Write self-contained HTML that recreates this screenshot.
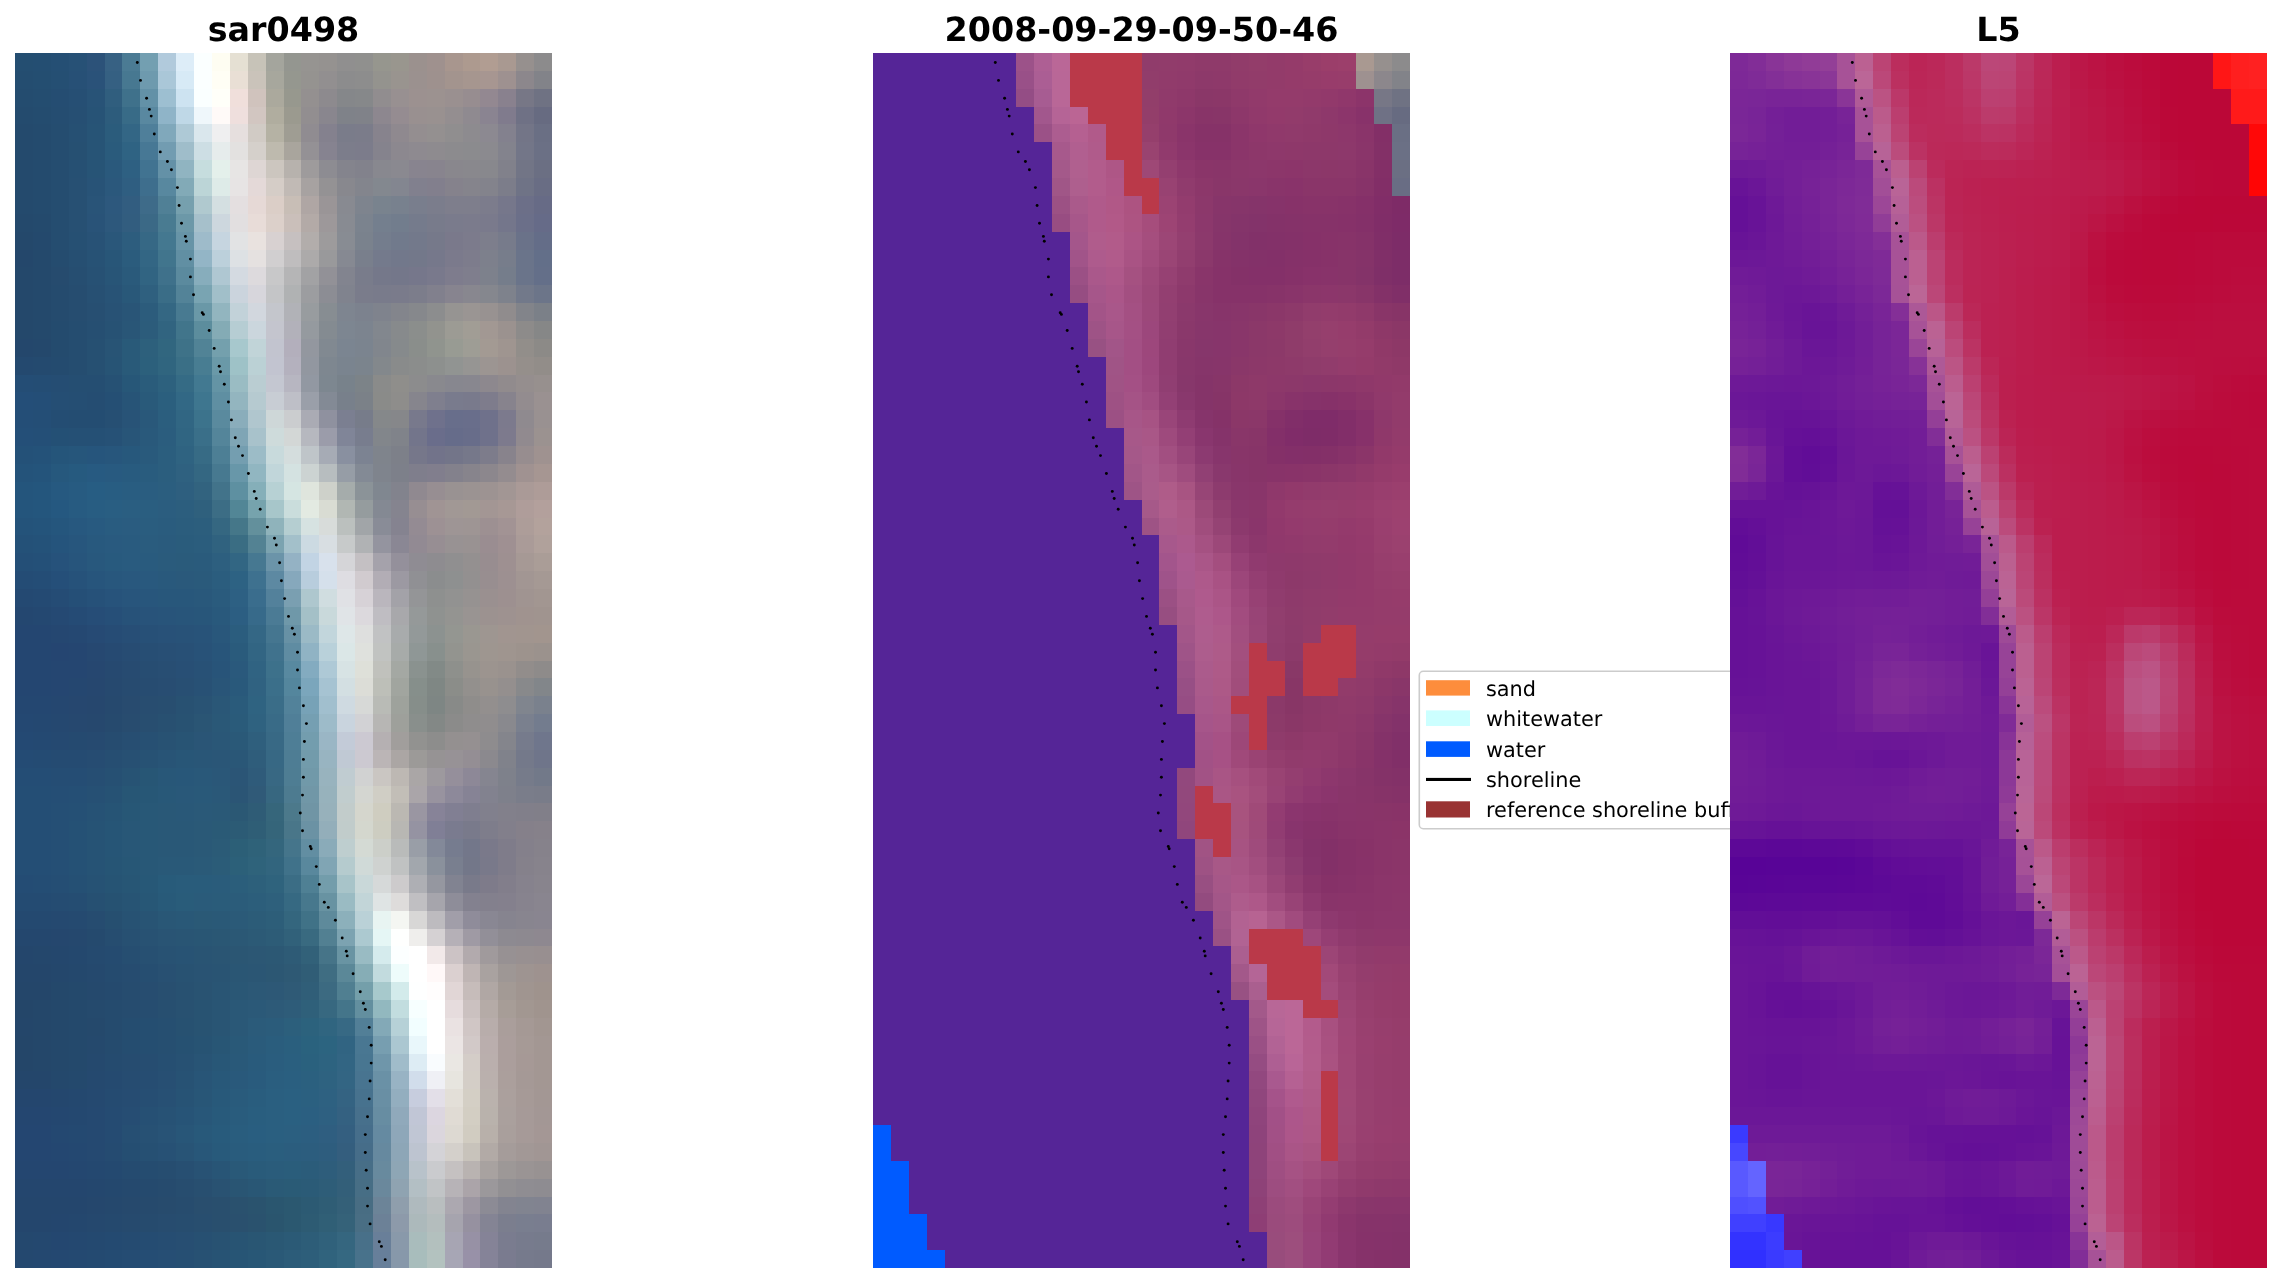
<!DOCTYPE html>
<html><head><meta charset="utf-8"><title>shoreline detection</title>
<style>html,body{margin:0;padding:0;background:#fff}body{width:2281px;height:1283px;overflow:hidden}svg{display:block;will-change:transform;text-rendering:geometricPrecision;-webkit-font-smoothing:antialiased}</style>
</head><body>
<svg width="2281" height="1283" viewBox="0 0 2281 1283">
<rect width="2281" height="1283" fill="#fff"/>
<g font-family="'DejaVu Sans','Liberation Sans',sans-serif" font-weight="bold" font-size="33.33" text-anchor="middle" fill="#000">
<text x="283.5" y="40.7">sar0498</text>
<text x="1141.5" y="40.7">2008-09-29-09-50-46</text>
<text x="1998.5" y="40.7">L5</text>
</g>
<g shape-rendering="crispEdges">
<rect x="15.00" y="53.00" width="18.20" height="18.17" fill="#244e71"/>
<rect x="32.90" y="53.00" width="18.20" height="18.17" fill="#244e72"/>
<rect x="50.80" y="53.00" width="18.20" height="18.17" fill="#254f74"/>
<rect x="68.70" y="53.00" width="18.20" height="18.17" fill="#275176"/>
<rect x="86.60" y="53.00" width="18.20" height="18.17" fill="#2c5279"/>
<rect x="104.50" y="53.00" width="18.20" height="18.17" fill="#376183"/>
<rect x="122.40" y="53.00" width="18.20" height="18.17" fill="#4b7b94"/>
<rect x="140.30" y="53.00" width="18.20" height="18.17" fill="#739fb1"/>
<rect x="158.20" y="53.00" width="18.20" height="18.17" fill="#b1cadc"/>
<rect x="176.10" y="53.00" width="18.20" height="18.17" fill="#ddedf8"/>
<rect x="194.00" y="53.00" width="18.20" height="18.17" fill="#fbffff"/>
<rect x="211.90" y="53.00" width="18.20" height="18.17" fill="#fefdf2"/>
<rect x="229.80" y="53.00" width="18.20" height="18.17" fill="#e5e0d3"/>
<rect x="247.70" y="53.00" width="18.20" height="18.17" fill="#c7c3b8"/>
<rect x="265.60" y="53.00" width="18.20" height="18.17" fill="#a4a59d"/>
<rect x="283.50" y="53.00" width="18.20" height="18.17" fill="#949690"/>
<rect x="301.40" y="53.00" width="18.20" height="18.17" fill="#969491"/>
<rect x="319.30" y="53.00" width="18.20" height="18.17" fill="#959290"/>
<rect x="337.20" y="53.00" width="18.20" height="18.17" fill="#908f8f"/>
<rect x="355.10" y="53.00" width="18.20" height="18.17" fill="#90908e"/>
<rect x="373.00" y="53.00" width="18.20" height="18.17" fill="#96968e"/>
<rect x="390.90" y="53.00" width="18.20" height="18.17" fill="#99968e"/>
<rect x="408.80" y="53.00" width="18.20" height="18.17" fill="#9b918e"/>
<rect x="426.70" y="53.00" width="18.20" height="18.17" fill="#9f918e"/>
<rect x="444.60" y="53.00" width="18.20" height="18.17" fill="#a8968e"/>
<rect x="462.50" y="53.00" width="18.20" height="18.17" fill="#ad9a8f"/>
<rect x="480.40" y="53.00" width="18.20" height="18.17" fill="#b19d92"/>
<rect x="498.30" y="53.00" width="18.20" height="18.17" fill="#a99991"/>
<rect x="516.20" y="53.00" width="18.20" height="18.17" fill="#96908e"/>
<rect x="534.10" y="53.00" width="17.90" height="18.17" fill="#8c8b8c"/>
<rect x="15.00" y="70.87" width="18.20" height="18.17" fill="#244d70"/>
<rect x="32.90" y="70.87" width="18.20" height="18.17" fill="#244e71"/>
<rect x="50.80" y="70.87" width="18.20" height="18.17" fill="#254f73"/>
<rect x="68.70" y="70.87" width="18.20" height="18.17" fill="#275076"/>
<rect x="86.60" y="70.87" width="18.20" height="18.17" fill="#2a5279"/>
<rect x="104.50" y="70.87" width="18.20" height="18.17" fill="#356082"/>
<rect x="122.40" y="70.87" width="18.20" height="18.17" fill="#477891"/>
<rect x="140.30" y="70.87" width="18.20" height="18.17" fill="#6e9aae"/>
<rect x="158.20" y="70.87" width="18.20" height="18.17" fill="#aac7d8"/>
<rect x="176.10" y="70.87" width="18.20" height="18.17" fill="#d7eaf6"/>
<rect x="194.00" y="70.87" width="18.20" height="18.17" fill="#fbffff"/>
<rect x="211.90" y="70.87" width="18.20" height="18.17" fill="#fffef5"/>
<rect x="229.80" y="70.87" width="18.20" height="18.17" fill="#e9dfd5"/>
<rect x="247.70" y="70.87" width="18.20" height="18.17" fill="#cac3ba"/>
<rect x="265.60" y="70.87" width="18.20" height="18.17" fill="#a7a79d"/>
<rect x="283.50" y="70.87" width="18.20" height="18.17" fill="#95978f"/>
<rect x="301.40" y="70.87" width="18.20" height="18.17" fill="#959390"/>
<rect x="319.30" y="70.87" width="18.20" height="18.17" fill="#928f90"/>
<rect x="337.20" y="70.87" width="18.20" height="18.17" fill="#8c8c8d"/>
<rect x="355.10" y="70.87" width="18.20" height="18.17" fill="#8d8d8d"/>
<rect x="373.00" y="70.87" width="18.20" height="18.17" fill="#94938e"/>
<rect x="390.90" y="70.87" width="18.20" height="18.17" fill="#99948f"/>
<rect x="408.80" y="70.87" width="18.20" height="18.17" fill="#9b918f"/>
<rect x="426.70" y="70.87" width="18.20" height="18.17" fill="#9e918e"/>
<rect x="444.60" y="70.87" width="18.20" height="18.17" fill="#a3948e"/>
<rect x="462.50" y="70.87" width="18.20" height="18.17" fill="#a6968f"/>
<rect x="480.40" y="70.87" width="18.20" height="18.17" fill="#a79691"/>
<rect x="498.30" y="70.87" width="18.20" height="18.17" fill="#9e9190"/>
<rect x="516.20" y="70.87" width="18.20" height="18.17" fill="#8c878c"/>
<rect x="534.10" y="70.87" width="17.90" height="18.17" fill="#828389"/>
<rect x="15.00" y="88.74" width="18.20" height="18.17" fill="#244c6f"/>
<rect x="32.90" y="88.74" width="18.20" height="18.17" fill="#244d70"/>
<rect x="50.80" y="88.74" width="18.20" height="18.17" fill="#254d72"/>
<rect x="68.70" y="88.74" width="18.20" height="18.17" fill="#264f74"/>
<rect x="86.60" y="88.74" width="18.20" height="18.17" fill="#285377"/>
<rect x="104.50" y="88.74" width="18.20" height="18.17" fill="#305e7e"/>
<rect x="122.40" y="88.74" width="18.20" height="18.17" fill="#3f718b"/>
<rect x="140.30" y="88.74" width="18.20" height="18.17" fill="#6391a7"/>
<rect x="158.20" y="88.74" width="18.20" height="18.17" fill="#9dbfd1"/>
<rect x="176.10" y="88.74" width="18.20" height="18.17" fill="#cde3f1"/>
<rect x="194.00" y="88.74" width="18.20" height="18.17" fill="#faffff"/>
<rect x="211.90" y="88.74" width="18.20" height="18.17" fill="#fffff9"/>
<rect x="229.80" y="88.74" width="18.20" height="18.17" fill="#f0dfdb"/>
<rect x="247.70" y="88.74" width="18.20" height="18.17" fill="#d0c3bd"/>
<rect x="265.60" y="88.74" width="18.20" height="18.17" fill="#aba99d"/>
<rect x="283.50" y="88.74" width="18.20" height="18.17" fill="#97988e"/>
<rect x="301.40" y="88.74" width="18.20" height="18.17" fill="#949090"/>
<rect x="319.30" y="88.74" width="18.20" height="18.17" fill="#8d8a8e"/>
<rect x="337.20" y="88.74" width="18.20" height="18.17" fill="#85878a"/>
<rect x="355.10" y="88.74" width="18.20" height="18.17" fill="#86888a"/>
<rect x="373.00" y="88.74" width="18.20" height="18.17" fill="#918d8f"/>
<rect x="390.90" y="88.74" width="18.20" height="18.17" fill="#989091"/>
<rect x="408.80" y="88.74" width="18.20" height="18.17" fill="#9c9190"/>
<rect x="426.70" y="88.74" width="18.20" height="18.17" fill="#9c9290"/>
<rect x="444.60" y="88.74" width="18.20" height="18.17" fill="#9a9090"/>
<rect x="462.50" y="88.74" width="18.20" height="18.17" fill="#978d90"/>
<rect x="480.40" y="88.74" width="18.20" height="18.17" fill="#938891"/>
<rect x="498.30" y="88.74" width="18.20" height="18.17" fill="#89818e"/>
<rect x="516.20" y="88.74" width="18.20" height="18.17" fill="#777786"/>
<rect x="534.10" y="88.74" width="17.90" height="18.17" fill="#6f7283"/>
<rect x="15.00" y="106.60" width="18.20" height="18.17" fill="#244b6e"/>
<rect x="32.90" y="106.60" width="18.20" height="18.17" fill="#244c6f"/>
<rect x="50.80" y="106.60" width="18.20" height="18.17" fill="#254d71"/>
<rect x="68.70" y="106.60" width="18.20" height="18.17" fill="#264f73"/>
<rect x="86.60" y="106.60" width="18.20" height="18.17" fill="#275376"/>
<rect x="104.50" y="106.60" width="18.20" height="18.17" fill="#2d5c7c"/>
<rect x="122.40" y="106.60" width="18.20" height="18.17" fill="#386b87"/>
<rect x="140.30" y="106.60" width="18.20" height="18.17" fill="#5988a0"/>
<rect x="158.20" y="106.60" width="18.20" height="18.17" fill="#8fb4c8"/>
<rect x="176.10" y="106.60" width="18.20" height="18.17" fill="#bfd8e7"/>
<rect x="194.00" y="106.60" width="18.20" height="18.17" fill="#eff7fb"/>
<rect x="211.90" y="106.60" width="18.20" height="18.17" fill="#fffaf8"/>
<rect x="229.80" y="106.60" width="18.20" height="18.17" fill="#efdfdd"/>
<rect x="247.70" y="106.60" width="18.20" height="18.17" fill="#d2c6c1"/>
<rect x="265.60" y="106.60" width="18.20" height="18.17" fill="#b0ad9f"/>
<rect x="283.50" y="106.60" width="18.20" height="18.17" fill="#9b9a8f"/>
<rect x="301.40" y="106.60" width="18.20" height="18.17" fill="#928e90"/>
<rect x="319.30" y="106.60" width="18.20" height="18.17" fill="#89868e"/>
<rect x="337.20" y="106.60" width="18.20" height="18.17" fill="#7f8289"/>
<rect x="355.10" y="106.60" width="18.20" height="18.17" fill="#808289"/>
<rect x="373.00" y="106.60" width="18.20" height="18.17" fill="#8d878f"/>
<rect x="390.90" y="106.60" width="18.20" height="18.17" fill="#958c91"/>
<rect x="408.80" y="106.60" width="18.20" height="18.17" fill="#999090"/>
<rect x="426.70" y="106.60" width="18.20" height="18.17" fill="#999190"/>
<rect x="444.60" y="106.60" width="18.20" height="18.17" fill="#948e90"/>
<rect x="462.50" y="106.60" width="18.20" height="18.17" fill="#8f8a90"/>
<rect x="480.40" y="106.60" width="18.20" height="18.17" fill="#8a8491"/>
<rect x="498.30" y="106.60" width="18.20" height="18.17" fill="#807b8d"/>
<rect x="516.20" y="106.60" width="18.20" height="18.17" fill="#6f7185"/>
<rect x="534.10" y="106.60" width="17.90" height="18.17" fill="#676b81"/>
<rect x="15.00" y="124.47" width="18.20" height="18.17" fill="#244a6d"/>
<rect x="32.90" y="124.47" width="18.20" height="18.17" fill="#244b6e"/>
<rect x="50.80" y="124.47" width="18.20" height="18.17" fill="#254d70"/>
<rect x="68.70" y="124.47" width="18.20" height="18.17" fill="#265073"/>
<rect x="86.60" y="124.47" width="18.20" height="18.17" fill="#275476"/>
<rect x="104.50" y="124.47" width="18.20" height="18.17" fill="#2b5c7c"/>
<rect x="122.40" y="124.47" width="18.20" height="18.17" fill="#336685"/>
<rect x="140.30" y="124.47" width="18.20" height="18.17" fill="#4f7f9a"/>
<rect x="158.20" y="124.47" width="18.20" height="18.17" fill="#80a8bb"/>
<rect x="176.10" y="124.47" width="18.20" height="18.17" fill="#aec9d6"/>
<rect x="194.00" y="124.47" width="18.20" height="18.17" fill="#dae7ed"/>
<rect x="211.90" y="124.47" width="18.20" height="18.17" fill="#efeff0"/>
<rect x="229.80" y="124.47" width="18.20" height="18.17" fill="#e6dfde"/>
<rect x="247.70" y="124.47" width="18.20" height="18.17" fill="#d1cbc5"/>
<rect x="265.60" y="124.47" width="18.20" height="18.17" fill="#b5b2a4"/>
<rect x="283.50" y="124.47" width="18.20" height="18.17" fill="#9f9d93"/>
<rect x="301.40" y="124.47" width="18.20" height="18.17" fill="#908c91"/>
<rect x="319.30" y="124.47" width="18.20" height="18.17" fill="#84818e"/>
<rect x="337.20" y="124.47" width="18.20" height="18.17" fill="#7a7c8a"/>
<rect x="355.10" y="124.47" width="18.20" height="18.17" fill="#7b7c8a"/>
<rect x="373.00" y="124.47" width="18.20" height="18.17" fill="#87838d"/>
<rect x="390.90" y="124.47" width="18.20" height="18.17" fill="#8f898f"/>
<rect x="408.80" y="124.47" width="18.20" height="18.17" fill="#948e90"/>
<rect x="426.70" y="124.47" width="18.20" height="18.17" fill="#949090"/>
<rect x="444.60" y="124.47" width="18.20" height="18.17" fill="#908e8f"/>
<rect x="462.50" y="124.47" width="18.20" height="18.17" fill="#8d8b8f"/>
<rect x="480.40" y="124.47" width="18.20" height="18.17" fill="#8c8991"/>
<rect x="498.30" y="124.47" width="18.20" height="18.17" fill="#83818e"/>
<rect x="516.20" y="124.47" width="18.20" height="18.17" fill="#737587"/>
<rect x="534.10" y="124.47" width="17.90" height="18.17" fill="#6a6f84"/>
<rect x="15.00" y="142.34" width="18.20" height="18.17" fill="#244a6d"/>
<rect x="32.90" y="142.34" width="18.20" height="18.17" fill="#244b6e"/>
<rect x="50.80" y="142.34" width="18.20" height="18.17" fill="#254d70"/>
<rect x="68.70" y="142.34" width="18.20" height="18.17" fill="#265072"/>
<rect x="86.60" y="142.34" width="18.20" height="18.17" fill="#275476"/>
<rect x="104.50" y="142.34" width="18.20" height="18.17" fill="#2a5b7c"/>
<rect x="122.40" y="142.34" width="18.20" height="18.17" fill="#2f6383"/>
<rect x="140.30" y="142.34" width="18.20" height="18.17" fill="#477895"/>
<rect x="158.20" y="142.34" width="18.20" height="18.17" fill="#729cb1"/>
<rect x="176.10" y="142.34" width="18.20" height="18.17" fill="#9fbdca"/>
<rect x="194.00" y="142.34" width="18.20" height="18.17" fill="#cddee4"/>
<rect x="211.90" y="142.34" width="18.20" height="18.17" fill="#e6ecec"/>
<rect x="229.80" y="142.34" width="18.20" height="18.17" fill="#e3e1e0"/>
<rect x="247.70" y="142.34" width="18.20" height="18.17" fill="#d5d0cb"/>
<rect x="265.60" y="142.34" width="18.20" height="18.17" fill="#bebaae"/>
<rect x="283.50" y="142.34" width="18.20" height="18.17" fill="#a9a59d"/>
<rect x="301.40" y="142.34" width="18.20" height="18.17" fill="#949195"/>
<rect x="319.30" y="142.34" width="18.20" height="18.17" fill="#868390"/>
<rect x="337.20" y="142.34" width="18.20" height="18.17" fill="#7c7d8b"/>
<rect x="355.10" y="142.34" width="18.20" height="18.17" fill="#7c7c8b"/>
<rect x="373.00" y="142.34" width="18.20" height="18.17" fill="#85838d"/>
<rect x="390.90" y="142.34" width="18.20" height="18.17" fill="#8c888f"/>
<rect x="408.80" y="142.34" width="18.20" height="18.17" fill="#8e8a90"/>
<rect x="426.70" y="142.34" width="18.20" height="18.17" fill="#8e8b8f"/>
<rect x="444.60" y="142.34" width="18.20" height="18.17" fill="#8c8b8e"/>
<rect x="462.50" y="142.34" width="18.20" height="18.17" fill="#8b8b8e"/>
<rect x="480.40" y="142.34" width="18.20" height="18.17" fill="#8b8a8f"/>
<rect x="498.30" y="142.34" width="18.20" height="18.17" fill="#83838d"/>
<rect x="516.20" y="142.34" width="18.20" height="18.17" fill="#737688"/>
<rect x="534.10" y="142.34" width="17.90" height="18.17" fill="#6b7085"/>
<rect x="15.00" y="160.21" width="18.20" height="18.17" fill="#244a6d"/>
<rect x="32.90" y="160.21" width="18.20" height="18.17" fill="#244b6e"/>
<rect x="50.80" y="160.21" width="18.20" height="18.17" fill="#254d70"/>
<rect x="68.70" y="160.21" width="18.20" height="18.17" fill="#265073"/>
<rect x="86.60" y="160.21" width="18.20" height="18.17" fill="#275476"/>
<rect x="104.50" y="160.21" width="18.20" height="18.17" fill="#2a597c"/>
<rect x="122.40" y="160.21" width="18.20" height="18.17" fill="#2e6082"/>
<rect x="140.30" y="160.21" width="18.20" height="18.17" fill="#417391"/>
<rect x="158.20" y="160.21" width="18.20" height="18.17" fill="#6491a7"/>
<rect x="176.10" y="160.21" width="18.20" height="18.17" fill="#90b4c1"/>
<rect x="194.00" y="160.21" width="18.20" height="18.17" fill="#c6ddde"/>
<rect x="211.90" y="160.21" width="18.20" height="18.17" fill="#e4f0eb"/>
<rect x="229.80" y="160.21" width="18.20" height="18.17" fill="#e7e5e4"/>
<rect x="247.70" y="160.21" width="18.20" height="18.17" fill="#ded6d4"/>
<rect x="265.60" y="160.21" width="18.20" height="18.17" fill="#ccc6bf"/>
<rect x="283.50" y="160.21" width="18.20" height="18.17" fill="#b7b2ad"/>
<rect x="301.40" y="160.21" width="18.20" height="18.17" fill="#9e9b9c"/>
<rect x="319.30" y="160.21" width="18.20" height="18.17" fill="#8d8c92"/>
<rect x="337.20" y="160.21" width="18.20" height="18.17" fill="#84848d"/>
<rect x="355.10" y="160.21" width="18.20" height="18.17" fill="#82828c"/>
<rect x="373.00" y="160.21" width="18.20" height="18.17" fill="#88888f"/>
<rect x="390.90" y="160.21" width="18.20" height="18.17" fill="#8a8990"/>
<rect x="408.80" y="160.21" width="18.20" height="18.17" fill="#88848f"/>
<rect x="426.70" y="160.21" width="18.20" height="18.17" fill="#88848e"/>
<rect x="444.60" y="160.21" width="18.20" height="18.17" fill="#89878d"/>
<rect x="462.50" y="160.21" width="18.20" height="18.17" fill="#89888d"/>
<rect x="480.40" y="160.21" width="18.20" height="18.17" fill="#88888d"/>
<rect x="498.30" y="160.21" width="18.20" height="18.17" fill="#81818b"/>
<rect x="516.20" y="160.21" width="18.20" height="18.17" fill="#727586"/>
<rect x="534.10" y="160.21" width="17.90" height="18.17" fill="#6b6f83"/>
<rect x="15.00" y="178.07" width="18.20" height="18.17" fill="#244a6d"/>
<rect x="32.90" y="178.07" width="18.20" height="18.17" fill="#244b6e"/>
<rect x="50.80" y="178.07" width="18.20" height="18.17" fill="#254d70"/>
<rect x="68.70" y="178.07" width="18.20" height="18.17" fill="#275073"/>
<rect x="86.60" y="178.07" width="18.20" height="18.17" fill="#285377"/>
<rect x="104.50" y="178.07" width="18.20" height="18.17" fill="#2b587c"/>
<rect x="122.40" y="178.07" width="18.20" height="18.17" fill="#2f5e81"/>
<rect x="140.30" y="178.07" width="18.20" height="18.17" fill="#3e6e8d"/>
<rect x="158.20" y="178.07" width="18.20" height="18.17" fill="#58889f"/>
<rect x="176.10" y="178.07" width="18.20" height="18.17" fill="#82aab7"/>
<rect x="194.00" y="178.07" width="18.20" height="18.17" fill="#bcd5d7"/>
<rect x="211.90" y="178.07" width="18.20" height="18.17" fill="#deebe8"/>
<rect x="229.80" y="178.07" width="18.20" height="18.17" fill="#e7e4e4"/>
<rect x="247.70" y="178.07" width="18.20" height="18.17" fill="#e4d9d8"/>
<rect x="265.60" y="178.07" width="18.20" height="18.17" fill="#d5cdc7"/>
<rect x="283.50" y="178.07" width="18.20" height="18.17" fill="#c1bab5"/>
<rect x="301.40" y="178.07" width="18.20" height="18.17" fill="#a7a2a1"/>
<rect x="319.30" y="178.07" width="18.20" height="18.17" fill="#949294"/>
<rect x="337.20" y="178.07" width="18.20" height="18.17" fill="#88888e"/>
<rect x="355.10" y="178.07" width="18.20" height="18.17" fill="#83858d"/>
<rect x="373.00" y="178.07" width="18.20" height="18.17" fill="#83888f"/>
<rect x="390.90" y="178.07" width="18.20" height="18.17" fill="#838690"/>
<rect x="408.80" y="178.07" width="18.20" height="18.17" fill="#81808e"/>
<rect x="426.70" y="178.07" width="18.20" height="18.17" fill="#827f8d"/>
<rect x="444.60" y="178.07" width="18.20" height="18.17" fill="#85828c"/>
<rect x="462.50" y="178.07" width="18.20" height="18.17" fill="#85848c"/>
<rect x="480.40" y="178.07" width="18.20" height="18.17" fill="#83838c"/>
<rect x="498.30" y="178.07" width="18.20" height="18.17" fill="#7c7d8a"/>
<rect x="516.20" y="178.07" width="18.20" height="18.17" fill="#6f7386"/>
<rect x="534.10" y="178.07" width="17.90" height="18.17" fill="#696d84"/>
<rect x="15.00" y="195.94" width="18.20" height="18.17" fill="#244a6d"/>
<rect x="32.90" y="195.94" width="18.20" height="18.17" fill="#244b6e"/>
<rect x="50.80" y="195.94" width="18.20" height="18.17" fill="#254d70"/>
<rect x="68.70" y="195.94" width="18.20" height="18.17" fill="#275073"/>
<rect x="86.60" y="195.94" width="18.20" height="18.17" fill="#295478"/>
<rect x="104.50" y="195.94" width="18.20" height="18.17" fill="#2d587d"/>
<rect x="122.40" y="195.94" width="18.20" height="18.17" fill="#325d80"/>
<rect x="140.30" y="195.94" width="18.20" height="18.17" fill="#3e6b89"/>
<rect x="158.20" y="195.94" width="18.20" height="18.17" fill="#508096"/>
<rect x="176.10" y="195.94" width="18.20" height="18.17" fill="#76a0ae"/>
<rect x="194.00" y="195.94" width="18.20" height="18.17" fill="#b0c9cf"/>
<rect x="211.90" y="195.94" width="18.20" height="18.17" fill="#d4dfe1"/>
<rect x="229.80" y="195.94" width="18.20" height="18.17" fill="#e4dfe0"/>
<rect x="247.70" y="195.94" width="18.20" height="18.17" fill="#e6d9d6"/>
<rect x="265.60" y="195.94" width="18.20" height="18.17" fill="#dbcec7"/>
<rect x="283.50" y="195.94" width="18.20" height="18.17" fill="#c8beb6"/>
<rect x="301.40" y="195.94" width="18.20" height="18.17" fill="#afa6a4"/>
<rect x="319.30" y="195.94" width="18.20" height="18.17" fill="#9a9597"/>
<rect x="337.20" y="195.94" width="18.20" height="18.17" fill="#888a91"/>
<rect x="355.10" y="195.94" width="18.20" height="18.17" fill="#7e848e"/>
<rect x="373.00" y="195.94" width="18.20" height="18.17" fill="#79838e"/>
<rect x="390.90" y="195.94" width="18.20" height="18.17" fill="#78818e"/>
<rect x="408.80" y="195.94" width="18.20" height="18.17" fill="#797e8d"/>
<rect x="426.70" y="195.94" width="18.20" height="18.17" fill="#7b7d8c"/>
<rect x="444.60" y="195.94" width="36.10" height="18.17" fill="#7e7e8c"/>
<rect x="480.40" y="195.94" width="18.20" height="18.17" fill="#7c7c8c"/>
<rect x="498.30" y="195.94" width="18.20" height="18.17" fill="#76778b"/>
<rect x="516.20" y="195.94" width="18.20" height="18.17" fill="#6c6f88"/>
<rect x="534.10" y="195.94" width="17.90" height="18.17" fill="#676b86"/>
<rect x="15.00" y="213.81" width="18.20" height="18.17" fill="#24496c"/>
<rect x="32.90" y="213.81" width="18.20" height="18.17" fill="#244a6d"/>
<rect x="50.80" y="213.81" width="18.20" height="18.17" fill="#254d70"/>
<rect x="68.70" y="213.81" width="18.20" height="18.17" fill="#275073"/>
<rect x="86.60" y="213.81" width="18.20" height="18.17" fill="#295378"/>
<rect x="104.50" y="213.81" width="18.20" height="18.17" fill="#2d587c"/>
<rect x="122.40" y="213.81" width="18.20" height="18.17" fill="#325d7f"/>
<rect x="140.30" y="213.81" width="18.20" height="18.17" fill="#3b6986"/>
<rect x="158.20" y="213.81" width="18.20" height="18.17" fill="#497b91"/>
<rect x="176.10" y="213.81" width="18.20" height="18.17" fill="#6c98a8"/>
<rect x="194.00" y="213.81" width="18.20" height="18.17" fill="#a6c0cb"/>
<rect x="211.90" y="213.81" width="18.20" height="18.17" fill="#cdd7de"/>
<rect x="229.80" y="213.81" width="18.20" height="18.17" fill="#e2dfe0"/>
<rect x="247.70" y="213.81" width="18.20" height="18.17" fill="#e8dcd8"/>
<rect x="265.60" y="213.81" width="18.20" height="18.17" fill="#dcd0ca"/>
<rect x="283.50" y="213.81" width="18.20" height="18.17" fill="#cabfba"/>
<rect x="301.40" y="213.81" width="18.20" height="18.17" fill="#b3aaa7"/>
<rect x="319.30" y="213.81" width="18.20" height="18.17" fill="#9d989a"/>
<rect x="337.20" y="213.81" width="18.20" height="18.17" fill="#888b92"/>
<rect x="355.10" y="213.81" width="18.20" height="18.17" fill="#7b838e"/>
<rect x="373.00" y="213.81" width="18.20" height="18.17" fill="#747f8e"/>
<rect x="390.90" y="213.81" width="18.20" height="18.17" fill="#727d8d"/>
<rect x="408.80" y="213.81" width="18.20" height="18.17" fill="#757b8c"/>
<rect x="426.70" y="213.81" width="18.20" height="18.17" fill="#787b8b"/>
<rect x="444.60" y="213.81" width="18.20" height="18.17" fill="#7a7b8c"/>
<rect x="462.50" y="213.81" width="18.20" height="18.17" fill="#7b7b8c"/>
<rect x="480.40" y="213.81" width="18.20" height="18.17" fill="#7a7a8c"/>
<rect x="498.30" y="213.81" width="18.20" height="18.17" fill="#74768b"/>
<rect x="516.20" y="213.81" width="18.20" height="18.17" fill="#6b6f89"/>
<rect x="534.10" y="213.81" width="17.90" height="18.17" fill="#666b88"/>
<rect x="15.00" y="231.68" width="18.20" height="18.17" fill="#24486b"/>
<rect x="32.90" y="231.68" width="18.20" height="18.17" fill="#24496d"/>
<rect x="50.80" y="231.68" width="18.20" height="18.17" fill="#254d70"/>
<rect x="68.70" y="231.68" width="18.20" height="18.17" fill="#265073"/>
<rect x="86.60" y="231.68" width="18.20" height="18.17" fill="#285276"/>
<rect x="104.50" y="231.68" width="18.20" height="18.17" fill="#2a577a"/>
<rect x="122.40" y="231.68" width="18.20" height="18.17" fill="#2d5d7e"/>
<rect x="140.30" y="231.68" width="18.20" height="18.17" fill="#366885"/>
<rect x="158.20" y="231.68" width="18.20" height="18.17" fill="#447890"/>
<rect x="176.10" y="231.68" width="18.20" height="18.17" fill="#6794a7"/>
<rect x="194.00" y="231.68" width="18.20" height="18.17" fill="#9ebbca"/>
<rect x="211.90" y="231.68" width="18.20" height="18.17" fill="#c6d5e0"/>
<rect x="229.80" y="231.68" width="18.20" height="18.17" fill="#e2e3e4"/>
<rect x="247.70" y="231.68" width="18.20" height="18.17" fill="#e9e2df"/>
<rect x="265.60" y="231.68" width="18.20" height="18.17" fill="#d8d1d1"/>
<rect x="283.50" y="231.68" width="18.20" height="18.17" fill="#c6c0c0"/>
<rect x="301.40" y="231.68" width="18.20" height="18.17" fill="#b2adab"/>
<rect x="319.30" y="231.68" width="18.20" height="18.17" fill="#9d9b9c"/>
<rect x="337.20" y="231.68" width="18.20" height="18.17" fill="#888c93"/>
<rect x="355.10" y="231.68" width="18.20" height="18.17" fill="#7a828d"/>
<rect x="373.00" y="231.68" width="18.20" height="18.17" fill="#747d8d"/>
<rect x="390.90" y="231.68" width="18.20" height="18.17" fill="#717a8c"/>
<rect x="408.80" y="231.68" width="18.20" height="18.17" fill="#73798b"/>
<rect x="426.70" y="231.68" width="18.20" height="18.17" fill="#76798a"/>
<rect x="444.60" y="231.68" width="18.20" height="18.17" fill="#7a798b"/>
<rect x="462.50" y="231.68" width="18.20" height="18.17" fill="#7c7b8c"/>
<rect x="480.40" y="231.68" width="18.20" height="18.17" fill="#7d7e8c"/>
<rect x="498.30" y="231.68" width="18.20" height="18.17" fill="#777b8b"/>
<rect x="516.20" y="231.68" width="18.20" height="18.17" fill="#6a7289"/>
<rect x="534.10" y="231.68" width="17.90" height="18.17" fill="#646d88"/>
<rect x="15.00" y="249.54" width="18.20" height="18.17" fill="#24476b"/>
<rect x="32.90" y="249.54" width="18.20" height="18.17" fill="#24496c"/>
<rect x="50.80" y="249.54" width="18.20" height="18.17" fill="#254c6f"/>
<rect x="68.70" y="249.54" width="18.20" height="18.17" fill="#264f72"/>
<rect x="86.60" y="249.54" width="18.20" height="18.17" fill="#275275"/>
<rect x="104.50" y="249.54" width="18.20" height="18.17" fill="#285678"/>
<rect x="122.40" y="249.54" width="18.20" height="18.17" fill="#2b5c7d"/>
<rect x="140.30" y="249.54" width="18.20" height="18.17" fill="#336684"/>
<rect x="158.20" y="249.54" width="18.20" height="18.17" fill="#41758d"/>
<rect x="176.10" y="249.54" width="18.20" height="18.17" fill="#618fa3"/>
<rect x="194.00" y="249.54" width="18.20" height="18.17" fill="#93b5c6"/>
<rect x="211.90" y="249.54" width="18.20" height="18.17" fill="#bcd0db"/>
<rect x="229.80" y="249.54" width="18.20" height="18.17" fill="#dde1e4"/>
<rect x="247.70" y="249.54" width="18.20" height="18.17" fill="#e5e1e0"/>
<rect x="265.60" y="249.54" width="18.20" height="18.17" fill="#d1cfd0"/>
<rect x="283.50" y="249.54" width="18.20" height="18.17" fill="#bfbdbe"/>
<rect x="301.40" y="249.54" width="18.20" height="18.17" fill="#acaaaa"/>
<rect x="319.30" y="249.54" width="18.20" height="18.17" fill="#99999b"/>
<rect x="337.20" y="249.54" width="18.20" height="18.17" fill="#868992"/>
<rect x="355.10" y="249.54" width="18.20" height="18.17" fill="#797f8c"/>
<rect x="373.00" y="249.54" width="18.20" height="18.17" fill="#747a8c"/>
<rect x="390.90" y="249.54" width="18.20" height="18.17" fill="#72788b"/>
<rect x="408.80" y="249.54" width="18.20" height="18.17" fill="#73788a"/>
<rect x="426.70" y="249.54" width="18.20" height="18.17" fill="#76788b"/>
<rect x="444.60" y="249.54" width="18.20" height="18.17" fill="#7b7a8c"/>
<rect x="462.50" y="249.54" width="18.20" height="18.17" fill="#7d7c8c"/>
<rect x="480.40" y="249.54" width="18.20" height="18.17" fill="#7d808c"/>
<rect x="498.30" y="249.54" width="18.20" height="18.17" fill="#777d8b"/>
<rect x="516.20" y="249.54" width="18.20" height="18.17" fill="#6a748a"/>
<rect x="534.10" y="249.54" width="17.90" height="18.17" fill="#636f89"/>
<rect x="15.00" y="267.41" width="18.20" height="18.17" fill="#24486b"/>
<rect x="32.90" y="267.41" width="18.20" height="18.17" fill="#24496c"/>
<rect x="50.80" y="267.41" width="18.20" height="18.17" fill="#264b6e"/>
<rect x="68.70" y="267.41" width="18.20" height="18.17" fill="#264e71"/>
<rect x="86.60" y="267.41" width="18.20" height="18.17" fill="#275174"/>
<rect x="104.50" y="267.41" width="18.20" height="18.17" fill="#285577"/>
<rect x="122.40" y="267.41" width="18.20" height="18.17" fill="#2a5a7b"/>
<rect x="140.30" y="267.41" width="18.20" height="18.17" fill="#316482"/>
<rect x="158.20" y="267.41" width="18.20" height="18.17" fill="#3f718b"/>
<rect x="176.10" y="267.41" width="18.20" height="18.17" fill="#5b8a9e"/>
<rect x="194.00" y="267.41" width="18.20" height="18.17" fill="#87adbc"/>
<rect x="211.90" y="267.41" width="18.20" height="18.17" fill="#afc7d2"/>
<rect x="229.80" y="267.41" width="18.20" height="18.17" fill="#d4dae1"/>
<rect x="247.70" y="267.41" width="18.20" height="18.17" fill="#dddadd"/>
<rect x="265.60" y="267.41" width="18.20" height="18.17" fill="#c8c8c9"/>
<rect x="283.50" y="267.41" width="18.20" height="18.17" fill="#b5b5b6"/>
<rect x="301.40" y="267.41" width="18.20" height="18.17" fill="#a2a2a4"/>
<rect x="319.30" y="267.41" width="18.20" height="18.17" fill="#929197"/>
<rect x="337.20" y="267.41" width="18.20" height="18.17" fill="#82848f"/>
<rect x="355.10" y="267.41" width="18.20" height="18.17" fill="#797c8b"/>
<rect x="373.00" y="267.41" width="18.20" height="18.17" fill="#75788a"/>
<rect x="390.90" y="267.41" width="18.20" height="18.17" fill="#74778a"/>
<rect x="408.80" y="267.41" width="18.20" height="18.17" fill="#76778b"/>
<rect x="426.70" y="267.41" width="18.20" height="18.17" fill="#79798c"/>
<rect x="444.60" y="267.41" width="18.20" height="18.17" fill="#7e7c8d"/>
<rect x="462.50" y="267.41" width="18.20" height="18.17" fill="#7f7e8d"/>
<rect x="480.40" y="267.41" width="18.20" height="18.17" fill="#7d818c"/>
<rect x="498.30" y="267.41" width="18.20" height="18.17" fill="#757d8b"/>
<rect x="516.20" y="267.41" width="18.20" height="18.17" fill="#6a748a"/>
<rect x="534.10" y="267.41" width="17.90" height="18.17" fill="#646f89"/>
<rect x="15.00" y="285.28" width="18.20" height="18.17" fill="#24486b"/>
<rect x="32.90" y="285.28" width="18.20" height="18.17" fill="#24496c"/>
<rect x="50.80" y="285.28" width="18.20" height="18.17" fill="#254b6e"/>
<rect x="68.70" y="285.28" width="18.20" height="18.17" fill="#264d70"/>
<rect x="86.60" y="285.28" width="18.20" height="18.17" fill="#275073"/>
<rect x="104.50" y="285.28" width="18.20" height="18.17" fill="#285376"/>
<rect x="122.40" y="285.28" width="18.20" height="18.17" fill="#295879"/>
<rect x="140.30" y="285.28" width="18.20" height="18.17" fill="#2f607f"/>
<rect x="158.20" y="285.28" width="18.20" height="18.17" fill="#3a6d87"/>
<rect x="176.10" y="285.28" width="18.20" height="18.17" fill="#538398"/>
<rect x="194.00" y="285.28" width="18.20" height="18.17" fill="#79a4b2"/>
<rect x="211.90" y="285.28" width="18.20" height="18.17" fill="#a1bfc9"/>
<rect x="229.80" y="285.28" width="18.20" height="18.17" fill="#cbd4dd"/>
<rect x="247.70" y="285.28" width="18.20" height="18.17" fill="#d7d6dc"/>
<rect x="265.60" y="285.28" width="18.20" height="18.17" fill="#c4c5c7"/>
<rect x="283.50" y="285.28" width="18.20" height="18.17" fill="#b0b2b3"/>
<rect x="301.40" y="285.28" width="18.20" height="18.17" fill="#9c9da0"/>
<rect x="319.30" y="285.28" width="18.20" height="18.17" fill="#8c8d94"/>
<rect x="337.20" y="285.28" width="18.20" height="18.17" fill="#80838e"/>
<rect x="355.10" y="285.28" width="18.20" height="18.17" fill="#7a7c8b"/>
<rect x="373.00" y="285.28" width="18.20" height="18.17" fill="#797b8b"/>
<rect x="390.90" y="285.28" width="18.20" height="18.17" fill="#7a7b8b"/>
<rect x="408.80" y="285.28" width="18.20" height="18.17" fill="#7c7d8b"/>
<rect x="426.70" y="285.28" width="18.20" height="18.17" fill="#81808d"/>
<rect x="444.60" y="285.28" width="18.20" height="18.17" fill="#87848f"/>
<rect x="462.50" y="285.28" width="18.20" height="18.17" fill="#88878f"/>
<rect x="480.40" y="285.28" width="18.20" height="18.17" fill="#85878e"/>
<rect x="498.30" y="285.28" width="18.20" height="18.17" fill="#7e828c"/>
<rect x="516.20" y="285.28" width="18.20" height="18.17" fill="#72798a"/>
<rect x="534.10" y="285.28" width="17.90" height="18.17" fill="#6c7589"/>
<rect x="15.00" y="303.15" width="18.20" height="18.17" fill="#24486b"/>
<rect x="32.90" y="303.15" width="18.20" height="18.17" fill="#24496c"/>
<rect x="50.80" y="303.15" width="18.20" height="18.17" fill="#254b6e"/>
<rect x="68.70" y="303.15" width="18.20" height="18.17" fill="#264d70"/>
<rect x="86.60" y="303.15" width="18.20" height="18.17" fill="#274f72"/>
<rect x="104.50" y="303.15" width="18.20" height="18.17" fill="#285275"/>
<rect x="122.40" y="303.15" width="18.20" height="18.17" fill="#295577"/>
<rect x="140.30" y="303.15" width="18.20" height="18.17" fill="#2c5c7c"/>
<rect x="158.20" y="303.15" width="18.20" height="18.17" fill="#346783"/>
<rect x="176.10" y="303.15" width="18.20" height="18.17" fill="#487a91"/>
<rect x="194.00" y="303.15" width="18.20" height="18.17" fill="#6a98a7"/>
<rect x="211.90" y="303.15" width="18.20" height="18.17" fill="#92b5bf"/>
<rect x="229.80" y="303.15" width="18.20" height="18.17" fill="#c2d2d9"/>
<rect x="247.70" y="303.15" width="18.20" height="18.17" fill="#d2d7de"/>
<rect x="265.60" y="303.15" width="18.20" height="18.17" fill="#c4c6cc"/>
<rect x="283.50" y="303.15" width="18.20" height="18.17" fill="#b1b2b7"/>
<rect x="301.40" y="303.15" width="18.20" height="18.17" fill="#989c9f"/>
<rect x="319.30" y="303.15" width="18.20" height="18.17" fill="#878d92"/>
<rect x="337.20" y="303.15" width="18.20" height="18.17" fill="#7e8590"/>
<rect x="355.10" y="303.15" width="18.20" height="18.17" fill="#7c828e"/>
<rect x="373.00" y="303.15" width="18.20" height="18.17" fill="#7f838d"/>
<rect x="390.90" y="303.15" width="18.20" height="18.17" fill="#83858c"/>
<rect x="408.80" y="303.15" width="18.20" height="18.17" fill="#86888c"/>
<rect x="426.70" y="303.15" width="18.20" height="18.17" fill="#8c8d8e"/>
<rect x="444.60" y="303.15" width="18.20" height="18.17" fill="#969492"/>
<rect x="462.50" y="303.15" width="18.20" height="18.17" fill="#9a9593"/>
<rect x="480.40" y="303.15" width="18.20" height="18.17" fill="#989291"/>
<rect x="498.30" y="303.15" width="18.20" height="18.17" fill="#908c8d"/>
<rect x="516.20" y="303.15" width="18.20" height="18.17" fill="#82848a"/>
<rect x="534.10" y="303.15" width="17.90" height="18.17" fill="#7b8088"/>
<rect x="15.00" y="321.01" width="18.20" height="18.17" fill="#24486b"/>
<rect x="32.90" y="321.01" width="18.20" height="18.17" fill="#24496c"/>
<rect x="50.80" y="321.01" width="18.20" height="18.17" fill="#244b6e"/>
<rect x="68.70" y="321.01" width="18.20" height="18.17" fill="#254d70"/>
<rect x="86.60" y="321.01" width="18.20" height="18.17" fill="#264f72"/>
<rect x="104.50" y="321.01" width="18.20" height="18.17" fill="#275274"/>
<rect x="122.40" y="321.01" width="18.20" height="18.17" fill="#295677"/>
<rect x="140.30" y="321.01" width="18.20" height="18.17" fill="#2c5c7b"/>
<rect x="158.20" y="321.01" width="18.20" height="18.17" fill="#316480"/>
<rect x="176.10" y="321.01" width="18.20" height="18.17" fill="#41758b"/>
<rect x="194.00" y="321.01" width="18.20" height="18.17" fill="#5c8d9d"/>
<rect x="211.90" y="321.01" width="18.20" height="18.17" fill="#84abb5"/>
<rect x="229.80" y="321.01" width="18.20" height="18.17" fill="#b6cdd3"/>
<rect x="247.70" y="321.01" width="18.20" height="18.17" fill="#cbd6dd"/>
<rect x="265.60" y="321.01" width="18.20" height="18.17" fill="#c4c5ce"/>
<rect x="283.50" y="321.01" width="18.20" height="18.17" fill="#b2b1ba"/>
<rect x="301.40" y="321.01" width="18.20" height="18.17" fill="#959a9f"/>
<rect x="319.30" y="321.01" width="18.20" height="18.17" fill="#848b91"/>
<rect x="337.20" y="321.01" width="18.20" height="18.17" fill="#7d8691"/>
<rect x="355.10" y="321.01" width="18.20" height="18.17" fill="#7c848f"/>
<rect x="373.00" y="321.01" width="18.20" height="18.17" fill="#82878e"/>
<rect x="390.90" y="321.01" width="18.20" height="18.17" fill="#878a8c"/>
<rect x="408.80" y="321.01" width="18.20" height="18.17" fill="#8b8e8c"/>
<rect x="426.70" y="321.01" width="18.20" height="18.17" fill="#92938e"/>
<rect x="444.60" y="321.01" width="18.20" height="18.17" fill="#9c9b94"/>
<rect x="462.50" y="321.01" width="18.20" height="18.17" fill="#a19d95"/>
<rect x="480.40" y="321.01" width="18.20" height="18.17" fill="#a29893"/>
<rect x="498.30" y="321.01" width="18.20" height="18.17" fill="#9b928f"/>
<rect x="516.20" y="321.01" width="18.20" height="18.17" fill="#8d8b8a"/>
<rect x="534.10" y="321.01" width="17.90" height="18.17" fill="#868787"/>
<rect x="15.00" y="338.88" width="18.20" height="18.17" fill="#24476c"/>
<rect x="32.90" y="338.88" width="18.20" height="18.17" fill="#24486c"/>
<rect x="50.80" y="338.88" width="18.20" height="18.17" fill="#244b6e"/>
<rect x="68.70" y="338.88" width="18.20" height="18.17" fill="#254d70"/>
<rect x="86.60" y="338.88" width="18.20" height="18.17" fill="#265072"/>
<rect x="104.50" y="338.88" width="18.20" height="18.17" fill="#285475"/>
<rect x="122.40" y="338.88" width="18.20" height="18.17" fill="#295a79"/>
<rect x="140.30" y="338.88" width="18.20" height="18.17" fill="#2d607c"/>
<rect x="158.20" y="338.88" width="18.20" height="18.17" fill="#31667f"/>
<rect x="176.10" y="338.88" width="18.20" height="18.17" fill="#3e7288"/>
<rect x="194.00" y="338.88" width="18.20" height="18.17" fill="#518396"/>
<rect x="211.90" y="338.88" width="18.20" height="18.17" fill="#74a0ad"/>
<rect x="229.80" y="338.88" width="18.20" height="18.17" fill="#a7c8cd"/>
<rect x="247.70" y="338.88" width="18.20" height="18.17" fill="#c1d4d8"/>
<rect x="265.60" y="338.88" width="18.20" height="18.17" fill="#c2c4cf"/>
<rect x="283.50" y="338.88" width="18.20" height="18.17" fill="#b3afbc"/>
<rect x="301.40" y="338.88" width="18.20" height="18.17" fill="#93979f"/>
<rect x="319.30" y="338.88" width="18.20" height="18.17" fill="#818991"/>
<rect x="337.20" y="338.88" width="18.20" height="18.17" fill="#7b8591"/>
<rect x="355.10" y="338.88" width="18.20" height="18.17" fill="#7b848f"/>
<rect x="373.00" y="338.88" width="18.20" height="18.17" fill="#81868d"/>
<rect x="390.90" y="338.88" width="18.20" height="18.17" fill="#868a8c"/>
<rect x="408.80" y="338.88" width="18.20" height="18.17" fill="#8a8e8b"/>
<rect x="426.70" y="338.88" width="18.20" height="18.17" fill="#90948e"/>
<rect x="444.60" y="338.88" width="18.20" height="18.17" fill="#989b93"/>
<rect x="462.50" y="338.88" width="18.20" height="18.17" fill="#9e9d95"/>
<rect x="480.40" y="338.88" width="18.20" height="18.17" fill="#a39a93"/>
<rect x="498.30" y="338.88" width="18.20" height="18.17" fill="#9f9590"/>
<rect x="516.20" y="338.88" width="18.20" height="18.17" fill="#928e8a"/>
<rect x="534.10" y="338.88" width="17.90" height="18.17" fill="#8c8a87"/>
<rect x="15.00" y="356.75" width="18.20" height="18.17" fill="#24496f"/>
<rect x="32.90" y="356.75" width="18.20" height="18.17" fill="#244a6f"/>
<rect x="50.80" y="356.75" width="18.20" height="18.17" fill="#244b6f"/>
<rect x="68.70" y="356.75" width="18.20" height="18.17" fill="#254d70"/>
<rect x="86.60" y="356.75" width="18.20" height="18.17" fill="#265072"/>
<rect x="104.50" y="356.75" width="18.20" height="18.17" fill="#275475"/>
<rect x="122.40" y="356.75" width="18.20" height="18.17" fill="#295a79"/>
<rect x="140.30" y="356.75" width="18.20" height="18.17" fill="#2c607c"/>
<rect x="158.20" y="356.75" width="18.20" height="18.17" fill="#30657f"/>
<rect x="176.10" y="356.75" width="18.20" height="18.17" fill="#3a6f86"/>
<rect x="194.00" y="356.75" width="18.20" height="18.17" fill="#487d92"/>
<rect x="211.90" y="356.75" width="18.20" height="18.17" fill="#6a99a8"/>
<rect x="229.80" y="356.75" width="18.20" height="18.17" fill="#9ec2c7"/>
<rect x="247.70" y="356.75" width="18.20" height="18.17" fill="#bbd1d5"/>
<rect x="265.60" y="356.75" width="18.20" height="18.17" fill="#c2c4d0"/>
<rect x="283.50" y="356.75" width="18.20" height="18.17" fill="#b4b1be"/>
<rect x="301.40" y="356.75" width="18.20" height="18.17" fill="#9297a0"/>
<rect x="319.30" y="356.75" width="18.20" height="18.17" fill="#7e8790"/>
<rect x="337.20" y="356.75" width="18.20" height="18.17" fill="#7a848f"/>
<rect x="355.10" y="356.75" width="18.20" height="18.17" fill="#7b848d"/>
<rect x="373.00" y="356.75" width="18.20" height="18.17" fill="#83888c"/>
<rect x="390.90" y="356.75" width="18.20" height="18.17" fill="#898b8b"/>
<rect x="408.80" y="356.75" width="18.20" height="18.17" fill="#8b8d8c"/>
<rect x="426.70" y="356.75" width="18.20" height="18.17" fill="#8d908e"/>
<rect x="444.60" y="356.75" width="18.20" height="18.17" fill="#919492"/>
<rect x="462.50" y="356.75" width="18.20" height="18.17" fill="#969593"/>
<rect x="480.40" y="356.75" width="18.20" height="18.17" fill="#9c9592"/>
<rect x="498.30" y="356.75" width="18.20" height="18.17" fill="#9c928f"/>
<rect x="516.20" y="356.75" width="18.20" height="18.17" fill="#958f8b"/>
<rect x="534.10" y="356.75" width="17.90" height="18.17" fill="#928d89"/>
<rect x="15.00" y="374.62" width="18.20" height="18.17" fill="#244d75"/>
<rect x="32.90" y="374.62" width="18.20" height="18.17" fill="#244d74"/>
<rect x="50.80" y="374.62" width="18.20" height="18.17" fill="#254d73"/>
<rect x="68.70" y="374.62" width="36.10" height="18.17" fill="#254e72"/>
<rect x="104.50" y="374.62" width="18.20" height="18.17" fill="#265174"/>
<rect x="122.40" y="374.62" width="18.20" height="18.17" fill="#275778"/>
<rect x="140.30" y="374.62" width="18.20" height="18.17" fill="#2a5c7b"/>
<rect x="158.20" y="374.62" width="18.20" height="18.17" fill="#2d617e"/>
<rect x="176.10" y="374.62" width="18.20" height="18.17" fill="#356b85"/>
<rect x="194.00" y="374.62" width="18.20" height="18.17" fill="#427991"/>
<rect x="211.90" y="374.62" width="18.20" height="18.17" fill="#6494a5"/>
<rect x="229.80" y="374.62" width="18.20" height="18.17" fill="#9abcc3"/>
<rect x="247.70" y="374.62" width="18.20" height="18.17" fill="#bacdd2"/>
<rect x="265.60" y="374.62" width="18.20" height="18.17" fill="#c4c7d1"/>
<rect x="283.50" y="374.62" width="18.20" height="18.17" fill="#b7b6c1"/>
<rect x="301.40" y="374.62" width="18.20" height="18.17" fill="#9298a2"/>
<rect x="319.30" y="374.62" width="18.20" height="18.17" fill="#7d8790"/>
<rect x="337.20" y="374.62" width="18.20" height="18.17" fill="#78828b"/>
<rect x="355.10" y="374.62" width="18.20" height="18.17" fill="#7c8388"/>
<rect x="373.00" y="374.62" width="18.20" height="18.17" fill="#8a8b8a"/>
<rect x="390.90" y="374.62" width="18.20" height="18.17" fill="#8f8e8b"/>
<rect x="408.80" y="374.62" width="18.20" height="18.17" fill="#8c8c8d"/>
<rect x="426.70" y="374.62" width="18.20" height="18.17" fill="#89898e"/>
<rect x="444.60" y="374.62" width="18.20" height="18.17" fill="#87878f"/>
<rect x="462.50" y="374.62" width="18.20" height="18.17" fill="#88878f"/>
<rect x="480.40" y="374.62" width="18.20" height="18.17" fill="#8d888e"/>
<rect x="498.30" y="374.62" width="18.20" height="18.17" fill="#918b8d"/>
<rect x="516.20" y="374.62" width="18.20" height="18.17" fill="#958e8e"/>
<rect x="534.10" y="374.62" width="17.90" height="18.17" fill="#97908e"/>
<rect x="15.00" y="392.49" width="18.20" height="18.17" fill="#244e78"/>
<rect x="32.90" y="392.49" width="18.20" height="18.17" fill="#244e77"/>
<rect x="50.80" y="392.49" width="18.20" height="18.17" fill="#254e74"/>
<rect x="68.70" y="392.49" width="18.20" height="18.17" fill="#254e73"/>
<rect x="86.60" y="392.49" width="18.20" height="18.17" fill="#254d72"/>
<rect x="104.50" y="392.49" width="18.20" height="18.17" fill="#254f74"/>
<rect x="122.40" y="392.49" width="18.20" height="18.17" fill="#275477"/>
<rect x="140.30" y="392.49" width="18.20" height="18.17" fill="#295a7a"/>
<rect x="158.20" y="392.49" width="18.20" height="18.17" fill="#2b5f7e"/>
<rect x="176.10" y="392.49" width="18.20" height="18.17" fill="#326885"/>
<rect x="194.00" y="392.49" width="18.20" height="18.17" fill="#3e768f"/>
<rect x="211.90" y="392.49" width="18.20" height="18.17" fill="#5f8fa2"/>
<rect x="229.80" y="392.49" width="18.20" height="18.17" fill="#93b5bf"/>
<rect x="247.70" y="392.49" width="18.20" height="18.17" fill="#b6cad0"/>
<rect x="265.60" y="392.49" width="18.20" height="18.17" fill="#c8cdd4"/>
<rect x="283.50" y="392.49" width="18.20" height="18.17" fill="#bebfc7"/>
<rect x="301.40" y="392.49" width="18.20" height="18.17" fill="#9a9fa9"/>
<rect x="319.30" y="392.49" width="18.20" height="18.17" fill="#838a95"/>
<rect x="337.20" y="392.49" width="18.20" height="18.17" fill="#78808b"/>
<rect x="355.10" y="392.49" width="18.20" height="18.17" fill="#7b8188"/>
<rect x="373.00" y="392.49" width="18.20" height="18.17" fill="#8a8b89"/>
<rect x="390.90" y="392.49" width="18.20" height="18.17" fill="#8e8d8b"/>
<rect x="408.80" y="392.49" width="18.20" height="18.17" fill="#86858d"/>
<rect x="426.70" y="392.49" width="18.20" height="18.17" fill="#7f7f8e"/>
<rect x="444.60" y="392.49" width="18.20" height="18.17" fill="#797b8d"/>
<rect x="462.50" y="392.49" width="18.20" height="18.17" fill="#797a8c"/>
<rect x="480.40" y="392.49" width="18.20" height="18.17" fill="#7e7c8c"/>
<rect x="498.30" y="392.49" width="18.20" height="18.17" fill="#87838d"/>
<rect x="516.20" y="392.49" width="18.20" height="18.17" fill="#938c8f"/>
<rect x="534.10" y="392.49" width="17.90" height="18.17" fill="#9a9191"/>
<rect x="15.00" y="410.35" width="18.20" height="18.17" fill="#244e77"/>
<rect x="32.90" y="410.35" width="18.20" height="18.17" fill="#244e76"/>
<rect x="50.80" y="410.35" width="18.20" height="18.17" fill="#244d73"/>
<rect x="68.70" y="410.35" width="36.10" height="18.17" fill="#244d72"/>
<rect x="104.50" y="410.35" width="18.20" height="18.17" fill="#264f73"/>
<rect x="122.40" y="410.35" width="18.20" height="18.17" fill="#285377"/>
<rect x="140.30" y="410.35" width="18.20" height="18.17" fill="#29587a"/>
<rect x="158.20" y="410.35" width="18.20" height="18.17" fill="#2b5e7e"/>
<rect x="176.10" y="410.35" width="18.20" height="18.17" fill="#316683"/>
<rect x="194.00" y="410.35" width="18.20" height="18.17" fill="#3c738c"/>
<rect x="211.90" y="410.35" width="18.20" height="18.17" fill="#5a8a9e"/>
<rect x="229.80" y="410.35" width="18.20" height="18.17" fill="#8aadbb"/>
<rect x="247.70" y="410.35" width="18.20" height="18.17" fill="#b0c6ce"/>
<rect x="265.60" y="410.35" width="18.20" height="18.17" fill="#ced7d8"/>
<rect x="283.50" y="410.35" width="18.20" height="18.17" fill="#cbcdcf"/>
<rect x="301.40" y="410.35" width="18.20" height="18.17" fill="#aaabb4"/>
<rect x="319.30" y="410.35" width="18.20" height="18.17" fill="#8f919f"/>
<rect x="337.20" y="410.35" width="18.20" height="18.17" fill="#7b7f91"/>
<rect x="355.10" y="410.35" width="18.20" height="18.17" fill="#777c8a"/>
<rect x="373.00" y="410.35" width="18.20" height="18.17" fill="#85888a"/>
<rect x="390.90" y="410.35" width="18.20" height="18.17" fill="#86878a"/>
<rect x="408.80" y="410.35" width="18.20" height="18.17" fill="#78798c"/>
<rect x="426.70" y="410.35" width="18.20" height="18.17" fill="#6f718c"/>
<rect x="444.60" y="410.35" width="18.20" height="18.17" fill="#686e8b"/>
<rect x="462.50" y="410.35" width="18.20" height="18.17" fill="#696e8b"/>
<rect x="480.40" y="410.35" width="18.20" height="18.17" fill="#6f718b"/>
<rect x="498.30" y="410.35" width="18.20" height="18.17" fill="#7c7a8d"/>
<rect x="516.20" y="410.35" width="18.20" height="18.17" fill="#8f8a8f"/>
<rect x="534.10" y="410.35" width="17.90" height="18.17" fill="#999191"/>
<rect x="15.00" y="428.22" width="18.20" height="18.17" fill="#244f78"/>
<rect x="32.90" y="428.22" width="18.20" height="18.17" fill="#244f77"/>
<rect x="50.80" y="428.22" width="18.20" height="18.17" fill="#245075"/>
<rect x="68.70" y="428.22" width="36.10" height="18.17" fill="#255075"/>
<rect x="104.50" y="428.22" width="18.20" height="18.17" fill="#265176"/>
<rect x="122.40" y="428.22" width="18.20" height="18.17" fill="#285578"/>
<rect x="140.30" y="428.22" width="18.20" height="18.17" fill="#29597b"/>
<rect x="158.20" y="428.22" width="18.20" height="18.17" fill="#2b5d7e"/>
<rect x="176.10" y="428.22" width="18.20" height="18.17" fill="#306582"/>
<rect x="194.00" y="428.22" width="18.20" height="18.17" fill="#3a6f89"/>
<rect x="211.90" y="428.22" width="18.20" height="18.17" fill="#54859a"/>
<rect x="229.80" y="428.22" width="18.20" height="18.17" fill="#7fa5b5"/>
<rect x="247.70" y="428.22" width="18.20" height="18.17" fill="#a8c2cb"/>
<rect x="265.60" y="428.22" width="18.20" height="18.17" fill="#cedbdb"/>
<rect x="283.50" y="428.22" width="18.20" height="18.17" fill="#d3d7d6"/>
<rect x="301.40" y="428.22" width="18.20" height="18.17" fill="#b6b8bf"/>
<rect x="319.30" y="428.22" width="18.20" height="18.17" fill="#9b9caa"/>
<rect x="337.20" y="428.22" width="18.20" height="18.17" fill="#808598"/>
<rect x="355.10" y="428.22" width="18.20" height="18.17" fill="#787d8e"/>
<rect x="373.00" y="428.22" width="18.20" height="18.17" fill="#82868b"/>
<rect x="390.90" y="428.22" width="18.20" height="18.17" fill="#80838a"/>
<rect x="408.80" y="428.22" width="18.20" height="18.17" fill="#73758b"/>
<rect x="426.70" y="428.22" width="18.20" height="18.17" fill="#6a6d8b"/>
<rect x="444.60" y="428.22" width="18.20" height="18.17" fill="#666c8a"/>
<rect x="462.50" y="428.22" width="18.20" height="18.17" fill="#686d8a"/>
<rect x="480.40" y="428.22" width="18.20" height="18.17" fill="#6f718b"/>
<rect x="498.30" y="428.22" width="18.20" height="18.17" fill="#7d7a8d"/>
<rect x="516.20" y="428.22" width="18.20" height="18.17" fill="#918a8f"/>
<rect x="534.10" y="428.22" width="17.90" height="18.17" fill="#9b9290"/>
<rect x="15.00" y="446.09" width="18.20" height="18.17" fill="#245178"/>
<rect x="32.90" y="446.09" width="18.20" height="18.17" fill="#245279"/>
<rect x="50.80" y="446.09" width="18.20" height="18.17" fill="#25557a"/>
<rect x="68.70" y="446.09" width="18.20" height="18.17" fill="#26567b"/>
<rect x="86.60" y="446.09" width="18.20" height="18.17" fill="#26557c"/>
<rect x="104.50" y="446.09" width="18.20" height="18.17" fill="#27567c"/>
<rect x="122.40" y="446.09" width="18.20" height="18.17" fill="#27587c"/>
<rect x="140.30" y="446.09" width="18.20" height="18.17" fill="#295a7c"/>
<rect x="158.20" y="446.09" width="18.20" height="18.17" fill="#2b5e7e"/>
<rect x="176.10" y="446.09" width="18.20" height="18.17" fill="#2f6381"/>
<rect x="194.00" y="446.09" width="18.20" height="18.17" fill="#376b85"/>
<rect x="211.90" y="446.09" width="18.20" height="18.17" fill="#4d7f95"/>
<rect x="229.80" y="446.09" width="18.20" height="18.17" fill="#749eb0"/>
<rect x="247.70" y="446.09" width="18.20" height="18.17" fill="#9cbcc7"/>
<rect x="265.60" y="446.09" width="18.20" height="18.17" fill="#c8dadc"/>
<rect x="283.50" y="446.09" width="18.20" height="18.17" fill="#d4dddd"/>
<rect x="301.40" y="446.09" width="18.20" height="18.17" fill="#bfc5c9"/>
<rect x="319.30" y="446.09" width="18.20" height="18.17" fill="#a6abb5"/>
<rect x="337.20" y="446.09" width="18.20" height="18.17" fill="#8990a0"/>
<rect x="355.10" y="446.09" width="18.20" height="18.17" fill="#7c8392"/>
<rect x="373.00" y="446.09" width="18.20" height="18.17" fill="#7f848c"/>
<rect x="390.90" y="446.09" width="18.20" height="18.17" fill="#7d8089"/>
<rect x="408.80" y="446.09" width="18.20" height="18.17" fill="#76778a"/>
<rect x="426.70" y="446.09" width="18.20" height="18.17" fill="#72738a"/>
<rect x="444.60" y="446.09" width="18.20" height="18.17" fill="#737589"/>
<rect x="462.50" y="446.09" width="18.20" height="18.17" fill="#76788a"/>
<rect x="480.40" y="446.09" width="18.20" height="18.17" fill="#7d7c8b"/>
<rect x="498.30" y="446.09" width="18.20" height="18.17" fill="#88838c"/>
<rect x="516.20" y="446.09" width="18.20" height="18.17" fill="#978d8f"/>
<rect x="534.10" y="446.09" width="17.90" height="18.17" fill="#9f9290"/>
<rect x="15.00" y="463.96" width="18.20" height="18.17" fill="#24537a"/>
<rect x="32.90" y="463.96" width="18.20" height="18.17" fill="#24547b"/>
<rect x="50.80" y="463.96" width="18.20" height="18.17" fill="#26587d"/>
<rect x="68.70" y="463.96" width="18.20" height="18.17" fill="#265a7f"/>
<rect x="86.60" y="463.96" width="18.20" height="18.17" fill="#275a81"/>
<rect x="104.50" y="463.96" width="18.20" height="18.17" fill="#285a80"/>
<rect x="122.40" y="463.96" width="18.20" height="18.17" fill="#285b7f"/>
<rect x="140.30" y="463.96" width="18.20" height="18.17" fill="#295c7e"/>
<rect x="158.20" y="463.96" width="18.20" height="18.17" fill="#2b5e7e"/>
<rect x="176.10" y="463.96" width="18.20" height="18.17" fill="#2f6180"/>
<rect x="194.00" y="463.96" width="18.20" height="18.17" fill="#346782"/>
<rect x="211.90" y="463.96" width="18.20" height="18.17" fill="#477990"/>
<rect x="229.80" y="463.96" width="18.20" height="18.17" fill="#6897a9"/>
<rect x="247.70" y="463.96" width="18.20" height="18.17" fill="#91b6c1"/>
<rect x="265.60" y="463.96" width="18.20" height="18.17" fill="#c1d6da"/>
<rect x="283.50" y="463.96" width="18.20" height="18.17" fill="#d4e2e1"/>
<rect x="301.40" y="463.96" width="18.20" height="18.17" fill="#ccd3d2"/>
<rect x="319.30" y="463.96" width="18.20" height="18.17" fill="#b7bdbf"/>
<rect x="337.20" y="463.96" width="18.20" height="18.17" fill="#969da6"/>
<rect x="355.10" y="463.96" width="18.20" height="18.17" fill="#838a95"/>
<rect x="373.00" y="463.96" width="18.20" height="18.17" fill="#7f848d"/>
<rect x="390.90" y="463.96" width="18.20" height="18.17" fill="#7d808a"/>
<rect x="408.80" y="463.96" width="18.20" height="18.17" fill="#7f7e8c"/>
<rect x="426.70" y="463.96" width="18.20" height="18.17" fill="#817e8d"/>
<rect x="444.60" y="463.96" width="18.20" height="18.17" fill="#83818c"/>
<rect x="462.50" y="463.96" width="18.20" height="18.17" fill="#87848c"/>
<rect x="480.40" y="463.96" width="18.20" height="18.17" fill="#8c878d"/>
<rect x="498.30" y="463.96" width="18.20" height="18.17" fill="#948c8f"/>
<rect x="516.20" y="463.96" width="18.20" height="18.17" fill="#a09291"/>
<rect x="534.10" y="463.96" width="17.90" height="18.17" fill="#a69692"/>
<rect x="15.00" y="481.82" width="18.20" height="18.17" fill="#24557c"/>
<rect x="32.90" y="481.82" width="18.20" height="18.17" fill="#24567d"/>
<rect x="50.80" y="481.82" width="18.20" height="18.17" fill="#265980"/>
<rect x="68.70" y="481.82" width="18.20" height="18.17" fill="#275b81"/>
<rect x="86.60" y="481.82" width="18.20" height="18.17" fill="#275d83"/>
<rect x="104.50" y="481.82" width="18.20" height="18.17" fill="#285d82"/>
<rect x="122.40" y="481.82" width="18.20" height="18.17" fill="#295d81"/>
<rect x="140.30" y="481.82" width="18.20" height="18.17" fill="#2a5d80"/>
<rect x="158.20" y="481.82" width="18.20" height="18.17" fill="#2b5e7f"/>
<rect x="176.10" y="481.82" width="18.20" height="18.17" fill="#2e5f7f"/>
<rect x="194.00" y="481.82" width="18.20" height="18.17" fill="#32637f"/>
<rect x="211.90" y="481.82" width="18.20" height="18.17" fill="#42738a"/>
<rect x="229.80" y="481.82" width="18.20" height="18.17" fill="#5e90a1"/>
<rect x="247.70" y="481.82" width="18.20" height="18.17" fill="#85afb9"/>
<rect x="265.60" y="481.82" width="18.20" height="18.17" fill="#b7d1d4"/>
<rect x="283.50" y="481.82" width="18.20" height="18.17" fill="#d5e5e2"/>
<rect x="301.40" y="481.82" width="18.20" height="18.17" fill="#dfe5dd"/>
<rect x="319.30" y="481.82" width="18.20" height="18.17" fill="#ced1ca"/>
<rect x="337.20" y="481.82" width="18.20" height="18.17" fill="#a5acab"/>
<rect x="355.10" y="481.82" width="18.20" height="18.17" fill="#8b9398"/>
<rect x="373.00" y="481.82" width="18.20" height="18.17" fill="#808790"/>
<rect x="390.90" y="481.82" width="18.20" height="18.17" fill="#82838d"/>
<rect x="408.80" y="481.82" width="18.20" height="18.17" fill="#908990"/>
<rect x="426.70" y="481.82" width="18.20" height="18.17" fill="#978e92"/>
<rect x="444.60" y="481.82" width="18.20" height="18.17" fill="#999292"/>
<rect x="462.50" y="481.82" width="18.20" height="18.17" fill="#9b9392"/>
<rect x="480.40" y="481.82" width="18.20" height="18.17" fill="#9d9392"/>
<rect x="498.30" y="481.82" width="18.20" height="18.17" fill="#a29694"/>
<rect x="516.20" y="481.82" width="18.20" height="18.17" fill="#aa9a97"/>
<rect x="534.10" y="481.82" width="17.90" height="18.17" fill="#ae9c98"/>
<rect x="15.00" y="499.69" width="18.20" height="18.17" fill="#24557c"/>
<rect x="32.90" y="499.69" width="18.20" height="18.17" fill="#24567d"/>
<rect x="50.80" y="499.69" width="18.20" height="18.17" fill="#255880"/>
<rect x="68.70" y="499.69" width="18.20" height="18.17" fill="#275b81"/>
<rect x="86.60" y="499.69" width="18.20" height="18.17" fill="#285d82"/>
<rect x="104.50" y="499.69" width="18.20" height="18.17" fill="#295e82"/>
<rect x="122.40" y="499.69" width="18.20" height="18.17" fill="#2a5e81"/>
<rect x="140.30" y="499.69" width="18.20" height="18.17" fill="#2a5e80"/>
<rect x="158.20" y="499.69" width="18.20" height="18.17" fill="#2b5d7f"/>
<rect x="176.10" y="499.69" width="18.20" height="18.17" fill="#2c5e7e"/>
<rect x="194.00" y="499.69" width="18.20" height="18.17" fill="#2f607d"/>
<rect x="211.90" y="499.69" width="18.20" height="18.17" fill="#3c6d85"/>
<rect x="229.80" y="499.69" width="18.20" height="18.17" fill="#528696"/>
<rect x="247.70" y="499.69" width="18.20" height="18.17" fill="#76a3ad"/>
<rect x="265.60" y="499.69" width="18.20" height="18.17" fill="#a7c6ca"/>
<rect x="283.50" y="499.69" width="18.20" height="18.17" fill="#cadddc"/>
<rect x="301.40" y="499.69" width="18.20" height="18.17" fill="#e3eae2"/>
<rect x="319.30" y="499.69" width="18.20" height="18.17" fill="#d9dcd3"/>
<rect x="337.20" y="499.69" width="18.20" height="18.17" fill="#b1b7b3"/>
<rect x="355.10" y="499.69" width="18.20" height="18.17" fill="#959c9e"/>
<rect x="373.00" y="499.69" width="18.20" height="18.17" fill="#848993"/>
<rect x="390.90" y="499.69" width="18.20" height="18.17" fill="#85848f"/>
<rect x="408.80" y="499.69" width="18.20" height="18.17" fill="#978e92"/>
<rect x="426.70" y="499.69" width="18.20" height="18.17" fill="#a09494"/>
<rect x="444.60" y="499.69" width="18.20" height="18.17" fill="#a19895"/>
<rect x="462.50" y="499.69" width="18.20" height="18.17" fill="#a29994"/>
<rect x="480.40" y="499.69" width="18.20" height="18.17" fill="#a39694"/>
<rect x="498.30" y="499.69" width="18.20" height="18.17" fill="#a79895"/>
<rect x="516.20" y="499.69" width="18.20" height="18.17" fill="#af9d9a"/>
<rect x="534.10" y="499.69" width="17.90" height="18.17" fill="#b3a09c"/>
<rect x="15.00" y="517.56" width="18.20" height="18.17" fill="#24537a"/>
<rect x="32.90" y="517.56" width="18.20" height="18.17" fill="#24547b"/>
<rect x="50.80" y="517.56" width="18.20" height="18.17" fill="#25567d"/>
<rect x="68.70" y="517.56" width="18.20" height="18.17" fill="#27587f"/>
<rect x="86.60" y="517.56" width="18.20" height="18.17" fill="#285a80"/>
<rect x="104.50" y="517.56" width="18.20" height="18.17" fill="#295c80"/>
<rect x="122.40" y="517.56" width="18.20" height="18.17" fill="#2a5c80"/>
<rect x="140.30" y="517.56" width="18.20" height="18.17" fill="#2a5d7f"/>
<rect x="158.20" y="517.56" width="18.20" height="18.17" fill="#2a5c7e"/>
<rect x="176.10" y="517.56" width="18.20" height="18.17" fill="#2b5d7d"/>
<rect x="194.00" y="517.56" width="18.20" height="18.17" fill="#2c5e7d"/>
<rect x="211.90" y="517.56" width="18.20" height="18.17" fill="#356781"/>
<rect x="229.80" y="517.56" width="18.20" height="18.17" fill="#457789"/>
<rect x="247.70" y="517.56" width="18.20" height="18.17" fill="#63909c"/>
<rect x="265.60" y="517.56" width="18.20" height="18.17" fill="#8fb3bb"/>
<rect x="283.50" y="517.56" width="18.20" height="18.17" fill="#b5ced1"/>
<rect x="301.40" y="517.56" width="18.20" height="18.17" fill="#d6e2e1"/>
<rect x="319.30" y="517.56" width="18.20" height="18.17" fill="#d8dcda"/>
<rect x="337.20" y="517.56" width="18.20" height="18.17" fill="#bbc0be"/>
<rect x="355.10" y="517.56" width="18.20" height="18.17" fill="#a1a5a8"/>
<rect x="373.00" y="517.56" width="18.20" height="18.17" fill="#898c97"/>
<rect x="390.90" y="517.56" width="18.20" height="18.17" fill="#858390"/>
<rect x="408.80" y="517.56" width="18.20" height="18.17" fill="#948b93"/>
<rect x="426.70" y="517.56" width="18.20" height="18.17" fill="#9d9194"/>
<rect x="444.60" y="517.56" width="18.20" height="18.17" fill="#9e9595"/>
<rect x="462.50" y="517.56" width="18.20" height="18.17" fill="#9e9594"/>
<rect x="480.40" y="517.56" width="18.20" height="18.17" fill="#9d9092"/>
<rect x="498.30" y="517.56" width="18.20" height="18.17" fill="#a29394"/>
<rect x="516.20" y="517.56" width="18.20" height="18.17" fill="#ad9d99"/>
<rect x="534.10" y="517.56" width="17.90" height="18.17" fill="#b3a29c"/>
<rect x="15.00" y="535.43" width="18.20" height="18.17" fill="#245178"/>
<rect x="32.90" y="535.43" width="18.20" height="18.17" fill="#245279"/>
<rect x="50.80" y="535.43" width="18.20" height="18.17" fill="#25547c"/>
<rect x="68.70" y="535.43" width="18.20" height="18.17" fill="#27567d"/>
<rect x="86.60" y="535.43" width="18.20" height="18.17" fill="#28597e"/>
<rect x="104.50" y="535.43" width="18.20" height="18.17" fill="#295a7f"/>
<rect x="122.40" y="535.43" width="18.20" height="18.17" fill="#295b7f"/>
<rect x="140.30" y="535.43" width="18.20" height="18.17" fill="#2a5c7e"/>
<rect x="158.20" y="535.43" width="18.20" height="18.17" fill="#2a5b7d"/>
<rect x="176.10" y="535.43" width="18.20" height="18.17" fill="#2a5c7c"/>
<rect x="194.00" y="535.43" width="18.20" height="18.17" fill="#2b5d7d"/>
<rect x="211.90" y="535.43" width="18.20" height="18.17" fill="#30627f"/>
<rect x="229.80" y="535.43" width="18.20" height="18.17" fill="#3a6d83"/>
<rect x="247.70" y="535.43" width="18.20" height="18.17" fill="#538293"/>
<rect x="265.60" y="535.43" width="18.20" height="18.17" fill="#7ba3b0"/>
<rect x="283.50" y="535.43" width="18.20" height="18.17" fill="#a3c0ca"/>
<rect x="301.40" y="535.43" width="18.20" height="18.17" fill="#ccdae2"/>
<rect x="319.30" y="535.43" width="18.20" height="18.17" fill="#d8dee2"/>
<rect x="337.20" y="535.43" width="18.20" height="18.17" fill="#c7caca"/>
<rect x="355.10" y="535.43" width="18.20" height="18.17" fill="#b0b2b4"/>
<rect x="373.00" y="535.43" width="18.20" height="18.17" fill="#94949f"/>
<rect x="390.90" y="535.43" width="18.20" height="18.17" fill="#8a8794"/>
<rect x="408.80" y="535.43" width="18.20" height="18.17" fill="#928a93"/>
<rect x="426.70" y="535.43" width="18.20" height="18.17" fill="#978e93"/>
<rect x="444.60" y="535.43" width="18.20" height="18.17" fill="#989293"/>
<rect x="462.50" y="535.43" width="18.20" height="18.17" fill="#999292"/>
<rect x="480.40" y="535.43" width="18.20" height="18.17" fill="#9a8d91"/>
<rect x="498.30" y="535.43" width="18.20" height="18.17" fill="#9f9092"/>
<rect x="516.20" y="535.43" width="18.20" height="18.17" fill="#aa9b98"/>
<rect x="534.10" y="535.43" width="17.90" height="18.17" fill="#b0a19b"/>
<rect x="15.00" y="553.29" width="18.20" height="18.17" fill="#244f77"/>
<rect x="32.90" y="553.29" width="18.20" height="18.17" fill="#245078"/>
<rect x="50.80" y="553.29" width="18.20" height="18.17" fill="#26527b"/>
<rect x="68.70" y="553.29" width="18.20" height="18.17" fill="#27557c"/>
<rect x="86.60" y="553.29" width="18.20" height="18.17" fill="#28587d"/>
<rect x="104.50" y="553.29" width="18.20" height="18.17" fill="#285a7e"/>
<rect x="122.40" y="553.29" width="18.20" height="18.17" fill="#295b7f"/>
<rect x="140.30" y="553.29" width="18.20" height="18.17" fill="#295b7e"/>
<rect x="158.20" y="553.29" width="18.20" height="18.17" fill="#2a5b7c"/>
<rect x="176.10" y="553.29" width="18.20" height="18.17" fill="#2a5b7b"/>
<rect x="194.00" y="553.29" width="18.20" height="18.17" fill="#2a5b7c"/>
<rect x="211.90" y="553.29" width="18.20" height="18.17" fill="#2d5f7f"/>
<rect x="229.80" y="553.29" width="18.20" height="18.17" fill="#326683"/>
<rect x="247.70" y="553.29" width="18.20" height="18.17" fill="#467891"/>
<rect x="265.60" y="553.29" width="18.20" height="18.17" fill="#6b94a9"/>
<rect x="283.50" y="553.29" width="18.20" height="18.17" fill="#94b2c4"/>
<rect x="301.40" y="553.29" width="18.20" height="18.17" fill="#c2d4e4"/>
<rect x="319.30" y="553.29" width="18.20" height="18.17" fill="#d8e1ec"/>
<rect x="337.20" y="553.29" width="18.20" height="18.17" fill="#d5d5d8"/>
<rect x="355.10" y="553.29" width="18.20" height="18.17" fill="#c4c0c3"/>
<rect x="373.00" y="553.29" width="18.20" height="18.17" fill="#a5a2ab"/>
<rect x="390.90" y="553.29" width="18.20" height="18.17" fill="#94909b"/>
<rect x="408.80" y="553.29" width="18.20" height="18.17" fill="#8f8c93"/>
<rect x="426.70" y="553.29" width="18.20" height="18.17" fill="#8e8c90"/>
<rect x="444.60" y="553.29" width="18.20" height="18.17" fill="#908f90"/>
<rect x="462.50" y="553.29" width="18.20" height="18.17" fill="#949090"/>
<rect x="480.40" y="553.29" width="18.20" height="18.17" fill="#988d90"/>
<rect x="498.30" y="553.29" width="18.20" height="18.17" fill="#9e9091"/>
<rect x="516.20" y="553.29" width="18.20" height="18.17" fill="#a69995"/>
<rect x="534.10" y="553.29" width="17.90" height="18.17" fill="#aa9d97"/>
<rect x="15.00" y="571.16" width="18.20" height="18.17" fill="#244c75"/>
<rect x="32.90" y="571.16" width="18.20" height="18.17" fill="#244d76"/>
<rect x="50.80" y="571.16" width="18.20" height="18.17" fill="#254f79"/>
<rect x="68.70" y="571.16" width="18.20" height="18.17" fill="#26527a"/>
<rect x="86.60" y="571.16" width="18.20" height="18.17" fill="#27557c"/>
<rect x="104.50" y="571.16" width="18.20" height="18.17" fill="#28577d"/>
<rect x="122.40" y="571.16" width="18.20" height="18.17" fill="#29587e"/>
<rect x="140.30" y="571.16" width="18.20" height="18.17" fill="#29597e"/>
<rect x="158.20" y="571.16" width="18.20" height="18.17" fill="#29597c"/>
<rect x="176.10" y="571.16" width="18.20" height="18.17" fill="#2a597b"/>
<rect x="194.00" y="571.16" width="18.20" height="18.17" fill="#2a5a7b"/>
<rect x="211.90" y="571.16" width="18.20" height="18.17" fill="#2b5d7e"/>
<rect x="229.80" y="571.16" width="18.20" height="18.17" fill="#2d6283"/>
<rect x="247.70" y="571.16" width="18.20" height="18.17" fill="#3e718f"/>
<rect x="265.60" y="571.16" width="18.20" height="18.17" fill="#5d89a2"/>
<rect x="283.50" y="571.16" width="18.20" height="18.17" fill="#86a8bc"/>
<rect x="301.40" y="571.16" width="18.20" height="18.17" fill="#b8cddd"/>
<rect x="319.30" y="571.16" width="18.20" height="18.17" fill="#d5e0eb"/>
<rect x="337.20" y="571.16" width="18.20" height="18.17" fill="#dedde2"/>
<rect x="355.10" y="571.16" width="18.20" height="18.17" fill="#d1cbcf"/>
<rect x="373.00" y="571.16" width="18.20" height="18.17" fill="#b2adb5"/>
<rect x="390.90" y="571.16" width="18.20" height="18.17" fill="#9c99a2"/>
<rect x="408.80" y="571.16" width="18.20" height="18.17" fill="#909094"/>
<rect x="426.70" y="571.16" width="18.20" height="18.17" fill="#8b8d8e"/>
<rect x="444.60" y="571.16" width="18.20" height="18.17" fill="#8e9090"/>
<rect x="462.50" y="571.16" width="18.20" height="18.17" fill="#939090"/>
<rect x="480.40" y="571.16" width="18.20" height="18.17" fill="#988e90"/>
<rect x="498.30" y="571.16" width="18.20" height="18.17" fill="#9d9091"/>
<rect x="516.20" y="571.16" width="18.20" height="18.17" fill="#a29693"/>
<rect x="534.10" y="571.16" width="17.90" height="18.17" fill="#a59994"/>
<rect x="15.00" y="589.03" width="18.20" height="18.17" fill="#244972"/>
<rect x="32.90" y="589.03" width="18.20" height="18.17" fill="#244a73"/>
<rect x="50.80" y="589.03" width="18.20" height="18.17" fill="#254c75"/>
<rect x="68.70" y="589.03" width="18.20" height="18.17" fill="#254f77"/>
<rect x="86.60" y="589.03" width="18.20" height="18.17" fill="#265179"/>
<rect x="104.50" y="589.03" width="18.20" height="18.17" fill="#27537b"/>
<rect x="122.40" y="589.03" width="18.20" height="18.17" fill="#28557c"/>
<rect x="140.30" y="589.03" width="18.20" height="18.17" fill="#28567c"/>
<rect x="158.20" y="589.03" width="36.10" height="18.17" fill="#28577b"/>
<rect x="194.00" y="589.03" width="18.20" height="18.17" fill="#29587b"/>
<rect x="211.90" y="589.03" width="18.20" height="18.17" fill="#2a5b7d"/>
<rect x="229.80" y="589.03" width="18.20" height="18.17" fill="#2d6083"/>
<rect x="247.70" y="589.03" width="18.20" height="18.17" fill="#3a6d8d"/>
<rect x="265.60" y="589.03" width="18.20" height="18.17" fill="#53819b"/>
<rect x="283.50" y="589.03" width="18.20" height="18.17" fill="#7a9fb1"/>
<rect x="301.40" y="589.03" width="18.20" height="18.17" fill="#aec7ce"/>
<rect x="319.30" y="589.03" width="18.20" height="18.17" fill="#d0dde0"/>
<rect x="337.20" y="589.03" width="18.20" height="18.17" fill="#e0e1e5"/>
<rect x="355.10" y="589.03" width="18.20" height="18.17" fill="#d7d2d7"/>
<rect x="373.00" y="589.03" width="18.20" height="18.17" fill="#bab6bd"/>
<rect x="390.90" y="589.03" width="18.20" height="18.17" fill="#a3a2a8"/>
<rect x="408.80" y="589.03" width="18.20" height="18.17" fill="#949597"/>
<rect x="426.70" y="589.03" width="18.20" height="18.17" fill="#8e908f"/>
<rect x="444.60" y="589.03" width="18.20" height="18.17" fill="#929291"/>
<rect x="462.50" y="589.03" width="18.20" height="18.17" fill="#969291"/>
<rect x="480.40" y="589.03" width="18.20" height="18.17" fill="#9a9090"/>
<rect x="498.30" y="589.03" width="18.20" height="18.17" fill="#9d9090"/>
<rect x="516.20" y="589.03" width="18.20" height="18.17" fill="#a09491"/>
<rect x="534.10" y="589.03" width="17.90" height="18.17" fill="#a29691"/>
<rect x="15.00" y="606.90" width="18.20" height="18.17" fill="#244770"/>
<rect x="32.90" y="606.90" width="18.20" height="18.17" fill="#244871"/>
<rect x="50.80" y="606.90" width="18.20" height="18.17" fill="#254973"/>
<rect x="68.70" y="606.90" width="18.20" height="18.17" fill="#254b75"/>
<rect x="86.60" y="606.90" width="18.20" height="18.17" fill="#264d77"/>
<rect x="104.50" y="606.90" width="18.20" height="18.17" fill="#264f78"/>
<rect x="122.40" y="606.90" width="18.20" height="18.17" fill="#275279"/>
<rect x="140.30" y="606.90" width="18.20" height="18.17" fill="#28537a"/>
<rect x="158.20" y="606.90" width="18.20" height="18.17" fill="#28547a"/>
<rect x="176.10" y="606.90" width="18.20" height="18.17" fill="#28557a"/>
<rect x="194.00" y="606.90" width="18.20" height="18.17" fill="#28567a"/>
<rect x="211.90" y="606.90" width="18.20" height="18.17" fill="#29597c"/>
<rect x="229.80" y="606.90" width="18.20" height="18.17" fill="#2c5e82"/>
<rect x="247.70" y="606.90" width="18.20" height="18.17" fill="#376a8a"/>
<rect x="265.60" y="606.90" width="18.20" height="18.17" fill="#4b7b95"/>
<rect x="283.50" y="606.90" width="18.20" height="18.17" fill="#6f98a9"/>
<rect x="301.40" y="606.90" width="18.20" height="18.17" fill="#a4c0c7"/>
<rect x="319.30" y="606.90" width="18.20" height="18.17" fill="#c9d9db"/>
<rect x="337.20" y="606.90" width="18.20" height="18.17" fill="#e0e4e7"/>
<rect x="355.10" y="606.90" width="18.20" height="18.17" fill="#dcd9dd"/>
<rect x="373.00" y="606.90" width="18.20" height="18.17" fill="#bfbdc2"/>
<rect x="390.90" y="606.90" width="18.20" height="18.17" fill="#a8a8ab"/>
<rect x="408.80" y="606.90" width="18.20" height="18.17" fill="#959999"/>
<rect x="426.70" y="606.90" width="18.20" height="18.17" fill="#8f9290"/>
<rect x="444.60" y="606.90" width="18.20" height="18.17" fill="#949491"/>
<rect x="462.50" y="606.90" width="18.20" height="18.17" fill="#999492"/>
<rect x="480.40" y="606.90" width="18.20" height="18.17" fill="#9c9290"/>
<rect x="498.30" y="606.90" width="18.20" height="18.17" fill="#9e9290"/>
<rect x="516.20" y="606.90" width="18.20" height="18.17" fill="#a0938f"/>
<rect x="534.10" y="606.90" width="17.90" height="18.17" fill="#a0948f"/>
<rect x="15.00" y="624.76" width="36.10" height="18.17" fill="#244671"/>
<rect x="50.80" y="624.76" width="18.20" height="18.17" fill="#254771"/>
<rect x="68.70" y="624.76" width="18.20" height="18.17" fill="#254872"/>
<rect x="86.60" y="624.76" width="18.20" height="18.17" fill="#264a74"/>
<rect x="104.50" y="624.76" width="18.20" height="18.17" fill="#264c75"/>
<rect x="122.40" y="624.76" width="18.20" height="18.17" fill="#274e76"/>
<rect x="140.30" y="624.76" width="18.20" height="18.17" fill="#275077"/>
<rect x="158.20" y="624.76" width="18.20" height="18.17" fill="#285178"/>
<rect x="176.10" y="624.76" width="18.20" height="18.17" fill="#285278"/>
<rect x="194.00" y="624.76" width="18.20" height="18.17" fill="#285379"/>
<rect x="211.90" y="624.76" width="18.20" height="18.17" fill="#29577b"/>
<rect x="229.80" y="624.76" width="18.20" height="18.17" fill="#2b5d7e"/>
<rect x="247.70" y="624.76" width="18.20" height="18.17" fill="#346785"/>
<rect x="265.60" y="624.76" width="18.20" height="18.17" fill="#457690"/>
<rect x="283.50" y="624.76" width="18.20" height="18.17" fill="#6791a5"/>
<rect x="301.40" y="624.76" width="18.20" height="18.17" fill="#9bbac6"/>
<rect x="319.30" y="624.76" width="18.20" height="18.17" fill="#c2d6dc"/>
<rect x="337.20" y="624.76" width="18.20" height="18.17" fill="#dee7e8"/>
<rect x="355.10" y="624.76" width="18.20" height="18.17" fill="#dedfde"/>
<rect x="373.00" y="624.76" width="18.20" height="18.17" fill="#c1c2c3"/>
<rect x="390.90" y="624.76" width="18.20" height="18.17" fill="#a8abac"/>
<rect x="408.80" y="624.76" width="18.20" height="18.17" fill="#939999"/>
<rect x="426.70" y="624.76" width="18.20" height="18.17" fill="#8c9290"/>
<rect x="444.60" y="624.76" width="18.20" height="18.17" fill="#949691"/>
<rect x="462.50" y="624.76" width="18.20" height="18.17" fill="#9a9791"/>
<rect x="480.40" y="624.76" width="18.20" height="18.17" fill="#9e9691"/>
<rect x="498.30" y="624.76" width="18.20" height="18.17" fill="#a19590"/>
<rect x="516.20" y="624.76" width="18.20" height="18.17" fill="#a1958f"/>
<rect x="534.10" y="624.76" width="17.90" height="18.17" fill="#a2958e"/>
<rect x="15.00" y="642.63" width="36.10" height="18.17" fill="#244671"/>
<rect x="50.80" y="642.63" width="18.20" height="18.17" fill="#254571"/>
<rect x="68.70" y="642.63" width="18.20" height="18.17" fill="#254671"/>
<rect x="86.60" y="642.63" width="18.20" height="18.17" fill="#264871"/>
<rect x="104.50" y="642.63" width="18.20" height="18.17" fill="#264a72"/>
<rect x="122.40" y="642.63" width="18.20" height="18.17" fill="#274c73"/>
<rect x="140.30" y="642.63" width="18.20" height="18.17" fill="#274e74"/>
<rect x="158.20" y="642.63" width="18.20" height="18.17" fill="#284f75"/>
<rect x="176.10" y="642.63" width="18.20" height="18.17" fill="#285076"/>
<rect x="194.00" y="642.63" width="18.20" height="18.17" fill="#285278"/>
<rect x="211.90" y="642.63" width="18.20" height="18.17" fill="#28557a"/>
<rect x="229.80" y="642.63" width="18.20" height="18.17" fill="#2a5b7c"/>
<rect x="247.70" y="642.63" width="18.20" height="18.17" fill="#326583"/>
<rect x="265.60" y="642.63" width="18.20" height="18.17" fill="#40728d"/>
<rect x="283.50" y="642.63" width="18.20" height="18.17" fill="#5f8ca2"/>
<rect x="301.40" y="642.63" width="18.20" height="18.17" fill="#90b3c4"/>
<rect x="319.30" y="642.63" width="18.20" height="18.17" fill="#b9d1da"/>
<rect x="337.20" y="642.63" width="18.20" height="18.17" fill="#dbe7e7"/>
<rect x="355.10" y="642.63" width="18.20" height="18.17" fill="#dfe1dd"/>
<rect x="373.00" y="642.63" width="18.20" height="18.17" fill="#c1c3c1"/>
<rect x="390.90" y="642.63" width="18.20" height="18.17" fill="#a7aba9"/>
<rect x="408.80" y="642.63" width="18.20" height="18.17" fill="#8f9796"/>
<rect x="426.70" y="642.63" width="18.20" height="18.17" fill="#88908d"/>
<rect x="444.60" y="642.63" width="18.20" height="18.17" fill="#93948f"/>
<rect x="462.50" y="642.63" width="18.20" height="18.17" fill="#9a9690"/>
<rect x="480.40" y="642.63" width="18.20" height="18.17" fill="#9e9690"/>
<rect x="498.30" y="642.63" width="18.20" height="18.17" fill="#9f958f"/>
<rect x="516.20" y="642.63" width="18.20" height="18.17" fill="#9d938d"/>
<rect x="534.10" y="642.63" width="17.90" height="18.17" fill="#9b928d"/>
<rect x="15.00" y="660.50" width="36.10" height="18.17" fill="#244671"/>
<rect x="50.80" y="660.50" width="36.10" height="18.17" fill="#254671"/>
<rect x="86.60" y="660.50" width="18.20" height="18.17" fill="#264770"/>
<rect x="104.50" y="660.50" width="18.20" height="18.17" fill="#264970"/>
<rect x="122.40" y="660.50" width="18.20" height="18.17" fill="#274b71"/>
<rect x="140.30" y="660.50" width="18.20" height="18.17" fill="#274d72"/>
<rect x="158.20" y="660.50" width="18.20" height="18.17" fill="#284e73"/>
<rect x="176.10" y="660.50" width="18.20" height="18.17" fill="#284f75"/>
<rect x="194.00" y="660.50" width="18.20" height="18.17" fill="#285176"/>
<rect x="211.90" y="660.50" width="18.20" height="18.17" fill="#285479"/>
<rect x="229.80" y="660.50" width="18.20" height="18.17" fill="#2a597c"/>
<rect x="247.70" y="660.50" width="18.20" height="18.17" fill="#306382"/>
<rect x="265.60" y="660.50" width="18.20" height="18.17" fill="#3d718b"/>
<rect x="283.50" y="660.50" width="18.20" height="18.17" fill="#5889a0"/>
<rect x="301.40" y="660.50" width="18.20" height="18.17" fill="#83abc0"/>
<rect x="319.30" y="660.50" width="18.20" height="18.17" fill="#aec9d6"/>
<rect x="337.20" y="660.50" width="18.20" height="18.17" fill="#d7e3e4"/>
<rect x="355.10" y="660.50" width="18.20" height="18.17" fill="#dee0d9"/>
<rect x="373.00" y="660.50" width="18.20" height="18.17" fill="#c0c1bc"/>
<rect x="390.90" y="660.50" width="18.20" height="18.17" fill="#a4a8a3"/>
<rect x="408.80" y="660.50" width="18.20" height="18.17" fill="#8a928f"/>
<rect x="426.70" y="660.50" width="18.20" height="18.17" fill="#828a87"/>
<rect x="444.60" y="660.50" width="18.20" height="18.17" fill="#8e908c"/>
<rect x="462.50" y="660.50" width="18.20" height="18.17" fill="#97938e"/>
<rect x="480.40" y="660.50" width="18.20" height="18.17" fill="#9c948f"/>
<rect x="498.30" y="660.50" width="18.20" height="18.17" fill="#9a928e"/>
<rect x="516.20" y="660.50" width="18.20" height="18.17" fill="#928d8b"/>
<rect x="534.10" y="660.50" width="17.90" height="18.17" fill="#8e8b8a"/>
<rect x="15.00" y="678.37" width="36.10" height="18.17" fill="#244671"/>
<rect x="50.80" y="678.37" width="18.20" height="18.17" fill="#254671"/>
<rect x="68.70" y="678.37" width="18.20" height="18.17" fill="#254770"/>
<rect x="86.60" y="678.37" width="18.20" height="18.17" fill="#26476f"/>
<rect x="104.50" y="678.37" width="18.20" height="18.17" fill="#26496f"/>
<rect x="122.40" y="678.37" width="18.20" height="18.17" fill="#274b70"/>
<rect x="140.30" y="678.37" width="18.20" height="18.17" fill="#274c71"/>
<rect x="158.20" y="678.37" width="18.20" height="18.17" fill="#284d72"/>
<rect x="176.10" y="678.37" width="18.20" height="18.17" fill="#284f73"/>
<rect x="194.00" y="678.37" width="18.20" height="18.17" fill="#285175"/>
<rect x="211.90" y="678.37" width="18.20" height="18.17" fill="#295578"/>
<rect x="229.80" y="678.37" width="18.20" height="18.17" fill="#29597b"/>
<rect x="247.70" y="678.37" width="18.20" height="18.17" fill="#306281"/>
<rect x="265.60" y="678.37" width="18.20" height="18.17" fill="#3b6f8a"/>
<rect x="283.50" y="678.37" width="18.20" height="18.17" fill="#54869d"/>
<rect x="301.40" y="678.37" width="18.20" height="18.17" fill="#7ba6bc"/>
<rect x="319.30" y="678.37" width="18.20" height="18.17" fill="#a6c3d2"/>
<rect x="337.20" y="678.37" width="18.20" height="18.17" fill="#d3dfe2"/>
<rect x="355.10" y="678.37" width="18.20" height="18.17" fill="#dcddd7"/>
<rect x="373.00" y="678.37" width="18.20" height="18.17" fill="#bdbfb8"/>
<rect x="390.90" y="678.37" width="18.20" height="18.17" fill="#a1a59f"/>
<rect x="408.80" y="678.37" width="18.20" height="18.17" fill="#868f8b"/>
<rect x="426.70" y="678.37" width="18.20" height="18.17" fill="#7f8784"/>
<rect x="444.60" y="678.37" width="18.20" height="18.17" fill="#8b8d89"/>
<rect x="462.50" y="678.37" width="18.20" height="18.17" fill="#93908d"/>
<rect x="480.40" y="678.37" width="18.20" height="18.17" fill="#98928e"/>
<rect x="498.30" y="678.37" width="18.20" height="18.17" fill="#948f8e"/>
<rect x="516.20" y="678.37" width="18.20" height="18.17" fill="#88898b"/>
<rect x="534.10" y="678.37" width="17.90" height="18.17" fill="#82868a"/>
<rect x="15.00" y="696.24" width="36.10" height="18.17" fill="#244771"/>
<rect x="50.80" y="696.24" width="18.20" height="18.17" fill="#254770"/>
<rect x="68.70" y="696.24" width="18.20" height="18.17" fill="#26476f"/>
<rect x="86.60" y="696.24" width="18.20" height="18.17" fill="#26476e"/>
<rect x="104.50" y="696.24" width="18.20" height="18.17" fill="#26496e"/>
<rect x="122.40" y="696.24" width="18.20" height="18.17" fill="#284b6f"/>
<rect x="140.30" y="696.24" width="18.20" height="18.17" fill="#284d70"/>
<rect x="158.20" y="696.24" width="18.20" height="18.17" fill="#284e70"/>
<rect x="176.10" y="696.24" width="18.20" height="18.17" fill="#285172"/>
<rect x="194.00" y="696.24" width="18.20" height="18.17" fill="#295374"/>
<rect x="211.90" y="696.24" width="18.20" height="18.17" fill="#2a5777"/>
<rect x="229.80" y="696.24" width="18.20" height="18.17" fill="#2a5b7b"/>
<rect x="247.70" y="696.24" width="18.20" height="18.17" fill="#2f6381"/>
<rect x="265.60" y="696.24" width="18.20" height="18.17" fill="#3a6d88"/>
<rect x="283.50" y="696.24" width="18.20" height="18.17" fill="#52829a"/>
<rect x="301.40" y="696.24" width="18.20" height="18.17" fill="#77a2b7"/>
<rect x="319.30" y="696.24" width="18.20" height="18.17" fill="#a1bfce"/>
<rect x="337.20" y="696.24" width="18.20" height="18.17" fill="#cfdae1"/>
<rect x="355.10" y="696.24" width="18.20" height="18.17" fill="#d7d9d7"/>
<rect x="373.00" y="696.24" width="18.20" height="18.17" fill="#b9bbb6"/>
<rect x="390.90" y="696.24" width="18.20" height="18.17" fill="#9ea29c"/>
<rect x="408.80" y="696.24" width="18.20" height="18.17" fill="#868e8a"/>
<rect x="426.70" y="696.24" width="18.20" height="18.17" fill="#7e8684"/>
<rect x="444.60" y="696.24" width="18.20" height="18.17" fill="#888a88"/>
<rect x="462.50" y="696.24" width="18.20" height="18.17" fill="#8f8d8b"/>
<rect x="480.40" y="696.24" width="18.20" height="18.17" fill="#938f8e"/>
<rect x="498.30" y="696.24" width="18.20" height="18.17" fill="#8e8d8f"/>
<rect x="516.20" y="696.24" width="18.20" height="18.17" fill="#80858e"/>
<rect x="534.10" y="696.24" width="17.90" height="18.17" fill="#7a818d"/>
<rect x="15.00" y="714.10" width="18.20" height="18.17" fill="#244872"/>
<rect x="32.90" y="714.10" width="18.20" height="18.17" fill="#244871"/>
<rect x="50.80" y="714.10" width="18.20" height="18.17" fill="#254870"/>
<rect x="68.70" y="714.10" width="18.20" height="18.17" fill="#26486f"/>
<rect x="86.60" y="714.10" width="18.20" height="18.17" fill="#26486e"/>
<rect x="104.50" y="714.10" width="18.20" height="18.17" fill="#264a6e"/>
<rect x="122.40" y="714.10" width="18.20" height="18.17" fill="#284c6f"/>
<rect x="140.30" y="714.10" width="18.20" height="18.17" fill="#284e70"/>
<rect x="158.20" y="714.10" width="18.20" height="18.17" fill="#285071"/>
<rect x="176.10" y="714.10" width="18.20" height="18.17" fill="#285272"/>
<rect x="194.00" y="714.10" width="18.20" height="18.17" fill="#2a5574"/>
<rect x="211.90" y="714.10" width="18.20" height="18.17" fill="#2a5877"/>
<rect x="229.80" y="714.10" width="18.20" height="18.17" fill="#2a5b7a"/>
<rect x="247.70" y="714.10" width="18.20" height="18.17" fill="#2f6280"/>
<rect x="265.60" y="714.10" width="18.20" height="18.17" fill="#396b87"/>
<rect x="283.50" y="714.10" width="18.20" height="18.17" fill="#507f98"/>
<rect x="301.40" y="714.10" width="18.20" height="18.17" fill="#759fb2"/>
<rect x="319.30" y="714.10" width="18.20" height="18.17" fill="#9dbbc9"/>
<rect x="337.20" y="714.10" width="18.20" height="18.17" fill="#c9d4de"/>
<rect x="355.10" y="714.10" width="18.20" height="18.17" fill="#d2d2d5"/>
<rect x="373.00" y="714.10" width="18.20" height="18.17" fill="#b7b6b4"/>
<rect x="390.90" y="714.10" width="18.20" height="18.17" fill="#9ea09b"/>
<rect x="408.80" y="714.10" width="18.20" height="18.17" fill="#898f8c"/>
<rect x="426.70" y="714.10" width="18.20" height="18.17" fill="#838886"/>
<rect x="444.60" y="714.10" width="18.20" height="18.17" fill="#8b8b8a"/>
<rect x="462.50" y="714.10" width="18.20" height="18.17" fill="#8f8d8d"/>
<rect x="480.40" y="714.10" width="18.20" height="18.17" fill="#908d8e"/>
<rect x="498.30" y="714.10" width="18.20" height="18.17" fill="#89898e"/>
<rect x="516.20" y="714.10" width="18.20" height="18.17" fill="#7a808e"/>
<rect x="534.10" y="714.10" width="17.90" height="18.17" fill="#737c8e"/>
<rect x="15.00" y="731.97" width="18.20" height="18.17" fill="#244973"/>
<rect x="32.90" y="731.97" width="18.20" height="18.17" fill="#244972"/>
<rect x="50.80" y="731.97" width="18.20" height="18.17" fill="#254971"/>
<rect x="68.70" y="731.97" width="18.20" height="18.17" fill="#254a70"/>
<rect x="86.60" y="731.97" width="18.20" height="18.17" fill="#264a70"/>
<rect x="104.50" y="731.97" width="18.20" height="18.17" fill="#264c70"/>
<rect x="122.40" y="731.97" width="18.20" height="18.17" fill="#274e72"/>
<rect x="140.30" y="731.97" width="18.20" height="18.17" fill="#275073"/>
<rect x="158.20" y="731.97" width="18.20" height="18.17" fill="#285273"/>
<rect x="176.10" y="731.97" width="18.20" height="18.17" fill="#285474"/>
<rect x="194.00" y="731.97" width="18.20" height="18.17" fill="#2a5576"/>
<rect x="211.90" y="731.97" width="18.20" height="18.17" fill="#2a5777"/>
<rect x="229.80" y="731.97" width="18.20" height="18.17" fill="#2a5978"/>
<rect x="247.70" y="731.97" width="18.20" height="18.17" fill="#2f5f7d"/>
<rect x="265.60" y="731.97" width="18.20" height="18.17" fill="#386985"/>
<rect x="283.50" y="731.97" width="18.20" height="18.17" fill="#4e7e96"/>
<rect x="301.40" y="731.97" width="18.20" height="18.17" fill="#739dae"/>
<rect x="319.30" y="731.97" width="18.20" height="18.17" fill="#9ab6c5"/>
<rect x="337.20" y="731.97" width="18.20" height="18.17" fill="#c3cbd8"/>
<rect x="355.10" y="731.97" width="18.20" height="18.17" fill="#ccc9d2"/>
<rect x="373.00" y="731.97" width="18.20" height="18.17" fill="#b5b0b2"/>
<rect x="390.90" y="731.97" width="18.20" height="18.17" fill="#a19e9c"/>
<rect x="408.80" y="731.97" width="18.20" height="18.17" fill="#929290"/>
<rect x="426.70" y="731.97" width="18.20" height="18.17" fill="#8d8d8c"/>
<rect x="444.60" y="731.97" width="18.20" height="18.17" fill="#949090"/>
<rect x="462.50" y="731.97" width="18.20" height="18.17" fill="#959091"/>
<rect x="480.40" y="731.97" width="18.20" height="18.17" fill="#8e8c8e"/>
<rect x="498.30" y="731.97" width="18.20" height="18.17" fill="#84858c"/>
<rect x="516.20" y="731.97" width="18.20" height="18.17" fill="#767b8c"/>
<rect x="534.10" y="731.97" width="17.90" height="18.17" fill="#6f768c"/>
<rect x="15.00" y="749.84" width="18.20" height="18.17" fill="#244b74"/>
<rect x="32.90" y="749.84" width="18.20" height="18.17" fill="#244b73"/>
<rect x="50.80" y="749.84" width="36.10" height="18.17" fill="#254b72"/>
<rect x="86.60" y="749.84" width="18.20" height="18.17" fill="#264c72"/>
<rect x="104.50" y="749.84" width="18.20" height="18.17" fill="#264e72"/>
<rect x="122.40" y="749.84" width="18.20" height="18.17" fill="#275073"/>
<rect x="140.30" y="749.84" width="18.20" height="18.17" fill="#275274"/>
<rect x="158.20" y="749.84" width="18.20" height="18.17" fill="#285476"/>
<rect x="176.10" y="749.84" width="18.20" height="18.17" fill="#285677"/>
<rect x="194.00" y="749.84" width="18.20" height="18.17" fill="#295677"/>
<rect x="211.90" y="749.84" width="18.20" height="18.17" fill="#2a5677"/>
<rect x="229.80" y="749.84" width="18.20" height="18.17" fill="#2a5777"/>
<rect x="247.70" y="749.84" width="18.20" height="18.17" fill="#2f5d7b"/>
<rect x="265.60" y="749.84" width="18.20" height="18.17" fill="#376884"/>
<rect x="283.50" y="749.84" width="18.20" height="18.17" fill="#4e7d94"/>
<rect x="301.40" y="749.84" width="18.20" height="18.17" fill="#729bab"/>
<rect x="319.30" y="749.84" width="18.20" height="18.17" fill="#98b4c1"/>
<rect x="337.20" y="749.84" width="18.20" height="18.17" fill="#c0c9d4"/>
<rect x="355.10" y="749.84" width="18.20" height="18.17" fill="#ccc9d1"/>
<rect x="373.00" y="749.84" width="18.20" height="18.17" fill="#bbb5b6"/>
<rect x="390.90" y="749.84" width="18.20" height="18.17" fill="#aba6a4"/>
<rect x="408.80" y="749.84" width="18.20" height="18.17" fill="#9c9a98"/>
<rect x="426.70" y="749.84" width="18.20" height="18.17" fill="#969394"/>
<rect x="444.60" y="749.84" width="18.20" height="18.17" fill="#979296"/>
<rect x="462.50" y="749.84" width="18.20" height="18.17" fill="#948e94"/>
<rect x="480.40" y="749.84" width="18.20" height="18.17" fill="#8b898e"/>
<rect x="498.30" y="749.84" width="18.20" height="18.17" fill="#80828b"/>
<rect x="516.20" y="749.84" width="18.20" height="18.17" fill="#74798a"/>
<rect x="534.10" y="749.84" width="17.90" height="18.17" fill="#6f758a"/>
<rect x="15.00" y="767.71" width="36.10" height="18.17" fill="#244d75"/>
<rect x="50.80" y="767.71" width="36.10" height="18.17" fill="#254d74"/>
<rect x="86.60" y="767.71" width="18.20" height="18.17" fill="#264e73"/>
<rect x="104.50" y="767.71" width="18.20" height="18.17" fill="#265073"/>
<rect x="122.40" y="767.71" width="18.20" height="18.17" fill="#275374"/>
<rect x="140.30" y="767.71" width="18.20" height="18.17" fill="#275675"/>
<rect x="158.20" y="767.71" width="18.20" height="18.17" fill="#285778"/>
<rect x="176.10" y="767.71" width="18.20" height="18.17" fill="#285779"/>
<rect x="194.00" y="767.71" width="18.20" height="18.17" fill="#295879"/>
<rect x="211.90" y="767.71" width="18.20" height="18.17" fill="#2a5778"/>
<rect x="229.80" y="767.71" width="18.20" height="18.17" fill="#2b5576"/>
<rect x="247.70" y="767.71" width="18.20" height="18.17" fill="#2f5b7a"/>
<rect x="265.60" y="767.71" width="18.20" height="18.17" fill="#386883"/>
<rect x="283.50" y="767.71" width="18.20" height="18.17" fill="#4e7d93"/>
<rect x="301.40" y="767.71" width="18.20" height="18.17" fill="#7199a9"/>
<rect x="319.30" y="767.71" width="18.20" height="18.17" fill="#98b3be"/>
<rect x="337.20" y="767.71" width="18.20" height="18.17" fill="#c0ccd1"/>
<rect x="355.10" y="767.71" width="18.20" height="18.17" fill="#d1d2d2"/>
<rect x="373.00" y="767.71" width="18.20" height="18.17" fill="#cac6c2"/>
<rect x="390.90" y="767.71" width="18.20" height="18.17" fill="#bdb8b3"/>
<rect x="408.80" y="767.71" width="18.20" height="18.17" fill="#aaa6a6"/>
<rect x="426.70" y="767.71" width="18.20" height="18.17" fill="#9d999e"/>
<rect x="444.60" y="767.71" width="18.20" height="18.17" fill="#958f9b"/>
<rect x="462.50" y="767.71" width="18.20" height="18.17" fill="#8d8897"/>
<rect x="480.40" y="767.71" width="18.20" height="18.17" fill="#858590"/>
<rect x="498.30" y="767.71" width="18.20" height="18.17" fill="#7e818b"/>
<rect x="516.20" y="767.71" width="18.20" height="18.17" fill="#767b8a"/>
<rect x="534.10" y="767.71" width="17.90" height="18.17" fill="#727989"/>
<rect x="15.00" y="785.57" width="36.10" height="18.17" fill="#244e75"/>
<rect x="50.80" y="785.57" width="18.20" height="18.17" fill="#254e75"/>
<rect x="68.70" y="785.57" width="18.20" height="18.17" fill="#254f75"/>
<rect x="86.60" y="785.57" width="18.20" height="18.17" fill="#265074"/>
<rect x="104.50" y="785.57" width="18.20" height="18.17" fill="#265274"/>
<rect x="122.40" y="785.57" width="18.20" height="18.17" fill="#275675"/>
<rect x="140.30" y="785.57" width="18.20" height="18.17" fill="#275776"/>
<rect x="158.20" y="785.57" width="18.20" height="18.17" fill="#285878"/>
<rect x="176.10" y="785.57" width="18.20" height="18.17" fill="#295879"/>
<rect x="194.00" y="785.57" width="18.20" height="18.17" fill="#295979"/>
<rect x="211.90" y="785.57" width="18.20" height="18.17" fill="#2a5878"/>
<rect x="229.80" y="785.57" width="18.20" height="18.17" fill="#2b5575"/>
<rect x="247.70" y="785.57" width="18.20" height="18.17" fill="#305a78"/>
<rect x="265.60" y="785.57" width="18.20" height="18.17" fill="#376780"/>
<rect x="283.50" y="785.57" width="18.20" height="18.17" fill="#4d7b90"/>
<rect x="301.40" y="785.57" width="18.20" height="18.17" fill="#7197a7"/>
<rect x="319.30" y="785.57" width="18.20" height="18.17" fill="#97b2bc"/>
<rect x="337.20" y="785.57" width="18.20" height="18.17" fill="#c1cdce"/>
<rect x="355.10" y="785.57" width="18.20" height="18.17" fill="#d4d6d1"/>
<rect x="373.00" y="785.57" width="18.20" height="18.17" fill="#d0cec5"/>
<rect x="390.90" y="785.57" width="18.20" height="18.17" fill="#c2beb7"/>
<rect x="408.80" y="785.57" width="18.20" height="18.17" fill="#aaa5a9"/>
<rect x="426.70" y="785.57" width="18.20" height="18.17" fill="#98939f"/>
<rect x="444.60" y="785.57" width="18.20" height="18.17" fill="#8d899a"/>
<rect x="462.50" y="785.57" width="18.20" height="18.17" fill="#868395"/>
<rect x="480.40" y="785.57" width="18.20" height="18.17" fill="#82828f"/>
<rect x="498.30" y="785.57" width="18.20" height="18.17" fill="#7e808b"/>
<rect x="516.20" y="785.57" width="18.20" height="18.17" fill="#7a7d8a"/>
<rect x="534.10" y="785.57" width="17.90" height="18.17" fill="#797c89"/>
<rect x="15.00" y="803.44" width="36.10" height="18.17" fill="#244e75"/>
<rect x="50.80" y="803.44" width="18.20" height="18.17" fill="#254f75"/>
<rect x="68.70" y="803.44" width="18.20" height="18.17" fill="#255075"/>
<rect x="86.60" y="803.44" width="18.20" height="18.17" fill="#265275"/>
<rect x="104.50" y="803.44" width="18.20" height="18.17" fill="#265475"/>
<rect x="122.40" y="803.44" width="18.20" height="18.17" fill="#275776"/>
<rect x="140.30" y="803.44" width="18.20" height="18.17" fill="#285877"/>
<rect x="158.20" y="803.44" width="18.20" height="18.17" fill="#295877"/>
<rect x="176.10" y="803.44" width="18.20" height="18.17" fill="#295878"/>
<rect x="194.00" y="803.44" width="18.20" height="18.17" fill="#2a5978"/>
<rect x="211.90" y="803.44" width="18.20" height="18.17" fill="#2a5977"/>
<rect x="229.80" y="803.44" width="18.20" height="18.17" fill="#2b5874"/>
<rect x="247.70" y="803.44" width="18.20" height="18.17" fill="#2f5c76"/>
<rect x="265.60" y="803.44" width="18.20" height="18.17" fill="#36667b"/>
<rect x="283.50" y="803.44" width="18.20" height="18.17" fill="#4c798b"/>
<rect x="301.40" y="803.44" width="18.20" height="18.17" fill="#7095a5"/>
<rect x="319.30" y="803.44" width="18.20" height="18.17" fill="#97b1bb"/>
<rect x="337.20" y="803.44" width="18.20" height="18.17" fill="#c2cccb"/>
<rect x="355.10" y="803.44" width="18.20" height="18.17" fill="#d5d6cd"/>
<rect x="373.00" y="803.44" width="18.20" height="18.17" fill="#cfcdc0"/>
<rect x="390.90" y="803.44" width="18.20" height="18.17" fill="#bbb8b2"/>
<rect x="408.80" y="803.44" width="18.20" height="18.17" fill="#9a96a2"/>
<rect x="426.70" y="803.44" width="18.20" height="18.17" fill="#878398"/>
<rect x="444.60" y="803.44" width="18.20" height="18.17" fill="#817f93"/>
<rect x="462.50" y="803.44" width="18.20" height="18.17" fill="#7f7e8f"/>
<rect x="480.40" y="803.44" width="18.20" height="18.17" fill="#81808d"/>
<rect x="498.30" y="803.44" width="18.20" height="18.17" fill="#82808b"/>
<rect x="516.20" y="803.44" width="18.20" height="18.17" fill="#817f8a"/>
<rect x="534.10" y="803.44" width="17.90" height="18.17" fill="#817f89"/>
<rect x="15.00" y="821.31" width="36.10" height="18.17" fill="#244e75"/>
<rect x="50.80" y="821.31" width="18.20" height="18.17" fill="#254f75"/>
<rect x="68.70" y="821.31" width="18.20" height="18.17" fill="#255175"/>
<rect x="86.60" y="821.31" width="18.20" height="18.17" fill="#265375"/>
<rect x="104.50" y="821.31" width="18.20" height="18.17" fill="#265576"/>
<rect x="122.40" y="821.31" width="18.20" height="18.17" fill="#285777"/>
<rect x="140.30" y="821.31" width="18.20" height="18.17" fill="#285877"/>
<rect x="158.20" y="821.31" width="36.10" height="18.17" fill="#295877"/>
<rect x="194.00" y="821.31" width="18.20" height="18.17" fill="#2a5977"/>
<rect x="211.90" y="821.31" width="18.20" height="18.17" fill="#2a5a76"/>
<rect x="229.80" y="821.31" width="18.20" height="18.17" fill="#2c5b75"/>
<rect x="247.70" y="821.31" width="18.20" height="18.17" fill="#2f5e76"/>
<rect x="265.60" y="821.31" width="18.20" height="18.17" fill="#35657a"/>
<rect x="283.50" y="821.31" width="18.20" height="18.17" fill="#497689"/>
<rect x="301.40" y="821.31" width="18.20" height="18.17" fill="#6b92a4"/>
<rect x="319.30" y="821.31" width="18.20" height="18.17" fill="#93aeba"/>
<rect x="337.20" y="821.31" width="18.20" height="18.17" fill="#c1cccb"/>
<rect x="355.10" y="821.31" width="18.20" height="18.17" fill="#d4d7ce"/>
<rect x="373.00" y="821.31" width="18.20" height="18.17" fill="#cdcdc1"/>
<rect x="390.90" y="821.31" width="18.20" height="18.17" fill="#b8b7b3"/>
<rect x="408.80" y="821.31" width="18.20" height="18.17" fill="#9593a2"/>
<rect x="426.70" y="821.31" width="18.20" height="18.17" fill="#807f96"/>
<rect x="444.60" y="821.31" width="18.20" height="18.17" fill="#7a7b8f"/>
<rect x="462.50" y="821.31" width="18.20" height="18.17" fill="#797a8b"/>
<rect x="480.40" y="821.31" width="18.20" height="18.17" fill="#7e7d8b"/>
<rect x="498.30" y="821.31" width="18.20" height="18.17" fill="#827f8b"/>
<rect x="516.20" y="821.31" width="18.20" height="18.17" fill="#85808a"/>
<rect x="534.10" y="821.31" width="17.90" height="18.17" fill="#86818a"/>
<rect x="15.00" y="839.18" width="36.10" height="18.17" fill="#244e75"/>
<rect x="50.80" y="839.18" width="18.20" height="18.17" fill="#254f75"/>
<rect x="68.70" y="839.18" width="18.20" height="18.17" fill="#255175"/>
<rect x="86.60" y="839.18" width="18.20" height="18.17" fill="#265375"/>
<rect x="104.50" y="839.18" width="18.20" height="18.17" fill="#265576"/>
<rect x="122.40" y="839.18" width="18.20" height="18.17" fill="#285777"/>
<rect x="140.30" y="839.18" width="18.20" height="18.17" fill="#285877"/>
<rect x="158.20" y="839.18" width="36.10" height="18.17" fill="#295877"/>
<rect x="194.00" y="839.18" width="18.20" height="18.17" fill="#2a5977"/>
<rect x="211.90" y="839.18" width="18.20" height="18.17" fill="#2b5b77"/>
<rect x="229.80" y="839.18" width="18.20" height="18.17" fill="#2c5f77"/>
<rect x="247.70" y="839.18" width="18.20" height="18.17" fill="#2f6279"/>
<rect x="265.60" y="839.18" width="18.20" height="18.17" fill="#34667d"/>
<rect x="283.50" y="839.18" width="18.20" height="18.17" fill="#45758b"/>
<rect x="301.40" y="839.18" width="18.20" height="18.17" fill="#628ea2"/>
<rect x="319.30" y="839.18" width="18.20" height="18.17" fill="#8aabb9"/>
<rect x="337.20" y="839.18" width="18.20" height="18.17" fill="#bececf"/>
<rect x="355.10" y="839.18" width="18.20" height="18.17" fill="#d4dad4"/>
<rect x="373.00" y="839.18" width="18.20" height="18.17" fill="#cccfc9"/>
<rect x="390.90" y="839.18" width="18.20" height="18.17" fill="#b9bbba"/>
<rect x="408.80" y="839.18" width="18.20" height="18.17" fill="#999ea7"/>
<rect x="426.70" y="839.18" width="18.20" height="18.17" fill="#838999"/>
<rect x="444.60" y="839.18" width="18.20" height="18.17" fill="#767c8f"/>
<rect x="462.50" y="839.18" width="18.20" height="18.17" fill="#73778a"/>
<rect x="480.40" y="839.18" width="18.20" height="18.17" fill="#7a798a"/>
<rect x="498.30" y="839.18" width="18.20" height="18.17" fill="#7f7c8a"/>
<rect x="516.20" y="839.18" width="18.20" height="18.17" fill="#84808b"/>
<rect x="534.10" y="839.18" width="17.90" height="18.17" fill="#86828b"/>
<rect x="15.00" y="857.04" width="36.10" height="18.17" fill="#244e75"/>
<rect x="50.80" y="857.04" width="18.20" height="18.17" fill="#254f75"/>
<rect x="68.70" y="857.04" width="18.20" height="18.17" fill="#255175"/>
<rect x="86.60" y="857.04" width="18.20" height="18.17" fill="#265375"/>
<rect x="104.50" y="857.04" width="18.20" height="18.17" fill="#265575"/>
<rect x="122.40" y="857.04" width="18.20" height="18.17" fill="#275776"/>
<rect x="140.30" y="857.04" width="18.20" height="18.17" fill="#285877"/>
<rect x="158.20" y="857.04" width="36.10" height="18.17" fill="#295978"/>
<rect x="194.00" y="857.04" width="18.20" height="18.17" fill="#2a5a78"/>
<rect x="211.90" y="857.04" width="18.20" height="18.17" fill="#2b5c78"/>
<rect x="229.80" y="857.04" width="18.20" height="18.17" fill="#2c6079"/>
<rect x="247.70" y="857.04" width="18.20" height="18.17" fill="#2f637b"/>
<rect x="265.60" y="857.04" width="18.20" height="18.17" fill="#32657e"/>
<rect x="283.50" y="857.04" width="18.20" height="18.17" fill="#40728a"/>
<rect x="301.40" y="857.04" width="18.20" height="18.17" fill="#59889d"/>
<rect x="319.30" y="857.04" width="18.20" height="18.17" fill="#80a5b4"/>
<rect x="337.20" y="857.04" width="18.20" height="18.17" fill="#b5cbce"/>
<rect x="355.10" y="857.04" width="18.20" height="18.17" fill="#d0dad8"/>
<rect x="373.00" y="857.04" width="18.20" height="18.17" fill="#cfd2d0"/>
<rect x="390.90" y="857.04" width="18.20" height="18.17" fill="#c0c2c2"/>
<rect x="408.80" y="857.04" width="18.20" height="18.17" fill="#a2a7ad"/>
<rect x="426.70" y="857.04" width="18.20" height="18.17" fill="#8a919c"/>
<rect x="444.60" y="857.04" width="18.20" height="18.17" fill="#797f8f"/>
<rect x="462.50" y="857.04" width="18.20" height="18.17" fill="#737789"/>
<rect x="480.40" y="857.04" width="18.20" height="18.17" fill="#79798a"/>
<rect x="498.30" y="857.04" width="18.20" height="18.17" fill="#7f7c8a"/>
<rect x="516.20" y="857.04" width="18.20" height="18.17" fill="#85818b"/>
<rect x="534.10" y="857.04" width="17.90" height="18.17" fill="#87838c"/>
<rect x="15.00" y="874.91" width="18.20" height="18.17" fill="#244c74"/>
<rect x="32.90" y="874.91" width="18.20" height="18.17" fill="#244d74"/>
<rect x="50.80" y="874.91" width="18.20" height="18.17" fill="#254e74"/>
<rect x="68.70" y="874.91" width="18.20" height="18.17" fill="#255074"/>
<rect x="86.60" y="874.91" width="18.20" height="18.17" fill="#265274"/>
<rect x="104.50" y="874.91" width="18.20" height="18.17" fill="#265474"/>
<rect x="122.40" y="874.91" width="18.20" height="18.17" fill="#275675"/>
<rect x="140.30" y="874.91" width="18.20" height="18.17" fill="#275877"/>
<rect x="158.20" y="874.91" width="18.20" height="18.17" fill="#285b7a"/>
<rect x="176.10" y="874.91" width="36.10" height="18.17" fill="#295c7b"/>
<rect x="211.90" y="874.91" width="18.20" height="18.17" fill="#2a5c7b"/>
<rect x="229.80" y="874.91" width="18.20" height="18.17" fill="#2b5e7b"/>
<rect x="247.70" y="874.91" width="18.20" height="18.17" fill="#2d607b"/>
<rect x="265.60" y="874.91" width="18.20" height="18.17" fill="#2f637d"/>
<rect x="283.50" y="874.91" width="18.20" height="18.17" fill="#3b6d85"/>
<rect x="301.40" y="874.91" width="18.20" height="18.17" fill="#4f8094"/>
<rect x="319.30" y="874.91" width="18.20" height="18.17" fill="#739dab"/>
<rect x="337.20" y="874.91" width="18.20" height="18.17" fill="#a8c4c9"/>
<rect x="355.10" y="874.91" width="18.20" height="18.17" fill="#c9d8d9"/>
<rect x="373.00" y="874.91" width="18.20" height="18.17" fill="#d6d9d9"/>
<rect x="390.90" y="874.91" width="18.20" height="18.17" fill="#cdcbcc"/>
<rect x="408.80" y="874.91" width="18.20" height="18.17" fill="#aeafb4"/>
<rect x="426.70" y="874.91" width="18.20" height="18.17" fill="#9597a0"/>
<rect x="444.60" y="874.91" width="18.20" height="18.17" fill="#818391"/>
<rect x="462.50" y="874.91" width="18.20" height="18.17" fill="#797a8a"/>
<rect x="480.40" y="874.91" width="18.20" height="18.17" fill="#7e7b8a"/>
<rect x="498.30" y="874.91" width="18.20" height="18.17" fill="#827e8b"/>
<rect x="516.20" y="874.91" width="18.20" height="18.17" fill="#86828d"/>
<rect x="534.10" y="874.91" width="17.90" height="18.17" fill="#88848d"/>
<rect x="15.00" y="892.78" width="36.10" height="18.17" fill="#244b72"/>
<rect x="50.80" y="892.78" width="18.20" height="18.17" fill="#254c72"/>
<rect x="68.70" y="892.78" width="18.20" height="18.17" fill="#254d72"/>
<rect x="86.60" y="892.78" width="18.20" height="18.17" fill="#265072"/>
<rect x="104.50" y="892.78" width="18.20" height="18.17" fill="#265272"/>
<rect x="122.40" y="892.78" width="18.20" height="18.17" fill="#275474"/>
<rect x="140.30" y="892.78" width="18.20" height="18.17" fill="#275776"/>
<rect x="158.20" y="892.78" width="18.20" height="18.17" fill="#285a79"/>
<rect x="176.10" y="892.78" width="18.20" height="18.17" fill="#295c7a"/>
<rect x="194.00" y="892.78" width="18.20" height="18.17" fill="#2a5b7a"/>
<rect x="211.90" y="892.78" width="18.20" height="18.17" fill="#2a5c7a"/>
<rect x="229.80" y="892.78" width="18.20" height="18.17" fill="#2b5c7a"/>
<rect x="247.70" y="892.78" width="18.20" height="18.17" fill="#2c5e7b"/>
<rect x="265.60" y="892.78" width="18.20" height="18.17" fill="#2e607c"/>
<rect x="283.50" y="892.78" width="18.20" height="18.17" fill="#366982"/>
<rect x="301.40" y="892.78" width="18.20" height="18.17" fill="#47788d"/>
<rect x="319.30" y="892.78" width="18.20" height="18.17" fill="#6893a2"/>
<rect x="337.20" y="892.78" width="18.20" height="18.17" fill="#9abbc3"/>
<rect x="355.10" y="892.78" width="18.20" height="18.17" fill="#c2d5d8"/>
<rect x="373.00" y="892.78" width="18.20" height="18.17" fill="#dfe4e4"/>
<rect x="390.90" y="892.78" width="18.20" height="18.17" fill="#dedcdb"/>
<rect x="408.80" y="892.78" width="18.20" height="18.17" fill="#c0bfc2"/>
<rect x="426.70" y="892.78" width="18.20" height="18.17" fill="#a6a5ac"/>
<rect x="444.60" y="892.78" width="18.20" height="18.17" fill="#8e8d99"/>
<rect x="462.50" y="892.78" width="18.20" height="18.17" fill="#83818f"/>
<rect x="480.40" y="892.78" width="18.20" height="18.17" fill="#83808d"/>
<rect x="498.30" y="892.78" width="18.20" height="18.17" fill="#84808d"/>
<rect x="516.20" y="892.78" width="18.20" height="18.17" fill="#87838e"/>
<rect x="534.10" y="892.78" width="17.90" height="18.17" fill="#89858f"/>
<rect x="15.00" y="910.65" width="36.10" height="18.17" fill="#244970"/>
<rect x="50.80" y="910.65" width="18.20" height="18.17" fill="#254970"/>
<rect x="68.70" y="910.65" width="18.20" height="18.17" fill="#254a70"/>
<rect x="86.60" y="910.65" width="18.20" height="18.17" fill="#264c70"/>
<rect x="104.50" y="910.65" width="18.20" height="18.17" fill="#264f70"/>
<rect x="122.40" y="910.65" width="18.20" height="18.17" fill="#275273"/>
<rect x="140.30" y="910.65" width="18.20" height="18.17" fill="#285474"/>
<rect x="158.20" y="910.65" width="18.20" height="18.17" fill="#295776"/>
<rect x="176.10" y="910.65" width="18.20" height="18.17" fill="#295877"/>
<rect x="194.00" y="910.65" width="18.20" height="18.17" fill="#2a5976"/>
<rect x="211.90" y="910.65" width="18.20" height="18.17" fill="#2a5977"/>
<rect x="229.80" y="910.65" width="18.20" height="18.17" fill="#2b5a78"/>
<rect x="247.70" y="910.65" width="18.20" height="18.17" fill="#2c5c78"/>
<rect x="265.60" y="910.65" width="18.20" height="18.17" fill="#2d5e79"/>
<rect x="283.50" y="910.65" width="18.20" height="18.17" fill="#34667e"/>
<rect x="301.40" y="910.65" width="18.20" height="18.17" fill="#407287"/>
<rect x="319.30" y="910.65" width="18.20" height="18.17" fill="#5e8a9b"/>
<rect x="337.20" y="910.65" width="18.20" height="18.17" fill="#8cb0bb"/>
<rect x="355.10" y="910.65" width="18.20" height="18.17" fill="#bad1d7"/>
<rect x="373.00" y="910.65" width="18.20" height="18.17" fill="#e8f4f2"/>
<rect x="390.90" y="910.65" width="18.20" height="18.17" fill="#f4f6f2"/>
<rect x="408.80" y="910.65" width="18.20" height="18.17" fill="#d8d7d6"/>
<rect x="426.70" y="910.65" width="18.20" height="18.17" fill="#bdbbbf"/>
<rect x="444.60" y="910.65" width="18.20" height="18.17" fill="#a19ea9"/>
<rect x="462.50" y="910.65" width="18.20" height="18.17" fill="#8f8c9a"/>
<rect x="480.40" y="910.65" width="18.20" height="18.17" fill="#898793"/>
<rect x="498.30" y="910.65" width="18.20" height="18.17" fill="#86848f"/>
<rect x="516.20" y="910.65" width="18.20" height="18.17" fill="#88858f"/>
<rect x="534.10" y="910.65" width="17.90" height="18.17" fill="#898590"/>
<rect x="15.00" y="928.51" width="36.10" height="18.17" fill="#24476e"/>
<rect x="50.80" y="928.51" width="18.20" height="18.17" fill="#25476e"/>
<rect x="68.70" y="928.51" width="18.20" height="18.17" fill="#25486e"/>
<rect x="86.60" y="928.51" width="18.20" height="18.17" fill="#254a6e"/>
<rect x="104.50" y="928.51" width="18.20" height="18.17" fill="#264d70"/>
<rect x="122.40" y="928.51" width="18.20" height="18.17" fill="#275072"/>
<rect x="140.30" y="928.51" width="18.20" height="18.17" fill="#285273"/>
<rect x="158.20" y="928.51" width="18.20" height="18.17" fill="#295474"/>
<rect x="176.10" y="928.51" width="18.20" height="18.17" fill="#295574"/>
<rect x="194.00" y="928.51" width="18.20" height="18.17" fill="#295674"/>
<rect x="211.90" y="928.51" width="18.20" height="18.17" fill="#2a5774"/>
<rect x="229.80" y="928.51" width="18.20" height="18.17" fill="#2b5875"/>
<rect x="247.70" y="928.51" width="18.20" height="18.17" fill="#2c5a76"/>
<rect x="265.60" y="928.51" width="18.20" height="18.17" fill="#2d5c77"/>
<rect x="283.50" y="928.51" width="18.20" height="18.17" fill="#31617a"/>
<rect x="301.40" y="928.51" width="18.20" height="18.17" fill="#396a80"/>
<rect x="319.30" y="928.51" width="18.20" height="18.17" fill="#528092"/>
<rect x="337.20" y="928.51" width="18.20" height="18.17" fill="#7ca3b1"/>
<rect x="355.10" y="928.51" width="18.20" height="18.17" fill="#acc9d0"/>
<rect x="373.00" y="928.51" width="18.20" height="18.17" fill="#e5f6f5"/>
<rect x="390.90" y="928.51" width="18.20" height="18.17" fill="#fefffe"/>
<rect x="408.80" y="928.51" width="18.20" height="18.17" fill="#efeeec"/>
<rect x="426.70" y="928.51" width="18.20" height="18.17" fill="#d5d1d3"/>
<rect x="444.60" y="928.51" width="18.20" height="18.17" fill="#b5b0b7"/>
<rect x="462.50" y="928.51" width="18.20" height="18.17" fill="#9f9aa4"/>
<rect x="480.40" y="928.51" width="18.20" height="18.17" fill="#928f98"/>
<rect x="498.30" y="928.51" width="18.20" height="18.17" fill="#8d8a91"/>
<rect x="516.20" y="928.51" width="18.20" height="18.17" fill="#8d8990"/>
<rect x="534.10" y="928.51" width="17.90" height="18.17" fill="#8e8890"/>
<rect x="15.00" y="946.38" width="18.20" height="18.17" fill="#24466c"/>
<rect x="32.90" y="946.38" width="18.20" height="18.17" fill="#24476c"/>
<rect x="50.80" y="946.38" width="18.20" height="18.17" fill="#24476d"/>
<rect x="68.70" y="946.38" width="18.20" height="18.17" fill="#24486e"/>
<rect x="86.60" y="946.38" width="18.20" height="18.17" fill="#254a6f"/>
<rect x="104.50" y="946.38" width="18.20" height="18.17" fill="#254b70"/>
<rect x="122.40" y="946.38" width="18.20" height="18.17" fill="#264e71"/>
<rect x="140.30" y="946.38" width="18.20" height="18.17" fill="#275072"/>
<rect x="158.20" y="946.38" width="18.20" height="18.17" fill="#285273"/>
<rect x="176.10" y="946.38" width="18.20" height="18.17" fill="#285374"/>
<rect x="194.00" y="946.38" width="18.20" height="18.17" fill="#295473"/>
<rect x="211.90" y="946.38" width="18.20" height="18.17" fill="#2a5573"/>
<rect x="229.80" y="946.38" width="18.20" height="18.17" fill="#2b5673"/>
<rect x="247.70" y="946.38" width="18.20" height="18.17" fill="#2c5774"/>
<rect x="265.60" y="946.38" width="18.20" height="18.17" fill="#2c5874"/>
<rect x="283.50" y="946.38" width="18.20" height="18.17" fill="#2e5b76"/>
<rect x="301.40" y="946.38" width="18.20" height="18.17" fill="#326179"/>
<rect x="319.30" y="946.38" width="18.20" height="18.17" fill="#467488"/>
<rect x="337.20" y="946.38" width="18.20" height="18.17" fill="#6994a3"/>
<rect x="355.10" y="946.38" width="18.20" height="18.17" fill="#99bbc3"/>
<rect x="373.00" y="946.38" width="18.20" height="18.17" fill="#d5ebed"/>
<rect x="390.90" y="946.38" width="18.20" height="18.17" fill="#fcffff"/>
<rect x="408.80" y="946.38" width="18.20" height="18.17" fill="#ffffff"/>
<rect x="426.70" y="946.38" width="18.20" height="18.17" fill="#f2e9e9"/>
<rect x="444.60" y="946.38" width="18.20" height="18.17" fill="#ccc3c5"/>
<rect x="462.50" y="946.38" width="18.20" height="18.17" fill="#b2aaad"/>
<rect x="480.40" y="946.38" width="18.20" height="18.17" fill="#a09a9c"/>
<rect x="498.30" y="946.38" width="18.20" height="18.17" fill="#979193"/>
<rect x="516.20" y="946.38" width="18.20" height="18.17" fill="#989091"/>
<rect x="534.10" y="946.38" width="17.90" height="18.17" fill="#988f90"/>
<rect x="15.00" y="964.25" width="36.10" height="18.17" fill="#24466b"/>
<rect x="50.80" y="964.25" width="18.20" height="18.17" fill="#24476c"/>
<rect x="68.70" y="964.25" width="18.20" height="18.17" fill="#24486d"/>
<rect x="86.60" y="964.25" width="18.20" height="18.17" fill="#25496e"/>
<rect x="104.50" y="964.25" width="18.20" height="18.17" fill="#254b6f"/>
<rect x="122.40" y="964.25" width="18.20" height="18.17" fill="#264c70"/>
<rect x="140.30" y="964.25" width="18.20" height="18.17" fill="#264e71"/>
<rect x="158.20" y="964.25" width="18.20" height="18.17" fill="#285072"/>
<rect x="176.10" y="964.25" width="18.20" height="18.17" fill="#285272"/>
<rect x="194.00" y="964.25" width="18.20" height="18.17" fill="#295373"/>
<rect x="211.90" y="964.25" width="18.20" height="18.17" fill="#295473"/>
<rect x="229.80" y="964.25" width="18.20" height="18.17" fill="#2a5674"/>
<rect x="247.70" y="964.25" width="18.20" height="18.17" fill="#2b5674"/>
<rect x="265.60" y="964.25" width="18.20" height="18.17" fill="#2c5773"/>
<rect x="283.50" y="964.25" width="18.20" height="18.17" fill="#2e5974"/>
<rect x="301.40" y="964.25" width="18.20" height="18.17" fill="#305d76"/>
<rect x="319.30" y="964.25" width="18.20" height="18.17" fill="#3f6d82"/>
<rect x="337.20" y="964.25" width="18.20" height="18.17" fill="#5b8898"/>
<rect x="355.10" y="964.25" width="18.20" height="18.17" fill="#86adb6"/>
<rect x="373.00" y="964.25" width="18.20" height="18.17" fill="#c2dbde"/>
<rect x="390.90" y="964.25" width="18.20" height="18.17" fill="#eefcfb"/>
<rect x="408.80" y="964.25" width="18.20" height="18.17" fill="#ffffff"/>
<rect x="426.70" y="964.25" width="18.20" height="18.17" fill="#fff8f8"/>
<rect x="444.60" y="964.25" width="18.20" height="18.17" fill="#dbd0d0"/>
<rect x="462.50" y="964.25" width="18.20" height="18.17" fill="#bfb5b4"/>
<rect x="480.40" y="964.25" width="18.20" height="18.17" fill="#a9a2a0"/>
<rect x="498.30" y="964.25" width="18.20" height="18.17" fill="#9e9795"/>
<rect x="516.20" y="964.25" width="18.20" height="18.17" fill="#9e9491"/>
<rect x="534.10" y="964.25" width="17.90" height="18.17" fill="#9e928f"/>
<rect x="15.00" y="982.12" width="36.10" height="18.17" fill="#24466a"/>
<rect x="50.80" y="982.12" width="18.20" height="18.17" fill="#24486b"/>
<rect x="68.70" y="982.12" width="18.20" height="18.17" fill="#24496c"/>
<rect x="86.60" y="982.12" width="18.20" height="18.17" fill="#25496d"/>
<rect x="104.50" y="982.12" width="18.20" height="18.17" fill="#254a6e"/>
<rect x="122.40" y="982.12" width="18.20" height="18.17" fill="#264c6f"/>
<rect x="140.30" y="982.12" width="18.20" height="18.17" fill="#274d70"/>
<rect x="158.20" y="982.12" width="18.20" height="18.17" fill="#284f70"/>
<rect x="176.10" y="982.12" width="18.20" height="18.17" fill="#285171"/>
<rect x="194.00" y="982.12" width="18.20" height="18.17" fill="#295372"/>
<rect x="211.90" y="982.12" width="18.20" height="18.17" fill="#295574"/>
<rect x="229.80" y="982.12" width="18.20" height="18.17" fill="#2a5775"/>
<rect x="247.70" y="982.12" width="18.20" height="18.17" fill="#2c5876"/>
<rect x="265.60" y="982.12" width="18.20" height="18.17" fill="#2d5876"/>
<rect x="283.50" y="982.12" width="18.20" height="18.17" fill="#2f5a76"/>
<rect x="301.40" y="982.12" width="18.20" height="18.17" fill="#305e78"/>
<rect x="319.30" y="982.12" width="18.20" height="18.17" fill="#3c6a81"/>
<rect x="337.20" y="982.12" width="18.20" height="18.17" fill="#507f91"/>
<rect x="355.10" y="982.12" width="18.20" height="18.17" fill="#749faa"/>
<rect x="373.00" y="982.12" width="18.20" height="18.17" fill="#a7c9cc"/>
<rect x="390.90" y="982.12" width="18.20" height="18.17" fill="#d3ebeb"/>
<rect x="408.80" y="982.12" width="18.20" height="18.17" fill="#feffff"/>
<rect x="426.70" y="982.12" width="18.20" height="18.17" fill="#fffdfd"/>
<rect x="444.60" y="982.12" width="18.20" height="18.17" fill="#e1d6d6"/>
<rect x="462.50" y="982.12" width="18.20" height="18.17" fill="#c6bcba"/>
<rect x="480.40" y="982.12" width="18.20" height="18.17" fill="#b0a7a4"/>
<rect x="498.30" y="982.12" width="18.20" height="18.17" fill="#a39a95"/>
<rect x="516.20" y="982.12" width="18.20" height="18.17" fill="#a09590"/>
<rect x="534.10" y="982.12" width="17.90" height="18.17" fill="#9f938d"/>
<rect x="15.00" y="999.99" width="18.20" height="18.17" fill="#244669"/>
<rect x="32.90" y="999.99" width="18.20" height="18.17" fill="#24476a"/>
<rect x="50.80" y="999.99" width="18.20" height="18.17" fill="#24486b"/>
<rect x="68.70" y="999.99" width="18.20" height="18.17" fill="#24496c"/>
<rect x="86.60" y="999.99" width="18.20" height="18.17" fill="#254a6d"/>
<rect x="104.50" y="999.99" width="18.20" height="18.17" fill="#254b6e"/>
<rect x="122.40" y="999.99" width="18.20" height="18.17" fill="#264c6f"/>
<rect x="140.30" y="999.99" width="18.20" height="18.17" fill="#264d70"/>
<rect x="158.20" y="999.99" width="18.20" height="18.17" fill="#274f70"/>
<rect x="176.10" y="999.99" width="18.20" height="18.17" fill="#285171"/>
<rect x="194.00" y="999.99" width="18.20" height="18.17" fill="#285372"/>
<rect x="211.90" y="999.99" width="18.20" height="18.17" fill="#295574"/>
<rect x="229.80" y="999.99" width="18.20" height="18.17" fill="#2a5877"/>
<rect x="247.70" y="999.99" width="18.20" height="18.17" fill="#2b5978"/>
<rect x="265.60" y="999.99" width="18.20" height="18.17" fill="#2d5a78"/>
<rect x="283.50" y="999.99" width="18.20" height="18.17" fill="#2e5c79"/>
<rect x="301.40" y="999.99" width="18.20" height="18.17" fill="#2f607a"/>
<rect x="319.30" y="999.99" width="18.20" height="18.17" fill="#376880"/>
<rect x="337.20" y="999.99" width="18.20" height="18.17" fill="#44758a"/>
<rect x="355.10" y="999.99" width="18.20" height="18.17" fill="#638f9f"/>
<rect x="373.00" y="999.99" width="18.20" height="18.17" fill="#92b8bf"/>
<rect x="390.90" y="999.99" width="18.20" height="18.17" fill="#c2dddf"/>
<rect x="408.80" y="999.99" width="18.20" height="18.17" fill="#f7ffff"/>
<rect x="426.70" y="999.99" width="18.20" height="18.17" fill="#ffffff"/>
<rect x="444.60" y="999.99" width="18.20" height="18.17" fill="#e6dcdd"/>
<rect x="462.50" y="999.99" width="18.20" height="18.17" fill="#cbc1c0"/>
<rect x="480.40" y="999.99" width="18.20" height="18.17" fill="#b5aba7"/>
<rect x="498.30" y="999.99" width="18.20" height="18.17" fill="#a79d97"/>
<rect x="516.20" y="999.99" width="18.20" height="18.17" fill="#a29791"/>
<rect x="534.10" y="999.99" width="17.90" height="18.17" fill="#a0948e"/>
<rect x="15.00" y="1017.85" width="18.20" height="18.17" fill="#24466a"/>
<rect x="32.90" y="1017.85" width="18.20" height="18.17" fill="#24476a"/>
<rect x="50.80" y="1017.85" width="18.20" height="18.17" fill="#24486b"/>
<rect x="68.70" y="1017.85" width="18.20" height="18.17" fill="#24496c"/>
<rect x="86.60" y="1017.85" width="18.20" height="18.17" fill="#25496c"/>
<rect x="104.50" y="1017.85" width="18.20" height="18.17" fill="#254b6e"/>
<rect x="122.40" y="1017.85" width="18.20" height="18.17" fill="#254d70"/>
<rect x="140.30" y="1017.85" width="18.20" height="18.17" fill="#254e71"/>
<rect x="158.20" y="1017.85" width="18.20" height="18.17" fill="#264f71"/>
<rect x="176.10" y="1017.85" width="18.20" height="18.17" fill="#275171"/>
<rect x="194.00" y="1017.85" width="18.20" height="18.17" fill="#285372"/>
<rect x="211.90" y="1017.85" width="18.20" height="18.17" fill="#295574"/>
<rect x="229.80" y="1017.85" width="18.20" height="18.17" fill="#2a5877"/>
<rect x="247.70" y="1017.85" width="18.20" height="18.17" fill="#2b5b7a"/>
<rect x="265.60" y="1017.85" width="18.20" height="18.17" fill="#2b5c7b"/>
<rect x="283.50" y="1017.85" width="18.20" height="18.17" fill="#2c5f7c"/>
<rect x="301.40" y="1017.85" width="18.20" height="18.17" fill="#2c627d"/>
<rect x="319.30" y="1017.85" width="18.20" height="18.17" fill="#306580"/>
<rect x="337.20" y="1017.85" width="18.20" height="18.17" fill="#376984"/>
<rect x="355.10" y="1017.85" width="18.20" height="18.17" fill="#527f97"/>
<rect x="373.00" y="1017.85" width="18.20" height="18.17" fill="#83a9b7"/>
<rect x="390.90" y="1017.85" width="18.20" height="18.17" fill="#b6d1d7"/>
<rect x="408.80" y="1017.85" width="18.20" height="18.17" fill="#f2feff"/>
<rect x="426.70" y="1017.85" width="18.20" height="18.17" fill="#ffffff"/>
<rect x="444.60" y="1017.85" width="18.20" height="18.17" fill="#eae2e2"/>
<rect x="462.50" y="1017.85" width="18.20" height="18.17" fill="#d0c6c5"/>
<rect x="480.40" y="1017.85" width="18.20" height="18.17" fill="#b8adab"/>
<rect x="498.30" y="1017.85" width="18.20" height="18.17" fill="#aa9e9b"/>
<rect x="516.20" y="1017.85" width="18.20" height="18.17" fill="#a59995"/>
<rect x="534.10" y="1017.85" width="17.90" height="18.17" fill="#a29691"/>
<rect x="15.00" y="1035.72" width="18.20" height="18.17" fill="#244669"/>
<rect x="32.90" y="1035.72" width="18.20" height="18.17" fill="#24476a"/>
<rect x="50.80" y="1035.72" width="18.20" height="18.17" fill="#24486b"/>
<rect x="68.70" y="1035.72" width="18.20" height="18.17" fill="#24496c"/>
<rect x="86.60" y="1035.72" width="18.20" height="18.17" fill="#25496d"/>
<rect x="104.50" y="1035.72" width="18.20" height="18.17" fill="#254b6e"/>
<rect x="122.40" y="1035.72" width="18.20" height="18.17" fill="#254d70"/>
<rect x="140.30" y="1035.72" width="18.20" height="18.17" fill="#254e71"/>
<rect x="158.20" y="1035.72" width="18.20" height="18.17" fill="#264f71"/>
<rect x="176.10" y="1035.72" width="18.20" height="18.17" fill="#265172"/>
<rect x="194.00" y="1035.72" width="18.20" height="18.17" fill="#275373"/>
<rect x="211.90" y="1035.72" width="18.20" height="18.17" fill="#285675"/>
<rect x="229.80" y="1035.72" width="18.20" height="18.17" fill="#295978"/>
<rect x="247.70" y="1035.72" width="18.20" height="18.17" fill="#2a5b7b"/>
<rect x="265.60" y="1035.72" width="18.20" height="18.17" fill="#2a5d7d"/>
<rect x="283.50" y="1035.72" width="18.20" height="18.17" fill="#2a5f7e"/>
<rect x="301.40" y="1035.72" width="18.20" height="18.17" fill="#2a627e"/>
<rect x="319.30" y="1035.72" width="18.20" height="18.17" fill="#2c6480"/>
<rect x="337.20" y="1035.72" width="18.20" height="18.17" fill="#316482"/>
<rect x="355.10" y="1035.72" width="18.20" height="18.17" fill="#497792"/>
<rect x="373.00" y="1035.72" width="18.20" height="18.17" fill="#779eb0"/>
<rect x="390.90" y="1035.72" width="18.20" height="18.17" fill="#abc7d1"/>
<rect x="408.80" y="1035.72" width="18.20" height="18.17" fill="#e9f7fb"/>
<rect x="426.70" y="1035.72" width="18.20" height="18.17" fill="#ffffff"/>
<rect x="444.60" y="1035.72" width="18.20" height="18.17" fill="#ebe5e4"/>
<rect x="462.50" y="1035.72" width="18.20" height="18.17" fill="#d2c9c8"/>
<rect x="480.40" y="1035.72" width="18.20" height="18.17" fill="#baaead"/>
<rect x="498.30" y="1035.72" width="18.20" height="18.17" fill="#ab9e9c"/>
<rect x="516.20" y="1035.72" width="18.20" height="18.17" fill="#a69a96"/>
<rect x="534.10" y="1035.72" width="17.90" height="18.17" fill="#a39793"/>
<rect x="15.00" y="1053.59" width="18.20" height="18.17" fill="#244669"/>
<rect x="32.90" y="1053.59" width="18.20" height="18.17" fill="#24476a"/>
<rect x="50.80" y="1053.59" width="18.20" height="18.17" fill="#24486b"/>
<rect x="68.70" y="1053.59" width="18.20" height="18.17" fill="#24496c"/>
<rect x="86.60" y="1053.59" width="18.20" height="18.17" fill="#25496e"/>
<rect x="104.50" y="1053.59" width="18.20" height="18.17" fill="#254b6f"/>
<rect x="122.40" y="1053.59" width="18.20" height="18.17" fill="#264c70"/>
<rect x="140.30" y="1053.59" width="18.20" height="18.17" fill="#264d71"/>
<rect x="158.20" y="1053.59" width="18.20" height="18.17" fill="#264f72"/>
<rect x="176.10" y="1053.59" width="18.20" height="18.17" fill="#275173"/>
<rect x="194.00" y="1053.59" width="18.20" height="18.17" fill="#285475"/>
<rect x="211.90" y="1053.59" width="18.20" height="18.17" fill="#285777"/>
<rect x="229.80" y="1053.59" width="18.20" height="18.17" fill="#295979"/>
<rect x="247.70" y="1053.59" width="18.20" height="18.17" fill="#295b7c"/>
<rect x="265.60" y="1053.59" width="18.20" height="18.17" fill="#2a5d7e"/>
<rect x="283.50" y="1053.59" width="18.20" height="18.17" fill="#2a5f7f"/>
<rect x="301.40" y="1053.59" width="18.20" height="18.17" fill="#2a617e"/>
<rect x="319.30" y="1053.59" width="18.20" height="18.17" fill="#2d6380"/>
<rect x="337.20" y="1053.59" width="18.20" height="18.17" fill="#326583"/>
<rect x="355.10" y="1053.59" width="18.20" height="18.17" fill="#487691"/>
<rect x="373.00" y="1053.59" width="18.20" height="18.17" fill="#6f96aa"/>
<rect x="390.90" y="1053.59" width="18.20" height="18.17" fill="#a0bcca"/>
<rect x="408.80" y="1053.59" width="18.20" height="18.17" fill="#ddecf4"/>
<rect x="426.70" y="1053.59" width="18.20" height="18.17" fill="#f9fcfe"/>
<rect x="444.60" y="1053.59" width="18.20" height="18.17" fill="#eae7e3"/>
<rect x="462.50" y="1053.59" width="18.20" height="18.17" fill="#d4cdc8"/>
<rect x="480.40" y="1053.59" width="18.20" height="18.17" fill="#baafad"/>
<rect x="498.30" y="1053.59" width="18.20" height="18.17" fill="#ab9e9c"/>
<rect x="516.20" y="1053.59" width="18.20" height="18.17" fill="#a69996"/>
<rect x="534.10" y="1053.59" width="17.90" height="18.17" fill="#a39793"/>
<rect x="15.00" y="1071.46" width="36.10" height="18.17" fill="#24466b"/>
<rect x="50.80" y="1071.46" width="18.20" height="18.17" fill="#24486c"/>
<rect x="68.70" y="1071.46" width="18.20" height="18.17" fill="#24496d"/>
<rect x="86.60" y="1071.46" width="18.20" height="18.17" fill="#25496f"/>
<rect x="104.50" y="1071.46" width="18.20" height="18.17" fill="#254a70"/>
<rect x="122.40" y="1071.46" width="18.20" height="18.17" fill="#264c71"/>
<rect x="140.30" y="1071.46" width="18.20" height="18.17" fill="#264d72"/>
<rect x="158.20" y="1071.46" width="18.20" height="18.17" fill="#274f73"/>
<rect x="176.10" y="1071.46" width="18.20" height="18.17" fill="#275274"/>
<rect x="194.00" y="1071.46" width="18.20" height="18.17" fill="#285577"/>
<rect x="211.90" y="1071.46" width="18.20" height="18.17" fill="#285879"/>
<rect x="229.80" y="1071.46" width="18.20" height="18.17" fill="#29597b"/>
<rect x="247.70" y="1071.46" width="18.20" height="18.17" fill="#295b7d"/>
<rect x="265.60" y="1071.46" width="18.20" height="18.17" fill="#2a5e7f"/>
<rect x="283.50" y="1071.46" width="18.20" height="18.17" fill="#2a5f80"/>
<rect x="301.40" y="1071.46" width="18.20" height="18.17" fill="#2b607f"/>
<rect x="319.30" y="1071.46" width="18.20" height="18.17" fill="#2e6280"/>
<rect x="337.20" y="1071.46" width="18.20" height="18.17" fill="#336583"/>
<rect x="355.10" y="1071.46" width="18.20" height="18.17" fill="#487490"/>
<rect x="373.00" y="1071.46" width="18.20" height="18.17" fill="#6a91a6"/>
<rect x="390.90" y="1071.46" width="18.20" height="18.17" fill="#98b3c4"/>
<rect x="408.80" y="1071.46" width="18.20" height="18.17" fill="#d1ddeb"/>
<rect x="426.70" y="1071.46" width="18.20" height="18.17" fill="#eff0f5"/>
<rect x="444.60" y="1071.46" width="18.20" height="18.17" fill="#e7e5df"/>
<rect x="462.50" y="1071.46" width="18.20" height="18.17" fill="#d4cec7"/>
<rect x="480.40" y="1071.46" width="18.20" height="18.17" fill="#bab0ad"/>
<rect x="498.30" y="1071.46" width="18.20" height="18.17" fill="#ab9f9c"/>
<rect x="516.20" y="1071.46" width="18.20" height="18.17" fill="#a59996"/>
<rect x="534.10" y="1071.46" width="17.90" height="18.17" fill="#a39793"/>
<rect x="15.00" y="1089.32" width="36.10" height="18.17" fill="#24466e"/>
<rect x="50.80" y="1089.32" width="18.20" height="18.17" fill="#24476e"/>
<rect x="68.70" y="1089.32" width="18.20" height="18.17" fill="#24486f"/>
<rect x="86.60" y="1089.32" width="18.20" height="18.17" fill="#254970"/>
<rect x="104.50" y="1089.32" width="18.20" height="18.17" fill="#254b71"/>
<rect x="122.40" y="1089.32" width="18.20" height="18.17" fill="#264c72"/>
<rect x="140.30" y="1089.32" width="18.20" height="18.17" fill="#264e73"/>
<rect x="158.20" y="1089.32" width="18.20" height="18.17" fill="#275074"/>
<rect x="176.10" y="1089.32" width="18.20" height="18.17" fill="#275375"/>
<rect x="194.00" y="1089.32" width="18.20" height="18.17" fill="#285677"/>
<rect x="211.90" y="1089.32" width="18.20" height="18.17" fill="#28597a"/>
<rect x="229.80" y="1089.32" width="18.20" height="18.17" fill="#295b7c"/>
<rect x="247.70" y="1089.32" width="18.20" height="18.17" fill="#295d7e"/>
<rect x="265.60" y="1089.32" width="18.20" height="18.17" fill="#2a5f80"/>
<rect x="283.50" y="1089.32" width="18.20" height="18.17" fill="#2a6081"/>
<rect x="301.40" y="1089.32" width="18.20" height="18.17" fill="#2b6080"/>
<rect x="319.30" y="1089.32" width="18.20" height="18.17" fill="#2e6181"/>
<rect x="337.20" y="1089.32" width="18.20" height="18.17" fill="#346382"/>
<rect x="355.10" y="1089.32" width="18.20" height="18.17" fill="#47728e"/>
<rect x="373.00" y="1089.32" width="18.20" height="18.17" fill="#698fa4"/>
<rect x="390.90" y="1089.32" width="18.20" height="18.17" fill="#93aebf"/>
<rect x="408.80" y="1089.32" width="18.20" height="18.17" fill="#c7cdde"/>
<rect x="426.70" y="1089.32" width="18.20" height="18.17" fill="#e3dfe8"/>
<rect x="444.60" y="1089.32" width="18.20" height="18.17" fill="#e3dfd8"/>
<rect x="462.50" y="1089.32" width="18.20" height="18.17" fill="#d4cfc5"/>
<rect x="480.40" y="1089.32" width="18.20" height="18.17" fill="#bab2ad"/>
<rect x="498.30" y="1089.32" width="18.20" height="18.17" fill="#aba09d"/>
<rect x="516.20" y="1089.32" width="18.20" height="18.17" fill="#a69a97"/>
<rect x="534.10" y="1089.32" width="17.90" height="18.17" fill="#a39794"/>
<rect x="15.00" y="1107.19" width="36.10" height="18.17" fill="#244670"/>
<rect x="50.80" y="1107.19" width="18.20" height="18.17" fill="#244770"/>
<rect x="68.70" y="1107.19" width="18.20" height="18.17" fill="#244870"/>
<rect x="86.60" y="1107.19" width="18.20" height="18.17" fill="#254971"/>
<rect x="104.50" y="1107.19" width="18.20" height="18.17" fill="#254b72"/>
<rect x="122.40" y="1107.19" width="18.20" height="18.17" fill="#264d73"/>
<rect x="140.30" y="1107.19" width="18.20" height="18.17" fill="#265074"/>
<rect x="158.20" y="1107.19" width="18.20" height="18.17" fill="#275275"/>
<rect x="176.10" y="1107.19" width="18.20" height="18.17" fill="#275477"/>
<rect x="194.00" y="1107.19" width="18.20" height="18.17" fill="#285779"/>
<rect x="211.90" y="1107.19" width="18.20" height="18.17" fill="#285a7b"/>
<rect x="229.80" y="1107.19" width="18.20" height="18.17" fill="#295c7d"/>
<rect x="247.70" y="1107.19" width="18.20" height="18.17" fill="#295e7f"/>
<rect x="265.60" y="1107.19" width="18.20" height="18.17" fill="#2a5f80"/>
<rect x="283.50" y="1107.19" width="18.20" height="18.17" fill="#2a6081"/>
<rect x="301.40" y="1107.19" width="18.20" height="18.17" fill="#2b5f81"/>
<rect x="319.30" y="1107.19" width="18.20" height="18.17" fill="#2e6081"/>
<rect x="337.20" y="1107.19" width="18.20" height="18.17" fill="#346181"/>
<rect x="355.10" y="1107.19" width="18.20" height="18.17" fill="#47708c"/>
<rect x="373.00" y="1107.19" width="18.20" height="18.17" fill="#678da2"/>
<rect x="390.90" y="1107.19" width="18.20" height="18.17" fill="#90a9bb"/>
<rect x="408.80" y="1107.19" width="18.20" height="18.17" fill="#c1c6d6"/>
<rect x="426.70" y="1107.19" width="18.20" height="18.17" fill="#dcd6e0"/>
<rect x="444.60" y="1107.19" width="18.20" height="18.17" fill="#e0dbd4"/>
<rect x="462.50" y="1107.19" width="18.20" height="18.17" fill="#d3cec3"/>
<rect x="480.40" y="1107.19" width="18.20" height="18.17" fill="#b9b2ac"/>
<rect x="498.30" y="1107.19" width="18.20" height="18.17" fill="#aaa09d"/>
<rect x="516.20" y="1107.19" width="18.20" height="18.17" fill="#a69a98"/>
<rect x="534.10" y="1107.19" width="17.90" height="18.17" fill="#a39795"/>
<rect x="15.00" y="1125.06" width="36.10" height="18.17" fill="#244671"/>
<rect x="50.80" y="1125.06" width="18.20" height="18.17" fill="#244871"/>
<rect x="68.70" y="1125.06" width="18.20" height="18.17" fill="#244971"/>
<rect x="86.60" y="1125.06" width="18.20" height="18.17" fill="#254971"/>
<rect x="104.50" y="1125.06" width="18.20" height="18.17" fill="#254b72"/>
<rect x="122.40" y="1125.06" width="18.20" height="18.17" fill="#264f73"/>
<rect x="140.30" y="1125.06" width="18.20" height="18.17" fill="#275174"/>
<rect x="158.20" y="1125.06" width="18.20" height="18.17" fill="#285376"/>
<rect x="176.10" y="1125.06" width="18.20" height="18.17" fill="#285678"/>
<rect x="194.00" y="1125.06" width="18.20" height="18.17" fill="#28597a"/>
<rect x="211.90" y="1125.06" width="18.20" height="18.17" fill="#285b7c"/>
<rect x="229.80" y="1125.06" width="18.20" height="18.17" fill="#295d7e"/>
<rect x="247.70" y="1125.06" width="18.20" height="18.17" fill="#295e80"/>
<rect x="265.60" y="1125.06" width="18.20" height="18.17" fill="#2a5f80"/>
<rect x="283.50" y="1125.06" width="18.20" height="18.17" fill="#2b5f80"/>
<rect x="301.40" y="1125.06" width="18.20" height="18.17" fill="#2c5e80"/>
<rect x="319.30" y="1125.06" width="18.20" height="18.17" fill="#2f5e80"/>
<rect x="337.20" y="1125.06" width="18.20" height="18.17" fill="#345f80"/>
<rect x="355.10" y="1125.06" width="18.20" height="18.17" fill="#466e8b"/>
<rect x="373.00" y="1125.06" width="18.20" height="18.17" fill="#658aa1"/>
<rect x="390.90" y="1125.06" width="18.20" height="18.17" fill="#8ea7b9"/>
<rect x="408.80" y="1125.06" width="18.20" height="18.17" fill="#c0c6d4"/>
<rect x="426.70" y="1125.06" width="18.20" height="18.17" fill="#dbd6dd"/>
<rect x="444.60" y="1125.06" width="18.20" height="18.17" fill="#ddd9d2"/>
<rect x="462.50" y="1125.06" width="18.20" height="18.17" fill="#d1ccc1"/>
<rect x="480.40" y="1125.06" width="18.20" height="18.17" fill="#b8b0aa"/>
<rect x="498.30" y="1125.06" width="18.20" height="18.17" fill="#a99f9c"/>
<rect x="516.20" y="1125.06" width="18.20" height="18.17" fill="#a69a98"/>
<rect x="534.10" y="1125.06" width="17.90" height="18.17" fill="#a49795"/>
<rect x="15.00" y="1142.93" width="36.10" height="18.17" fill="#244671"/>
<rect x="50.80" y="1142.93" width="18.20" height="18.17" fill="#244771"/>
<rect x="68.70" y="1142.93" width="18.20" height="18.17" fill="#244871"/>
<rect x="86.60" y="1142.93" width="18.20" height="18.17" fill="#254971"/>
<rect x="104.50" y="1142.93" width="18.20" height="18.17" fill="#254b71"/>
<rect x="122.40" y="1142.93" width="18.20" height="18.17" fill="#254e72"/>
<rect x="140.30" y="1142.93" width="18.20" height="18.17" fill="#265073"/>
<rect x="158.20" y="1142.93" width="18.20" height="18.17" fill="#275175"/>
<rect x="176.10" y="1142.93" width="18.20" height="18.17" fill="#285476"/>
<rect x="194.00" y="1142.93" width="18.20" height="18.17" fill="#285779"/>
<rect x="211.90" y="1142.93" width="18.20" height="18.17" fill="#285a7b"/>
<rect x="229.80" y="1142.93" width="18.20" height="18.17" fill="#295c7d"/>
<rect x="247.70" y="1142.93" width="18.20" height="18.17" fill="#295d7e"/>
<rect x="265.60" y="1142.93" width="18.20" height="18.17" fill="#2a5e7e"/>
<rect x="283.50" y="1142.93" width="18.20" height="18.17" fill="#2b5d7e"/>
<rect x="301.40" y="1142.93" width="18.20" height="18.17" fill="#2c5d7e"/>
<rect x="319.30" y="1142.93" width="18.20" height="18.17" fill="#2e5d7e"/>
<rect x="337.20" y="1142.93" width="18.20" height="18.17" fill="#345e7e"/>
<rect x="355.10" y="1142.93" width="18.20" height="18.17" fill="#466d89"/>
<rect x="373.00" y="1142.93" width="18.20" height="18.17" fill="#66899f"/>
<rect x="390.90" y="1142.93" width="18.20" height="18.17" fill="#8da6b7"/>
<rect x="408.80" y="1142.93" width="18.20" height="18.17" fill="#bdc4d0"/>
<rect x="426.70" y="1142.93" width="18.20" height="18.17" fill="#d4d3d7"/>
<rect x="444.60" y="1142.93" width="18.20" height="18.17" fill="#d4d0cb"/>
<rect x="462.50" y="1142.93" width="18.20" height="18.17" fill="#c8c3bb"/>
<rect x="480.40" y="1142.93" width="18.20" height="18.17" fill="#b2aaa6"/>
<rect x="498.30" y="1142.93" width="18.20" height="18.17" fill="#a59c9a"/>
<rect x="516.20" y="1142.93" width="18.20" height="18.17" fill="#a29896"/>
<rect x="534.10" y="1142.93" width="17.90" height="18.17" fill="#a19694"/>
<rect x="15.00" y="1160.79" width="54.00" height="18.17" fill="#244670"/>
<rect x="68.70" y="1160.79" width="18.20" height="18.17" fill="#244770"/>
<rect x="86.60" y="1160.79" width="18.20" height="18.17" fill="#244870"/>
<rect x="104.50" y="1160.79" width="18.20" height="18.17" fill="#244970"/>
<rect x="122.40" y="1160.79" width="18.20" height="18.17" fill="#254b70"/>
<rect x="140.30" y="1160.79" width="18.20" height="18.17" fill="#254c70"/>
<rect x="158.20" y="1160.79" width="18.20" height="18.17" fill="#264d70"/>
<rect x="176.10" y="1160.79" width="18.20" height="18.17" fill="#274f72"/>
<rect x="194.00" y="1160.79" width="18.20" height="18.17" fill="#285274"/>
<rect x="211.90" y="1160.79" width="18.20" height="18.17" fill="#285576"/>
<rect x="229.80" y="1160.79" width="18.20" height="18.17" fill="#295978"/>
<rect x="247.70" y="1160.79" width="18.20" height="18.17" fill="#295b7a"/>
<rect x="265.60" y="1160.79" width="18.20" height="18.17" fill="#2a5c7b"/>
<rect x="283.50" y="1160.79" width="18.20" height="18.17" fill="#2a5d7b"/>
<rect x="301.40" y="1160.79" width="18.20" height="18.17" fill="#2b5c7a"/>
<rect x="319.30" y="1160.79" width="18.20" height="18.17" fill="#2e5d7b"/>
<rect x="337.20" y="1160.79" width="18.20" height="18.17" fill="#335f7b"/>
<rect x="355.10" y="1160.79" width="18.20" height="18.17" fill="#476e87"/>
<rect x="373.00" y="1160.79" width="18.20" height="18.17" fill="#688a9e"/>
<rect x="390.90" y="1160.79" width="18.20" height="18.17" fill="#8ea6b5"/>
<rect x="408.80" y="1160.79" width="18.20" height="18.17" fill="#b8c2ca"/>
<rect x="426.70" y="1160.79" width="18.20" height="18.17" fill="#cacbce"/>
<rect x="444.60" y="1160.79" width="18.20" height="18.17" fill="#c5c1c1"/>
<rect x="462.50" y="1160.79" width="18.20" height="18.17" fill="#b9b3b1"/>
<rect x="480.40" y="1160.79" width="18.20" height="18.17" fill="#a8a2a0"/>
<rect x="498.30" y="1160.79" width="18.20" height="18.17" fill="#9d9897"/>
<rect x="516.20" y="1160.79" width="18.20" height="18.17" fill="#9a9494"/>
<rect x="534.10" y="1160.79" width="17.90" height="18.17" fill="#989292"/>
<rect x="15.00" y="1178.66" width="71.90" height="18.17" fill="#24466e"/>
<rect x="86.60" y="1178.66" width="18.20" height="18.17" fill="#24476e"/>
<rect x="104.50" y="1178.66" width="18.20" height="18.17" fill="#24486e"/>
<rect x="122.40" y="1178.66" width="18.20" height="18.17" fill="#25496e"/>
<rect x="140.30" y="1178.66" width="18.20" height="18.17" fill="#254a6e"/>
<rect x="158.20" y="1178.66" width="18.20" height="18.17" fill="#264b6e"/>
<rect x="176.10" y="1178.66" width="18.20" height="18.17" fill="#274d6f"/>
<rect x="194.00" y="1178.66" width="18.20" height="18.17" fill="#284f70"/>
<rect x="211.90" y="1178.66" width="18.20" height="18.17" fill="#295272"/>
<rect x="229.80" y="1178.66" width="18.20" height="18.17" fill="#295573"/>
<rect x="247.70" y="1178.66" width="18.20" height="18.17" fill="#295775"/>
<rect x="265.60" y="1178.66" width="18.20" height="18.17" fill="#2a5a76"/>
<rect x="283.50" y="1178.66" width="18.20" height="18.17" fill="#2a5b76"/>
<rect x="301.40" y="1178.66" width="18.20" height="18.17" fill="#2b5b77"/>
<rect x="319.30" y="1178.66" width="18.20" height="18.17" fill="#2e5d78"/>
<rect x="337.20" y="1178.66" width="18.20" height="18.17" fill="#335f79"/>
<rect x="355.10" y="1178.66" width="18.20" height="18.17" fill="#476e85"/>
<rect x="373.00" y="1178.66" width="18.20" height="18.17" fill="#6a889c"/>
<rect x="390.90" y="1178.66" width="18.20" height="18.17" fill="#8fa3b1"/>
<rect x="408.80" y="1178.66" width="18.20" height="18.17" fill="#b3bfc4"/>
<rect x="426.70" y="1178.66" width="18.20" height="18.17" fill="#c1c4c6"/>
<rect x="444.60" y="1178.66" width="18.20" height="18.17" fill="#b7b3b7"/>
<rect x="462.50" y="1178.66" width="18.20" height="18.17" fill="#aba4a9"/>
<rect x="480.40" y="1178.66" width="18.20" height="18.17" fill="#9b989b"/>
<rect x="498.30" y="1178.66" width="18.20" height="18.17" fill="#929093"/>
<rect x="516.20" y="1178.66" width="18.20" height="18.17" fill="#8f8d92"/>
<rect x="534.10" y="1178.66" width="17.90" height="18.17" fill="#8e8c91"/>
<rect x="15.00" y="1196.53" width="71.90" height="18.17" fill="#24466d"/>
<rect x="86.60" y="1196.53" width="18.20" height="18.17" fill="#25476d"/>
<rect x="104.50" y="1196.53" width="18.20" height="18.17" fill="#25486d"/>
<rect x="122.40" y="1196.53" width="18.20" height="18.17" fill="#26496d"/>
<rect x="140.30" y="1196.53" width="18.20" height="18.17" fill="#264a6d"/>
<rect x="158.20" y="1196.53" width="18.20" height="18.17" fill="#274b6d"/>
<rect x="176.10" y="1196.53" width="18.20" height="18.17" fill="#274c6e"/>
<rect x="194.00" y="1196.53" width="18.20" height="18.17" fill="#294e6e"/>
<rect x="211.90" y="1196.53" width="18.20" height="18.17" fill="#294f6e"/>
<rect x="229.80" y="1196.53" width="18.20" height="18.17" fill="#2a516e"/>
<rect x="247.70" y="1196.53" width="18.20" height="18.17" fill="#2a536e"/>
<rect x="265.60" y="1196.53" width="18.20" height="18.17" fill="#2a566f"/>
<rect x="283.50" y="1196.53" width="18.20" height="18.17" fill="#2b5870"/>
<rect x="301.40" y="1196.53" width="18.20" height="18.17" fill="#2c5a73"/>
<rect x="319.30" y="1196.53" width="18.20" height="18.17" fill="#2f5d75"/>
<rect x="337.20" y="1196.53" width="18.20" height="18.17" fill="#346078"/>
<rect x="355.10" y="1196.53" width="18.20" height="18.17" fill="#486d83"/>
<rect x="373.00" y="1196.53" width="18.20" height="18.17" fill="#6c8498"/>
<rect x="390.90" y="1196.53" width="18.20" height="18.17" fill="#8f9eac"/>
<rect x="408.80" y="1196.53" width="18.20" height="18.17" fill="#afbabe"/>
<rect x="426.70" y="1196.53" width="18.20" height="18.17" fill="#b9bebf"/>
<rect x="444.60" y="1196.53" width="18.20" height="18.17" fill="#aca8b0"/>
<rect x="462.50" y="1196.53" width="18.20" height="18.17" fill="#9d97a2"/>
<rect x="480.40" y="1196.53" width="18.20" height="18.17" fill="#8c8b95"/>
<rect x="498.30" y="1196.53" width="18.20" height="18.17" fill="#838490"/>
<rect x="516.20" y="1196.53" width="18.20" height="18.17" fill="#818490"/>
<rect x="534.10" y="1196.53" width="17.90" height="18.17" fill="#818390"/>
<rect x="15.00" y="1214.40" width="36.10" height="18.17" fill="#24466d"/>
<rect x="50.80" y="1214.40" width="18.20" height="18.17" fill="#24466e"/>
<rect x="68.70" y="1214.40" width="18.20" height="18.17" fill="#24476e"/>
<rect x="86.60" y="1214.40" width="18.20" height="18.17" fill="#25486e"/>
<rect x="104.50" y="1214.40" width="18.20" height="18.17" fill="#25496e"/>
<rect x="122.40" y="1214.40" width="18.20" height="18.17" fill="#264a6e"/>
<rect x="140.30" y="1214.40" width="18.20" height="18.17" fill="#264b6e"/>
<rect x="158.20" y="1214.40" width="18.20" height="18.17" fill="#274c6f"/>
<rect x="176.10" y="1214.40" width="18.20" height="18.17" fill="#274d6f"/>
<rect x="194.00" y="1214.40" width="18.20" height="18.17" fill="#284e6f"/>
<rect x="211.90" y="1214.40" width="18.20" height="18.17" fill="#294f6e"/>
<rect x="229.80" y="1214.40" width="18.20" height="18.17" fill="#2a506e"/>
<rect x="247.70" y="1214.40" width="18.20" height="18.17" fill="#2a526e"/>
<rect x="265.60" y="1214.40" width="18.20" height="18.17" fill="#2a556e"/>
<rect x="283.50" y="1214.40" width="18.20" height="18.17" fill="#2b5870"/>
<rect x="301.40" y="1214.40" width="18.20" height="18.17" fill="#2d5b73"/>
<rect x="319.30" y="1214.40" width="18.20" height="18.17" fill="#305f76"/>
<rect x="337.20" y="1214.40" width="18.20" height="18.17" fill="#356279"/>
<rect x="355.10" y="1214.40" width="18.20" height="18.17" fill="#496e84"/>
<rect x="373.00" y="1214.40" width="18.20" height="18.17" fill="#6c8197"/>
<rect x="390.90" y="1214.40" width="18.20" height="18.17" fill="#8d9aaa"/>
<rect x="408.80" y="1214.40" width="18.20" height="18.17" fill="#acb9bb"/>
<rect x="426.70" y="1214.40" width="18.20" height="18.17" fill="#b4bdbd"/>
<rect x="444.60" y="1214.40" width="18.20" height="18.17" fill="#a6a4ae"/>
<rect x="462.50" y="1214.40" width="18.20" height="18.17" fill="#9691a0"/>
<rect x="480.40" y="1214.40" width="18.20" height="18.17" fill="#848494"/>
<rect x="498.30" y="1214.40" width="18.20" height="18.17" fill="#7b7e8e"/>
<rect x="516.20" y="1214.40" width="18.20" height="18.17" fill="#797e8f"/>
<rect x="534.10" y="1214.40" width="17.90" height="18.17" fill="#797d8f"/>
<rect x="15.00" y="1232.26" width="18.20" height="18.17" fill="#24486e"/>
<rect x="32.90" y="1232.26" width="18.20" height="18.17" fill="#24486f"/>
<rect x="50.80" y="1232.26" width="18.20" height="18.17" fill="#244770"/>
<rect x="68.70" y="1232.26" width="18.20" height="18.17" fill="#244870"/>
<rect x="86.60" y="1232.26" width="18.20" height="18.17" fill="#244970"/>
<rect x="104.50" y="1232.26" width="18.20" height="18.17" fill="#244a71"/>
<rect x="122.40" y="1232.26" width="18.20" height="18.17" fill="#254b71"/>
<rect x="140.30" y="1232.26" width="18.20" height="18.17" fill="#254c72"/>
<rect x="158.20" y="1232.26" width="18.20" height="18.17" fill="#264d72"/>
<rect x="176.10" y="1232.26" width="18.20" height="18.17" fill="#274e72"/>
<rect x="194.00" y="1232.26" width="18.20" height="18.17" fill="#275072"/>
<rect x="211.90" y="1232.26" width="18.20" height="18.17" fill="#285272"/>
<rect x="229.80" y="1232.26" width="18.20" height="18.17" fill="#285473"/>
<rect x="247.70" y="1232.26" width="18.20" height="18.17" fill="#295673"/>
<rect x="265.60" y="1232.26" width="18.20" height="18.17" fill="#2a5874"/>
<rect x="283.50" y="1232.26" width="18.20" height="18.17" fill="#2b5a76"/>
<rect x="301.40" y="1232.26" width="18.20" height="18.17" fill="#2d5d78"/>
<rect x="319.30" y="1232.26" width="18.20" height="18.17" fill="#30617b"/>
<rect x="337.20" y="1232.26" width="18.20" height="18.17" fill="#35667f"/>
<rect x="355.10" y="1232.26" width="18.20" height="18.17" fill="#487089"/>
<rect x="373.00" y="1232.26" width="18.20" height="18.17" fill="#697f99"/>
<rect x="390.90" y="1232.26" width="18.20" height="18.17" fill="#8999aa"/>
<rect x="408.80" y="1232.26" width="18.20" height="18.17" fill="#a9bcbc"/>
<rect x="426.70" y="1232.26" width="18.20" height="18.17" fill="#b3c0be"/>
<rect x="444.60" y="1232.26" width="18.20" height="18.17" fill="#a7a5b3"/>
<rect x="462.50" y="1232.26" width="18.20" height="18.17" fill="#9791a5"/>
<rect x="480.40" y="1232.26" width="18.20" height="18.17" fill="#858397"/>
<rect x="498.30" y="1232.26" width="18.20" height="18.17" fill="#7a7c8f"/>
<rect x="516.20" y="1232.26" width="18.20" height="18.17" fill="#777b8d"/>
<rect x="534.10" y="1232.26" width="17.90" height="18.17" fill="#767b8c"/>
<rect x="15.00" y="1250.13" width="18.20" height="17.87" fill="#24486f"/>
<rect x="32.90" y="1250.13" width="18.20" height="17.87" fill="#244870"/>
<rect x="50.80" y="1250.13" width="18.20" height="17.87" fill="#244871"/>
<rect x="68.70" y="1250.13" width="18.20" height="17.87" fill="#244971"/>
<rect x="86.60" y="1250.13" width="18.20" height="17.87" fill="#244a71"/>
<rect x="104.50" y="1250.13" width="18.20" height="17.87" fill="#244b72"/>
<rect x="122.40" y="1250.13" width="18.20" height="17.87" fill="#254c73"/>
<rect x="140.30" y="1250.13" width="18.20" height="17.87" fill="#254d74"/>
<rect x="158.20" y="1250.13" width="18.20" height="17.87" fill="#264e74"/>
<rect x="176.10" y="1250.13" width="18.20" height="17.87" fill="#264f73"/>
<rect x="194.00" y="1250.13" width="18.20" height="17.87" fill="#275173"/>
<rect x="211.90" y="1250.13" width="18.20" height="17.87" fill="#275374"/>
<rect x="229.80" y="1250.13" width="18.20" height="17.87" fill="#275575"/>
<rect x="247.70" y="1250.13" width="18.20" height="17.87" fill="#285776"/>
<rect x="265.60" y="1250.13" width="18.20" height="17.87" fill="#2a5977"/>
<rect x="283.50" y="1250.13" width="18.20" height="17.87" fill="#2c5c79"/>
<rect x="301.40" y="1250.13" width="18.20" height="17.87" fill="#2d5e7a"/>
<rect x="319.30" y="1250.13" width="18.20" height="17.87" fill="#30637d"/>
<rect x="337.20" y="1250.13" width="18.20" height="17.87" fill="#356881"/>
<rect x="355.10" y="1250.13" width="18.20" height="17.87" fill="#48728b"/>
<rect x="373.00" y="1250.13" width="18.20" height="17.87" fill="#677f9a"/>
<rect x="390.90" y="1250.13" width="18.20" height="17.87" fill="#8798aa"/>
<rect x="408.80" y="1250.13" width="18.20" height="17.87" fill="#a8bdbc"/>
<rect x="426.70" y="1250.13" width="18.20" height="17.87" fill="#b3c2bf"/>
<rect x="444.60" y="1250.13" width="18.20" height="17.87" fill="#a7a6b5"/>
<rect x="462.50" y="1250.13" width="18.20" height="17.87" fill="#9891a8"/>
<rect x="480.40" y="1250.13" width="18.20" height="17.87" fill="#858398"/>
<rect x="498.30" y="1250.13" width="18.20" height="17.87" fill="#7a7b8f"/>
<rect x="516.20" y="1250.13" width="18.20" height="17.87" fill="#767a8c"/>
<rect x="534.10" y="1250.13" width="17.90" height="17.87" fill="#75798b"/>
</g>
<g fill="#000"><circle cx="137.3" cy="62.5" r="1.45"/><circle cx="140.5" cy="80.4" r="1.45"/><circle cx="146.6" cy="98.3" r="1.45"/><circle cx="151.2" cy="116.1" r="1.45"/><circle cx="154.3" cy="134.0" r="1.45"/><circle cx="160.3" cy="151.9" r="1.45"/><circle cx="171.4" cy="169.7" r="1.45"/><circle cx="177.4" cy="187.6" r="1.45"/><circle cx="179.1" cy="205.5" r="1.45"/><circle cx="181.5" cy="223.3" r="1.45"/><circle cx="186.3" cy="241.2" r="1.45"/><circle cx="190.4" cy="259.1" r="1.45"/><circle cx="190.4" cy="276.9" r="1.45"/><circle cx="193.5" cy="294.8" r="1.45"/><circle cx="202.2" cy="312.7" r="1.45"/><circle cx="209.2" cy="330.5" r="1.45"/><circle cx="214.2" cy="348.4" r="1.45"/><circle cx="219.2" cy="366.3" r="1.45"/><circle cx="224.3" cy="384.2" r="1.45"/><circle cx="228.4" cy="402.0" r="1.45"/><circle cx="231.4" cy="419.9" r="1.45"/><circle cx="235.3" cy="437.8" r="1.45"/><circle cx="242.5" cy="455.6" r="1.45"/><circle cx="248.4" cy="473.5" r="1.45"/><circle cx="254.3" cy="491.4" r="1.45"/><circle cx="260.2" cy="509.2" r="1.45"/><circle cx="267.4" cy="527.1" r="1.45"/><circle cx="276.3" cy="545.0" r="1.45"/><circle cx="279.6" cy="562.8" r="1.45"/><circle cx="281.4" cy="580.7" r="1.45"/><circle cx="284.6" cy="598.6" r="1.45"/><circle cx="288.5" cy="616.4" r="1.45"/><circle cx="294.4" cy="634.3" r="1.45"/><circle cx="297.5" cy="652.2" r="1.45"/><circle cx="297.5" cy="670.0" r="1.45"/><circle cx="299.4" cy="687.9" r="1.45"/><circle cx="303.4" cy="705.8" r="1.45"/><circle cx="306.4" cy="723.6" r="1.45"/><circle cx="304.4" cy="741.5" r="1.45"/><circle cx="303.4" cy="759.4" r="1.45"/><circle cx="303.4" cy="777.2" r="1.45"/><circle cx="302.5" cy="795.1" r="1.45"/><circle cx="300.3" cy="813.0" r="1.45"/><circle cx="302.5" cy="830.8" r="1.45"/><circle cx="311.2" cy="848.7" r="1.45"/><circle cx="316.3" cy="866.6" r="1.45"/><circle cx="319.3" cy="884.4" r="1.45"/><circle cx="324.3" cy="902.3" r="1.45"/><circle cx="335.4" cy="920.2" r="1.45"/><circle cx="342.2" cy="938.0" r="1.45"/><circle cx="347.2" cy="955.9" r="1.45"/><circle cx="353.1" cy="973.8" r="1.45"/><circle cx="360.3" cy="991.7" r="1.45"/><circle cx="365.3" cy="1009.5" r="1.45"/><circle cx="369.2" cy="1027.4" r="1.45"/><circle cx="371.2" cy="1045.3" r="1.45"/><circle cx="371.2" cy="1063.1" r="1.45"/><circle cx="370.1" cy="1081.0" r="1.45"/><circle cx="369.2" cy="1098.9" r="1.45"/><circle cx="367.5" cy="1116.7" r="1.45"/><circle cx="365.3" cy="1134.6" r="1.45"/><circle cx="365.3" cy="1152.5" r="1.45"/><circle cx="366.2" cy="1170.3" r="1.45"/><circle cx="367.5" cy="1188.2" r="1.45"/><circle cx="367.5" cy="1206.1" r="1.45"/><circle cx="370.1" cy="1223.9" r="1.45"/><circle cx="379.3" cy="1241.8" r="1.45"/><circle cx="385.2" cy="1259.7" r="1.45"/><circle cx="149.4" cy="109.4" r="1.45"/><circle cx="167.4" cy="161.5" r="1.45"/><circle cx="185.4" cy="236.4" r="1.45"/><circle cx="203.4" cy="314.4" r="1.45"/><circle cx="220.5" cy="371.7" r="1.45"/><circle cx="238.5" cy="446.3" r="1.45"/><circle cx="256.2" cy="498.5" r="1.45"/><circle cx="274.5" cy="538.3" r="1.45"/><circle cx="292.3" cy="628.3" r="1.45"/><circle cx="310.3" cy="846.5" r="1.45"/><circle cx="328.3" cy="907.4" r="1.45"/><circle cx="346.3" cy="951.3" r="1.45"/><circle cx="363.4" cy="1003.3" r="1.45"/><circle cx="381.4" cy="1246.4" r="1.45"/></g>
<g shape-rendering="crispEdges">
<rect x="873.00" y="53.00" width="143.50" height="18.17" fill="#552597"/>
<rect x="1016.20" y="53.00" width="18.20" height="18.17" fill="#9c5289"/>
<rect x="1034.10" y="53.00" width="18.20" height="18.17" fill="#ae5f94"/>
<rect x="1052.00" y="53.00" width="18.20" height="18.17" fill="#ba6797"/>
<rect x="1069.90" y="53.00" width="71.90" height="18.17" fill="#ba3949"/>
<rect x="1141.50" y="53.00" width="18.20" height="18.17" fill="#903c6b"/>
<rect x="1159.40" y="53.00" width="18.20" height="18.17" fill="#913c6b"/>
<rect x="1177.30" y="53.00" width="18.20" height="18.17" fill="#913b6b"/>
<rect x="1195.20" y="53.00" width="36.10" height="18.17" fill="#8f3a6a"/>
<rect x="1231.00" y="53.00" width="18.20" height="18.17" fill="#913c6a"/>
<rect x="1248.90" y="53.00" width="18.20" height="18.17" fill="#933d6a"/>
<rect x="1266.80" y="53.00" width="18.20" height="18.17" fill="#933b6a"/>
<rect x="1284.70" y="53.00" width="18.20" height="18.17" fill="#953b6a"/>
<rect x="1302.60" y="53.00" width="18.20" height="18.17" fill="#983d6a"/>
<rect x="1320.50" y="53.00" width="18.20" height="18.17" fill="#9b3e6a"/>
<rect x="1338.40" y="53.00" width="18.20" height="18.17" fill="#9c3f6b"/>
<rect x="1356.30" y="53.00" width="18.20" height="18.17" fill="#a99991"/>
<rect x="1374.20" y="53.00" width="18.20" height="18.17" fill="#96908e"/>
<rect x="1392.10" y="53.00" width="17.90" height="18.17" fill="#8c8b8c"/>
<rect x="873.00" y="70.87" width="143.50" height="18.17" fill="#552597"/>
<rect x="1016.20" y="70.87" width="18.20" height="18.17" fill="#995088"/>
<rect x="1034.10" y="70.87" width="18.20" height="18.17" fill="#ab5e94"/>
<rect x="1052.00" y="70.87" width="18.20" height="18.17" fill="#b96797"/>
<rect x="1069.90" y="70.87" width="71.90" height="18.17" fill="#ba3949"/>
<rect x="1141.50" y="70.87" width="18.20" height="18.17" fill="#913d6b"/>
<rect x="1159.40" y="70.87" width="18.20" height="18.17" fill="#913b6b"/>
<rect x="1177.30" y="70.87" width="18.20" height="18.17" fill="#903a6b"/>
<rect x="1195.20" y="70.87" width="18.20" height="18.17" fill="#8d396a"/>
<rect x="1213.10" y="70.87" width="18.20" height="18.17" fill="#8e396a"/>
<rect x="1231.00" y="70.87" width="18.20" height="18.17" fill="#913b6a"/>
<rect x="1248.90" y="70.87" width="18.20" height="18.17" fill="#923c6a"/>
<rect x="1266.80" y="70.87" width="18.20" height="18.17" fill="#933b6a"/>
<rect x="1284.70" y="70.87" width="18.20" height="18.17" fill="#953b6a"/>
<rect x="1302.60" y="70.87" width="18.20" height="18.17" fill="#963c6a"/>
<rect x="1320.50" y="70.87" width="18.20" height="18.17" fill="#983c6b"/>
<rect x="1338.40" y="70.87" width="18.20" height="18.17" fill="#983d6b"/>
<rect x="1356.30" y="70.87" width="18.20" height="18.17" fill="#9e9190"/>
<rect x="1374.20" y="70.87" width="18.20" height="18.17" fill="#8c878c"/>
<rect x="1392.10" y="70.87" width="17.90" height="18.17" fill="#828389"/>
<rect x="873.00" y="88.74" width="143.50" height="18.17" fill="#552597"/>
<rect x="1016.20" y="88.74" width="18.20" height="18.17" fill="#944d85"/>
<rect x="1034.10" y="88.74" width="18.20" height="18.17" fill="#a75c92"/>
<rect x="1052.00" y="88.74" width="18.20" height="18.17" fill="#b96797"/>
<rect x="1069.90" y="88.74" width="71.90" height="18.17" fill="#ba3949"/>
<rect x="1141.50" y="88.74" width="18.20" height="18.17" fill="#923e6a"/>
<rect x="1159.40" y="88.74" width="18.20" height="18.17" fill="#903a6b"/>
<rect x="1177.30" y="88.74" width="18.20" height="18.17" fill="#8e386a"/>
<rect x="1195.20" y="88.74" width="18.20" height="18.17" fill="#8a3768"/>
<rect x="1213.10" y="88.74" width="18.20" height="18.17" fill="#8b3768"/>
<rect x="1231.00" y="88.74" width="18.20" height="18.17" fill="#8f396a"/>
<rect x="1248.90" y="88.74" width="18.20" height="18.17" fill="#923a6b"/>
<rect x="1266.80" y="88.74" width="36.10" height="18.17" fill="#943b6b"/>
<rect x="1302.60" y="88.74" width="18.20" height="18.17" fill="#933a6b"/>
<rect x="1320.50" y="88.74" width="18.20" height="18.17" fill="#92396b"/>
<rect x="1338.40" y="88.74" width="18.20" height="18.17" fill="#90376b"/>
<rect x="1356.30" y="88.74" width="18.20" height="18.17" fill="#8c346a"/>
<rect x="1374.20" y="88.74" width="18.20" height="18.17" fill="#777786"/>
<rect x="1392.10" y="88.74" width="17.90" height="18.17" fill="#6f7283"/>
<rect x="873.00" y="106.60" width="161.40" height="18.17" fill="#552597"/>
<rect x="1034.10" y="106.60" width="18.20" height="18.17" fill="#a2578d"/>
<rect x="1052.00" y="106.60" width="18.20" height="18.17" fill="#b56496"/>
<rect x="1069.90" y="106.60" width="18.20" height="18.17" fill="#bb6594"/>
<rect x="1087.80" y="106.60" width="54.00" height="18.17" fill="#ba3949"/>
<rect x="1141.50" y="106.60" width="18.20" height="18.17" fill="#933e6a"/>
<rect x="1159.40" y="106.60" width="18.20" height="18.17" fill="#90396b"/>
<rect x="1177.30" y="106.60" width="18.20" height="18.17" fill="#8c366a"/>
<rect x="1195.20" y="106.60" width="18.20" height="18.17" fill="#883468"/>
<rect x="1213.10" y="106.60" width="18.20" height="18.17" fill="#883568"/>
<rect x="1231.00" y="106.60" width="18.20" height="18.17" fill="#8d376a"/>
<rect x="1248.90" y="106.60" width="18.20" height="18.17" fill="#91396b"/>
<rect x="1266.80" y="106.60" width="18.20" height="18.17" fill="#933a6b"/>
<rect x="1284.70" y="106.60" width="18.20" height="18.17" fill="#923b6b"/>
<rect x="1302.60" y="106.60" width="18.20" height="18.17" fill="#903a6b"/>
<rect x="1320.50" y="106.60" width="18.20" height="18.17" fill="#8e386b"/>
<rect x="1338.40" y="106.60" width="18.20" height="18.17" fill="#8c356b"/>
<rect x="1356.30" y="106.60" width="18.20" height="18.17" fill="#88326a"/>
<rect x="1374.20" y="106.60" width="18.20" height="18.17" fill="#6f7185"/>
<rect x="1392.10" y="106.60" width="17.90" height="18.17" fill="#676b81"/>
<rect x="873.00" y="124.47" width="161.40" height="18.17" fill="#552597"/>
<rect x="1034.10" y="124.47" width="18.20" height="18.17" fill="#9b5187"/>
<rect x="1052.00" y="124.47" width="18.20" height="18.17" fill="#ac5d90"/>
<rect x="1069.90" y="124.47" width="18.20" height="18.17" fill="#b56091"/>
<rect x="1087.80" y="124.47" width="18.20" height="18.17" fill="#b15a8a"/>
<rect x="1105.70" y="124.47" width="36.10" height="18.17" fill="#ba3949"/>
<rect x="1141.50" y="124.47" width="18.20" height="18.17" fill="#953f6c"/>
<rect x="1159.40" y="124.47" width="18.20" height="18.17" fill="#8f396b"/>
<rect x="1177.30" y="124.47" width="18.20" height="18.17" fill="#8a346a"/>
<rect x="1195.20" y="124.47" width="36.10" height="18.17" fill="#863268"/>
<rect x="1231.00" y="124.47" width="18.20" height="18.17" fill="#8b356a"/>
<rect x="1248.90" y="124.47" width="18.20" height="18.17" fill="#8f376b"/>
<rect x="1266.80" y="124.47" width="18.20" height="18.17" fill="#90396b"/>
<rect x="1284.70" y="124.47" width="18.20" height="18.17" fill="#903a6b"/>
<rect x="1302.60" y="124.47" width="18.20" height="18.17" fill="#8f396a"/>
<rect x="1320.50" y="124.47" width="18.20" height="18.17" fill="#8e386a"/>
<rect x="1338.40" y="124.47" width="18.20" height="18.17" fill="#8d376b"/>
<rect x="1356.30" y="124.47" width="18.20" height="18.17" fill="#8a346a"/>
<rect x="1374.20" y="124.47" width="18.20" height="18.17" fill="#832f67"/>
<rect x="1392.10" y="124.47" width="17.90" height="18.17" fill="#6a6f84"/>
<rect x="873.00" y="142.34" width="179.30" height="18.17" fill="#552597"/>
<rect x="1052.00" y="142.34" width="18.20" height="18.17" fill="#a7598c"/>
<rect x="1069.90" y="142.34" width="18.20" height="18.17" fill="#b15f90"/>
<rect x="1087.80" y="142.34" width="18.20" height="18.17" fill="#b05b8b"/>
<rect x="1105.70" y="142.34" width="36.10" height="18.17" fill="#ba3949"/>
<rect x="1141.50" y="142.34" width="18.20" height="18.17" fill="#994370"/>
<rect x="1159.40" y="142.34" width="18.20" height="18.17" fill="#913a6d"/>
<rect x="1177.30" y="142.34" width="18.20" height="18.17" fill="#8b356b"/>
<rect x="1195.20" y="142.34" width="36.10" height="18.17" fill="#873269"/>
<rect x="1231.00" y="142.34" width="18.20" height="18.17" fill="#8b356a"/>
<rect x="1248.90" y="142.34" width="18.20" height="18.17" fill="#8d376a"/>
<rect x="1266.80" y="142.34" width="18.20" height="18.17" fill="#8e386b"/>
<rect x="1284.70" y="142.34" width="18.20" height="18.17" fill="#8e386a"/>
<rect x="1302.60" y="142.34" width="36.10" height="18.17" fill="#8d386a"/>
<rect x="1338.40" y="142.34" width="18.20" height="18.17" fill="#8d386b"/>
<rect x="1356.30" y="142.34" width="18.20" height="18.17" fill="#8a356a"/>
<rect x="1374.20" y="142.34" width="18.20" height="18.17" fill="#833067"/>
<rect x="1392.10" y="142.34" width="17.90" height="18.17" fill="#6b7085"/>
<rect x="873.00" y="160.21" width="179.30" height="18.17" fill="#552597"/>
<rect x="1052.00" y="160.21" width="18.20" height="18.17" fill="#a4598a"/>
<rect x="1069.90" y="160.21" width="18.20" height="18.17" fill="#b0608f"/>
<rect x="1087.80" y="160.21" width="18.20" height="18.17" fill="#b25c8c"/>
<rect x="1105.70" y="160.21" width="18.20" height="18.17" fill="#ae5686"/>
<rect x="1123.60" y="160.21" width="18.20" height="18.17" fill="#ba3949"/>
<rect x="1141.50" y="160.21" width="18.20" height="18.17" fill="#9e4876"/>
<rect x="1159.40" y="160.21" width="18.20" height="18.17" fill="#943f70"/>
<rect x="1177.30" y="160.21" width="18.20" height="18.17" fill="#8e386c"/>
<rect x="1195.20" y="160.21" width="18.20" height="18.17" fill="#8a3569"/>
<rect x="1213.10" y="160.21" width="18.20" height="18.17" fill="#893569"/>
<rect x="1231.00" y="160.21" width="18.20" height="18.17" fill="#8b376a"/>
<rect x="1248.90" y="160.21" width="18.20" height="18.17" fill="#8c376b"/>
<rect x="1266.80" y="160.21" width="18.20" height="18.17" fill="#8c366a"/>
<rect x="1284.70" y="160.21" width="18.20" height="18.17" fill="#8c356a"/>
<rect x="1302.60" y="160.21" width="18.20" height="18.17" fill="#8c376a"/>
<rect x="1320.50" y="160.21" width="18.20" height="18.17" fill="#8c3769"/>
<rect x="1338.40" y="160.21" width="18.20" height="18.17" fill="#8c376a"/>
<rect x="1356.30" y="160.21" width="18.20" height="18.17" fill="#893469"/>
<rect x="1374.20" y="160.21" width="18.20" height="18.17" fill="#832f67"/>
<rect x="1392.10" y="160.21" width="17.90" height="18.17" fill="#6b6f83"/>
<rect x="873.00" y="178.07" width="179.30" height="18.17" fill="#552597"/>
<rect x="1052.00" y="178.07" width="18.20" height="18.17" fill="#a05687"/>
<rect x="1069.90" y="178.07" width="18.20" height="18.17" fill="#ae5f8e"/>
<rect x="1087.80" y="178.07" width="18.20" height="18.17" fill="#b25c8c"/>
<rect x="1105.70" y="178.07" width="18.20" height="18.17" fill="#b05788"/>
<rect x="1123.60" y="178.07" width="36.10" height="18.17" fill="#ba3949"/>
<rect x="1159.40" y="178.07" width="18.20" height="18.17" fill="#984272"/>
<rect x="1177.30" y="178.07" width="18.20" height="18.17" fill="#903b6d"/>
<rect x="1195.20" y="178.07" width="18.20" height="18.17" fill="#8c376a"/>
<rect x="1213.10" y="178.07" width="18.20" height="18.17" fill="#893669"/>
<rect x="1231.00" y="178.07" width="18.20" height="18.17" fill="#8a376a"/>
<rect x="1248.90" y="178.07" width="18.20" height="18.17" fill="#8a366b"/>
<rect x="1266.80" y="178.07" width="18.20" height="18.17" fill="#89346a"/>
<rect x="1284.70" y="178.07" width="18.20" height="18.17" fill="#89336a"/>
<rect x="1302.60" y="178.07" width="54.00" height="18.17" fill="#8a3569"/>
<rect x="1356.30" y="178.07" width="18.20" height="18.17" fill="#873369"/>
<rect x="1374.20" y="178.07" width="18.20" height="18.17" fill="#822e67"/>
<rect x="1392.10" y="178.07" width="17.90" height="18.17" fill="#696d84"/>
<rect x="873.00" y="195.94" width="179.30" height="18.17" fill="#552597"/>
<rect x="1052.00" y="195.94" width="18.20" height="18.17" fill="#9c5184"/>
<rect x="1069.90" y="195.94" width="18.20" height="18.17" fill="#aa5a8b"/>
<rect x="1087.80" y="195.94" width="18.20" height="18.17" fill="#b05a8b"/>
<rect x="1105.70" y="195.94" width="18.20" height="18.17" fill="#b15887"/>
<rect x="1123.60" y="195.94" width="18.20" height="18.17" fill="#ad5381"/>
<rect x="1141.50" y="195.94" width="18.20" height="18.17" fill="#ba3949"/>
<rect x="1159.40" y="195.94" width="18.20" height="18.17" fill="#9b4373"/>
<rect x="1177.30" y="195.94" width="18.20" height="18.17" fill="#933c6e"/>
<rect x="1195.20" y="195.94" width="18.20" height="18.17" fill="#8c386b"/>
<rect x="1213.10" y="195.94" width="18.20" height="18.17" fill="#87356a"/>
<rect x="1231.00" y="195.94" width="18.20" height="18.17" fill="#86356a"/>
<rect x="1248.90" y="195.94" width="18.20" height="18.17" fill="#85346a"/>
<rect x="1266.80" y="195.94" width="18.20" height="18.17" fill="#86336a"/>
<rect x="1284.70" y="195.94" width="18.20" height="18.17" fill="#873269"/>
<rect x="1302.60" y="195.94" width="36.10" height="18.17" fill="#883369"/>
<rect x="1338.40" y="195.94" width="18.20" height="18.17" fill="#873269"/>
<rect x="1356.30" y="195.94" width="18.20" height="18.17" fill="#853069"/>
<rect x="1374.20" y="195.94" width="18.20" height="18.17" fill="#812d68"/>
<rect x="1392.10" y="195.94" width="17.90" height="18.17" fill="#7e2b67"/>
<rect x="873.00" y="213.81" width="179.30" height="18.17" fill="#552597"/>
<rect x="1052.00" y="213.81" width="18.20" height="18.17" fill="#984d82"/>
<rect x="1069.90" y="213.81" width="18.20" height="18.17" fill="#a7578a"/>
<rect x="1087.80" y="213.81" width="18.20" height="18.17" fill="#b05a8b"/>
<rect x="1105.70" y="213.81" width="18.20" height="18.17" fill="#b25988"/>
<rect x="1123.60" y="213.81" width="18.20" height="18.17" fill="#ad5482"/>
<rect x="1141.50" y="213.81" width="18.20" height="18.17" fill="#a64d7c"/>
<rect x="1159.40" y="213.81" width="18.20" height="18.17" fill="#9d4474"/>
<rect x="1177.30" y="213.81" width="18.20" height="18.17" fill="#943d6f"/>
<rect x="1195.20" y="213.81" width="18.20" height="18.17" fill="#8c386c"/>
<rect x="1213.10" y="213.81" width="18.20" height="18.17" fill="#86356a"/>
<rect x="1231.00" y="213.81" width="18.20" height="18.17" fill="#84346a"/>
<rect x="1248.90" y="213.81" width="18.20" height="18.17" fill="#83336a"/>
<rect x="1266.80" y="213.81" width="18.20" height="18.17" fill="#843269"/>
<rect x="1284.70" y="213.81" width="18.20" height="18.17" fill="#853269"/>
<rect x="1302.60" y="213.81" width="36.10" height="18.17" fill="#863269"/>
<rect x="1338.40" y="213.81" width="18.20" height="18.17" fill="#863169"/>
<rect x="1356.30" y="213.81" width="18.20" height="18.17" fill="#843069"/>
<rect x="1374.20" y="213.81" width="18.20" height="18.17" fill="#802d68"/>
<rect x="1392.10" y="213.81" width="17.90" height="18.17" fill="#7e2b68"/>
<rect x="873.00" y="231.68" width="197.20" height="18.17" fill="#552597"/>
<rect x="1069.90" y="231.68" width="18.20" height="18.17" fill="#a4568b"/>
<rect x="1087.80" y="231.68" width="18.20" height="18.17" fill="#b05c8c"/>
<rect x="1105.70" y="231.68" width="18.20" height="18.17" fill="#b25b8a"/>
<rect x="1123.60" y="231.68" width="18.20" height="18.17" fill="#ac5485"/>
<rect x="1141.50" y="231.68" width="18.20" height="18.17" fill="#a54e7e"/>
<rect x="1159.40" y="231.68" width="18.20" height="18.17" fill="#9c4676"/>
<rect x="1177.30" y="231.68" width="18.20" height="18.17" fill="#943f70"/>
<rect x="1195.20" y="231.68" width="18.20" height="18.17" fill="#8c396c"/>
<rect x="1213.10" y="231.68" width="18.20" height="18.17" fill="#86346a"/>
<rect x="1231.00" y="231.68" width="18.20" height="18.17" fill="#83336a"/>
<rect x="1248.90" y="231.68" width="18.20" height="18.17" fill="#823169"/>
<rect x="1266.80" y="231.68" width="18.20" height="18.17" fill="#833169"/>
<rect x="1284.70" y="231.68" width="18.20" height="18.17" fill="#843169"/>
<rect x="1302.60" y="231.68" width="18.20" height="18.17" fill="#863169"/>
<rect x="1320.50" y="231.68" width="18.20" height="18.17" fill="#873269"/>
<rect x="1338.40" y="231.68" width="18.20" height="18.17" fill="#873369"/>
<rect x="1356.30" y="231.68" width="18.20" height="18.17" fill="#853269"/>
<rect x="1374.20" y="231.68" width="18.20" height="18.17" fill="#802e68"/>
<rect x="1392.10" y="231.68" width="17.90" height="18.17" fill="#7d2c68"/>
<rect x="873.00" y="249.54" width="197.20" height="18.17" fill="#552597"/>
<rect x="1069.90" y="249.54" width="18.20" height="18.17" fill="#a15489"/>
<rect x="1087.80" y="249.54" width="18.20" height="18.17" fill="#ae5b8d"/>
<rect x="1105.70" y="249.54" width="18.20" height="18.17" fill="#b15b8b"/>
<rect x="1123.60" y="249.54" width="18.20" height="18.17" fill="#a95384"/>
<rect x="1141.50" y="249.54" width="18.20" height="18.17" fill="#a24c7d"/>
<rect x="1159.40" y="249.54" width="18.20" height="18.17" fill="#9a4575"/>
<rect x="1177.30" y="249.54" width="18.20" height="18.17" fill="#923e6f"/>
<rect x="1195.20" y="249.54" width="18.20" height="18.17" fill="#8b386b"/>
<rect x="1213.10" y="249.54" width="18.20" height="18.17" fill="#863369"/>
<rect x="1231.00" y="249.54" width="18.20" height="18.17" fill="#843269"/>
<rect x="1248.90" y="249.54" width="18.20" height="18.17" fill="#833169"/>
<rect x="1266.80" y="249.54" width="18.20" height="18.17" fill="#833069"/>
<rect x="1284.70" y="249.54" width="18.20" height="18.17" fill="#853169"/>
<rect x="1302.60" y="249.54" width="18.20" height="18.17" fill="#863169"/>
<rect x="1320.50" y="249.54" width="18.20" height="18.17" fill="#873269"/>
<rect x="1338.40" y="249.54" width="18.20" height="18.17" fill="#873469"/>
<rect x="1356.30" y="249.54" width="18.20" height="18.17" fill="#853369"/>
<rect x="1374.20" y="249.54" width="18.20" height="18.17" fill="#802f68"/>
<rect x="1392.10" y="249.54" width="17.90" height="18.17" fill="#7d2d68"/>
<rect x="873.00" y="267.41" width="197.20" height="18.17" fill="#552597"/>
<rect x="1069.90" y="267.41" width="18.20" height="18.17" fill="#9b5085"/>
<rect x="1087.80" y="267.41" width="18.20" height="18.17" fill="#aa588b"/>
<rect x="1105.70" y="267.41" width="18.20" height="18.17" fill="#ae588a"/>
<rect x="1123.60" y="267.41" width="18.20" height="18.17" fill="#a55181"/>
<rect x="1141.50" y="267.41" width="18.20" height="18.17" fill="#9e497a"/>
<rect x="1159.40" y="267.41" width="18.20" height="18.17" fill="#964173"/>
<rect x="1177.30" y="267.41" width="18.20" height="18.17" fill="#8f3b6d"/>
<rect x="1195.20" y="267.41" width="18.20" height="18.17" fill="#89356a"/>
<rect x="1213.10" y="267.41" width="18.20" height="18.17" fill="#863269"/>
<rect x="1231.00" y="267.41" width="18.20" height="18.17" fill="#843168"/>
<rect x="1248.90" y="267.41" width="36.10" height="18.17" fill="#843069"/>
<rect x="1284.70" y="267.41" width="18.20" height="18.17" fill="#863169"/>
<rect x="1302.60" y="267.41" width="18.20" height="18.17" fill="#88326a"/>
<rect x="1320.50" y="267.41" width="18.20" height="18.17" fill="#88336a"/>
<rect x="1338.40" y="267.41" width="18.20" height="18.17" fill="#873469"/>
<rect x="1356.30" y="267.41" width="18.20" height="18.17" fill="#843369"/>
<rect x="1374.20" y="267.41" width="18.20" height="18.17" fill="#7f2f68"/>
<rect x="1392.10" y="267.41" width="17.90" height="18.17" fill="#7d2d68"/>
<rect x="873.00" y="285.28" width="197.20" height="18.17" fill="#552597"/>
<rect x="1069.90" y="285.28" width="18.20" height="18.17" fill="#964d82"/>
<rect x="1087.80" y="285.28" width="18.20" height="18.17" fill="#a6568a"/>
<rect x="1105.70" y="285.28" width="18.20" height="18.17" fill="#ab5689"/>
<rect x="1123.60" y="285.28" width="18.20" height="18.17" fill="#a34f81"/>
<rect x="1141.50" y="285.28" width="18.20" height="18.17" fill="#9c4879"/>
<rect x="1159.40" y="285.28" width="18.20" height="18.17" fill="#933f71"/>
<rect x="1177.30" y="285.28" width="18.20" height="18.17" fill="#8d396c"/>
<rect x="1195.20" y="285.28" width="18.20" height="18.17" fill="#88356a"/>
<rect x="1213.10" y="285.28" width="54.00" height="18.17" fill="#863269"/>
<rect x="1266.80" y="285.28" width="18.20" height="18.17" fill="#873369"/>
<rect x="1284.70" y="285.28" width="18.20" height="18.17" fill="#89346a"/>
<rect x="1302.60" y="285.28" width="18.20" height="18.17" fill="#8b366a"/>
<rect x="1320.50" y="285.28" width="18.20" height="18.17" fill="#8c366b"/>
<rect x="1338.40" y="285.28" width="18.20" height="18.17" fill="#8b376a"/>
<rect x="1356.30" y="285.28" width="18.20" height="18.17" fill="#883569"/>
<rect x="1374.20" y="285.28" width="18.20" height="18.17" fill="#833168"/>
<rect x="1392.10" y="285.28" width="17.90" height="18.17" fill="#802f68"/>
<rect x="873.00" y="303.15" width="215.10" height="18.17" fill="#552597"/>
<rect x="1087.80" y="303.15" width="18.20" height="18.17" fill="#a35488"/>
<rect x="1105.70" y="303.15" width="18.20" height="18.17" fill="#a9578a"/>
<rect x="1123.60" y="303.15" width="18.20" height="18.17" fill="#a45083"/>
<rect x="1141.50" y="303.15" width="18.20" height="18.17" fill="#9c487a"/>
<rect x="1159.40" y="303.15" width="18.20" height="18.17" fill="#923f71"/>
<rect x="1177.30" y="303.15" width="18.20" height="18.17" fill="#8b396c"/>
<rect x="1195.20" y="303.15" width="18.20" height="18.17" fill="#88366b"/>
<rect x="1213.10" y="303.15" width="18.20" height="18.17" fill="#87346a"/>
<rect x="1231.00" y="303.15" width="18.20" height="18.17" fill="#88356a"/>
<rect x="1248.90" y="303.15" width="18.20" height="18.17" fill="#893669"/>
<rect x="1266.80" y="303.15" width="18.20" height="18.17" fill="#8b3769"/>
<rect x="1284.70" y="303.15" width="18.20" height="18.17" fill="#8d396a"/>
<rect x="1302.60" y="303.15" width="18.20" height="18.17" fill="#913c6c"/>
<rect x="1320.50" y="303.15" width="18.20" height="18.17" fill="#933c6c"/>
<rect x="1338.40" y="303.15" width="18.20" height="18.17" fill="#923b6b"/>
<rect x="1356.30" y="303.15" width="18.20" height="18.17" fill="#8f396a"/>
<rect x="1374.20" y="303.15" width="18.20" height="18.17" fill="#893568"/>
<rect x="1392.10" y="303.15" width="17.90" height="18.17" fill="#873467"/>
<rect x="873.00" y="321.01" width="215.10" height="18.17" fill="#552597"/>
<rect x="1087.80" y="321.01" width="18.20" height="18.17" fill="#9e5386"/>
<rect x="1105.70" y="321.01" width="18.20" height="18.17" fill="#a75689"/>
<rect x="1123.60" y="321.01" width="18.20" height="18.17" fill="#a45084"/>
<rect x="1141.50" y="321.01" width="18.20" height="18.17" fill="#9c477c"/>
<rect x="1159.40" y="321.01" width="18.20" height="18.17" fill="#913e71"/>
<rect x="1177.30" y="321.01" width="18.20" height="18.17" fill="#8a386b"/>
<rect x="1195.20" y="321.01" width="18.20" height="18.17" fill="#87366b"/>
<rect x="1213.10" y="321.01" width="18.20" height="18.17" fill="#87356b"/>
<rect x="1231.00" y="321.01" width="18.20" height="18.17" fill="#89366a"/>
<rect x="1248.90" y="321.01" width="18.20" height="18.17" fill="#8b3869"/>
<rect x="1266.80" y="321.01" width="18.20" height="18.17" fill="#8d3969"/>
<rect x="1284.70" y="321.01" width="18.20" height="18.17" fill="#8f3c6a"/>
<rect x="1302.60" y="321.01" width="18.20" height="18.17" fill="#933f6c"/>
<rect x="1320.50" y="321.01" width="18.20" height="18.17" fill="#963f6d"/>
<rect x="1338.40" y="321.01" width="18.20" height="18.17" fill="#963d6c"/>
<rect x="1356.30" y="321.01" width="18.20" height="18.17" fill="#933b6a"/>
<rect x="1374.20" y="321.01" width="18.20" height="18.17" fill="#8e3868"/>
<rect x="1392.10" y="321.01" width="17.90" height="18.17" fill="#8b3767"/>
<rect x="873.00" y="338.88" width="215.10" height="18.17" fill="#552597"/>
<rect x="1087.80" y="338.88" width="18.20" height="18.17" fill="#985183"/>
<rect x="1105.70" y="338.88" width="18.20" height="18.17" fill="#a25588"/>
<rect x="1123.60" y="338.88" width="18.20" height="18.17" fill="#a34f84"/>
<rect x="1141.50" y="338.88" width="18.20" height="18.17" fill="#9d477c"/>
<rect x="1159.40" y="338.88" width="18.20" height="18.17" fill="#903d71"/>
<rect x="1177.30" y="338.88" width="18.20" height="18.17" fill="#89376b"/>
<rect x="1195.20" y="338.88" width="18.20" height="18.17" fill="#86366b"/>
<rect x="1213.10" y="338.88" width="18.20" height="18.17" fill="#87356b"/>
<rect x="1231.00" y="338.88" width="18.20" height="18.17" fill="#89366a"/>
<rect x="1248.90" y="338.88" width="18.20" height="18.17" fill="#8b3869"/>
<rect x="1266.80" y="338.88" width="18.20" height="18.17" fill="#8c3969"/>
<rect x="1284.70" y="338.88" width="18.20" height="18.17" fill="#8f3c6a"/>
<rect x="1302.60" y="338.88" width="18.20" height="18.17" fill="#923e6c"/>
<rect x="1320.50" y="338.88" width="18.20" height="18.17" fill="#953f6d"/>
<rect x="1338.40" y="338.88" width="18.20" height="18.17" fill="#963e6c"/>
<rect x="1356.30" y="338.88" width="18.20" height="18.17" fill="#953c6b"/>
<rect x="1374.20" y="338.88" width="18.20" height="18.17" fill="#903968"/>
<rect x="1392.10" y="338.88" width="17.90" height="18.17" fill="#8d3867"/>
<rect x="873.00" y="356.75" width="233.00" height="18.17" fill="#552597"/>
<rect x="1105.70" y="356.75" width="18.20" height="18.17" fill="#a05486"/>
<rect x="1123.60" y="356.75" width="18.20" height="18.17" fill="#a34f84"/>
<rect x="1141.50" y="356.75" width="18.20" height="18.17" fill="#9d477d"/>
<rect x="1159.40" y="356.75" width="18.20" height="18.17" fill="#903d71"/>
<rect x="1177.30" y="356.75" width="18.20" height="18.17" fill="#88376b"/>
<rect x="1195.20" y="356.75" width="18.20" height="18.17" fill="#86356a"/>
<rect x="1213.10" y="356.75" width="18.20" height="18.17" fill="#87356a"/>
<rect x="1231.00" y="356.75" width="18.20" height="18.17" fill="#8a3769"/>
<rect x="1248.90" y="356.75" width="18.20" height="18.17" fill="#8c3869"/>
<rect x="1266.80" y="356.75" width="18.20" height="18.17" fill="#8d3969"/>
<rect x="1284.70" y="356.75" width="18.20" height="18.17" fill="#8e3a6a"/>
<rect x="1302.60" y="356.75" width="18.20" height="18.17" fill="#8f3c6b"/>
<rect x="1320.50" y="356.75" width="18.20" height="18.17" fill="#913c6c"/>
<rect x="1338.40" y="356.75" width="18.20" height="18.17" fill="#943c6c"/>
<rect x="1356.30" y="356.75" width="18.20" height="18.17" fill="#943b6a"/>
<rect x="1374.20" y="356.75" width="18.20" height="18.17" fill="#913a69"/>
<rect x="1392.10" y="356.75" width="17.90" height="18.17" fill="#8f3968"/>
<rect x="873.00" y="374.62" width="233.00" height="18.17" fill="#552597"/>
<rect x="1105.70" y="374.62" width="18.20" height="18.17" fill="#a05385"/>
<rect x="1123.60" y="374.62" width="18.20" height="18.17" fill="#a45085"/>
<rect x="1141.50" y="374.62" width="18.20" height="18.17" fill="#9e497e"/>
<rect x="1159.40" y="374.62" width="18.20" height="18.17" fill="#903e72"/>
<rect x="1177.30" y="374.62" width="18.20" height="18.17" fill="#87376b"/>
<rect x="1195.20" y="374.62" width="18.20" height="18.17" fill="#853469"/>
<rect x="1213.10" y="374.62" width="18.20" height="18.17" fill="#873568"/>
<rect x="1231.00" y="374.62" width="18.20" height="18.17" fill="#8c3868"/>
<rect x="1248.90" y="374.62" width="18.20" height="18.17" fill="#8e3969"/>
<rect x="1266.80" y="374.62" width="18.20" height="18.17" fill="#8d386a"/>
<rect x="1284.70" y="374.62" width="18.20" height="18.17" fill="#8c386a"/>
<rect x="1302.60" y="374.62" width="18.20" height="18.17" fill="#8b376b"/>
<rect x="1320.50" y="374.62" width="18.20" height="18.17" fill="#8c376a"/>
<rect x="1338.40" y="374.62" width="18.20" height="18.17" fill="#8d376a"/>
<rect x="1356.30" y="374.62" width="18.20" height="18.17" fill="#8f386a"/>
<rect x="1374.20" y="374.62" width="18.20" height="18.17" fill="#91396a"/>
<rect x="1392.10" y="374.62" width="17.90" height="18.17" fill="#923a6a"/>
<rect x="873.00" y="392.49" width="233.00" height="18.17" fill="#552597"/>
<rect x="1105.70" y="392.49" width="18.20" height="18.17" fill="#9e5184"/>
<rect x="1123.60" y="392.49" width="18.20" height="18.17" fill="#a55386"/>
<rect x="1141.50" y="392.49" width="18.20" height="18.17" fill="#a14d81"/>
<rect x="1159.40" y="392.49" width="18.20" height="18.17" fill="#934075"/>
<rect x="1177.30" y="392.49" width="18.20" height="18.17" fill="#89386d"/>
<rect x="1195.20" y="392.49" width="18.20" height="18.17" fill="#853469"/>
<rect x="1213.10" y="392.49" width="18.20" height="18.17" fill="#863467"/>
<rect x="1231.00" y="392.49" width="18.20" height="18.17" fill="#8d3868"/>
<rect x="1248.90" y="392.49" width="18.20" height="18.17" fill="#8e3969"/>
<rect x="1266.80" y="392.49" width="18.20" height="18.17" fill="#8b366a"/>
<rect x="1284.70" y="392.49" width="18.20" height="18.17" fill="#88336a"/>
<rect x="1302.60" y="392.49" width="18.20" height="18.17" fill="#86326a"/>
<rect x="1320.50" y="392.49" width="18.20" height="18.17" fill="#863169"/>
<rect x="1338.40" y="392.49" width="18.20" height="18.17" fill="#883269"/>
<rect x="1356.30" y="392.49" width="18.20" height="18.17" fill="#8b3569"/>
<rect x="1374.20" y="392.49" width="18.20" height="18.17" fill="#90396b"/>
<rect x="1392.10" y="392.49" width="17.90" height="18.17" fill="#933b6b"/>
<rect x="873.00" y="410.35" width="233.00" height="18.17" fill="#552597"/>
<rect x="1105.70" y="410.35" width="18.20" height="18.17" fill="#9c5084"/>
<rect x="1123.60" y="410.35" width="18.20" height="18.17" fill="#a75688"/>
<rect x="1141.50" y="410.35" width="18.20" height="18.17" fill="#a75384"/>
<rect x="1159.40" y="410.35" width="18.20" height="18.17" fill="#994579"/>
<rect x="1177.30" y="410.35" width="18.20" height="18.17" fill="#8e3b71"/>
<rect x="1195.20" y="410.35" width="18.20" height="18.17" fill="#86346b"/>
<rect x="1213.10" y="410.35" width="18.20" height="18.17" fill="#853268"/>
<rect x="1231.00" y="410.35" width="18.20" height="18.17" fill="#8b3768"/>
<rect x="1248.90" y="410.35" width="18.20" height="18.17" fill="#8b3769"/>
<rect x="1266.80" y="410.35" width="18.20" height="18.17" fill="#853169"/>
<rect x="1284.70" y="410.35" width="18.20" height="18.17" fill="#812e69"/>
<rect x="1302.60" y="410.35" width="36.10" height="18.17" fill="#7f2c69"/>
<rect x="1338.40" y="410.35" width="18.20" height="18.17" fill="#822e69"/>
<rect x="1356.30" y="410.35" width="18.20" height="18.17" fill="#87316a"/>
<rect x="1374.20" y="410.35" width="18.20" height="18.17" fill="#8e386b"/>
<rect x="1392.10" y="410.35" width="17.90" height="18.17" fill="#923b6b"/>
<rect x="873.00" y="428.22" width="250.90" height="18.17" fill="#552597"/>
<rect x="1123.60" y="428.22" width="18.20" height="18.17" fill="#a75889"/>
<rect x="1141.50" y="428.22" width="18.20" height="18.17" fill="#a95787"/>
<rect x="1159.40" y="428.22" width="18.20" height="18.17" fill="#9e4a7d"/>
<rect x="1177.30" y="428.22" width="18.20" height="18.17" fill="#933f75"/>
<rect x="1195.20" y="428.22" width="18.20" height="18.17" fill="#89366e"/>
<rect x="1213.10" y="428.22" width="18.20" height="18.17" fill="#85336a"/>
<rect x="1231.00" y="428.22" width="18.20" height="18.17" fill="#893669"/>
<rect x="1248.90" y="428.22" width="18.20" height="18.17" fill="#883568"/>
<rect x="1266.80" y="428.22" width="18.20" height="18.17" fill="#832f69"/>
<rect x="1284.70" y="428.22" width="18.20" height="18.17" fill="#802c69"/>
<rect x="1302.60" y="428.22" width="18.20" height="18.17" fill="#7e2c68"/>
<rect x="1320.50" y="428.22" width="18.20" height="18.17" fill="#7f2c68"/>
<rect x="1338.40" y="428.22" width="18.20" height="18.17" fill="#822e69"/>
<rect x="1356.30" y="428.22" width="18.20" height="18.17" fill="#87316a"/>
<rect x="1374.20" y="428.22" width="18.20" height="18.17" fill="#8f386a"/>
<rect x="1392.10" y="428.22" width="17.90" height="18.17" fill="#933b6b"/>
<rect x="873.00" y="446.09" width="250.90" height="18.17" fill="#552597"/>
<rect x="1123.60" y="446.09" width="18.20" height="18.17" fill="#a55889"/>
<rect x="1141.50" y="446.09" width="18.20" height="18.17" fill="#aa598a"/>
<rect x="1159.40" y="446.09" width="18.20" height="18.17" fill="#a24f81"/>
<rect x="1177.30" y="446.09" width="18.20" height="18.17" fill="#984579"/>
<rect x="1195.20" y="446.09" width="18.20" height="18.17" fill="#8c3a71"/>
<rect x="1213.10" y="446.09" width="18.20" height="18.17" fill="#87356c"/>
<rect x="1231.00" y="446.09" width="18.20" height="18.17" fill="#883569"/>
<rect x="1248.90" y="446.09" width="18.20" height="18.17" fill="#873468"/>
<rect x="1266.80" y="446.09" width="18.20" height="18.17" fill="#843068"/>
<rect x="1284.70" y="446.09" width="18.20" height="18.17" fill="#832f69"/>
<rect x="1302.60" y="446.09" width="18.20" height="18.17" fill="#832f68"/>
<rect x="1320.50" y="446.09" width="18.20" height="18.17" fill="#843068"/>
<rect x="1338.40" y="446.09" width="18.20" height="18.17" fill="#873269"/>
<rect x="1356.30" y="446.09" width="18.20" height="18.17" fill="#8b3569"/>
<rect x="1374.20" y="446.09" width="18.20" height="18.17" fill="#92396a"/>
<rect x="1392.10" y="446.09" width="17.90" height="18.17" fill="#953b6b"/>
<rect x="873.00" y="463.96" width="250.90" height="18.17" fill="#552597"/>
<rect x="1123.60" y="463.96" width="18.20" height="18.17" fill="#a25688"/>
<rect x="1141.50" y="463.96" width="18.20" height="18.17" fill="#aa5b8b"/>
<rect x="1159.40" y="463.96" width="18.20" height="18.17" fill="#a75585"/>
<rect x="1177.30" y="463.96" width="18.20" height="18.17" fill="#9f4c7e"/>
<rect x="1195.20" y="463.96" width="18.20" height="18.17" fill="#914074"/>
<rect x="1213.10" y="463.96" width="18.20" height="18.17" fill="#89386d"/>
<rect x="1231.00" y="463.96" width="18.20" height="18.17" fill="#88356a"/>
<rect x="1248.90" y="463.96" width="18.20" height="18.17" fill="#873468"/>
<rect x="1266.80" y="463.96" width="18.20" height="18.17" fill="#883369"/>
<rect x="1284.70" y="463.96" width="18.20" height="18.17" fill="#893369"/>
<rect x="1302.60" y="463.96" width="18.20" height="18.17" fill="#8a3469"/>
<rect x="1320.50" y="463.96" width="18.20" height="18.17" fill="#8b3669"/>
<rect x="1338.40" y="463.96" width="18.20" height="18.17" fill="#8d376a"/>
<rect x="1356.30" y="463.96" width="18.20" height="18.17" fill="#91396a"/>
<rect x="1374.20" y="463.96" width="18.20" height="18.17" fill="#953b6b"/>
<rect x="1392.10" y="463.96" width="17.90" height="18.17" fill="#983c6c"/>
<rect x="873.00" y="481.82" width="250.90" height="18.17" fill="#552597"/>
<rect x="1123.60" y="481.82" width="18.20" height="18.17" fill="#9e5486"/>
<rect x="1141.50" y="481.82" width="18.20" height="18.17" fill="#aa5c8b"/>
<rect x="1159.40" y="481.82" width="18.20" height="18.17" fill="#af5c89"/>
<rect x="1177.30" y="481.82" width="18.20" height="18.17" fill="#a85482"/>
<rect x="1195.20" y="481.82" width="18.20" height="18.17" fill="#974576"/>
<rect x="1213.10" y="481.82" width="18.20" height="18.17" fill="#8d3b6e"/>
<rect x="1231.00" y="481.82" width="18.20" height="18.17" fill="#89366b"/>
<rect x="1248.90" y="481.82" width="18.20" height="18.17" fill="#89356a"/>
<rect x="1266.80" y="481.82" width="18.20" height="18.17" fill="#8f386b"/>
<rect x="1284.70" y="481.82" width="18.20" height="18.17" fill="#92396b"/>
<rect x="1302.60" y="481.82" width="18.20" height="18.17" fill="#923b6c"/>
<rect x="1320.50" y="481.82" width="18.20" height="18.17" fill="#933c6c"/>
<rect x="1338.40" y="481.82" width="18.20" height="18.17" fill="#943c6c"/>
<rect x="1356.30" y="481.82" width="18.20" height="18.17" fill="#963c6c"/>
<rect x="1374.20" y="481.82" width="18.20" height="18.17" fill="#993e6e"/>
<rect x="1392.10" y="481.82" width="17.90" height="18.17" fill="#9b3f6e"/>
<rect x="873.00" y="499.69" width="268.80" height="18.17" fill="#552597"/>
<rect x="1141.50" y="499.69" width="18.20" height="18.17" fill="#a65989"/>
<rect x="1159.40" y="499.69" width="18.20" height="18.17" fill="#b05e8c"/>
<rect x="1177.30" y="499.69" width="18.20" height="18.17" fill="#ac5886"/>
<rect x="1195.20" y="499.69" width="18.20" height="18.17" fill="#9c4a79"/>
<rect x="1213.10" y="499.69" width="18.20" height="18.17" fill="#913f70"/>
<rect x="1231.00" y="499.69" width="18.20" height="18.17" fill="#8a376c"/>
<rect x="1248.90" y="499.69" width="18.20" height="18.17" fill="#8a366a"/>
<rect x="1266.80" y="499.69" width="18.20" height="18.17" fill="#92396c"/>
<rect x="1284.70" y="499.69" width="18.20" height="18.17" fill="#953c6d"/>
<rect x="1302.60" y="499.69" width="18.20" height="18.17" fill="#963d6d"/>
<rect x="1320.50" y="499.69" width="18.20" height="18.17" fill="#963e6d"/>
<rect x="1338.40" y="499.69" width="18.20" height="18.17" fill="#963d6c"/>
<rect x="1356.30" y="499.69" width="18.20" height="18.17" fill="#983d6d"/>
<rect x="1374.20" y="499.69" width="18.20" height="18.17" fill="#9b406f"/>
<rect x="1392.10" y="499.69" width="17.90" height="18.17" fill="#9d416f"/>
<rect x="873.00" y="517.56" width="268.80" height="18.17" fill="#552597"/>
<rect x="1141.50" y="517.56" width="18.20" height="18.17" fill="#9e5385"/>
<rect x="1159.40" y="517.56" width="18.20" height="18.17" fill="#ab5b8b"/>
<rect x="1177.30" y="517.56" width="18.20" height="18.17" fill="#ac5988"/>
<rect x="1195.20" y="517.56" width="18.20" height="18.17" fill="#a04d7d"/>
<rect x="1213.10" y="517.56" width="18.20" height="18.17" fill="#954374"/>
<rect x="1231.00" y="517.56" width="18.20" height="18.17" fill="#8c396d"/>
<rect x="1248.90" y="517.56" width="18.20" height="18.17" fill="#8a356b"/>
<rect x="1266.80" y="517.56" width="18.20" height="18.17" fill="#91386c"/>
<rect x="1284.70" y="517.56" width="18.20" height="18.17" fill="#943a6d"/>
<rect x="1302.60" y="517.56" width="18.20" height="18.17" fill="#943c6d"/>
<rect x="1320.50" y="517.56" width="18.20" height="18.17" fill="#953c6c"/>
<rect x="1338.40" y="517.56" width="18.20" height="18.17" fill="#943a6c"/>
<rect x="1356.30" y="517.56" width="18.20" height="18.17" fill="#963b6c"/>
<rect x="1374.20" y="517.56" width="18.20" height="18.17" fill="#9a3f6f"/>
<rect x="1392.10" y="517.56" width="17.90" height="18.17" fill="#9d4170"/>
<rect x="873.00" y="535.43" width="286.70" height="18.17" fill="#552597"/>
<rect x="1159.40" y="535.43" width="18.20" height="18.17" fill="#a7588c"/>
<rect x="1177.30" y="535.43" width="18.20" height="18.17" fill="#ac598c"/>
<rect x="1195.20" y="535.43" width="18.20" height="18.17" fill="#a55182"/>
<rect x="1213.10" y="535.43" width="18.20" height="18.17" fill="#9c4879"/>
<rect x="1231.00" y="535.43" width="18.20" height="18.17" fill="#913c71"/>
<rect x="1248.90" y="535.43" width="18.20" height="18.17" fill="#8c376c"/>
<rect x="1266.80" y="535.43" width="18.20" height="18.17" fill="#90386c"/>
<rect x="1284.70" y="535.43" width="18.20" height="18.17" fill="#91396c"/>
<rect x="1302.60" y="535.43" width="18.20" height="18.17" fill="#923b6c"/>
<rect x="1320.50" y="535.43" width="18.20" height="18.17" fill="#933b6c"/>
<rect x="1338.40" y="535.43" width="18.20" height="18.17" fill="#93396b"/>
<rect x="1356.30" y="535.43" width="18.20" height="18.17" fill="#953a6c"/>
<rect x="1374.20" y="535.43" width="18.20" height="18.17" fill="#993f6e"/>
<rect x="1392.10" y="535.43" width="17.90" height="18.17" fill="#9b416f"/>
<rect x="873.00" y="553.29" width="286.70" height="18.17" fill="#552597"/>
<rect x="1159.40" y="553.29" width="18.20" height="18.17" fill="#a3558c"/>
<rect x="1177.30" y="553.29" width="18.20" height="18.17" fill="#ac5a90"/>
<rect x="1195.20" y="553.29" width="18.20" height="18.17" fill="#aa5688"/>
<rect x="1213.10" y="553.29" width="18.20" height="18.17" fill="#a44e7f"/>
<rect x="1231.00" y="553.29" width="18.20" height="18.17" fill="#974176"/>
<rect x="1248.90" y="553.29" width="18.20" height="18.17" fill="#903a6f"/>
<rect x="1266.80" y="553.29" width="18.20" height="18.17" fill="#8e396c"/>
<rect x="1284.70" y="553.29" width="18.20" height="18.17" fill="#8e396b"/>
<rect x="1302.60" y="553.29" width="18.20" height="18.17" fill="#8f3a6b"/>
<rect x="1320.50" y="553.29" width="18.20" height="18.17" fill="#903a6b"/>
<rect x="1338.40" y="553.29" width="18.20" height="18.17" fill="#92396b"/>
<rect x="1356.30" y="553.29" width="18.20" height="18.17" fill="#943a6b"/>
<rect x="1374.20" y="553.29" width="18.20" height="18.17" fill="#973e6d"/>
<rect x="1392.10" y="553.29" width="17.90" height="18.17" fill="#993f6e"/>
<rect x="873.00" y="571.16" width="286.70" height="18.17" fill="#552597"/>
<rect x="1159.40" y="571.16" width="18.20" height="18.17" fill="#9f538a"/>
<rect x="1177.30" y="571.16" width="18.20" height="18.17" fill="#aa5a8f"/>
<rect x="1195.20" y="571.16" width="18.20" height="18.17" fill="#ae598b"/>
<rect x="1213.10" y="571.16" width="18.20" height="18.17" fill="#a95284"/>
<rect x="1231.00" y="571.16" width="18.20" height="18.17" fill="#9c467a"/>
<rect x="1248.90" y="571.16" width="18.20" height="18.17" fill="#943e72"/>
<rect x="1266.80" y="571.16" width="18.20" height="18.17" fill="#8f3a6d"/>
<rect x="1284.70" y="571.16" width="18.20" height="18.17" fill="#8d396a"/>
<rect x="1302.60" y="571.16" width="18.20" height="18.17" fill="#8e3a6b"/>
<rect x="1320.50" y="571.16" width="18.20" height="18.17" fill="#903a6b"/>
<rect x="1338.40" y="571.16" width="18.20" height="18.17" fill="#92396b"/>
<rect x="1356.30" y="571.16" width="18.20" height="18.17" fill="#943a6b"/>
<rect x="1374.20" y="571.16" width="18.20" height="18.17" fill="#963d6c"/>
<rect x="1392.10" y="571.16" width="17.90" height="18.17" fill="#973e6c"/>
<rect x="873.00" y="589.03" width="286.70" height="18.17" fill="#552597"/>
<rect x="1159.40" y="589.03" width="18.20" height="18.17" fill="#9b5084"/>
<rect x="1177.30" y="589.03" width="18.20" height="18.17" fill="#a8598b"/>
<rect x="1195.20" y="589.03" width="18.20" height="18.17" fill="#af5a8d"/>
<rect x="1213.10" y="589.03" width="18.20" height="18.17" fill="#ab5587"/>
<rect x="1231.00" y="589.03" width="18.20" height="18.17" fill="#a0497d"/>
<rect x="1248.90" y="589.03" width="18.20" height="18.17" fill="#974174"/>
<rect x="1266.80" y="589.03" width="18.20" height="18.17" fill="#903c6e"/>
<rect x="1284.70" y="589.03" width="18.20" height="18.17" fill="#8e3a6b"/>
<rect x="1302.60" y="589.03" width="18.20" height="18.17" fill="#903b6b"/>
<rect x="1320.50" y="589.03" width="18.20" height="18.17" fill="#913b6b"/>
<rect x="1338.40" y="589.03" width="18.20" height="18.17" fill="#933a6b"/>
<rect x="1356.30" y="589.03" width="18.20" height="18.17" fill="#943a6b"/>
<rect x="1374.20" y="589.03" width="18.20" height="18.17" fill="#953c6b"/>
<rect x="1392.10" y="589.03" width="17.90" height="18.17" fill="#963c6b"/>
<rect x="873.00" y="606.90" width="286.70" height="18.17" fill="#552597"/>
<rect x="1159.40" y="606.90" width="18.20" height="18.17" fill="#974e81"/>
<rect x="1177.30" y="606.90" width="18.20" height="18.17" fill="#a65889"/>
<rect x="1195.20" y="606.90" width="18.20" height="18.17" fill="#af5c8e"/>
<rect x="1213.10" y="606.90" width="18.20" height="18.17" fill="#ad578a"/>
<rect x="1231.00" y="606.90" width="18.20" height="18.17" fill="#a24c7f"/>
<rect x="1248.90" y="606.90" width="18.20" height="18.17" fill="#984476"/>
<rect x="1266.80" y="606.90" width="18.20" height="18.17" fill="#913e6e"/>
<rect x="1284.70" y="606.90" width="18.20" height="18.17" fill="#8e3b6b"/>
<rect x="1302.60" y="606.90" width="18.20" height="18.17" fill="#903c6b"/>
<rect x="1320.50" y="606.90" width="18.20" height="18.17" fill="#923c6b"/>
<rect x="1338.40" y="606.90" width="36.10" height="18.17" fill="#943b6b"/>
<rect x="1374.20" y="606.90" width="35.80" height="18.17" fill="#953c6b"/>
<rect x="873.00" y="624.76" width="304.60" height="18.17" fill="#552597"/>
<rect x="1177.30" y="624.76" width="18.20" height="18.17" fill="#a35689"/>
<rect x="1195.20" y="624.76" width="18.20" height="18.17" fill="#ae5d8e"/>
<rect x="1213.10" y="624.76" width="18.20" height="18.17" fill="#ae5a8a"/>
<rect x="1231.00" y="624.76" width="18.20" height="18.17" fill="#a24e7f"/>
<rect x="1248.90" y="624.76" width="18.20" height="18.17" fill="#994576"/>
<rect x="1266.80" y="624.76" width="18.20" height="18.17" fill="#903e6e"/>
<rect x="1284.70" y="624.76" width="18.20" height="18.17" fill="#8d3b6b"/>
<rect x="1302.60" y="624.76" width="18.20" height="18.17" fill="#913c6b"/>
<rect x="1320.50" y="624.76" width="36.10" height="18.17" fill="#ba3949"/>
<rect x="1356.30" y="624.76" width="18.20" height="18.17" fill="#953c6b"/>
<rect x="1374.20" y="624.76" width="35.80" height="18.17" fill="#963c6a"/>
<rect x="873.00" y="642.63" width="304.60" height="18.17" fill="#552597"/>
<rect x="1177.30" y="642.63" width="18.20" height="18.17" fill="#9f5488"/>
<rect x="1195.20" y="642.63" width="18.20" height="18.17" fill="#ad5d8d"/>
<rect x="1213.10" y="642.63" width="18.20" height="18.17" fill="#ae5b89"/>
<rect x="1231.00" y="642.63" width="18.20" height="18.17" fill="#a34f7e"/>
<rect x="1248.90" y="642.63" width="18.20" height="18.17" fill="#ba3949"/>
<rect x="1266.80" y="642.63" width="18.20" height="18.17" fill="#8f3d6d"/>
<rect x="1284.70" y="642.63" width="18.20" height="18.17" fill="#8c3a6a"/>
<rect x="1302.60" y="642.63" width="54.00" height="18.17" fill="#ba3949"/>
<rect x="1356.30" y="642.63" width="18.20" height="18.17" fill="#953c6a"/>
<rect x="1374.20" y="642.63" width="18.20" height="18.17" fill="#943b6a"/>
<rect x="1392.10" y="642.63" width="17.90" height="18.17" fill="#933b69"/>
<rect x="873.00" y="660.50" width="304.60" height="18.17" fill="#552597"/>
<rect x="1177.30" y="660.50" width="18.20" height="18.17" fill="#9b5187"/>
<rect x="1195.20" y="660.50" width="18.20" height="18.17" fill="#ab5b8c"/>
<rect x="1213.10" y="660.50" width="18.20" height="18.17" fill="#ae5a88"/>
<rect x="1231.00" y="660.50" width="18.20" height="18.17" fill="#a24e7c"/>
<rect x="1248.90" y="660.50" width="36.10" height="18.17" fill="#ba3949"/>
<rect x="1284.70" y="660.50" width="18.20" height="18.17" fill="#893867"/>
<rect x="1302.60" y="660.50" width="54.00" height="18.17" fill="#ba3949"/>
<rect x="1356.30" y="660.50" width="18.20" height="18.17" fill="#933b6a"/>
<rect x="1374.20" y="660.50" width="18.20" height="18.17" fill="#903969"/>
<rect x="1392.10" y="660.50" width="17.90" height="18.17" fill="#8e3868"/>
<rect x="873.00" y="678.37" width="304.60" height="18.17" fill="#552597"/>
<rect x="1177.30" y="678.37" width="18.20" height="18.17" fill="#974f85"/>
<rect x="1195.20" y="678.37" width="18.20" height="18.17" fill="#aa5a8b"/>
<rect x="1213.10" y="678.37" width="18.20" height="18.17" fill="#ad5987"/>
<rect x="1231.00" y="678.37" width="18.20" height="18.17" fill="#a14d7b"/>
<rect x="1248.90" y="678.37" width="36.10" height="18.17" fill="#ba3949"/>
<rect x="1284.70" y="678.37" width="18.20" height="18.17" fill="#883666"/>
<rect x="1302.60" y="678.37" width="36.10" height="18.17" fill="#ba3949"/>
<rect x="1338.40" y="678.37" width="18.20" height="18.17" fill="#923b6a"/>
<rect x="1356.30" y="678.37" width="18.20" height="18.17" fill="#903a6a"/>
<rect x="1374.20" y="678.37" width="18.20" height="18.17" fill="#8c3769"/>
<rect x="1392.10" y="678.37" width="17.90" height="18.17" fill="#893669"/>
<rect x="873.00" y="696.24" width="304.60" height="18.17" fill="#552597"/>
<rect x="1177.30" y="696.24" width="18.20" height="18.17" fill="#964d84"/>
<rect x="1195.20" y="696.24" width="18.20" height="18.17" fill="#a8588b"/>
<rect x="1213.10" y="696.24" width="18.20" height="18.17" fill="#ab5787"/>
<rect x="1231.00" y="696.24" width="36.10" height="18.17" fill="#ba3949"/>
<rect x="1266.80" y="696.24" width="18.20" height="18.17" fill="#8b3969"/>
<rect x="1284.70" y="696.24" width="18.20" height="18.17" fill="#883666"/>
<rect x="1302.60" y="696.24" width="18.20" height="18.17" fill="#8c3868"/>
<rect x="1320.50" y="696.24" width="18.20" height="18.17" fill="#8e3969"/>
<rect x="1338.40" y="696.24" width="18.20" height="18.17" fill="#903a6a"/>
<rect x="1356.30" y="696.24" width="18.20" height="18.17" fill="#8e396a"/>
<rect x="1374.20" y="696.24" width="18.20" height="18.17" fill="#89366a"/>
<rect x="1392.10" y="696.24" width="17.90" height="18.17" fill="#86346a"/>
<rect x="873.00" y="714.10" width="322.50" height="18.17" fill="#552597"/>
<rect x="1195.20" y="714.10" width="18.20" height="18.17" fill="#a6558a"/>
<rect x="1213.10" y="714.10" width="18.20" height="18.17" fill="#a95587"/>
<rect x="1231.00" y="714.10" width="18.20" height="18.17" fill="#9e4a79"/>
<rect x="1248.90" y="714.10" width="18.20" height="18.17" fill="#ba3949"/>
<rect x="1266.80" y="714.10" width="18.20" height="18.17" fill="#8c3a69"/>
<rect x="1284.70" y="714.10" width="18.20" height="18.17" fill="#8a3767"/>
<rect x="1302.60" y="714.10" width="18.20" height="18.17" fill="#8d3868"/>
<rect x="1320.50" y="714.10" width="18.20" height="18.17" fill="#8f3969"/>
<rect x="1338.40" y="714.10" width="18.20" height="18.17" fill="#8f396a"/>
<rect x="1356.30" y="714.10" width="18.20" height="18.17" fill="#8c376a"/>
<rect x="1374.20" y="714.10" width="18.20" height="18.17" fill="#86346a"/>
<rect x="1392.10" y="714.10" width="17.90" height="18.17" fill="#83326a"/>
<rect x="873.00" y="731.97" width="322.50" height="18.17" fill="#552597"/>
<rect x="1195.20" y="731.97" width="18.20" height="18.17" fill="#a35288"/>
<rect x="1213.10" y="731.97" width="18.20" height="18.17" fill="#a75185"/>
<rect x="1231.00" y="731.97" width="18.20" height="18.17" fill="#9d4778"/>
<rect x="1248.90" y="731.97" width="18.20" height="18.17" fill="#ba3949"/>
<rect x="1266.80" y="731.97" width="18.20" height="18.17" fill="#8f3b6b"/>
<rect x="1284.70" y="731.97" width="18.20" height="18.17" fill="#8e3969"/>
<rect x="1302.60" y="731.97" width="36.10" height="18.17" fill="#913a6b"/>
<rect x="1338.40" y="731.97" width="18.20" height="18.17" fill="#8e386a"/>
<rect x="1356.30" y="731.97" width="18.20" height="18.17" fill="#8a3669"/>
<rect x="1374.20" y="731.97" width="18.20" height="18.17" fill="#843269"/>
<rect x="1392.10" y="731.97" width="17.90" height="18.17" fill="#813069"/>
<rect x="873.00" y="749.84" width="322.50" height="18.17" fill="#552597"/>
<rect x="1195.20" y="749.84" width="18.20" height="18.17" fill="#a25186"/>
<rect x="1213.10" y="749.84" width="18.20" height="18.17" fill="#a75185"/>
<rect x="1231.00" y="749.84" width="18.20" height="18.17" fill="#a0497a"/>
<rect x="1248.90" y="749.84" width="18.20" height="18.17" fill="#9a4373"/>
<rect x="1266.80" y="749.84" width="18.20" height="18.17" fill="#943e6e"/>
<rect x="1284.70" y="749.84" width="18.20" height="18.17" fill="#913b6c"/>
<rect x="1302.60" y="749.84" width="18.20" height="18.17" fill="#923b6d"/>
<rect x="1320.50" y="749.84" width="18.20" height="18.17" fill="#903a6c"/>
<rect x="1338.40" y="749.84" width="18.20" height="18.17" fill="#8d376a"/>
<rect x="1356.30" y="749.84" width="18.20" height="18.17" fill="#893469"/>
<rect x="1374.20" y="749.84" width="18.20" height="18.17" fill="#843169"/>
<rect x="1392.10" y="749.84" width="17.90" height="18.17" fill="#812f68"/>
<rect x="873.00" y="767.71" width="304.60" height="18.17" fill="#552597"/>
<rect x="1177.30" y="767.71" width="18.20" height="18.17" fill="#92487d"/>
<rect x="1195.20" y="767.71" width="18.20" height="18.17" fill="#a25285"/>
<rect x="1213.10" y="767.71" width="18.20" height="18.17" fill="#a95585"/>
<rect x="1231.00" y="767.71" width="18.20" height="18.17" fill="#a6507f"/>
<rect x="1248.90" y="767.71" width="18.20" height="18.17" fill="#a14a79"/>
<rect x="1266.80" y="767.71" width="18.20" height="18.17" fill="#994373"/>
<rect x="1284.70" y="767.71" width="18.20" height="18.17" fill="#943e70"/>
<rect x="1302.60" y="767.71" width="18.20" height="18.17" fill="#913a6f"/>
<rect x="1320.50" y="767.71" width="18.20" height="18.17" fill="#8d376d"/>
<rect x="1338.40" y="767.71" width="18.20" height="18.17" fill="#8a366b"/>
<rect x="1356.30" y="767.71" width="18.20" height="18.17" fill="#873469"/>
<rect x="1374.20" y="767.71" width="18.20" height="18.17" fill="#843268"/>
<rect x="1392.10" y="767.71" width="17.90" height="18.17" fill="#833168"/>
<rect x="873.00" y="785.57" width="304.60" height="18.17" fill="#552597"/>
<rect x="1177.30" y="785.57" width="18.20" height="18.17" fill="#92487c"/>
<rect x="1195.20" y="785.57" width="18.20" height="18.17" fill="#ba3949"/>
<rect x="1213.10" y="785.57" width="18.20" height="18.17" fill="#aa5685"/>
<rect x="1231.00" y="785.57" width="18.20" height="18.17" fill="#a95380"/>
<rect x="1248.90" y="785.57" width="18.20" height="18.17" fill="#a34d7b"/>
<rect x="1266.80" y="785.57" width="18.20" height="18.17" fill="#994375"/>
<rect x="1284.70" y="785.57" width="18.20" height="18.17" fill="#923c71"/>
<rect x="1302.60" y="785.57" width="18.20" height="18.17" fill="#8e376f"/>
<rect x="1320.50" y="785.57" width="18.20" height="18.17" fill="#8b356d"/>
<rect x="1338.40" y="785.57" width="18.20" height="18.17" fill="#89356a"/>
<rect x="1356.30" y="785.57" width="18.20" height="18.17" fill="#883469"/>
<rect x="1374.20" y="785.57" width="18.20" height="18.17" fill="#863368"/>
<rect x="1392.10" y="785.57" width="17.90" height="18.17" fill="#853268"/>
<rect x="873.00" y="803.44" width="304.60" height="18.17" fill="#552597"/>
<rect x="1177.30" y="803.44" width="18.20" height="18.17" fill="#92477c"/>
<rect x="1195.20" y="803.44" width="36.10" height="18.17" fill="#ba3949"/>
<rect x="1231.00" y="803.44" width="18.20" height="18.17" fill="#a8537e"/>
<rect x="1248.90" y="803.44" width="18.20" height="18.17" fill="#a04a78"/>
<rect x="1266.80" y="803.44" width="18.20" height="18.17" fill="#933c72"/>
<rect x="1284.70" y="803.44" width="18.20" height="18.17" fill="#8b356e"/>
<rect x="1302.60" y="803.44" width="18.20" height="18.17" fill="#89336c"/>
<rect x="1320.50" y="803.44" width="18.20" height="18.17" fill="#88336a"/>
<rect x="1338.40" y="803.44" width="18.20" height="18.17" fill="#89346a"/>
<rect x="1356.30" y="803.44" width="18.20" height="18.17" fill="#893469"/>
<rect x="1374.20" y="803.44" width="18.20" height="18.17" fill="#893468"/>
<rect x="1392.10" y="803.44" width="17.90" height="18.17" fill="#893368"/>
<rect x="873.00" y="821.31" width="304.60" height="18.17" fill="#552597"/>
<rect x="1177.30" y="821.31" width="18.20" height="18.17" fill="#90467c"/>
<rect x="1195.20" y="821.31" width="36.10" height="18.17" fill="#ba3949"/>
<rect x="1231.00" y="821.31" width="18.20" height="18.17" fill="#a7537f"/>
<rect x="1248.90" y="821.31" width="18.20" height="18.17" fill="#9f4a79"/>
<rect x="1266.80" y="821.31" width="18.20" height="18.17" fill="#913c72"/>
<rect x="1284.70" y="821.31" width="18.20" height="18.17" fill="#88346d"/>
<rect x="1302.60" y="821.31" width="18.20" height="18.17" fill="#86326a"/>
<rect x="1320.50" y="821.31" width="18.20" height="18.17" fill="#863169"/>
<rect x="1338.40" y="821.31" width="18.20" height="18.17" fill="#883369"/>
<rect x="1356.30" y="821.31" width="18.20" height="18.17" fill="#893369"/>
<rect x="1374.20" y="821.31" width="18.20" height="18.17" fill="#8a3469"/>
<rect x="1392.10" y="821.31" width="17.90" height="18.17" fill="#8b3468"/>
<rect x="873.00" y="839.18" width="322.50" height="18.17" fill="#552597"/>
<rect x="1195.20" y="839.18" width="18.20" height="18.17" fill="#a15384"/>
<rect x="1213.10" y="839.18" width="18.20" height="18.17" fill="#ba3949"/>
<rect x="1231.00" y="839.18" width="18.20" height="18.17" fill="#a75382"/>
<rect x="1248.90" y="839.18" width="18.20" height="18.17" fill="#9f4b7c"/>
<rect x="1266.80" y="839.18" width="18.20" height="18.17" fill="#924074"/>
<rect x="1284.70" y="839.18" width="18.20" height="18.17" fill="#8a376e"/>
<rect x="1302.60" y="839.18" width="18.20" height="18.17" fill="#84326a"/>
<rect x="1320.50" y="839.18" width="18.20" height="18.17" fill="#833068"/>
<rect x="1338.40" y="839.18" width="18.20" height="18.17" fill="#863168"/>
<rect x="1356.30" y="839.18" width="18.20" height="18.17" fill="#883268"/>
<rect x="1374.20" y="839.18" width="18.20" height="18.17" fill="#8a3469"/>
<rect x="1392.10" y="839.18" width="17.90" height="18.17" fill="#8b3569"/>
<rect x="873.00" y="857.04" width="322.50" height="18.17" fill="#552597"/>
<rect x="1195.20" y="857.04" width="18.20" height="18.17" fill="#9e5284"/>
<rect x="1213.10" y="857.04" width="18.20" height="18.17" fill="#a85887"/>
<rect x="1231.00" y="857.04" width="18.20" height="18.17" fill="#a85585"/>
<rect x="1248.90" y="857.04" width="18.20" height="18.17" fill="#a24e7f"/>
<rect x="1266.80" y="857.04" width="18.20" height="18.17" fill="#964477"/>
<rect x="1284.70" y="857.04" width="18.20" height="18.17" fill="#8c3b70"/>
<rect x="1302.60" y="857.04" width="18.20" height="18.17" fill="#85336b"/>
<rect x="1320.50" y="857.04" width="18.20" height="18.17" fill="#833068"/>
<rect x="1338.40" y="857.04" width="18.20" height="18.17" fill="#863168"/>
<rect x="1356.30" y="857.04" width="18.20" height="18.17" fill="#883269"/>
<rect x="1374.20" y="857.04" width="18.20" height="18.17" fill="#8a3469"/>
<rect x="1392.10" y="857.04" width="17.90" height="18.17" fill="#8b3569"/>
<rect x="873.00" y="874.91" width="322.50" height="18.17" fill="#552597"/>
<rect x="1195.20" y="874.91" width="18.20" height="18.17" fill="#984f82"/>
<rect x="1213.10" y="874.91" width="18.20" height="18.17" fill="#a65788"/>
<rect x="1231.00" y="874.91" width="18.20" height="18.17" fill="#ab5788"/>
<rect x="1248.90" y="874.91" width="18.20" height="18.17" fill="#a75283"/>
<rect x="1266.80" y="874.91" width="18.20" height="18.17" fill="#9b4779"/>
<rect x="1284.70" y="874.91" width="18.20" height="18.17" fill="#913d71"/>
<rect x="1302.60" y="874.91" width="18.20" height="18.17" fill="#89356b"/>
<rect x="1320.50" y="874.91" width="18.20" height="18.17" fill="#863168"/>
<rect x="1338.40" y="874.91" width="18.20" height="18.17" fill="#873269"/>
<rect x="1356.30" y="874.91" width="18.20" height="18.17" fill="#893369"/>
<rect x="1374.20" y="874.91" width="18.20" height="18.17" fill="#8b356a"/>
<rect x="1392.10" y="874.91" width="17.90" height="18.17" fill="#8c356a"/>
<rect x="873.00" y="892.78" width="322.50" height="18.17" fill="#552597"/>
<rect x="1195.20" y="892.78" width="18.20" height="18.17" fill="#934b7f"/>
<rect x="1213.10" y="892.78" width="18.20" height="18.17" fill="#a35688"/>
<rect x="1231.00" y="892.78" width="18.20" height="18.17" fill="#ae5c8c"/>
<rect x="1248.90" y="892.78" width="18.20" height="18.17" fill="#ae5889"/>
<rect x="1266.80" y="892.78" width="18.20" height="18.17" fill="#a24d7f"/>
<rect x="1284.70" y="892.78" width="18.20" height="18.17" fill="#984376"/>
<rect x="1302.60" y="892.78" width="18.20" height="18.17" fill="#8e396f"/>
<rect x="1320.50" y="892.78" width="18.20" height="18.17" fill="#89346a"/>
<rect x="1338.40" y="892.78" width="36.10" height="18.17" fill="#8a346a"/>
<rect x="1374.20" y="892.78" width="18.20" height="18.17" fill="#8b356a"/>
<rect x="1392.10" y="892.78" width="17.90" height="18.17" fill="#8c366a"/>
<rect x="873.00" y="910.65" width="340.40" height="18.17" fill="#552597"/>
<rect x="1213.10" y="910.65" width="18.20" height="18.17" fill="#9f5487"/>
<rect x="1231.00" y="910.65" width="18.20" height="18.17" fill="#b26292"/>
<rect x="1248.90" y="910.65" width="18.20" height="18.17" fill="#b76392"/>
<rect x="1266.80" y="910.65" width="18.20" height="18.17" fill="#ab5787"/>
<rect x="1284.70" y="910.65" width="18.20" height="18.17" fill="#a14b7e"/>
<rect x="1302.60" y="910.65" width="18.20" height="18.17" fill="#954075"/>
<rect x="1320.50" y="910.65" width="18.20" height="18.17" fill="#8e396f"/>
<rect x="1338.40" y="910.65" width="18.20" height="18.17" fill="#8c366c"/>
<rect x="1356.30" y="910.65" width="18.20" height="18.17" fill="#8b356a"/>
<rect x="1374.20" y="910.65" width="35.80" height="18.17" fill="#8c366b"/>
<rect x="873.00" y="928.51" width="340.40" height="18.17" fill="#552597"/>
<rect x="1213.10" y="928.51" width="18.20" height="18.17" fill="#9a5184"/>
<rect x="1231.00" y="928.51" width="18.20" height="18.17" fill="#b16393"/>
<rect x="1248.90" y="928.51" width="54.00" height="18.17" fill="#ba3949"/>
<rect x="1302.60" y="928.51" width="18.20" height="18.17" fill="#9e477a"/>
<rect x="1320.50" y="928.51" width="18.20" height="18.17" fill="#953e73"/>
<rect x="1338.40" y="928.51" width="18.20" height="18.17" fill="#903a6e"/>
<rect x="1356.30" y="928.51" width="18.20" height="18.17" fill="#8d386b"/>
<rect x="1374.20" y="928.51" width="35.80" height="18.17" fill="#8e376b"/>
<rect x="873.00" y="946.38" width="358.30" height="18.17" fill="#552597"/>
<rect x="1231.00" y="946.38" width="18.20" height="18.17" fill="#ab5f90"/>
<rect x="1248.90" y="946.38" width="71.90" height="18.17" fill="#ba3949"/>
<rect x="1320.50" y="946.38" width="18.20" height="18.17" fill="#9c4576"/>
<rect x="1338.40" y="946.38" width="18.20" height="18.17" fill="#953e70"/>
<rect x="1356.30" y="946.38" width="18.20" height="18.17" fill="#913b6c"/>
<rect x="1374.20" y="946.38" width="35.80" height="18.17" fill="#923a6b"/>
<rect x="873.00" y="964.25" width="358.30" height="18.17" fill="#552597"/>
<rect x="1231.00" y="964.25" width="18.20" height="18.17" fill="#a3588a"/>
<rect x="1248.90" y="964.25" width="18.20" height="18.17" fill="#b46596"/>
<rect x="1266.80" y="964.25" width="54.00" height="18.17" fill="#ba3949"/>
<rect x="1320.50" y="964.25" width="18.20" height="18.17" fill="#a24979"/>
<rect x="1338.40" y="964.25" width="18.20" height="18.17" fill="#994171"/>
<rect x="1356.30" y="964.25" width="18.20" height="18.17" fill="#943d6d"/>
<rect x="1374.20" y="964.25" width="18.20" height="18.17" fill="#943c6b"/>
<rect x="1392.10" y="964.25" width="17.90" height="18.17" fill="#943b6a"/>
<rect x="873.00" y="982.12" width="358.30" height="18.17" fill="#552597"/>
<rect x="1231.00" y="982.12" width="18.20" height="18.17" fill="#985183"/>
<rect x="1248.90" y="982.12" width="18.20" height="18.17" fill="#aa5f8f"/>
<rect x="1266.80" y="982.12" width="54.00" height="18.17" fill="#ba3949"/>
<rect x="1320.50" y="982.12" width="18.20" height="18.17" fill="#a44c7c"/>
<rect x="1338.40" y="982.12" width="18.20" height="18.17" fill="#9b4373"/>
<rect x="1356.30" y="982.12" width="18.20" height="18.17" fill="#963e6d"/>
<rect x="1374.20" y="982.12" width="18.20" height="18.17" fill="#953c6b"/>
<rect x="1392.10" y="982.12" width="17.90" height="18.17" fill="#953b6a"/>
<rect x="873.00" y="999.99" width="376.20" height="18.17" fill="#552597"/>
<rect x="1248.90" y="999.99" width="18.20" height="18.17" fill="#a3598a"/>
<rect x="1266.80" y="999.99" width="18.20" height="18.17" fill="#b86797"/>
<rect x="1284.70" y="999.99" width="18.20" height="18.17" fill="#bb6797"/>
<rect x="1302.60" y="999.99" width="36.10" height="18.17" fill="#ba3949"/>
<rect x="1338.40" y="999.99" width="18.20" height="18.17" fill="#9d4574"/>
<rect x="1356.30" y="999.99" width="18.20" height="18.17" fill="#983f6e"/>
<rect x="1374.20" y="999.99" width="18.20" height="18.17" fill="#963d6b"/>
<rect x="1392.10" y="999.99" width="17.90" height="18.17" fill="#953c6a"/>
<rect x="873.00" y="1017.85" width="376.20" height="18.17" fill="#552597"/>
<rect x="1248.90" y="1017.85" width="18.20" height="18.17" fill="#9e5487"/>
<rect x="1266.80" y="1017.85" width="18.20" height="18.17" fill="#b66697"/>
<rect x="1284.70" y="1017.85" width="18.20" height="18.17" fill="#bb6797"/>
<rect x="1302.60" y="1017.85" width="18.20" height="18.17" fill="#b35b8c"/>
<rect x="1320.50" y="1017.85" width="18.20" height="18.17" fill="#a85080"/>
<rect x="1338.40" y="1017.85" width="18.20" height="18.17" fill="#9f4676"/>
<rect x="1356.30" y="1017.85" width="18.20" height="18.17" fill="#99406f"/>
<rect x="1374.20" y="1017.85" width="18.20" height="18.17" fill="#973e6d"/>
<rect x="1392.10" y="1017.85" width="17.90" height="18.17" fill="#963d6b"/>
<rect x="873.00" y="1035.72" width="376.20" height="18.17" fill="#552597"/>
<rect x="1248.90" y="1035.72" width="18.20" height="18.17" fill="#9a5085"/>
<rect x="1266.80" y="1035.72" width="18.20" height="18.17" fill="#b26395"/>
<rect x="1284.70" y="1035.72" width="18.20" height="18.17" fill="#bb6797"/>
<rect x="1302.60" y="1035.72" width="18.20" height="18.17" fill="#b35c8c"/>
<rect x="1320.50" y="1035.72" width="18.20" height="18.17" fill="#a95181"/>
<rect x="1338.40" y="1035.72" width="18.20" height="18.17" fill="#a04676"/>
<rect x="1356.30" y="1035.72" width="18.20" height="18.17" fill="#9a4070"/>
<rect x="1374.20" y="1035.72" width="18.20" height="18.17" fill="#983e6d"/>
<rect x="1392.10" y="1035.72" width="17.90" height="18.17" fill="#963d6c"/>
<rect x="873.00" y="1053.59" width="376.20" height="18.17" fill="#552597"/>
<rect x="1248.90" y="1053.59" width="18.20" height="18.17" fill="#954c82"/>
<rect x="1266.80" y="1053.59" width="18.20" height="18.17" fill="#ae5f93"/>
<rect x="1284.70" y="1053.59" width="18.20" height="18.17" fill="#b96597"/>
<rect x="1302.60" y="1053.59" width="18.20" height="18.17" fill="#b35d8c"/>
<rect x="1320.50" y="1053.59" width="18.20" height="18.17" fill="#aa5281"/>
<rect x="1338.40" y="1053.59" width="18.20" height="18.17" fill="#a04776"/>
<rect x="1356.30" y="1053.59" width="18.20" height="18.17" fill="#994070"/>
<rect x="1374.20" y="1053.59" width="18.20" height="18.17" fill="#973e6d"/>
<rect x="1392.10" y="1053.59" width="17.90" height="18.17" fill="#963d6c"/>
<rect x="873.00" y="1071.46" width="376.20" height="18.17" fill="#552597"/>
<rect x="1248.90" y="1071.46" width="18.20" height="18.17" fill="#92487f"/>
<rect x="1266.80" y="1071.46" width="18.20" height="18.17" fill="#a9598f"/>
<rect x="1284.70" y="1071.46" width="18.20" height="18.17" fill="#b56193"/>
<rect x="1302.60" y="1071.46" width="18.20" height="18.17" fill="#b25c8a"/>
<rect x="1320.50" y="1071.46" width="18.20" height="18.17" fill="#ba3949"/>
<rect x="1338.40" y="1071.46" width="18.20" height="18.17" fill="#a04776"/>
<rect x="1356.30" y="1071.46" width="18.20" height="18.17" fill="#994070"/>
<rect x="1374.20" y="1071.46" width="18.20" height="18.17" fill="#973e6d"/>
<rect x="1392.10" y="1071.46" width="17.90" height="18.17" fill="#963d6c"/>
<rect x="873.00" y="1089.32" width="376.20" height="18.17" fill="#552597"/>
<rect x="1248.90" y="1089.32" width="18.20" height="18.17" fill="#90467d"/>
<rect x="1266.80" y="1089.32" width="18.20" height="18.17" fill="#a5538a"/>
<rect x="1284.70" y="1089.32" width="18.20" height="18.17" fill="#b05a8e"/>
<rect x="1302.60" y="1089.32" width="18.20" height="18.17" fill="#b05a88"/>
<rect x="1320.50" y="1089.32" width="18.20" height="18.17" fill="#ba3949"/>
<rect x="1338.40" y="1089.32" width="18.20" height="18.17" fill="#a04876"/>
<rect x="1356.30" y="1089.32" width="18.20" height="18.17" fill="#994170"/>
<rect x="1374.20" y="1089.32" width="18.20" height="18.17" fill="#973e6e"/>
<rect x="1392.10" y="1089.32" width="17.90" height="18.17" fill="#963d6d"/>
<rect x="873.00" y="1107.19" width="376.20" height="18.17" fill="#552597"/>
<rect x="1248.90" y="1107.19" width="18.20" height="18.17" fill="#8f447c"/>
<rect x="1266.80" y="1107.19" width="18.20" height="18.17" fill="#a25087"/>
<rect x="1284.70" y="1107.19" width="18.20" height="18.17" fill="#ad568b"/>
<rect x="1302.60" y="1107.19" width="18.20" height="18.17" fill="#af5886"/>
<rect x="1320.50" y="1107.19" width="18.20" height="18.17" fill="#ba3949"/>
<rect x="1338.40" y="1107.19" width="18.20" height="18.17" fill="#9f4876"/>
<rect x="1356.30" y="1107.19" width="18.20" height="18.17" fill="#994170"/>
<rect x="1374.20" y="1107.19" width="18.20" height="18.17" fill="#973e6e"/>
<rect x="1392.10" y="1107.19" width="17.90" height="18.17" fill="#973d6d"/>
<rect x="873.00" y="1125.06" width="18.20" height="18.17" fill="#005bff"/>
<rect x="890.90" y="1125.06" width="358.30" height="18.17" fill="#552597"/>
<rect x="1248.90" y="1125.06" width="18.20" height="18.17" fill="#8e437b"/>
<rect x="1266.80" y="1125.06" width="18.20" height="18.17" fill="#a25086"/>
<rect x="1284.70" y="1125.06" width="18.20" height="18.17" fill="#ad568a"/>
<rect x="1302.60" y="1125.06" width="18.20" height="18.17" fill="#ae5785"/>
<rect x="1320.50" y="1125.06" width="18.20" height="18.17" fill="#ba3949"/>
<rect x="1338.40" y="1125.06" width="18.20" height="18.17" fill="#9f4775"/>
<rect x="1356.30" y="1125.06" width="18.20" height="18.17" fill="#994070"/>
<rect x="1374.20" y="1125.06" width="18.20" height="18.17" fill="#983e6e"/>
<rect x="1392.10" y="1125.06" width="17.90" height="18.17" fill="#973d6d"/>
<rect x="873.00" y="1142.93" width="18.20" height="18.17" fill="#005bff"/>
<rect x="890.90" y="1142.93" width="358.30" height="18.17" fill="#552597"/>
<rect x="1248.90" y="1142.93" width="18.20" height="18.17" fill="#8e437a"/>
<rect x="1266.80" y="1142.93" width="18.20" height="18.17" fill="#a14f84"/>
<rect x="1284.70" y="1142.93" width="18.20" height="18.17" fill="#aa5587"/>
<rect x="1302.60" y="1142.93" width="18.20" height="18.17" fill="#aa5482"/>
<rect x="1320.50" y="1142.93" width="18.20" height="18.17" fill="#ba3949"/>
<rect x="1338.40" y="1142.93" width="18.20" height="18.17" fill="#9c4574"/>
<rect x="1356.30" y="1142.93" width="18.20" height="18.17" fill="#973f6f"/>
<rect x="1374.20" y="1142.93" width="18.20" height="18.17" fill="#963d6d"/>
<rect x="1392.10" y="1142.93" width="17.90" height="18.17" fill="#953d6d"/>
<rect x="873.00" y="1160.79" width="36.10" height="18.17" fill="#005bff"/>
<rect x="908.80" y="1160.79" width="340.40" height="18.17" fill="#552597"/>
<rect x="1248.90" y="1160.79" width="18.20" height="18.17" fill="#8e437a"/>
<rect x="1266.80" y="1160.79" width="18.20" height="18.17" fill="#9f4e82"/>
<rect x="1284.70" y="1160.79" width="18.20" height="18.17" fill="#a65284"/>
<rect x="1302.60" y="1160.79" width="18.20" height="18.17" fill="#a44e7e"/>
<rect x="1320.50" y="1160.79" width="18.20" height="18.17" fill="#9f4878"/>
<rect x="1338.40" y="1160.79" width="18.20" height="18.17" fill="#984171"/>
<rect x="1356.30" y="1160.79" width="18.20" height="18.17" fill="#943d6d"/>
<rect x="1374.20" y="1160.79" width="18.20" height="18.17" fill="#933c6c"/>
<rect x="1392.10" y="1160.79" width="17.90" height="18.17" fill="#923b6c"/>
<rect x="873.00" y="1178.66" width="36.10" height="18.17" fill="#005bff"/>
<rect x="908.80" y="1178.66" width="340.40" height="18.17" fill="#552597"/>
<rect x="1248.90" y="1178.66" width="18.20" height="18.17" fill="#8e4278"/>
<rect x="1266.80" y="1178.66" width="18.20" height="18.17" fill="#9d4d80"/>
<rect x="1284.70" y="1178.66" width="18.20" height="18.17" fill="#a24f81"/>
<rect x="1302.60" y="1178.66" width="18.20" height="18.17" fill="#9f487b"/>
<rect x="1320.50" y="1178.66" width="18.20" height="18.17" fill="#994275"/>
<rect x="1338.40" y="1178.66" width="18.20" height="18.17" fill="#933d6f"/>
<rect x="1356.30" y="1178.66" width="18.20" height="18.17" fill="#903a6c"/>
<rect x="1374.20" y="1178.66" width="18.20" height="18.17" fill="#8e396b"/>
<rect x="1392.10" y="1178.66" width="17.90" height="18.17" fill="#8e386b"/>
<rect x="873.00" y="1196.53" width="36.10" height="18.17" fill="#005bff"/>
<rect x="908.80" y="1196.53" width="340.40" height="18.17" fill="#552597"/>
<rect x="1248.90" y="1196.53" width="18.20" height="18.17" fill="#8e4076"/>
<rect x="1266.80" y="1196.53" width="18.20" height="18.17" fill="#9b4b7d"/>
<rect x="1284.70" y="1196.53" width="18.20" height="18.17" fill="#9f4d7e"/>
<rect x="1302.60" y="1196.53" width="18.20" height="18.17" fill="#9a4477"/>
<rect x="1320.50" y="1196.53" width="18.20" height="18.17" fill="#943d72"/>
<rect x="1338.40" y="1196.53" width="18.20" height="18.17" fill="#8d386d"/>
<rect x="1356.30" y="1196.53" width="18.20" height="18.17" fill="#89366b"/>
<rect x="1374.20" y="1196.53" width="35.80" height="18.17" fill="#89356b"/>
<rect x="873.00" y="1214.40" width="54.00" height="18.17" fill="#005bff"/>
<rect x="926.70" y="1214.40" width="322.50" height="18.17" fill="#552597"/>
<rect x="1248.90" y="1214.40" width="18.20" height="18.17" fill="#8e3e75"/>
<rect x="1266.80" y="1214.40" width="18.20" height="18.17" fill="#9a4b7c"/>
<rect x="1284.70" y="1214.40" width="18.20" height="18.17" fill="#9d4c7d"/>
<rect x="1302.60" y="1214.40" width="18.20" height="18.17" fill="#984277"/>
<rect x="1320.50" y="1214.40" width="18.20" height="18.17" fill="#913a71"/>
<rect x="1338.40" y="1214.40" width="18.20" height="18.17" fill="#8a356c"/>
<rect x="1356.30" y="1214.40" width="36.10" height="18.17" fill="#86336a"/>
<rect x="1392.10" y="1214.40" width="17.90" height="18.17" fill="#85336a"/>
<rect x="873.00" y="1232.26" width="54.00" height="18.17" fill="#005bff"/>
<rect x="926.70" y="1232.26" width="340.40" height="18.17" fill="#552597"/>
<rect x="1266.80" y="1232.26" width="18.20" height="18.17" fill="#994c7c"/>
<rect x="1284.70" y="1232.26" width="18.20" height="18.17" fill="#9d4e7d"/>
<rect x="1302.60" y="1232.26" width="18.20" height="18.17" fill="#984379"/>
<rect x="1320.50" y="1232.26" width="18.20" height="18.17" fill="#923b73"/>
<rect x="1338.40" y="1232.26" width="18.20" height="18.17" fill="#8a356d"/>
<rect x="1356.30" y="1232.26" width="18.20" height="18.17" fill="#86326a"/>
<rect x="1374.20" y="1232.26" width="18.20" height="18.17" fill="#85326a"/>
<rect x="1392.10" y="1232.26" width="17.90" height="18.17" fill="#843269"/>
<rect x="873.00" y="1250.13" width="71.90" height="17.87" fill="#005bff"/>
<rect x="944.60" y="1250.13" width="322.50" height="17.87" fill="#552597"/>
<rect x="1266.80" y="1250.13" width="18.20" height="17.87" fill="#984c7c"/>
<rect x="1284.70" y="1250.13" width="18.20" height="17.87" fill="#9d4e7e"/>
<rect x="1302.60" y="1250.13" width="18.20" height="17.87" fill="#98437a"/>
<rect x="1320.50" y="1250.13" width="18.20" height="17.87" fill="#923b74"/>
<rect x="1338.40" y="1250.13" width="18.20" height="17.87" fill="#8a356e"/>
<rect x="1356.30" y="1250.13" width="18.20" height="17.87" fill="#86326a"/>
<rect x="1374.20" y="1250.13" width="18.20" height="17.87" fill="#853169"/>
<rect x="1392.10" y="1250.13" width="17.90" height="17.87" fill="#843169"/>
</g>
<g fill="#000"><circle cx="995.3" cy="62.5" r="1.45"/><circle cx="998.5" cy="80.4" r="1.45"/><circle cx="1004.6" cy="98.3" r="1.45"/><circle cx="1009.2" cy="116.1" r="1.45"/><circle cx="1012.3" cy="134.0" r="1.45"/><circle cx="1018.3" cy="151.9" r="1.45"/><circle cx="1029.4" cy="169.7" r="1.45"/><circle cx="1035.4" cy="187.6" r="1.45"/><circle cx="1037.1" cy="205.5" r="1.45"/><circle cx="1039.5" cy="223.3" r="1.45"/><circle cx="1044.3" cy="241.2" r="1.45"/><circle cx="1048.4" cy="259.1" r="1.45"/><circle cx="1048.4" cy="276.9" r="1.45"/><circle cx="1051.5" cy="294.8" r="1.45"/><circle cx="1060.2" cy="312.7" r="1.45"/><circle cx="1067.2" cy="330.5" r="1.45"/><circle cx="1072.2" cy="348.4" r="1.45"/><circle cx="1077.2" cy="366.3" r="1.45"/><circle cx="1082.3" cy="384.2" r="1.45"/><circle cx="1086.4" cy="402.0" r="1.45"/><circle cx="1089.4" cy="419.9" r="1.45"/><circle cx="1093.3" cy="437.8" r="1.45"/><circle cx="1100.5" cy="455.6" r="1.45"/><circle cx="1106.4" cy="473.5" r="1.45"/><circle cx="1112.3" cy="491.4" r="1.45"/><circle cx="1118.2" cy="509.2" r="1.45"/><circle cx="1125.4" cy="527.1" r="1.45"/><circle cx="1134.3" cy="545.0" r="1.45"/><circle cx="1137.6" cy="562.8" r="1.45"/><circle cx="1139.4" cy="580.7" r="1.45"/><circle cx="1142.6" cy="598.6" r="1.45"/><circle cx="1146.5" cy="616.4" r="1.45"/><circle cx="1152.4" cy="634.3" r="1.45"/><circle cx="1155.5" cy="652.2" r="1.45"/><circle cx="1155.5" cy="670.0" r="1.45"/><circle cx="1157.4" cy="687.9" r="1.45"/><circle cx="1161.4" cy="705.8" r="1.45"/><circle cx="1164.4" cy="723.6" r="1.45"/><circle cx="1162.4" cy="741.5" r="1.45"/><circle cx="1161.4" cy="759.4" r="1.45"/><circle cx="1161.4" cy="777.2" r="1.45"/><circle cx="1160.5" cy="795.1" r="1.45"/><circle cx="1158.3" cy="813.0" r="1.45"/><circle cx="1160.5" cy="830.8" r="1.45"/><circle cx="1169.2" cy="848.7" r="1.45"/><circle cx="1174.3" cy="866.6" r="1.45"/><circle cx="1177.3" cy="884.4" r="1.45"/><circle cx="1182.3" cy="902.3" r="1.45"/><circle cx="1193.4" cy="920.2" r="1.45"/><circle cx="1200.2" cy="938.0" r="1.45"/><circle cx="1205.2" cy="955.9" r="1.45"/><circle cx="1211.1" cy="973.8" r="1.45"/><circle cx="1218.3" cy="991.7" r="1.45"/><circle cx="1223.3" cy="1009.5" r="1.45"/><circle cx="1227.2" cy="1027.4" r="1.45"/><circle cx="1229.2" cy="1045.3" r="1.45"/><circle cx="1229.2" cy="1063.1" r="1.45"/><circle cx="1228.1" cy="1081.0" r="1.45"/><circle cx="1227.2" cy="1098.9" r="1.45"/><circle cx="1225.5" cy="1116.7" r="1.45"/><circle cx="1223.3" cy="1134.6" r="1.45"/><circle cx="1223.3" cy="1152.5" r="1.45"/><circle cx="1224.2" cy="1170.3" r="1.45"/><circle cx="1225.5" cy="1188.2" r="1.45"/><circle cx="1225.5" cy="1206.1" r="1.45"/><circle cx="1228.1" cy="1223.9" r="1.45"/><circle cx="1237.3" cy="1241.8" r="1.45"/><circle cx="1243.2" cy="1259.7" r="1.45"/><circle cx="1007.4" cy="109.4" r="1.45"/><circle cx="1025.4" cy="161.5" r="1.45"/><circle cx="1043.4" cy="236.4" r="1.45"/><circle cx="1061.4" cy="314.4" r="1.45"/><circle cx="1078.5" cy="371.7" r="1.45"/><circle cx="1096.5" cy="446.3" r="1.45"/><circle cx="1114.2" cy="498.5" r="1.45"/><circle cx="1132.5" cy="538.3" r="1.45"/><circle cx="1150.3" cy="628.3" r="1.45"/><circle cx="1168.3" cy="846.5" r="1.45"/><circle cx="1186.3" cy="907.4" r="1.45"/><circle cx="1204.3" cy="951.3" r="1.45"/><circle cx="1221.4" cy="1003.3" r="1.45"/><circle cx="1239.4" cy="1246.4" r="1.45"/></g>
<g font-family="'DejaVu Sans','Liberation Sans',sans-serif" font-size="20.83" fill="#000">
<rect x="1419.3" y="671.3" width="420" height="157.4" rx="4" ry="4" fill="#fff" fill-opacity="0.8" stroke="#ccc" stroke-width="1.6"/>
<rect x="1426" y="680.2" width="44" height="15.4" fill="#fd8d3c"/>
<rect x="1426" y="710.4" width="44" height="15.6" fill="#ccffff"/>
<rect x="1426" y="741.3" width="44" height="15.6" fill="#005bff"/>
<rect x="1426" y="777.9" width="45" height="3.1" fill="#000"/>
<rect x="1426" y="801.3" width="44" height="16.2" fill="#993333"/>
<text x="1486" y="695.7">sand</text>
<text x="1486" y="726.1">whitewater</text>
<text x="1486" y="756.9">water</text>
<text x="1486" y="786.9">shoreline</text>
<text x="1486" y="817.0">reference shoreline buffer</text>
</g>
<g shape-rendering="crispEdges">
<rect x="1730.00" y="53.00" width="18.20" height="18.17" fill="#7e2997"/>
<rect x="1747.90" y="53.00" width="18.20" height="18.17" fill="#822d97"/>
<rect x="1765.80" y="53.00" width="18.20" height="18.17" fill="#893497"/>
<rect x="1783.70" y="53.00" width="18.20" height="18.17" fill="#8e3997"/>
<rect x="1801.60" y="53.00" width="18.20" height="18.17" fill="#913c97"/>
<rect x="1819.50" y="53.00" width="18.20" height="18.17" fill="#933f97"/>
<rect x="1837.40" y="53.00" width="18.20" height="18.17" fill="#a75297"/>
<rect x="1855.30" y="53.00" width="18.20" height="18.17" fill="#bb6192"/>
<rect x="1873.20" y="53.00" width="18.20" height="18.17" fill="#bb4474"/>
<rect x="1891.10" y="53.00" width="18.20" height="18.17" fill="#bb2d5d"/>
<rect x="1909.00" y="53.00" width="18.20" height="18.17" fill="#bb2556"/>
<rect x="1926.90" y="53.00" width="18.20" height="18.17" fill="#bb2859"/>
<rect x="1944.80" y="53.00" width="18.20" height="18.17" fill="#bb2e5f"/>
<rect x="1962.70" y="53.00" width="18.20" height="18.17" fill="#bb3969"/>
<rect x="1980.60" y="53.00" width="18.20" height="18.17" fill="#bb4778"/>
<rect x="1998.50" y="53.00" width="18.20" height="18.17" fill="#bb4677"/>
<rect x="2016.40" y="53.00" width="18.20" height="18.17" fill="#bb3666"/>
<rect x="2034.30" y="53.00" width="18.20" height="18.17" fill="#bb2859"/>
<rect x="2052.20" y="53.00" width="18.20" height="18.17" fill="#bb1e4f"/>
<rect x="2070.10" y="53.00" width="18.20" height="18.17" fill="#bb1748"/>
<rect x="2088.00" y="53.00" width="18.20" height="18.17" fill="#bb1344"/>
<rect x="2105.90" y="53.00" width="18.20" height="18.17" fill="#bb0f40"/>
<rect x="2123.80" y="53.00" width="18.20" height="18.17" fill="#bb0c3d"/>
<rect x="2141.70" y="53.00" width="18.20" height="18.17" fill="#bb0a3a"/>
<rect x="2159.60" y="53.00" width="18.20" height="18.17" fill="#bb0738"/>
<rect x="2177.50" y="53.00" width="36.10" height="18.17" fill="#bb0737"/>
<rect x="2213.30" y="53.00" width="18.20" height="18.17" fill="#ff1616"/>
<rect x="2231.20" y="53.00" width="18.20" height="18.17" fill="#ff1f1f"/>
<rect x="2249.10" y="53.00" width="17.90" height="18.17" fill="#ff2121"/>
<rect x="1730.00" y="70.87" width="18.20" height="18.17" fill="#7d2897"/>
<rect x="1747.90" y="70.87" width="18.20" height="18.17" fill="#7f2b97"/>
<rect x="1765.80" y="70.87" width="18.20" height="18.17" fill="#832f97"/>
<rect x="1783.70" y="70.87" width="18.20" height="18.17" fill="#873297"/>
<rect x="1801.60" y="70.87" width="18.20" height="18.17" fill="#893497"/>
<rect x="1819.50" y="70.87" width="18.20" height="18.17" fill="#8b3797"/>
<rect x="1837.40" y="70.87" width="18.20" height="18.17" fill="#a75297"/>
<rect x="1855.30" y="70.87" width="18.20" height="18.17" fill="#bb6697"/>
<rect x="1873.20" y="70.87" width="18.20" height="18.17" fill="#bb4879"/>
<rect x="1891.10" y="70.87" width="18.20" height="18.17" fill="#bb3060"/>
<rect x="1909.00" y="70.87" width="18.20" height="18.17" fill="#bb2657"/>
<rect x="1926.90" y="70.87" width="18.20" height="18.17" fill="#bb2959"/>
<rect x="1944.80" y="70.87" width="18.20" height="18.17" fill="#bb2e5f"/>
<rect x="1962.70" y="70.87" width="18.20" height="18.17" fill="#bb3768"/>
<rect x="1980.60" y="70.87" width="18.20" height="18.17" fill="#bb4575"/>
<rect x="1998.50" y="70.87" width="18.20" height="18.17" fill="#bb4474"/>
<rect x="2016.40" y="70.87" width="18.20" height="18.17" fill="#bb3465"/>
<rect x="2034.30" y="70.87" width="18.20" height="18.17" fill="#bb2858"/>
<rect x="2052.20" y="70.87" width="18.20" height="18.17" fill="#bb1e4f"/>
<rect x="2070.10" y="70.87" width="18.20" height="18.17" fill="#bb1848"/>
<rect x="2088.00" y="70.87" width="18.20" height="18.17" fill="#bb1444"/>
<rect x="2105.90" y="70.87" width="18.20" height="18.17" fill="#bb1041"/>
<rect x="2123.80" y="70.87" width="18.20" height="18.17" fill="#bb0d3e"/>
<rect x="2141.70" y="70.87" width="18.20" height="18.17" fill="#bb0a3b"/>
<rect x="2159.60" y="70.87" width="18.20" height="18.17" fill="#bb0738"/>
<rect x="2177.50" y="70.87" width="36.10" height="18.17" fill="#bb0737"/>
<rect x="2213.30" y="70.87" width="18.20" height="18.17" fill="#ff1616"/>
<rect x="2231.20" y="70.87" width="18.20" height="18.17" fill="#ff1f1f"/>
<rect x="2249.10" y="70.87" width="17.90" height="18.17" fill="#ff2121"/>
<rect x="1730.00" y="88.74" width="18.20" height="18.17" fill="#7b2697"/>
<rect x="1747.90" y="88.74" width="18.20" height="18.17" fill="#7a2697"/>
<rect x="1765.80" y="88.74" width="36.10" height="18.17" fill="#792497"/>
<rect x="1801.60" y="88.74" width="18.20" height="18.17" fill="#7a2597"/>
<rect x="1819.50" y="88.74" width="18.20" height="18.17" fill="#7b2697"/>
<rect x="1837.40" y="88.74" width="18.20" height="18.17" fill="#8a3597"/>
<rect x="1855.30" y="88.74" width="18.20" height="18.17" fill="#b05b97"/>
<rect x="1873.20" y="88.74" width="18.20" height="18.17" fill="#bb5383"/>
<rect x="1891.10" y="88.74" width="18.20" height="18.17" fill="#bb3869"/>
<rect x="1909.00" y="88.74" width="18.20" height="18.17" fill="#bb2859"/>
<rect x="1926.90" y="88.74" width="18.20" height="18.17" fill="#bb2a5b"/>
<rect x="1944.80" y="88.74" width="18.20" height="18.17" fill="#bb2d5e"/>
<rect x="1962.70" y="88.74" width="18.20" height="18.17" fill="#bb3465"/>
<rect x="1980.60" y="88.74" width="18.20" height="18.17" fill="#bb4071"/>
<rect x="1998.50" y="88.74" width="18.20" height="18.17" fill="#bb3f70"/>
<rect x="2016.40" y="88.74" width="18.20" height="18.17" fill="#bb3162"/>
<rect x="2034.30" y="88.74" width="18.20" height="18.17" fill="#bb2657"/>
<rect x="2052.20" y="88.74" width="18.20" height="18.17" fill="#bb1f4f"/>
<rect x="2070.10" y="88.74" width="18.20" height="18.17" fill="#bb194a"/>
<rect x="2088.00" y="88.74" width="18.20" height="18.17" fill="#bb1646"/>
<rect x="2105.90" y="88.74" width="18.20" height="18.17" fill="#bb1243"/>
<rect x="2123.80" y="88.74" width="18.20" height="18.17" fill="#bb0e3f"/>
<rect x="2141.70" y="88.74" width="18.20" height="18.17" fill="#bb0b3b"/>
<rect x="2159.60" y="88.74" width="18.20" height="18.17" fill="#bb0738"/>
<rect x="2177.50" y="88.74" width="54.00" height="18.17" fill="#bb0737"/>
<rect x="2231.20" y="88.74" width="35.80" height="18.17" fill="#ff1a1a"/>
<rect x="1730.00" y="106.60" width="18.20" height="18.17" fill="#7a2697"/>
<rect x="1747.90" y="106.60" width="18.20" height="18.17" fill="#782497"/>
<rect x="1765.80" y="106.60" width="18.20" height="18.17" fill="#741f97"/>
<rect x="1783.70" y="106.60" width="36.10" height="18.17" fill="#721d97"/>
<rect x="1819.50" y="106.60" width="18.20" height="18.17" fill="#731e97"/>
<rect x="1837.40" y="106.60" width="18.20" height="18.17" fill="#782397"/>
<rect x="1855.30" y="106.60" width="18.20" height="18.17" fill="#a75297"/>
<rect x="1873.20" y="106.60" width="18.20" height="18.17" fill="#bb5b8b"/>
<rect x="1891.10" y="106.60" width="18.20" height="18.17" fill="#bb3e6f"/>
<rect x="1909.00" y="106.60" width="18.20" height="18.17" fill="#bb295a"/>
<rect x="1926.90" y="106.60" width="18.20" height="18.17" fill="#bb2a5b"/>
<rect x="1944.80" y="106.60" width="18.20" height="18.17" fill="#bb2c5c"/>
<rect x="1962.70" y="106.60" width="18.20" height="18.17" fill="#bb3162"/>
<rect x="1980.60" y="106.60" width="18.20" height="18.17" fill="#bb3b6b"/>
<rect x="1998.50" y="106.60" width="18.20" height="18.17" fill="#bb3a6a"/>
<rect x="2016.40" y="106.60" width="18.20" height="18.17" fill="#bb2e5f"/>
<rect x="2034.30" y="106.60" width="18.20" height="18.17" fill="#bb2556"/>
<rect x="2052.20" y="106.60" width="18.20" height="18.17" fill="#bb1e4f"/>
<rect x="2070.10" y="106.60" width="18.20" height="18.17" fill="#bb1a4a"/>
<rect x="2088.00" y="106.60" width="18.20" height="18.17" fill="#bb1747"/>
<rect x="2105.90" y="106.60" width="18.20" height="18.17" fill="#bb1344"/>
<rect x="2123.80" y="106.60" width="18.20" height="18.17" fill="#bb0f40"/>
<rect x="2141.70" y="106.60" width="18.20" height="18.17" fill="#bb0b3c"/>
<rect x="2159.60" y="106.60" width="18.20" height="18.17" fill="#bb0838"/>
<rect x="2177.50" y="106.60" width="54.00" height="18.17" fill="#bb0737"/>
<rect x="2231.20" y="106.60" width="35.80" height="18.17" fill="#ff1a1a"/>
<rect x="1730.00" y="124.47" width="18.20" height="18.17" fill="#7b2797"/>
<rect x="1747.90" y="124.47" width="18.20" height="18.17" fill="#792497"/>
<rect x="1765.80" y="124.47" width="18.20" height="18.17" fill="#742097"/>
<rect x="1783.70" y="124.47" width="36.10" height="18.17" fill="#721d97"/>
<rect x="1819.50" y="124.47" width="18.20" height="18.17" fill="#731e97"/>
<rect x="1837.40" y="124.47" width="18.20" height="18.17" fill="#762197"/>
<rect x="1855.30" y="124.47" width="18.20" height="18.17" fill="#a75297"/>
<rect x="1873.20" y="124.47" width="18.20" height="18.17" fill="#bb6090"/>
<rect x="1891.10" y="124.47" width="18.20" height="18.17" fill="#bb4373"/>
<rect x="1909.00" y="124.47" width="18.20" height="18.17" fill="#bb2c5d"/>
<rect x="1926.90" y="124.47" width="18.20" height="18.17" fill="#bb2a5a"/>
<rect x="1944.80" y="124.47" width="18.20" height="18.17" fill="#bb2a5b"/>
<rect x="1962.70" y="124.47" width="18.20" height="18.17" fill="#bb2d5e"/>
<rect x="1980.60" y="124.47" width="18.20" height="18.17" fill="#bb3364"/>
<rect x="1998.50" y="124.47" width="18.20" height="18.17" fill="#bb3263"/>
<rect x="2016.40" y="124.47" width="18.20" height="18.17" fill="#bb2a5b"/>
<rect x="2034.30" y="124.47" width="18.20" height="18.17" fill="#bb2454"/>
<rect x="2052.20" y="124.47" width="18.20" height="18.17" fill="#bb1e4f"/>
<rect x="2070.10" y="124.47" width="18.20" height="18.17" fill="#bb1a4a"/>
<rect x="2088.00" y="124.47" width="18.20" height="18.17" fill="#bb1747"/>
<rect x="2105.90" y="124.47" width="18.20" height="18.17" fill="#bb1344"/>
<rect x="2123.80" y="124.47" width="18.20" height="18.17" fill="#bb1041"/>
<rect x="2141.70" y="124.47" width="18.20" height="18.17" fill="#bb0c3d"/>
<rect x="2159.60" y="124.47" width="18.20" height="18.17" fill="#bb0838"/>
<rect x="2177.50" y="124.47" width="71.90" height="18.17" fill="#bb0737"/>
<rect x="2249.10" y="124.47" width="17.90" height="18.17" fill="#ff0808"/>
<rect x="1730.00" y="142.34" width="18.20" height="18.17" fill="#772397"/>
<rect x="1747.90" y="142.34" width="18.20" height="18.17" fill="#762197"/>
<rect x="1765.80" y="142.34" width="18.20" height="18.17" fill="#741f97"/>
<rect x="1783.70" y="142.34" width="36.10" height="18.17" fill="#731e97"/>
<rect x="1819.50" y="142.34" width="18.20" height="18.17" fill="#752097"/>
<rect x="1837.40" y="142.34" width="18.20" height="18.17" fill="#782397"/>
<rect x="1855.30" y="142.34" width="18.20" height="18.17" fill="#974397"/>
<rect x="1873.20" y="142.34" width="18.20" height="18.17" fill="#b76397"/>
<rect x="1891.10" y="142.34" width="18.20" height="18.17" fill="#bb4c7c"/>
<rect x="1909.00" y="142.34" width="18.20" height="18.17" fill="#bb3263"/>
<rect x="1926.90" y="142.34" width="18.20" height="18.17" fill="#bb2959"/>
<rect x="1944.80" y="142.34" width="18.20" height="18.17" fill="#bb2858"/>
<rect x="1962.70" y="142.34" width="18.20" height="18.17" fill="#bb2959"/>
<rect x="1980.60" y="142.34" width="18.20" height="18.17" fill="#bb2c5c"/>
<rect x="1998.50" y="142.34" width="18.20" height="18.17" fill="#bb2b5b"/>
<rect x="2016.40" y="142.34" width="18.20" height="18.17" fill="#bb2657"/>
<rect x="2034.30" y="142.34" width="18.20" height="18.17" fill="#bb2252"/>
<rect x="2052.20" y="142.34" width="18.20" height="18.17" fill="#bb1e4e"/>
<rect x="2070.10" y="142.34" width="18.20" height="18.17" fill="#bb1a4b"/>
<rect x="2088.00" y="142.34" width="18.20" height="18.17" fill="#bb1849"/>
<rect x="2105.90" y="142.34" width="18.20" height="18.17" fill="#bb1546"/>
<rect x="2123.80" y="142.34" width="18.20" height="18.17" fill="#bb1243"/>
<rect x="2141.70" y="142.34" width="18.20" height="18.17" fill="#bb0e3f"/>
<rect x="2159.60" y="142.34" width="18.20" height="18.17" fill="#bb0a3a"/>
<rect x="2177.50" y="142.34" width="18.20" height="18.17" fill="#bb0738"/>
<rect x="2195.40" y="142.34" width="54.00" height="18.17" fill="#bb0737"/>
<rect x="2249.10" y="142.34" width="17.90" height="18.17" fill="#ff0808"/>
<rect x="1730.00" y="160.21" width="18.20" height="18.17" fill="#6e1a97"/>
<rect x="1747.90" y="160.21" width="18.20" height="18.17" fill="#6f1b97"/>
<rect x="1765.80" y="160.21" width="18.20" height="18.17" fill="#721d97"/>
<rect x="1783.70" y="160.21" width="18.20" height="18.17" fill="#741f97"/>
<rect x="1801.60" y="160.21" width="18.20" height="18.17" fill="#762197"/>
<rect x="1819.50" y="160.21" width="18.20" height="18.17" fill="#782397"/>
<rect x="1837.40" y="160.21" width="18.20" height="18.17" fill="#7b2697"/>
<rect x="1855.30" y="160.21" width="18.20" height="18.17" fill="#7e2a97"/>
<rect x="1873.20" y="160.21" width="18.20" height="18.17" fill="#a75297"/>
<rect x="1891.10" y="160.21" width="18.20" height="18.17" fill="#bb5f8f"/>
<rect x="1909.00" y="160.21" width="18.20" height="18.17" fill="#bb4272"/>
<rect x="1926.90" y="160.21" width="18.20" height="18.17" fill="#bb2b5c"/>
<rect x="1944.80" y="160.21" width="18.20" height="18.17" fill="#bb2555"/>
<rect x="1962.70" y="160.21" width="18.20" height="18.17" fill="#bb2354"/>
<rect x="1980.60" y="160.21" width="18.20" height="18.17" fill="#bb2454"/>
<rect x="1998.50" y="160.21" width="18.20" height="18.17" fill="#bb2354"/>
<rect x="2016.40" y="160.21" width="18.20" height="18.17" fill="#bb2152"/>
<rect x="2034.30" y="160.21" width="18.20" height="18.17" fill="#bb2050"/>
<rect x="2052.20" y="160.21" width="18.20" height="18.17" fill="#bb1e4e"/>
<rect x="2070.10" y="160.21" width="18.20" height="18.17" fill="#bb1c4d"/>
<rect x="2088.00" y="160.21" width="18.20" height="18.17" fill="#bb1c4c"/>
<rect x="2105.90" y="160.21" width="18.20" height="18.17" fill="#bb194a"/>
<rect x="2123.80" y="160.21" width="18.20" height="18.17" fill="#bb1546"/>
<rect x="2141.70" y="160.21" width="18.20" height="18.17" fill="#bb1142"/>
<rect x="2159.60" y="160.21" width="18.20" height="18.17" fill="#bb0d3e"/>
<rect x="2177.50" y="160.21" width="18.20" height="18.17" fill="#bb0a3b"/>
<rect x="2195.40" y="160.21" width="18.20" height="18.17" fill="#bb0939"/>
<rect x="2213.30" y="160.21" width="36.10" height="18.17" fill="#bb0839"/>
<rect x="2249.10" y="160.21" width="17.90" height="18.17" fill="#ff0505"/>
<rect x="1730.00" y="178.07" width="18.20" height="18.17" fill="#681397"/>
<rect x="1747.90" y="178.07" width="18.20" height="18.17" fill="#6b1697"/>
<rect x="1765.80" y="178.07" width="18.20" height="18.17" fill="#701c97"/>
<rect x="1783.70" y="178.07" width="18.20" height="18.17" fill="#741f97"/>
<rect x="1801.60" y="178.07" width="18.20" height="18.17" fill="#772297"/>
<rect x="1819.50" y="178.07" width="18.20" height="18.17" fill="#7a2597"/>
<rect x="1837.40" y="178.07" width="18.20" height="18.17" fill="#7d2897"/>
<rect x="1855.30" y="178.07" width="18.20" height="18.17" fill="#7f2b97"/>
<rect x="1873.20" y="178.07" width="18.20" height="18.17" fill="#a24e97"/>
<rect x="1891.10" y="178.07" width="18.20" height="18.17" fill="#b96497"/>
<rect x="1909.00" y="178.07" width="18.20" height="18.17" fill="#bb4a7b"/>
<rect x="1926.90" y="178.07" width="18.20" height="18.17" fill="#bb3162"/>
<rect x="1944.80" y="178.07" width="18.20" height="18.17" fill="#bb2454"/>
<rect x="1962.70" y="178.07" width="18.20" height="18.17" fill="#bb2152"/>
<rect x="1980.60" y="178.07" width="18.20" height="18.17" fill="#bb2050"/>
<rect x="1998.50" y="178.07" width="18.20" height="18.17" fill="#bb1f50"/>
<rect x="2016.40" y="178.07" width="18.20" height="18.17" fill="#bb1f4f"/>
<rect x="2034.30" y="178.07" width="18.20" height="18.17" fill="#bb1e4f"/>
<rect x="2052.20" y="178.07" width="18.20" height="18.17" fill="#bb1d4e"/>
<rect x="2070.10" y="178.07" width="18.20" height="18.17" fill="#bb1c4d"/>
<rect x="2088.00" y="178.07" width="18.20" height="18.17" fill="#bb1c4c"/>
<rect x="2105.90" y="178.07" width="18.20" height="18.17" fill="#bb194a"/>
<rect x="2123.80" y="178.07" width="18.20" height="18.17" fill="#bb1545"/>
<rect x="2141.70" y="178.07" width="18.20" height="18.17" fill="#bb1141"/>
<rect x="2159.60" y="178.07" width="18.20" height="18.17" fill="#bb0d3e"/>
<rect x="2177.50" y="178.07" width="18.20" height="18.17" fill="#bb0a3b"/>
<rect x="2195.40" y="178.07" width="18.20" height="18.17" fill="#bb0939"/>
<rect x="2213.30" y="178.07" width="36.10" height="18.17" fill="#bb0839"/>
<rect x="2249.10" y="178.07" width="17.90" height="18.17" fill="#ff0505"/>
<rect x="1730.00" y="195.94" width="18.20" height="18.17" fill="#651097"/>
<rect x="1747.90" y="195.94" width="18.20" height="18.17" fill="#681397"/>
<rect x="1765.80" y="195.94" width="18.20" height="18.17" fill="#6e1997"/>
<rect x="1783.70" y="195.94" width="18.20" height="18.17" fill="#731e97"/>
<rect x="1801.60" y="195.94" width="18.20" height="18.17" fill="#762197"/>
<rect x="1819.50" y="195.94" width="18.20" height="18.17" fill="#7a2597"/>
<rect x="1837.40" y="195.94" width="18.20" height="18.17" fill="#7e2997"/>
<rect x="1855.30" y="195.94" width="18.20" height="18.17" fill="#802c97"/>
<rect x="1873.20" y="195.94" width="18.20" height="18.17" fill="#9c4797"/>
<rect x="1891.10" y="195.94" width="18.20" height="18.17" fill="#b66197"/>
<rect x="1909.00" y="195.94" width="18.20" height="18.17" fill="#bb4d7e"/>
<rect x="1926.90" y="195.94" width="18.20" height="18.17" fill="#bb3464"/>
<rect x="1944.80" y="195.94" width="18.20" height="18.17" fill="#bb2455"/>
<rect x="1962.70" y="195.94" width="18.20" height="18.17" fill="#bb2252"/>
<rect x="1980.60" y="195.94" width="18.20" height="18.17" fill="#bb2051"/>
<rect x="1998.50" y="195.94" width="18.20" height="18.17" fill="#bb1f4f"/>
<rect x="2016.40" y="195.94" width="18.20" height="18.17" fill="#bb1e4f"/>
<rect x="2034.30" y="195.94" width="18.20" height="18.17" fill="#bb1d4e"/>
<rect x="2052.20" y="195.94" width="18.20" height="18.17" fill="#bb1c4d"/>
<rect x="2070.10" y="195.94" width="18.20" height="18.17" fill="#bb1a4b"/>
<rect x="2088.00" y="195.94" width="18.20" height="18.17" fill="#bb1849"/>
<rect x="2105.90" y="195.94" width="18.20" height="18.17" fill="#bb1545"/>
<rect x="2123.80" y="195.94" width="18.20" height="18.17" fill="#bb1040"/>
<rect x="2141.70" y="195.94" width="18.20" height="18.17" fill="#bb0c3c"/>
<rect x="2159.60" y="195.94" width="18.20" height="18.17" fill="#bb093a"/>
<rect x="2177.50" y="195.94" width="18.20" height="18.17" fill="#bb0738"/>
<rect x="2195.40" y="195.94" width="71.60" height="18.17" fill="#bb0737"/>
<rect x="1730.00" y="213.81" width="18.20" height="18.17" fill="#651097"/>
<rect x="1747.90" y="213.81" width="18.20" height="18.17" fill="#681397"/>
<rect x="1765.80" y="213.81" width="18.20" height="18.17" fill="#6d1897"/>
<rect x="1783.70" y="213.81" width="18.20" height="18.17" fill="#721d97"/>
<rect x="1801.60" y="213.81" width="18.20" height="18.17" fill="#752097"/>
<rect x="1819.50" y="213.81" width="18.20" height="18.17" fill="#792497"/>
<rect x="1837.40" y="213.81" width="18.20" height="18.17" fill="#7d2897"/>
<rect x="1855.30" y="213.81" width="18.20" height="18.17" fill="#802b97"/>
<rect x="1873.20" y="213.81" width="18.20" height="18.17" fill="#913d97"/>
<rect x="1891.10" y="213.81" width="18.20" height="18.17" fill="#b15d97"/>
<rect x="1909.00" y="213.81" width="18.20" height="18.17" fill="#bb5182"/>
<rect x="1926.90" y="213.81" width="18.20" height="18.17" fill="#bb3767"/>
<rect x="1944.80" y="213.81" width="18.20" height="18.17" fill="#bb2556"/>
<rect x="1962.70" y="213.81" width="18.20" height="18.17" fill="#bb2353"/>
<rect x="1980.60" y="213.81" width="18.20" height="18.17" fill="#bb2151"/>
<rect x="1998.50" y="213.81" width="18.20" height="18.17" fill="#bb1f50"/>
<rect x="2016.40" y="213.81" width="18.20" height="18.17" fill="#bb1e4e"/>
<rect x="2034.30" y="213.81" width="18.20" height="18.17" fill="#bb1d4d"/>
<rect x="2052.20" y="213.81" width="18.20" height="18.17" fill="#bb1c4c"/>
<rect x="2070.10" y="213.81" width="18.20" height="18.17" fill="#bb194a"/>
<rect x="2088.00" y="213.81" width="18.20" height="18.17" fill="#bb1545"/>
<rect x="2105.90" y="213.81" width="18.20" height="18.17" fill="#bb1041"/>
<rect x="2123.80" y="213.81" width="18.20" height="18.17" fill="#bb0c3d"/>
<rect x="2141.70" y="213.81" width="18.20" height="18.17" fill="#bb093a"/>
<rect x="2159.60" y="213.81" width="18.20" height="18.17" fill="#bb0738"/>
<rect x="2177.50" y="213.81" width="36.10" height="18.17" fill="#bb0737"/>
<rect x="2213.30" y="213.81" width="53.70" height="18.17" fill="#bb0738"/>
<rect x="1730.00" y="231.68" width="18.20" height="18.17" fill="#681397"/>
<rect x="1747.90" y="231.68" width="18.20" height="18.17" fill="#6a1597"/>
<rect x="1765.80" y="231.68" width="18.20" height="18.17" fill="#6e1997"/>
<rect x="1783.70" y="231.68" width="18.20" height="18.17" fill="#711c97"/>
<rect x="1801.60" y="231.68" width="18.20" height="18.17" fill="#741f97"/>
<rect x="1819.50" y="231.68" width="18.20" height="18.17" fill="#772297"/>
<rect x="1837.40" y="231.68" width="18.20" height="18.17" fill="#7b2697"/>
<rect x="1855.30" y="231.68" width="18.20" height="18.17" fill="#7e2997"/>
<rect x="1873.20" y="231.68" width="18.20" height="18.17" fill="#842f97"/>
<rect x="1891.10" y="231.68" width="18.20" height="18.17" fill="#a75297"/>
<rect x="1909.00" y="231.68" width="18.20" height="18.17" fill="#bb598a"/>
<rect x="1926.90" y="231.68" width="18.20" height="18.17" fill="#bb3d6e"/>
<rect x="1944.80" y="231.68" width="18.20" height="18.17" fill="#bb2959"/>
<rect x="1962.70" y="231.68" width="18.20" height="18.17" fill="#bb2454"/>
<rect x="1980.60" y="231.68" width="18.20" height="18.17" fill="#bb2252"/>
<rect x="1998.50" y="231.68" width="18.20" height="18.17" fill="#bb2050"/>
<rect x="2016.40" y="231.68" width="18.20" height="18.17" fill="#bb1e4f"/>
<rect x="2034.30" y="231.68" width="18.20" height="18.17" fill="#bb1d4d"/>
<rect x="2052.20" y="231.68" width="18.20" height="18.17" fill="#bb1c4c"/>
<rect x="2070.10" y="231.68" width="18.20" height="18.17" fill="#bb1848"/>
<rect x="2088.00" y="231.68" width="18.20" height="18.17" fill="#bb1141"/>
<rect x="2105.90" y="231.68" width="18.20" height="18.17" fill="#bb0c3d"/>
<rect x="2123.80" y="231.68" width="18.20" height="18.17" fill="#bb0a3b"/>
<rect x="2141.70" y="231.68" width="18.20" height="18.17" fill="#bb093a"/>
<rect x="2159.60" y="231.68" width="36.10" height="18.17" fill="#bb0839"/>
<rect x="2195.40" y="231.68" width="18.20" height="18.17" fill="#bb093a"/>
<rect x="2213.30" y="231.68" width="53.70" height="18.17" fill="#bb0a3a"/>
<rect x="1730.00" y="249.54" width="18.20" height="18.17" fill="#6c1797"/>
<rect x="1747.90" y="249.54" width="18.20" height="18.17" fill="#6c1897"/>
<rect x="1765.80" y="249.54" width="18.20" height="18.17" fill="#6e1997"/>
<rect x="1783.70" y="249.54" width="18.20" height="18.17" fill="#701b97"/>
<rect x="1801.60" y="249.54" width="18.20" height="18.17" fill="#721d97"/>
<rect x="1819.50" y="249.54" width="18.20" height="18.17" fill="#752097"/>
<rect x="1837.40" y="249.54" width="18.20" height="18.17" fill="#792497"/>
<rect x="1855.30" y="249.54" width="18.20" height="18.17" fill="#7c2897"/>
<rect x="1873.20" y="249.54" width="18.20" height="18.17" fill="#7f2a97"/>
<rect x="1891.10" y="249.54" width="18.20" height="18.17" fill="#a75297"/>
<rect x="1909.00" y="249.54" width="18.20" height="18.17" fill="#bb6091"/>
<rect x="1926.90" y="249.54" width="18.20" height="18.17" fill="#bb4374"/>
<rect x="1944.80" y="249.54" width="18.20" height="18.17" fill="#bb2c5d"/>
<rect x="1962.70" y="249.54" width="18.20" height="18.17" fill="#bb2455"/>
<rect x="1980.60" y="249.54" width="18.20" height="18.17" fill="#bb2253"/>
<rect x="1998.50" y="249.54" width="18.20" height="18.17" fill="#bb2051"/>
<rect x="2016.40" y="249.54" width="18.20" height="18.17" fill="#bb1e4e"/>
<rect x="2034.30" y="249.54" width="18.20" height="18.17" fill="#bb1c4d"/>
<rect x="2052.20" y="249.54" width="18.20" height="18.17" fill="#bb1b4c"/>
<rect x="2070.10" y="249.54" width="18.20" height="18.17" fill="#bb1747"/>
<rect x="2088.00" y="249.54" width="18.20" height="18.17" fill="#bb0f3f"/>
<rect x="2105.90" y="249.54" width="18.20" height="18.17" fill="#bb0a3b"/>
<rect x="2123.80" y="249.54" width="18.20" height="18.17" fill="#bb093a"/>
<rect x="2141.70" y="249.54" width="36.10" height="18.17" fill="#bb0939"/>
<rect x="2177.50" y="249.54" width="18.20" height="18.17" fill="#bb093a"/>
<rect x="2195.40" y="249.54" width="18.20" height="18.17" fill="#bb0a3b"/>
<rect x="2213.30" y="249.54" width="53.70" height="18.17" fill="#bb0b3c"/>
<rect x="1730.00" y="267.41" width="18.20" height="18.17" fill="#701b97"/>
<rect x="1747.90" y="267.41" width="18.20" height="18.17" fill="#6f1a97"/>
<rect x="1765.80" y="267.41" width="18.20" height="18.17" fill="#6d1997"/>
<rect x="1783.70" y="267.41" width="18.20" height="18.17" fill="#6e1997"/>
<rect x="1801.60" y="267.41" width="18.20" height="18.17" fill="#701b97"/>
<rect x="1819.50" y="267.41" width="18.20" height="18.17" fill="#731e97"/>
<rect x="1837.40" y="267.41" width="18.20" height="18.17" fill="#772297"/>
<rect x="1855.30" y="267.41" width="18.20" height="18.17" fill="#7b2697"/>
<rect x="1873.20" y="267.41" width="18.20" height="18.17" fill="#7e2a97"/>
<rect x="1891.10" y="267.41" width="18.20" height="18.17" fill="#a75297"/>
<rect x="1909.00" y="267.41" width="18.20" height="18.17" fill="#bb6091"/>
<rect x="1926.90" y="267.41" width="18.20" height="18.17" fill="#bb4374"/>
<rect x="1944.80" y="267.41" width="18.20" height="18.17" fill="#bb2c5d"/>
<rect x="1962.70" y="267.41" width="18.20" height="18.17" fill="#bb2455"/>
<rect x="1980.60" y="267.41" width="18.20" height="18.17" fill="#bb2253"/>
<rect x="1998.50" y="267.41" width="18.20" height="18.17" fill="#bb2050"/>
<rect x="2016.40" y="267.41" width="18.20" height="18.17" fill="#bb1d4e"/>
<rect x="2034.30" y="267.41" width="18.20" height="18.17" fill="#bb1b4c"/>
<rect x="2052.20" y="267.41" width="18.20" height="18.17" fill="#bb1a4b"/>
<rect x="2070.10" y="267.41" width="18.20" height="18.17" fill="#bb1646"/>
<rect x="2088.00" y="267.41" width="18.20" height="18.17" fill="#bb0e3f"/>
<rect x="2105.90" y="267.41" width="18.20" height="18.17" fill="#bb0a3b"/>
<rect x="2123.80" y="267.41" width="18.20" height="18.17" fill="#bb093a"/>
<rect x="2141.70" y="267.41" width="36.10" height="18.17" fill="#bb0939"/>
<rect x="2177.50" y="267.41" width="18.20" height="18.17" fill="#bb093a"/>
<rect x="2195.40" y="267.41" width="18.20" height="18.17" fill="#bb0a3b"/>
<rect x="2213.30" y="267.41" width="18.20" height="18.17" fill="#bb0b3c"/>
<rect x="2231.20" y="267.41" width="35.80" height="18.17" fill="#bb0c3d"/>
<rect x="1730.00" y="285.28" width="18.20" height="18.17" fill="#731e97"/>
<rect x="1747.90" y="285.28" width="18.20" height="18.17" fill="#711c97"/>
<rect x="1765.80" y="285.28" width="18.20" height="18.17" fill="#6d1997"/>
<rect x="1783.70" y="285.28" width="18.20" height="18.17" fill="#6c1797"/>
<rect x="1801.60" y="285.28" width="18.20" height="18.17" fill="#6d1897"/>
<rect x="1819.50" y="285.28" width="18.20" height="18.17" fill="#6f1b97"/>
<rect x="1837.40" y="285.28" width="18.20" height="18.17" fill="#741f97"/>
<rect x="1855.30" y="285.28" width="18.20" height="18.17" fill="#782397"/>
<rect x="1873.20" y="285.28" width="18.20" height="18.17" fill="#7c2897"/>
<rect x="1891.10" y="285.28" width="18.20" height="18.17" fill="#a65297"/>
<rect x="1909.00" y="285.28" width="18.20" height="18.17" fill="#bb6696"/>
<rect x="1926.90" y="285.28" width="18.20" height="18.17" fill="#bb4778"/>
<rect x="1944.80" y="285.28" width="18.20" height="18.17" fill="#bb2f60"/>
<rect x="1962.70" y="285.28" width="18.20" height="18.17" fill="#bb2454"/>
<rect x="1980.60" y="285.28" width="18.20" height="18.17" fill="#bb2253"/>
<rect x="1998.50" y="285.28" width="18.20" height="18.17" fill="#bb2050"/>
<rect x="2016.40" y="285.28" width="18.20" height="18.17" fill="#bb1d4d"/>
<rect x="2034.30" y="285.28" width="18.20" height="18.17" fill="#bb1b4b"/>
<rect x="2052.20" y="285.28" width="18.20" height="18.17" fill="#bb1a4a"/>
<rect x="2070.10" y="285.28" width="18.20" height="18.17" fill="#bb1646"/>
<rect x="2088.00" y="285.28" width="18.20" height="18.17" fill="#bb1040"/>
<rect x="2105.90" y="285.28" width="18.20" height="18.17" fill="#bb0c3c"/>
<rect x="2123.80" y="285.28" width="18.20" height="18.17" fill="#bb0a3b"/>
<rect x="2141.70" y="285.28" width="36.10" height="18.17" fill="#bb0a3a"/>
<rect x="2177.50" y="285.28" width="18.20" height="18.17" fill="#bb0a3b"/>
<rect x="2195.40" y="285.28" width="18.20" height="18.17" fill="#bb0b3c"/>
<rect x="2213.30" y="285.28" width="18.20" height="18.17" fill="#bb0c3d"/>
<rect x="2231.20" y="285.28" width="35.80" height="18.17" fill="#bb0d3e"/>
<rect x="1730.00" y="303.15" width="18.20" height="18.17" fill="#752097"/>
<rect x="1747.90" y="303.15" width="18.20" height="18.17" fill="#731e97"/>
<rect x="1765.80" y="303.15" width="18.20" height="18.17" fill="#6e1997"/>
<rect x="1783.70" y="303.15" width="18.20" height="18.17" fill="#6b1697"/>
<rect x="1801.60" y="303.15" width="18.20" height="18.17" fill="#691497"/>
<rect x="1819.50" y="303.15" width="18.20" height="18.17" fill="#6a1697"/>
<rect x="1837.40" y="303.15" width="18.20" height="18.17" fill="#6f1b97"/>
<rect x="1855.30" y="303.15" width="18.20" height="18.17" fill="#742097"/>
<rect x="1873.20" y="303.15" width="18.20" height="18.17" fill="#792497"/>
<rect x="1891.10" y="303.15" width="18.20" height="18.17" fill="#842f97"/>
<rect x="1909.00" y="303.15" width="18.20" height="18.17" fill="#ac5897"/>
<rect x="1926.90" y="303.15" width="18.20" height="18.17" fill="#bb5687"/>
<rect x="1944.80" y="303.15" width="18.20" height="18.17" fill="#bb3b6b"/>
<rect x="1962.70" y="303.15" width="18.20" height="18.17" fill="#bb2757"/>
<rect x="1980.60" y="303.15" width="18.20" height="18.17" fill="#bb2152"/>
<rect x="1998.50" y="303.15" width="18.20" height="18.17" fill="#bb2050"/>
<rect x="2016.40" y="303.15" width="18.20" height="18.17" fill="#bb1d4d"/>
<rect x="2034.30" y="303.15" width="18.20" height="18.17" fill="#bb1b4b"/>
<rect x="2052.20" y="303.15" width="18.20" height="18.17" fill="#bb1a4a"/>
<rect x="2070.10" y="303.15" width="18.20" height="18.17" fill="#bb1747"/>
<rect x="2088.00" y="303.15" width="18.20" height="18.17" fill="#bb1242"/>
<rect x="2105.90" y="303.15" width="18.20" height="18.17" fill="#bb0e3f"/>
<rect x="2123.80" y="303.15" width="18.20" height="18.17" fill="#bb0d3d"/>
<rect x="2141.70" y="303.15" width="36.10" height="18.17" fill="#bb0c3c"/>
<rect x="2177.50" y="303.15" width="18.20" height="18.17" fill="#bb0c3d"/>
<rect x="2195.40" y="303.15" width="18.20" height="18.17" fill="#bb0d3e"/>
<rect x="2213.30" y="303.15" width="53.70" height="18.17" fill="#bb0e3f"/>
<rect x="1730.00" y="321.01" width="18.20" height="18.17" fill="#772297"/>
<rect x="1747.90" y="321.01" width="18.20" height="18.17" fill="#742097"/>
<rect x="1765.80" y="321.01" width="18.20" height="18.17" fill="#701b97"/>
<rect x="1783.70" y="321.01" width="18.20" height="18.17" fill="#6c1797"/>
<rect x="1801.60" y="321.01" width="18.20" height="18.17" fill="#681497"/>
<rect x="1819.50" y="321.01" width="18.20" height="18.17" fill="#691497"/>
<rect x="1837.40" y="321.01" width="18.20" height="18.17" fill="#6d1997"/>
<rect x="1855.30" y="321.01" width="18.20" height="18.17" fill="#721e97"/>
<rect x="1873.20" y="321.01" width="18.20" height="18.17" fill="#772397"/>
<rect x="1891.10" y="321.01" width="18.20" height="18.17" fill="#7b2697"/>
<rect x="1909.00" y="321.01" width="18.20" height="18.17" fill="#a75297"/>
<rect x="1926.90" y="321.01" width="18.20" height="18.17" fill="#bb6293"/>
<rect x="1944.80" y="321.01" width="18.20" height="18.17" fill="#bb4475"/>
<rect x="1962.70" y="321.01" width="18.20" height="18.17" fill="#bb2d5e"/>
<rect x="1980.60" y="321.01" width="18.20" height="18.17" fill="#bb2152"/>
<rect x="1998.50" y="321.01" width="18.20" height="18.17" fill="#bb2050"/>
<rect x="2016.40" y="321.01" width="18.20" height="18.17" fill="#bb1d4d"/>
<rect x="2034.30" y="321.01" width="18.20" height="18.17" fill="#bb1b4b"/>
<rect x="2052.20" y="321.01" width="18.20" height="18.17" fill="#bb1a4a"/>
<rect x="2070.10" y="321.01" width="18.20" height="18.17" fill="#bb1748"/>
<rect x="2088.00" y="321.01" width="18.20" height="18.17" fill="#bb1444"/>
<rect x="2105.90" y="321.01" width="18.20" height="18.17" fill="#bb1142"/>
<rect x="2123.80" y="321.01" width="18.20" height="18.17" fill="#bb0f3f"/>
<rect x="2141.70" y="321.01" width="18.20" height="18.17" fill="#bb0e3e"/>
<rect x="2159.60" y="321.01" width="18.20" height="18.17" fill="#bb0d3e"/>
<rect x="2177.50" y="321.01" width="18.20" height="18.17" fill="#bb0e3e"/>
<rect x="2195.40" y="321.01" width="18.20" height="18.17" fill="#bb0e3f"/>
<rect x="2213.30" y="321.01" width="53.70" height="18.17" fill="#bb0f3f"/>
<rect x="1730.00" y="338.88" width="18.20" height="18.17" fill="#792497"/>
<rect x="1747.90" y="338.88" width="18.20" height="18.17" fill="#772297"/>
<rect x="1765.80" y="338.88" width="18.20" height="18.17" fill="#721e97"/>
<rect x="1783.70" y="338.88" width="18.20" height="18.17" fill="#6e1a97"/>
<rect x="1801.60" y="338.88" width="36.10" height="18.17" fill="#6a1697"/>
<rect x="1837.40" y="338.88" width="18.20" height="18.17" fill="#6e1997"/>
<rect x="1855.30" y="338.88" width="18.20" height="18.17" fill="#721e97"/>
<rect x="1873.20" y="338.88" width="18.20" height="18.17" fill="#772397"/>
<rect x="1891.10" y="338.88" width="18.20" height="18.17" fill="#7b2697"/>
<rect x="1909.00" y="338.88" width="18.20" height="18.17" fill="#9a4597"/>
<rect x="1926.90" y="338.88" width="18.20" height="18.17" fill="#b76297"/>
<rect x="1944.80" y="338.88" width="18.20" height="18.17" fill="#bb4c7d"/>
<rect x="1962.70" y="338.88" width="18.20" height="18.17" fill="#bb3363"/>
<rect x="1980.60" y="338.88" width="18.20" height="18.17" fill="#bb2152"/>
<rect x="1998.50" y="338.88" width="18.20" height="18.17" fill="#bb2050"/>
<rect x="2016.40" y="338.88" width="18.20" height="18.17" fill="#bb1d4d"/>
<rect x="2034.30" y="338.88" width="18.20" height="18.17" fill="#bb1b4b"/>
<rect x="2052.20" y="338.88" width="18.20" height="18.17" fill="#bb1a4a"/>
<rect x="2070.10" y="338.88" width="18.20" height="18.17" fill="#bb1848"/>
<rect x="2088.00" y="338.88" width="18.20" height="18.17" fill="#bb1546"/>
<rect x="2105.90" y="338.88" width="18.20" height="18.17" fill="#bb1344"/>
<rect x="2123.80" y="338.88" width="18.20" height="18.17" fill="#bb1142"/>
<rect x="2141.70" y="338.88" width="18.20" height="18.17" fill="#bb1040"/>
<rect x="2159.60" y="338.88" width="18.20" height="18.17" fill="#bb0f3f"/>
<rect x="2177.50" y="338.88" width="18.20" height="18.17" fill="#bb0e3f"/>
<rect x="2195.40" y="338.88" width="71.60" height="18.17" fill="#bb0f3f"/>
<rect x="1730.00" y="356.75" width="18.20" height="18.17" fill="#762197"/>
<rect x="1747.90" y="356.75" width="18.20" height="18.17" fill="#742097"/>
<rect x="1765.80" y="356.75" width="18.20" height="18.17" fill="#711d97"/>
<rect x="1783.70" y="356.75" width="18.20" height="18.17" fill="#6e1a97"/>
<rect x="1801.60" y="356.75" width="18.20" height="18.17" fill="#6c1797"/>
<rect x="1819.50" y="356.75" width="18.20" height="18.17" fill="#6c1897"/>
<rect x="1837.40" y="356.75" width="18.20" height="18.17" fill="#6f1b97"/>
<rect x="1855.30" y="356.75" width="18.20" height="18.17" fill="#731e97"/>
<rect x="1873.20" y="356.75" width="18.20" height="18.17" fill="#772397"/>
<rect x="1891.10" y="356.75" width="18.20" height="18.17" fill="#7a2697"/>
<rect x="1909.00" y="356.75" width="18.20" height="18.17" fill="#873297"/>
<rect x="1926.90" y="356.75" width="18.20" height="18.17" fill="#ae5997"/>
<rect x="1944.80" y="356.75" width="18.20" height="18.17" fill="#bb5585"/>
<rect x="1962.70" y="356.75" width="18.20" height="18.17" fill="#bb3a6a"/>
<rect x="1980.60" y="356.75" width="18.20" height="18.17" fill="#bb2656"/>
<rect x="1998.50" y="356.75" width="18.20" height="18.17" fill="#bb1f50"/>
<rect x="2016.40" y="356.75" width="18.20" height="18.17" fill="#bb1d4d"/>
<rect x="2034.30" y="356.75" width="18.20" height="18.17" fill="#bb1b4b"/>
<rect x="2052.20" y="356.75" width="18.20" height="18.17" fill="#bb1a4b"/>
<rect x="2070.10" y="356.75" width="18.20" height="18.17" fill="#bb1949"/>
<rect x="2088.00" y="356.75" width="18.20" height="18.17" fill="#bb1748"/>
<rect x="2105.90" y="356.75" width="18.20" height="18.17" fill="#bb1646"/>
<rect x="2123.80" y="356.75" width="18.20" height="18.17" fill="#bb1444"/>
<rect x="2141.70" y="356.75" width="18.20" height="18.17" fill="#bb1243"/>
<rect x="2159.60" y="356.75" width="18.20" height="18.17" fill="#bb1142"/>
<rect x="2177.50" y="356.75" width="18.20" height="18.17" fill="#bb1040"/>
<rect x="2195.40" y="356.75" width="18.20" height="18.17" fill="#bb0f3f"/>
<rect x="2213.30" y="356.75" width="18.20" height="18.17" fill="#bb0e3f"/>
<rect x="2231.20" y="356.75" width="18.20" height="18.17" fill="#bb0e3e"/>
<rect x="2249.10" y="356.75" width="17.90" height="18.17" fill="#bb0d3e"/>
<rect x="1730.00" y="374.62" width="18.20" height="18.17" fill="#6e1997"/>
<rect x="1747.90" y="374.62" width="18.20" height="18.17" fill="#6d1997"/>
<rect x="1765.80" y="374.62" width="18.20" height="18.17" fill="#6c1897"/>
<rect x="1783.70" y="374.62" width="18.20" height="18.17" fill="#6c1797"/>
<rect x="1801.60" y="374.62" width="18.20" height="18.17" fill="#6c1897"/>
<rect x="1819.50" y="374.62" width="18.20" height="18.17" fill="#6e1a97"/>
<rect x="1837.40" y="374.62" width="18.20" height="18.17" fill="#711d97"/>
<rect x="1855.30" y="374.62" width="18.20" height="18.17" fill="#742097"/>
<rect x="1873.20" y="374.62" width="18.20" height="18.17" fill="#772297"/>
<rect x="1891.10" y="374.62" width="18.20" height="18.17" fill="#792497"/>
<rect x="1909.00" y="374.62" width="18.20" height="18.17" fill="#7c2897"/>
<rect x="1926.90" y="374.62" width="18.20" height="18.17" fill="#a75297"/>
<rect x="1944.80" y="374.62" width="18.20" height="18.17" fill="#bb5d8e"/>
<rect x="1962.70" y="374.62" width="18.20" height="18.17" fill="#bb4071"/>
<rect x="1980.60" y="374.62" width="18.20" height="18.17" fill="#bb2a5b"/>
<rect x="1998.50" y="374.62" width="18.20" height="18.17" fill="#bb1f4f"/>
<rect x="2016.40" y="374.62" width="18.20" height="18.17" fill="#bb1c4d"/>
<rect x="2034.30" y="374.62" width="18.20" height="18.17" fill="#bb1b4c"/>
<rect x="2052.20" y="374.62" width="18.20" height="18.17" fill="#bb1b4b"/>
<rect x="2070.10" y="374.62" width="18.20" height="18.17" fill="#bb1a4b"/>
<rect x="2088.00" y="374.62" width="18.20" height="18.17" fill="#bb1a4a"/>
<rect x="2105.90" y="374.62" width="18.20" height="18.17" fill="#bb194a"/>
<rect x="2123.80" y="374.62" width="18.20" height="18.17" fill="#bb1848"/>
<rect x="2141.70" y="374.62" width="18.20" height="18.17" fill="#bb1647"/>
<rect x="2159.60" y="374.62" width="18.20" height="18.17" fill="#bb1445"/>
<rect x="2177.50" y="374.62" width="18.20" height="18.17" fill="#bb1243"/>
<rect x="2195.40" y="374.62" width="18.20" height="18.17" fill="#bb0f3f"/>
<rect x="2213.30" y="374.62" width="18.20" height="18.17" fill="#bb0d3d"/>
<rect x="2231.20" y="374.62" width="18.20" height="18.17" fill="#bb0b3c"/>
<rect x="2249.10" y="374.62" width="17.90" height="18.17" fill="#bb0a3b"/>
<rect x="1730.00" y="392.49" width="18.20" height="18.17" fill="#6b1797"/>
<rect x="1747.90" y="392.49" width="18.20" height="18.17" fill="#6a1697"/>
<rect x="1765.80" y="392.49" width="36.10" height="18.17" fill="#691597"/>
<rect x="1801.60" y="392.49" width="18.20" height="18.17" fill="#6b1697"/>
<rect x="1819.50" y="392.49" width="18.20" height="18.17" fill="#6d1997"/>
<rect x="1837.40" y="392.49" width="18.20" height="18.17" fill="#711c97"/>
<rect x="1855.30" y="392.49" width="18.20" height="18.17" fill="#731f97"/>
<rect x="1873.20" y="392.49" width="18.20" height="18.17" fill="#752097"/>
<rect x="1891.10" y="392.49" width="18.20" height="18.17" fill="#762297"/>
<rect x="1909.00" y="392.49" width="18.20" height="18.17" fill="#772397"/>
<rect x="1926.90" y="392.49" width="18.20" height="18.17" fill="#a34e97"/>
<rect x="1944.80" y="392.49" width="18.20" height="18.17" fill="#bb6495"/>
<rect x="1962.70" y="392.49" width="18.20" height="18.17" fill="#bb4677"/>
<rect x="1980.60" y="392.49" width="18.20" height="18.17" fill="#bb2e5f"/>
<rect x="1998.50" y="392.49" width="18.20" height="18.17" fill="#bb1f4f"/>
<rect x="2016.40" y="392.49" width="18.20" height="18.17" fill="#bb1c4d"/>
<rect x="2034.30" y="392.49" width="54.00" height="18.17" fill="#bb1b4c"/>
<rect x="2088.00" y="392.49" width="18.20" height="18.17" fill="#bb1b4b"/>
<rect x="2105.90" y="392.49" width="18.20" height="18.17" fill="#bb1a4a"/>
<rect x="2123.80" y="392.49" width="18.20" height="18.17" fill="#bb1848"/>
<rect x="2141.70" y="392.49" width="18.20" height="18.17" fill="#bb1646"/>
<rect x="2159.60" y="392.49" width="18.20" height="18.17" fill="#bb1344"/>
<rect x="2177.50" y="392.49" width="18.20" height="18.17" fill="#bb1142"/>
<rect x="2195.40" y="392.49" width="18.20" height="18.17" fill="#bb0e3e"/>
<rect x="2213.30" y="392.49" width="18.20" height="18.17" fill="#bb0c3c"/>
<rect x="2231.20" y="392.49" width="18.20" height="18.17" fill="#bb0a3b"/>
<rect x="2249.10" y="392.49" width="17.90" height="18.17" fill="#bb093a"/>
<rect x="1730.00" y="410.35" width="18.20" height="18.17" fill="#6e1a97"/>
<rect x="1747.90" y="410.35" width="18.20" height="18.17" fill="#6c1897"/>
<rect x="1765.80" y="410.35" width="18.20" height="18.17" fill="#681497"/>
<rect x="1783.70" y="410.35" width="18.20" height="18.17" fill="#671297"/>
<rect x="1801.60" y="410.35" width="18.20" height="18.17" fill="#671397"/>
<rect x="1819.50" y="410.35" width="18.20" height="18.17" fill="#691597"/>
<rect x="1837.40" y="410.35" width="18.20" height="18.17" fill="#6d1997"/>
<rect x="1855.30" y="410.35" width="18.20" height="18.17" fill="#701b97"/>
<rect x="1873.20" y="410.35" width="18.20" height="18.17" fill="#711d97"/>
<rect x="1891.10" y="410.35" width="18.20" height="18.17" fill="#721e97"/>
<rect x="1909.00" y="410.35" width="18.20" height="18.17" fill="#731f97"/>
<rect x="1926.90" y="410.35" width="18.20" height="18.17" fill="#943f97"/>
<rect x="1944.80" y="410.35" width="18.20" height="18.17" fill="#b86497"/>
<rect x="1962.70" y="410.35" width="18.20" height="18.17" fill="#bb4b7b"/>
<rect x="1980.60" y="410.35" width="18.20" height="18.17" fill="#bb3262"/>
<rect x="1998.50" y="410.35" width="18.20" height="18.17" fill="#bb2151"/>
<rect x="2016.40" y="410.35" width="18.20" height="18.17" fill="#bb1c4d"/>
<rect x="2034.30" y="410.35" width="36.10" height="18.17" fill="#bb1b4c"/>
<rect x="2070.10" y="410.35" width="18.20" height="18.17" fill="#bb1b4b"/>
<rect x="2088.00" y="410.35" width="18.20" height="18.17" fill="#bb1a4b"/>
<rect x="2105.90" y="410.35" width="18.20" height="18.17" fill="#bb1848"/>
<rect x="2123.80" y="410.35" width="18.20" height="18.17" fill="#bb1344"/>
<rect x="2141.70" y="410.35" width="18.20" height="18.17" fill="#bb1041"/>
<rect x="2159.60" y="410.35" width="18.20" height="18.17" fill="#bb0e3f"/>
<rect x="2177.50" y="410.35" width="18.20" height="18.17" fill="#bb0d3d"/>
<rect x="2195.40" y="410.35" width="18.20" height="18.17" fill="#bb0c3c"/>
<rect x="2213.30" y="410.35" width="18.20" height="18.17" fill="#bb0b3c"/>
<rect x="2231.20" y="410.35" width="18.20" height="18.17" fill="#bb0b3b"/>
<rect x="2249.10" y="410.35" width="17.90" height="18.17" fill="#bb0a3b"/>
<rect x="1730.00" y="428.22" width="18.20" height="18.17" fill="#762197"/>
<rect x="1747.90" y="428.22" width="18.20" height="18.17" fill="#721d97"/>
<rect x="1765.80" y="428.22" width="18.20" height="18.17" fill="#691597"/>
<rect x="1783.70" y="428.22" width="18.20" height="18.17" fill="#651097"/>
<rect x="1801.60" y="428.22" width="18.20" height="18.17" fill="#640f97"/>
<rect x="1819.50" y="428.22" width="18.20" height="18.17" fill="#661197"/>
<rect x="1837.40" y="428.22" width="18.20" height="18.17" fill="#6b1797"/>
<rect x="1855.30" y="428.22" width="18.20" height="18.17" fill="#6e1997"/>
<rect x="1873.20" y="428.22" width="18.20" height="18.17" fill="#6f1a97"/>
<rect x="1891.10" y="428.22" width="18.20" height="18.17" fill="#701b97"/>
<rect x="1909.00" y="428.22" width="18.20" height="18.17" fill="#721d97"/>
<rect x="1926.90" y="428.22" width="18.20" height="18.17" fill="#822e97"/>
<rect x="1944.80" y="428.22" width="18.20" height="18.17" fill="#b15c97"/>
<rect x="1962.70" y="428.22" width="18.20" height="18.17" fill="#bb5182"/>
<rect x="1980.60" y="428.22" width="18.20" height="18.17" fill="#bb3768"/>
<rect x="1998.50" y="428.22" width="18.20" height="18.17" fill="#bb2455"/>
<rect x="2016.40" y="428.22" width="18.20" height="18.17" fill="#bb1d4e"/>
<rect x="2034.30" y="428.22" width="18.20" height="18.17" fill="#bb1c4c"/>
<rect x="2052.20" y="428.22" width="18.20" height="18.17" fill="#bb1b4c"/>
<rect x="2070.10" y="428.22" width="18.20" height="18.17" fill="#bb1b4b"/>
<rect x="2088.00" y="428.22" width="18.20" height="18.17" fill="#bb1a4a"/>
<rect x="2105.90" y="428.22" width="18.20" height="18.17" fill="#bb1647"/>
<rect x="2123.80" y="428.22" width="18.20" height="18.17" fill="#bb1142"/>
<rect x="2141.70" y="428.22" width="18.20" height="18.17" fill="#bb0d3e"/>
<rect x="2159.60" y="428.22" width="18.20" height="18.17" fill="#bb0b3c"/>
<rect x="2177.50" y="428.22" width="54.00" height="18.17" fill="#bb0a3b"/>
<rect x="2231.20" y="428.22" width="35.80" height="18.17" fill="#bb0b3b"/>
<rect x="1730.00" y="446.09" width="18.20" height="18.17" fill="#822d97"/>
<rect x="1747.90" y="446.09" width="18.20" height="18.17" fill="#7b2697"/>
<rect x="1765.80" y="446.09" width="18.20" height="18.17" fill="#6c1797"/>
<rect x="1783.70" y="446.09" width="18.20" height="18.17" fill="#630e97"/>
<rect x="1801.60" y="446.09" width="18.20" height="18.17" fill="#610c97"/>
<rect x="1819.50" y="446.09" width="18.20" height="18.17" fill="#630e97"/>
<rect x="1837.40" y="446.09" width="18.20" height="18.17" fill="#6a1697"/>
<rect x="1855.30" y="446.09" width="36.10" height="18.17" fill="#6e1997"/>
<rect x="1891.10" y="446.09" width="18.20" height="18.17" fill="#6f1b97"/>
<rect x="1909.00" y="446.09" width="18.20" height="18.17" fill="#721d97"/>
<rect x="1926.90" y="446.09" width="18.20" height="18.17" fill="#752197"/>
<rect x="1944.80" y="446.09" width="18.20" height="18.17" fill="#a75297"/>
<rect x="1962.70" y="446.09" width="18.20" height="18.17" fill="#bb5e8e"/>
<rect x="1980.60" y="446.09" width="18.20" height="18.17" fill="#bb4172"/>
<rect x="1998.50" y="446.09" width="18.20" height="18.17" fill="#bb2b5b"/>
<rect x="2016.40" y="446.09" width="18.20" height="18.17" fill="#bb1e4f"/>
<rect x="2034.30" y="446.09" width="18.20" height="18.17" fill="#bb1d4e"/>
<rect x="2052.20" y="446.09" width="18.20" height="18.17" fill="#bb1c4c"/>
<rect x="2070.10" y="446.09" width="18.20" height="18.17" fill="#bb1b4b"/>
<rect x="2088.00" y="446.09" width="18.20" height="18.17" fill="#bb1a4a"/>
<rect x="2105.90" y="446.09" width="18.20" height="18.17" fill="#bb1647"/>
<rect x="2123.80" y="446.09" width="18.20" height="18.17" fill="#bb1041"/>
<rect x="2141.70" y="446.09" width="18.20" height="18.17" fill="#bb0c3d"/>
<rect x="2159.60" y="446.09" width="18.20" height="18.17" fill="#bb0a3b"/>
<rect x="2177.50" y="446.09" width="36.10" height="18.17" fill="#bb093a"/>
<rect x="2213.30" y="446.09" width="18.20" height="18.17" fill="#bb0a3a"/>
<rect x="2231.20" y="446.09" width="18.20" height="18.17" fill="#bb0a3b"/>
<rect x="2249.10" y="446.09" width="17.90" height="18.17" fill="#bb0b3b"/>
<rect x="1730.00" y="463.96" width="18.20" height="18.17" fill="#812c97"/>
<rect x="1747.90" y="463.96" width="18.20" height="18.17" fill="#792597"/>
<rect x="1765.80" y="463.96" width="18.20" height="18.17" fill="#6b1797"/>
<rect x="1783.70" y="463.96" width="18.20" height="18.17" fill="#630e97"/>
<rect x="1801.60" y="463.96" width="18.20" height="18.17" fill="#610d97"/>
<rect x="1819.50" y="463.96" width="18.20" height="18.17" fill="#640f97"/>
<rect x="1837.40" y="463.96" width="18.20" height="18.17" fill="#6b1697"/>
<rect x="1855.30" y="463.96" width="18.20" height="18.17" fill="#6d1997"/>
<rect x="1873.20" y="463.96" width="18.20" height="18.17" fill="#6b1797"/>
<rect x="1891.10" y="463.96" width="18.20" height="18.17" fill="#6c1897"/>
<rect x="1909.00" y="463.96" width="18.20" height="18.17" fill="#711c97"/>
<rect x="1926.90" y="463.96" width="18.20" height="18.17" fill="#741f97"/>
<rect x="1944.80" y="463.96" width="18.20" height="18.17" fill="#994497"/>
<rect x="1962.70" y="463.96" width="18.20" height="18.17" fill="#ba6597"/>
<rect x="1980.60" y="463.96" width="18.20" height="18.17" fill="#bb497a"/>
<rect x="1998.50" y="463.96" width="18.20" height="18.17" fill="#bb3061"/>
<rect x="2016.40" y="463.96" width="18.20" height="18.17" fill="#bb2050"/>
<rect x="2034.30" y="463.96" width="18.20" height="18.17" fill="#bb1e4f"/>
<rect x="2052.20" y="463.96" width="18.20" height="18.17" fill="#bb1d4d"/>
<rect x="2070.10" y="463.96" width="18.20" height="18.17" fill="#bb1b4c"/>
<rect x="2088.00" y="463.96" width="18.20" height="18.17" fill="#bb1a4b"/>
<rect x="2105.90" y="463.96" width="18.20" height="18.17" fill="#bb1748"/>
<rect x="2123.80" y="463.96" width="18.20" height="18.17" fill="#bb1242"/>
<rect x="2141.70" y="463.96" width="18.20" height="18.17" fill="#bb0d3e"/>
<rect x="2159.60" y="463.96" width="18.20" height="18.17" fill="#bb0b3b"/>
<rect x="2177.50" y="463.96" width="18.20" height="18.17" fill="#bb093a"/>
<rect x="2195.40" y="463.96" width="18.20" height="18.17" fill="#bb0939"/>
<rect x="2213.30" y="463.96" width="18.20" height="18.17" fill="#bb093a"/>
<rect x="2231.20" y="463.96" width="18.20" height="18.17" fill="#bb0a3b"/>
<rect x="2249.10" y="463.96" width="17.90" height="18.17" fill="#bb0b3b"/>
<rect x="1730.00" y="481.82" width="18.20" height="18.17" fill="#711d97"/>
<rect x="1747.90" y="481.82" width="18.20" height="18.17" fill="#6e1a97"/>
<rect x="1765.80" y="481.82" width="18.20" height="18.17" fill="#681397"/>
<rect x="1783.70" y="481.82" width="18.20" height="18.17" fill="#651197"/>
<rect x="1801.60" y="481.82" width="18.20" height="18.17" fill="#661297"/>
<rect x="1819.50" y="481.82" width="18.20" height="18.17" fill="#691497"/>
<rect x="1837.40" y="481.82" width="18.20" height="18.17" fill="#6d1897"/>
<rect x="1855.30" y="481.82" width="18.20" height="18.17" fill="#6c1897"/>
<rect x="1873.20" y="481.82" width="18.20" height="18.17" fill="#661197"/>
<rect x="1891.10" y="481.82" width="18.20" height="18.17" fill="#661297"/>
<rect x="1909.00" y="481.82" width="18.20" height="18.17" fill="#6d1997"/>
<rect x="1926.90" y="481.82" width="18.20" height="18.17" fill="#721e97"/>
<rect x="1944.80" y="481.82" width="18.20" height="18.17" fill="#822e97"/>
<rect x="1962.70" y="481.82" width="18.20" height="18.17" fill="#af5b97"/>
<rect x="1980.60" y="481.82" width="18.20" height="18.17" fill="#bb5384"/>
<rect x="1998.50" y="481.82" width="18.20" height="18.17" fill="#bb3969"/>
<rect x="2016.40" y="481.82" width="18.20" height="18.17" fill="#bb2556"/>
<rect x="2034.30" y="481.82" width="18.20" height="18.17" fill="#bb1f4f"/>
<rect x="2052.20" y="481.82" width="18.20" height="18.17" fill="#bb1d4e"/>
<rect x="2070.10" y="481.82" width="18.20" height="18.17" fill="#bb1c4d"/>
<rect x="2088.00" y="481.82" width="18.20" height="18.17" fill="#bb1b4c"/>
<rect x="2105.90" y="481.82" width="18.20" height="18.17" fill="#bb1949"/>
<rect x="2123.80" y="481.82" width="18.20" height="18.17" fill="#bb1545"/>
<rect x="2141.70" y="481.82" width="18.20" height="18.17" fill="#bb1141"/>
<rect x="2159.60" y="481.82" width="18.20" height="18.17" fill="#bb0c3d"/>
<rect x="2177.50" y="481.82" width="18.20" height="18.17" fill="#bb0a3b"/>
<rect x="2195.40" y="481.82" width="36.10" height="18.17" fill="#bb093a"/>
<rect x="2231.20" y="481.82" width="18.20" height="18.17" fill="#bb0a3b"/>
<rect x="2249.10" y="481.82" width="17.90" height="18.17" fill="#bb0b3b"/>
<rect x="1730.00" y="499.69" width="54.00" height="18.17" fill="#671297"/>
<rect x="1783.70" y="499.69" width="18.20" height="18.17" fill="#671397"/>
<rect x="1801.60" y="499.69" width="18.20" height="18.17" fill="#691497"/>
<rect x="1819.50" y="499.69" width="18.20" height="18.17" fill="#6b1697"/>
<rect x="1837.40" y="499.69" width="18.20" height="18.17" fill="#6e1997"/>
<rect x="1855.30" y="499.69" width="18.20" height="18.17" fill="#6c1797"/>
<rect x="1873.20" y="499.69" width="36.10" height="18.17" fill="#641097"/>
<rect x="1909.00" y="499.69" width="18.20" height="18.17" fill="#6c1797"/>
<rect x="1926.90" y="499.69" width="18.20" height="18.17" fill="#721d97"/>
<rect x="1944.80" y="499.69" width="18.20" height="18.17" fill="#782397"/>
<rect x="1962.70" y="499.69" width="18.20" height="18.17" fill="#a75297"/>
<rect x="1980.60" y="499.69" width="18.20" height="18.17" fill="#bb5d8e"/>
<rect x="1998.50" y="499.69" width="18.20" height="18.17" fill="#bb4171"/>
<rect x="2016.40" y="499.69" width="18.20" height="18.17" fill="#bb2b5b"/>
<rect x="2034.30" y="499.69" width="18.20" height="18.17" fill="#bb1e4f"/>
<rect x="2052.20" y="499.69" width="18.20" height="18.17" fill="#bb1e4e"/>
<rect x="2070.10" y="499.69" width="18.20" height="18.17" fill="#bb1d4d"/>
<rect x="2088.00" y="499.69" width="18.20" height="18.17" fill="#bb1c4c"/>
<rect x="2105.90" y="499.69" width="18.20" height="18.17" fill="#bb1a4a"/>
<rect x="2123.80" y="499.69" width="18.20" height="18.17" fill="#bb1748"/>
<rect x="2141.70" y="499.69" width="18.20" height="18.17" fill="#bb1344"/>
<rect x="2159.60" y="499.69" width="18.20" height="18.17" fill="#bb0e3f"/>
<rect x="2177.50" y="499.69" width="18.20" height="18.17" fill="#bb0b3c"/>
<rect x="2195.40" y="499.69" width="18.20" height="18.17" fill="#bb0a3a"/>
<rect x="2213.30" y="499.69" width="18.20" height="18.17" fill="#bb093a"/>
<rect x="2231.20" y="499.69" width="18.20" height="18.17" fill="#bb0a3b"/>
<rect x="2249.10" y="499.69" width="17.90" height="18.17" fill="#bb0b3b"/>
<rect x="1730.00" y="517.56" width="18.20" height="18.17" fill="#620d97"/>
<rect x="1747.90" y="517.56" width="18.20" height="18.17" fill="#640f97"/>
<rect x="1765.80" y="517.56" width="18.20" height="18.17" fill="#671297"/>
<rect x="1783.70" y="517.56" width="18.20" height="18.17" fill="#691497"/>
<rect x="1801.60" y="517.56" width="18.20" height="18.17" fill="#691597"/>
<rect x="1819.50" y="517.56" width="18.20" height="18.17" fill="#6b1697"/>
<rect x="1837.40" y="517.56" width="18.20" height="18.17" fill="#6d1897"/>
<rect x="1855.30" y="517.56" width="18.20" height="18.17" fill="#6b1797"/>
<rect x="1873.20" y="517.56" width="18.20" height="18.17" fill="#651197"/>
<rect x="1891.10" y="517.56" width="18.20" height="18.17" fill="#661197"/>
<rect x="1909.00" y="517.56" width="18.20" height="18.17" fill="#6c1897"/>
<rect x="1926.90" y="517.56" width="18.20" height="18.17" fill="#721d97"/>
<rect x="1944.80" y="517.56" width="18.20" height="18.17" fill="#762197"/>
<rect x="1962.70" y="517.56" width="18.20" height="18.17" fill="#974297"/>
<rect x="1980.60" y="517.56" width="18.20" height="18.17" fill="#b86397"/>
<rect x="1998.50" y="517.56" width="18.20" height="18.17" fill="#bb4b7c"/>
<rect x="2016.40" y="517.56" width="18.20" height="18.17" fill="#bb3263"/>
<rect x="2034.30" y="517.56" width="18.20" height="18.17" fill="#bb2151"/>
<rect x="2052.20" y="517.56" width="18.20" height="18.17" fill="#bb1d4e"/>
<rect x="2070.10" y="517.56" width="18.20" height="18.17" fill="#bb1d4d"/>
<rect x="2088.00" y="517.56" width="18.20" height="18.17" fill="#bb1c4c"/>
<rect x="2105.90" y="517.56" width="18.20" height="18.17" fill="#bb1a4b"/>
<rect x="2123.80" y="517.56" width="18.20" height="18.17" fill="#bb1949"/>
<rect x="2141.70" y="517.56" width="18.20" height="18.17" fill="#bb1646"/>
<rect x="2159.60" y="517.56" width="18.20" height="18.17" fill="#bb1041"/>
<rect x="2177.50" y="517.56" width="18.20" height="18.17" fill="#bb0d3d"/>
<rect x="2195.40" y="517.56" width="18.20" height="18.17" fill="#bb0a3b"/>
<rect x="2213.30" y="517.56" width="18.20" height="18.17" fill="#bb093a"/>
<rect x="2231.20" y="517.56" width="18.20" height="18.17" fill="#bb0a3b"/>
<rect x="2249.10" y="517.56" width="17.90" height="18.17" fill="#bb0b3b"/>
<rect x="1730.00" y="535.43" width="18.20" height="18.17" fill="#600b97"/>
<rect x="1747.90" y="535.43" width="18.20" height="18.17" fill="#620e97"/>
<rect x="1765.80" y="535.43" width="18.20" height="18.17" fill="#671397"/>
<rect x="1783.70" y="535.43" width="36.10" height="18.17" fill="#6a1597"/>
<rect x="1819.50" y="535.43" width="18.20" height="18.17" fill="#6a1697"/>
<rect x="1837.40" y="535.43" width="18.20" height="18.17" fill="#6c1897"/>
<rect x="1855.30" y="535.43" width="18.20" height="18.17" fill="#6b1797"/>
<rect x="1873.20" y="535.43" width="18.20" height="18.17" fill="#671297"/>
<rect x="1891.10" y="535.43" width="18.20" height="18.17" fill="#681397"/>
<rect x="1909.00" y="535.43" width="18.20" height="18.17" fill="#6d1897"/>
<rect x="1926.90" y="535.43" width="18.20" height="18.17" fill="#711d97"/>
<rect x="1944.80" y="535.43" width="18.20" height="18.17" fill="#741f97"/>
<rect x="1962.70" y="535.43" width="18.20" height="18.17" fill="#792497"/>
<rect x="1980.60" y="535.43" width="18.20" height="18.17" fill="#a75297"/>
<rect x="1998.50" y="535.43" width="18.20" height="18.17" fill="#bb5a8b"/>
<rect x="2016.40" y="535.43" width="18.20" height="18.17" fill="#bb3e6f"/>
<rect x="2034.30" y="535.43" width="18.20" height="18.17" fill="#bb295a"/>
<rect x="2052.20" y="535.43" width="18.20" height="18.17" fill="#bb1d4e"/>
<rect x="2070.10" y="535.43" width="18.20" height="18.17" fill="#bb1d4d"/>
<rect x="2088.00" y="535.43" width="18.20" height="18.17" fill="#bb1c4c"/>
<rect x="2105.90" y="535.43" width="18.20" height="18.17" fill="#bb1b4b"/>
<rect x="2123.80" y="535.43" width="18.20" height="18.17" fill="#bb1a4a"/>
<rect x="2141.70" y="535.43" width="18.20" height="18.17" fill="#bb1747"/>
<rect x="2159.60" y="535.43" width="18.20" height="18.17" fill="#bb1142"/>
<rect x="2177.50" y="535.43" width="18.20" height="18.17" fill="#bb0d3e"/>
<rect x="2195.40" y="535.43" width="18.20" height="18.17" fill="#bb0a3b"/>
<rect x="2213.30" y="535.43" width="18.20" height="18.17" fill="#bb093a"/>
<rect x="2231.20" y="535.43" width="18.20" height="18.17" fill="#bb0a3b"/>
<rect x="2249.10" y="535.43" width="17.90" height="18.17" fill="#bb0b3b"/>
<rect x="1730.00" y="553.29" width="18.20" height="18.17" fill="#610c97"/>
<rect x="1747.90" y="553.29" width="18.20" height="18.17" fill="#630e97"/>
<rect x="1765.80" y="553.29" width="18.20" height="18.17" fill="#671397"/>
<rect x="1783.70" y="553.29" width="36.10" height="18.17" fill="#6a1597"/>
<rect x="1819.50" y="553.29" width="18.20" height="18.17" fill="#6a1697"/>
<rect x="1837.40" y="553.29" width="18.20" height="18.17" fill="#6c1797"/>
<rect x="1855.30" y="553.29" width="18.20" height="18.17" fill="#6b1797"/>
<rect x="1873.20" y="553.29" width="18.20" height="18.17" fill="#691497"/>
<rect x="1891.10" y="553.29" width="18.20" height="18.17" fill="#6a1597"/>
<rect x="1909.00" y="553.29" width="18.20" height="18.17" fill="#6e1997"/>
<rect x="1926.90" y="553.29" width="18.20" height="18.17" fill="#701b97"/>
<rect x="1944.80" y="553.29" width="18.20" height="18.17" fill="#701c97"/>
<rect x="1962.70" y="553.29" width="18.20" height="18.17" fill="#711c97"/>
<rect x="1980.60" y="553.29" width="18.20" height="18.17" fill="#a24e97"/>
<rect x="1998.50" y="553.29" width="18.20" height="18.17" fill="#bb6090"/>
<rect x="2016.40" y="553.29" width="18.20" height="18.17" fill="#bb4373"/>
<rect x="2034.30" y="553.29" width="18.20" height="18.17" fill="#bb2c5d"/>
<rect x="2052.20" y="553.29" width="18.20" height="18.17" fill="#bb1d4e"/>
<rect x="2070.10" y="553.29" width="18.20" height="18.17" fill="#bb1d4d"/>
<rect x="2088.00" y="553.29" width="18.20" height="18.17" fill="#bb1c4c"/>
<rect x="2105.90" y="553.29" width="18.20" height="18.17" fill="#bb1b4b"/>
<rect x="2123.80" y="553.29" width="18.20" height="18.17" fill="#bb1a4a"/>
<rect x="2141.70" y="553.29" width="18.20" height="18.17" fill="#bb1747"/>
<rect x="2159.60" y="553.29" width="18.20" height="18.17" fill="#bb1142"/>
<rect x="2177.50" y="553.29" width="18.20" height="18.17" fill="#bb0d3e"/>
<rect x="2195.40" y="553.29" width="18.20" height="18.17" fill="#bb0a3b"/>
<rect x="2213.30" y="553.29" width="18.20" height="18.17" fill="#bb093a"/>
<rect x="2231.20" y="553.29" width="18.20" height="18.17" fill="#bb0a3b"/>
<rect x="2249.10" y="553.29" width="17.90" height="18.17" fill="#bb0b3b"/>
<rect x="1730.00" y="571.16" width="18.20" height="18.17" fill="#620e97"/>
<rect x="1747.90" y="571.16" width="18.20" height="18.17" fill="#641097"/>
<rect x="1765.80" y="571.16" width="18.20" height="18.17" fill="#691497"/>
<rect x="1783.70" y="571.16" width="36.10" height="18.17" fill="#6b1697"/>
<rect x="1819.50" y="571.16" width="18.20" height="18.17" fill="#6c1797"/>
<rect x="1837.40" y="571.16" width="18.20" height="18.17" fill="#6d1897"/>
<rect x="1855.30" y="571.16" width="18.20" height="18.17" fill="#6d1997"/>
<rect x="1873.20" y="571.16" width="18.20" height="18.17" fill="#6d1897"/>
<rect x="1891.10" y="571.16" width="18.20" height="18.17" fill="#6d1997"/>
<rect x="1909.00" y="571.16" width="18.20" height="18.17" fill="#701b97"/>
<rect x="1926.90" y="571.16" width="18.20" height="18.17" fill="#711c97"/>
<rect x="1944.80" y="571.16" width="18.20" height="18.17" fill="#6f1b97"/>
<rect x="1962.70" y="571.16" width="18.20" height="18.17" fill="#6f1a97"/>
<rect x="1980.60" y="571.16" width="18.20" height="18.17" fill="#9c4897"/>
<rect x="1998.50" y="571.16" width="18.20" height="18.17" fill="#bb6394"/>
<rect x="2016.40" y="571.16" width="18.20" height="18.17" fill="#bb4576"/>
<rect x="2034.30" y="571.16" width="18.20" height="18.17" fill="#bb2e5e"/>
<rect x="2052.20" y="571.16" width="18.20" height="18.17" fill="#bb1e4f"/>
<rect x="2070.10" y="571.16" width="18.20" height="18.17" fill="#bb1d4d"/>
<rect x="2088.00" y="571.16" width="18.20" height="18.17" fill="#bb1c4c"/>
<rect x="2105.90" y="571.16" width="18.20" height="18.17" fill="#bb1b4b"/>
<rect x="2123.80" y="571.16" width="18.20" height="18.17" fill="#bb1a4b"/>
<rect x="2141.70" y="571.16" width="18.20" height="18.17" fill="#bb1848"/>
<rect x="2159.60" y="571.16" width="18.20" height="18.17" fill="#bb1344"/>
<rect x="2177.50" y="571.16" width="18.20" height="18.17" fill="#bb0f40"/>
<rect x="2195.40" y="571.16" width="18.20" height="18.17" fill="#bb0b3c"/>
<rect x="2213.30" y="571.16" width="18.20" height="18.17" fill="#bb0a3a"/>
<rect x="2231.20" y="571.16" width="18.20" height="18.17" fill="#bb0a3b"/>
<rect x="2249.10" y="571.16" width="17.90" height="18.17" fill="#bb0b3b"/>
<rect x="1730.00" y="589.03" width="18.20" height="18.17" fill="#641097"/>
<rect x="1747.90" y="589.03" width="18.20" height="18.17" fill="#671297"/>
<rect x="1765.80" y="589.03" width="18.20" height="18.17" fill="#6b1697"/>
<rect x="1783.70" y="589.03" width="18.20" height="18.17" fill="#6d1897"/>
<rect x="1801.60" y="589.03" width="18.20" height="18.17" fill="#6e1997"/>
<rect x="1819.50" y="589.03" width="18.20" height="18.17" fill="#6f1a97"/>
<rect x="1837.40" y="589.03" width="18.20" height="18.17" fill="#711c97"/>
<rect x="1855.30" y="589.03" width="18.20" height="18.17" fill="#721d97"/>
<rect x="1873.20" y="589.03" width="18.20" height="18.17" fill="#711d97"/>
<rect x="1891.10" y="589.03" width="18.20" height="18.17" fill="#721d97"/>
<rect x="1909.00" y="589.03" width="18.20" height="18.17" fill="#741f97"/>
<rect x="1926.90" y="589.03" width="18.20" height="18.17" fill="#731f97"/>
<rect x="1944.80" y="589.03" width="18.20" height="18.17" fill="#721d97"/>
<rect x="1962.70" y="589.03" width="18.20" height="18.17" fill="#711d97"/>
<rect x="1980.60" y="589.03" width="18.20" height="18.17" fill="#943f97"/>
<rect x="1998.50" y="589.03" width="18.20" height="18.17" fill="#b96597"/>
<rect x="2016.40" y="589.03" width="18.20" height="18.17" fill="#bb4a7a"/>
<rect x="2034.30" y="589.03" width="18.20" height="18.17" fill="#bb3162"/>
<rect x="2052.20" y="589.03" width="18.20" height="18.17" fill="#bb2051"/>
<rect x="2070.10" y="589.03" width="18.20" height="18.17" fill="#bb1d4d"/>
<rect x="2088.00" y="589.03" width="18.20" height="18.17" fill="#bb1c4c"/>
<rect x="2105.90" y="589.03" width="18.20" height="18.17" fill="#bb1b4c"/>
<rect x="2123.80" y="589.03" width="18.20" height="18.17" fill="#bb1c4c"/>
<rect x="2141.70" y="589.03" width="18.20" height="18.17" fill="#bb1a4b"/>
<rect x="2159.60" y="589.03" width="18.20" height="18.17" fill="#bb1747"/>
<rect x="2177.50" y="589.03" width="18.20" height="18.17" fill="#bb1243"/>
<rect x="2195.40" y="589.03" width="18.20" height="18.17" fill="#bb0d3e"/>
<rect x="2213.30" y="589.03" width="18.20" height="18.17" fill="#bb0a3b"/>
<rect x="2231.20" y="589.03" width="35.80" height="18.17" fill="#bb0b3b"/>
<rect x="1730.00" y="606.90" width="18.20" height="18.17" fill="#661197"/>
<rect x="1747.90" y="606.90" width="18.20" height="18.17" fill="#671397"/>
<rect x="1765.80" y="606.90" width="18.20" height="18.17" fill="#6b1697"/>
<rect x="1783.70" y="606.90" width="18.20" height="18.17" fill="#6d1997"/>
<rect x="1801.60" y="606.90" width="18.20" height="18.17" fill="#6f1a97"/>
<rect x="1819.50" y="606.90" width="18.20" height="18.17" fill="#701c97"/>
<rect x="1837.40" y="606.90" width="18.20" height="18.17" fill="#721e97"/>
<rect x="1855.30" y="606.90" width="18.20" height="18.17" fill="#741f97"/>
<rect x="1873.20" y="606.90" width="18.20" height="18.17" fill="#742097"/>
<rect x="1891.10" y="606.90" width="18.20" height="18.17" fill="#752097"/>
<rect x="1909.00" y="606.90" width="18.20" height="18.17" fill="#742097"/>
<rect x="1926.90" y="606.90" width="18.20" height="18.17" fill="#731f97"/>
<rect x="1944.80" y="606.90" width="18.20" height="18.17" fill="#721d97"/>
<rect x="1962.70" y="606.90" width="18.20" height="18.17" fill="#711c97"/>
<rect x="1980.60" y="606.90" width="18.20" height="18.17" fill="#822e97"/>
<rect x="1998.50" y="606.90" width="18.20" height="18.17" fill="#b25d97"/>
<rect x="2016.40" y="606.90" width="18.20" height="18.17" fill="#bb5181"/>
<rect x="2034.30" y="606.90" width="18.20" height="18.17" fill="#bb3667"/>
<rect x="2052.20" y="606.90" width="18.20" height="18.17" fill="#bb2454"/>
<rect x="2070.10" y="606.90" width="18.20" height="18.17" fill="#bb1d4e"/>
<rect x="2088.00" y="606.90" width="18.20" height="18.17" fill="#bb1d4d"/>
<rect x="2105.90" y="606.90" width="18.20" height="18.17" fill="#bb1f50"/>
<rect x="2123.80" y="606.90" width="36.10" height="18.17" fill="#bb2657"/>
<rect x="2159.60" y="606.90" width="18.20" height="18.17" fill="#bb2151"/>
<rect x="2177.50" y="606.90" width="18.20" height="18.17" fill="#bb194a"/>
<rect x="2195.40" y="606.90" width="18.20" height="18.17" fill="#bb1041"/>
<rect x="2213.30" y="606.90" width="18.20" height="18.17" fill="#bb0c3c"/>
<rect x="2231.20" y="606.90" width="18.20" height="18.17" fill="#bb0b3c"/>
<rect x="2249.10" y="606.90" width="17.90" height="18.17" fill="#bb0b3b"/>
<rect x="1730.00" y="624.76" width="18.20" height="18.17" fill="#661197"/>
<rect x="1747.90" y="624.76" width="18.20" height="18.17" fill="#671297"/>
<rect x="1765.80" y="624.76" width="18.20" height="18.17" fill="#691597"/>
<rect x="1783.70" y="624.76" width="18.20" height="18.17" fill="#6c1797"/>
<rect x="1801.60" y="624.76" width="18.20" height="18.17" fill="#6d1997"/>
<rect x="1819.50" y="624.76" width="18.20" height="18.17" fill="#6f1b97"/>
<rect x="1837.40" y="624.76" width="18.20" height="18.17" fill="#711d97"/>
<rect x="1855.30" y="624.76" width="18.20" height="18.17" fill="#731f97"/>
<rect x="1873.20" y="624.76" width="18.20" height="18.17" fill="#762197"/>
<rect x="1891.10" y="624.76" width="18.20" height="18.17" fill="#752197"/>
<rect x="1909.00" y="624.76" width="18.20" height="18.17" fill="#731e97"/>
<rect x="1926.90" y="624.76" width="18.20" height="18.17" fill="#711c97"/>
<rect x="1944.80" y="624.76" width="18.20" height="18.17" fill="#6f1b97"/>
<rect x="1962.70" y="624.76" width="18.20" height="18.17" fill="#6d1997"/>
<rect x="1980.60" y="624.76" width="18.20" height="18.17" fill="#6e1997"/>
<rect x="1998.50" y="624.76" width="18.20" height="18.17" fill="#9e4a97"/>
<rect x="2016.40" y="624.76" width="18.20" height="18.17" fill="#bb5b8b"/>
<rect x="2034.30" y="624.76" width="18.20" height="18.17" fill="#bb3e6f"/>
<rect x="2052.20" y="624.76" width="18.20" height="18.17" fill="#bb295a"/>
<rect x="2070.10" y="624.76" width="18.20" height="18.17" fill="#bb1f4f"/>
<rect x="2088.00" y="624.76" width="18.20" height="18.17" fill="#bb1e4f"/>
<rect x="2105.90" y="624.76" width="18.20" height="18.17" fill="#bb2758"/>
<rect x="2123.80" y="624.76" width="18.20" height="18.17" fill="#bb396a"/>
<rect x="2141.70" y="624.76" width="18.20" height="18.17" fill="#bb3c6d"/>
<rect x="2159.60" y="624.76" width="18.20" height="18.17" fill="#bb3161"/>
<rect x="2177.50" y="624.76" width="18.20" height="18.17" fill="#bb2454"/>
<rect x="2195.40" y="624.76" width="18.20" height="18.17" fill="#bb1546"/>
<rect x="2213.30" y="624.76" width="18.20" height="18.17" fill="#bb0d3e"/>
<rect x="2231.20" y="624.76" width="18.20" height="18.17" fill="#bb0c3c"/>
<rect x="2249.10" y="624.76" width="17.90" height="18.17" fill="#bb0b3b"/>
<rect x="1730.00" y="642.63" width="18.20" height="18.17" fill="#661197"/>
<rect x="1747.90" y="642.63" width="18.20" height="18.17" fill="#671297"/>
<rect x="1765.80" y="642.63" width="18.20" height="18.17" fill="#691497"/>
<rect x="1783.70" y="642.63" width="18.20" height="18.17" fill="#6a1697"/>
<rect x="1801.60" y="642.63" width="18.20" height="18.17" fill="#6c1797"/>
<rect x="1819.50" y="642.63" width="18.20" height="18.17" fill="#6e1997"/>
<rect x="1837.40" y="642.63" width="18.20" height="18.17" fill="#711c97"/>
<rect x="1855.30" y="642.63" width="18.20" height="18.17" fill="#742097"/>
<rect x="1873.20" y="642.63" width="18.20" height="18.17" fill="#782497"/>
<rect x="1891.10" y="642.63" width="18.20" height="18.17" fill="#792497"/>
<rect x="1909.00" y="642.63" width="18.20" height="18.17" fill="#752097"/>
<rect x="1926.90" y="642.63" width="18.20" height="18.17" fill="#731e97"/>
<rect x="1944.80" y="642.63" width="18.20" height="18.17" fill="#711c97"/>
<rect x="1962.70" y="642.63" width="18.20" height="18.17" fill="#6e1997"/>
<rect x="1980.60" y="642.63" width="18.20" height="18.17" fill="#691497"/>
<rect x="1998.50" y="642.63" width="18.20" height="18.17" fill="#974397"/>
<rect x="2016.40" y="642.63" width="18.20" height="18.17" fill="#bb6090"/>
<rect x="2034.30" y="642.63" width="18.20" height="18.17" fill="#bb4373"/>
<rect x="2052.20" y="642.63" width="18.20" height="18.17" fill="#bb2c5d"/>
<rect x="2070.10" y="642.63" width="18.20" height="18.17" fill="#bb2051"/>
<rect x="2088.00" y="642.63" width="18.20" height="18.17" fill="#bb2151"/>
<rect x="2105.90" y="642.63" width="18.20" height="18.17" fill="#bb2e5e"/>
<rect x="2123.80" y="642.63" width="18.20" height="18.17" fill="#bb4777"/>
<rect x="2141.70" y="642.63" width="18.20" height="18.17" fill="#bb4b7c"/>
<rect x="2159.60" y="642.63" width="18.20" height="18.17" fill="#bb3c6c"/>
<rect x="2177.50" y="642.63" width="18.20" height="18.17" fill="#bb2b5b"/>
<rect x="2195.40" y="642.63" width="18.20" height="18.17" fill="#bb1849"/>
<rect x="2213.30" y="642.63" width="18.20" height="18.17" fill="#bb0e3f"/>
<rect x="2231.20" y="642.63" width="18.20" height="18.17" fill="#bb0c3d"/>
<rect x="2249.10" y="642.63" width="17.90" height="18.17" fill="#bb0b3b"/>
<rect x="1730.00" y="660.50" width="18.20" height="18.17" fill="#661197"/>
<rect x="1747.90" y="660.50" width="18.20" height="18.17" fill="#671297"/>
<rect x="1765.80" y="660.50" width="18.20" height="18.17" fill="#691497"/>
<rect x="1783.70" y="660.50" width="18.20" height="18.17" fill="#6a1597"/>
<rect x="1801.60" y="660.50" width="18.20" height="18.17" fill="#6a1697"/>
<rect x="1819.50" y="660.50" width="18.20" height="18.17" fill="#6d1897"/>
<rect x="1837.40" y="660.50" width="18.20" height="18.17" fill="#711d97"/>
<rect x="1855.30" y="660.50" width="18.20" height="18.17" fill="#762297"/>
<rect x="1873.20" y="660.50" width="18.20" height="18.17" fill="#7c2897"/>
<rect x="1891.10" y="660.50" width="18.20" height="18.17" fill="#7e2a97"/>
<rect x="1909.00" y="660.50" width="18.20" height="18.17" fill="#7c2797"/>
<rect x="1926.90" y="660.50" width="18.20" height="18.17" fill="#792597"/>
<rect x="1944.80" y="660.50" width="18.20" height="18.17" fill="#772297"/>
<rect x="1962.70" y="660.50" width="18.20" height="18.17" fill="#711d97"/>
<rect x="1980.60" y="660.50" width="18.20" height="18.17" fill="#6a1597"/>
<rect x="1998.50" y="660.50" width="18.20" height="18.17" fill="#974397"/>
<rect x="2016.40" y="660.50" width="18.20" height="18.17" fill="#bb6090"/>
<rect x="2034.30" y="660.50" width="18.20" height="18.17" fill="#bb4373"/>
<rect x="2052.20" y="660.50" width="18.20" height="18.17" fill="#bb2c5d"/>
<rect x="2070.10" y="660.50" width="18.20" height="18.17" fill="#bb2252"/>
<rect x="2088.00" y="660.50" width="18.20" height="18.17" fill="#bb2455"/>
<rect x="2105.90" y="660.50" width="18.20" height="18.17" fill="#bb3364"/>
<rect x="2123.80" y="660.50" width="18.20" height="18.17" fill="#bb4f80"/>
<rect x="2141.70" y="660.50" width="18.20" height="18.17" fill="#bb5485"/>
<rect x="2159.60" y="660.50" width="18.20" height="18.17" fill="#bb4172"/>
<rect x="2177.50" y="660.50" width="18.20" height="18.17" fill="#bb2e5e"/>
<rect x="2195.40" y="660.50" width="18.20" height="18.17" fill="#bb1a4b"/>
<rect x="2213.30" y="660.50" width="18.20" height="18.17" fill="#bb0f40"/>
<rect x="2231.20" y="660.50" width="18.20" height="18.17" fill="#bb0c3d"/>
<rect x="2249.10" y="660.50" width="17.90" height="18.17" fill="#bb0b3b"/>
<rect x="1730.00" y="678.37" width="18.20" height="18.17" fill="#671297"/>
<rect x="1747.90" y="678.37" width="18.20" height="18.17" fill="#671397"/>
<rect x="1765.80" y="678.37" width="18.20" height="18.17" fill="#691497"/>
<rect x="1783.70" y="678.37" width="36.10" height="18.17" fill="#6a1597"/>
<rect x="1819.50" y="678.37" width="18.20" height="18.17" fill="#6c1897"/>
<rect x="1837.40" y="678.37" width="18.20" height="18.17" fill="#711d97"/>
<rect x="1855.30" y="678.37" width="18.20" height="18.17" fill="#772397"/>
<rect x="1873.20" y="678.37" width="18.20" height="18.17" fill="#7f2a97"/>
<rect x="1891.10" y="678.37" width="18.20" height="18.17" fill="#812c97"/>
<rect x="1909.00" y="678.37" width="18.20" height="18.17" fill="#7e2997"/>
<rect x="1926.90" y="678.37" width="18.20" height="18.17" fill="#7b2697"/>
<rect x="1944.80" y="678.37" width="18.20" height="18.17" fill="#782497"/>
<rect x="1962.70" y="678.37" width="18.20" height="18.17" fill="#731e97"/>
<rect x="1980.60" y="678.37" width="18.20" height="18.17" fill="#6b1797"/>
<rect x="1998.50" y="678.37" width="18.20" height="18.17" fill="#944097"/>
<rect x="2016.40" y="678.37" width="18.20" height="18.17" fill="#bb6394"/>
<rect x="2034.30" y="678.37" width="18.20" height="18.17" fill="#bb4576"/>
<rect x="2052.20" y="678.37" width="18.20" height="18.17" fill="#bb2e5e"/>
<rect x="2070.10" y="678.37" width="18.20" height="18.17" fill="#bb2353"/>
<rect x="2088.00" y="678.37" width="18.20" height="18.17" fill="#bb2656"/>
<rect x="2105.90" y="678.37" width="18.20" height="18.17" fill="#bb3667"/>
<rect x="2123.80" y="678.37" width="18.20" height="18.17" fill="#bb5484"/>
<rect x="2141.70" y="678.37" width="18.20" height="18.17" fill="#bb5889"/>
<rect x="2159.60" y="678.37" width="18.20" height="18.17" fill="#bb4474"/>
<rect x="2177.50" y="678.37" width="18.20" height="18.17" fill="#bb2f60"/>
<rect x="2195.40" y="678.37" width="18.20" height="18.17" fill="#bb1c4c"/>
<rect x="2213.30" y="678.37" width="18.20" height="18.17" fill="#bb1041"/>
<rect x="2231.20" y="678.37" width="18.20" height="18.17" fill="#bb0d3e"/>
<rect x="2249.10" y="678.37" width="17.90" height="18.17" fill="#bb0c3c"/>
<rect x="1730.00" y="696.24" width="36.10" height="18.17" fill="#691497"/>
<rect x="1765.80" y="696.24" width="18.20" height="18.17" fill="#691597"/>
<rect x="1783.70" y="696.24" width="36.10" height="18.17" fill="#6a1597"/>
<rect x="1819.50" y="696.24" width="18.20" height="18.17" fill="#6c1897"/>
<rect x="1837.40" y="696.24" width="18.20" height="18.17" fill="#711d97"/>
<rect x="1855.30" y="696.24" width="18.20" height="18.17" fill="#772397"/>
<rect x="1873.20" y="696.24" width="18.20" height="18.17" fill="#7f2a97"/>
<rect x="1891.10" y="696.24" width="18.20" height="18.17" fill="#802b97"/>
<rect x="1909.00" y="696.24" width="18.20" height="18.17" fill="#7c2797"/>
<rect x="1926.90" y="696.24" width="18.20" height="18.17" fill="#782497"/>
<rect x="1944.80" y="696.24" width="18.20" height="18.17" fill="#762197"/>
<rect x="1962.70" y="696.24" width="18.20" height="18.17" fill="#731e97"/>
<rect x="1980.60" y="696.24" width="18.20" height="18.17" fill="#6e1997"/>
<rect x="1998.50" y="696.24" width="18.20" height="18.17" fill="#8a3697"/>
<rect x="2016.40" y="696.24" width="18.20" height="18.17" fill="#b86397"/>
<rect x="2034.30" y="696.24" width="18.20" height="18.17" fill="#bb4b7c"/>
<rect x="2052.20" y="696.24" width="18.20" height="18.17" fill="#bb3263"/>
<rect x="2070.10" y="696.24" width="18.20" height="18.17" fill="#bb2353"/>
<rect x="2088.00" y="696.24" width="18.20" height="18.17" fill="#bb2656"/>
<rect x="2105.90" y="696.24" width="18.20" height="18.17" fill="#bb3667"/>
<rect x="2123.80" y="696.24" width="18.20" height="18.17" fill="#bb5484"/>
<rect x="2141.70" y="696.24" width="18.20" height="18.17" fill="#bb5889"/>
<rect x="2159.60" y="696.24" width="18.20" height="18.17" fill="#bb4373"/>
<rect x="2177.50" y="696.24" width="18.20" height="18.17" fill="#bb2f60"/>
<rect x="2195.40" y="696.24" width="18.20" height="18.17" fill="#bb1d4e"/>
<rect x="2213.30" y="696.24" width="18.20" height="18.17" fill="#bb1243"/>
<rect x="2231.20" y="696.24" width="18.20" height="18.17" fill="#bb0f40"/>
<rect x="2249.10" y="696.24" width="17.90" height="18.17" fill="#bb0e3e"/>
<rect x="1730.00" y="714.10" width="18.20" height="18.17" fill="#6c1797"/>
<rect x="1747.90" y="714.10" width="18.20" height="18.17" fill="#6b1797"/>
<rect x="1765.80" y="714.10" width="18.20" height="18.17" fill="#6a1697"/>
<rect x="1783.70" y="714.10" width="36.10" height="18.17" fill="#6a1597"/>
<rect x="1819.50" y="714.10" width="18.20" height="18.17" fill="#6c1797"/>
<rect x="1837.40" y="714.10" width="18.20" height="18.17" fill="#6f1b97"/>
<rect x="1855.30" y="714.10" width="18.20" height="18.17" fill="#741f97"/>
<rect x="1873.20" y="714.10" width="18.20" height="18.17" fill="#782497"/>
<rect x="1891.10" y="714.10" width="18.20" height="18.17" fill="#792497"/>
<rect x="1909.00" y="714.10" width="18.20" height="18.17" fill="#762197"/>
<rect x="1926.90" y="714.10" width="18.20" height="18.17" fill="#741f97"/>
<rect x="1944.80" y="714.10" width="18.20" height="18.17" fill="#731f97"/>
<rect x="1962.70" y="714.10" width="18.20" height="18.17" fill="#721d97"/>
<rect x="1980.60" y="714.10" width="18.20" height="18.17" fill="#6f1a97"/>
<rect x="1998.50" y="714.10" width="18.20" height="18.17" fill="#802b97"/>
<rect x="2016.40" y="714.10" width="18.20" height="18.17" fill="#b25d97"/>
<rect x="2034.30" y="714.10" width="18.20" height="18.17" fill="#bb5181"/>
<rect x="2052.20" y="714.10" width="18.20" height="18.17" fill="#bb3667"/>
<rect x="2070.10" y="714.10" width="18.20" height="18.17" fill="#bb2454"/>
<rect x="2088.00" y="714.10" width="18.20" height="18.17" fill="#bb2556"/>
<rect x="2105.90" y="714.10" width="18.20" height="18.17" fill="#bb3364"/>
<rect x="2123.80" y="714.10" width="18.20" height="18.17" fill="#bb4d7d"/>
<rect x="2141.70" y="714.10" width="18.20" height="18.17" fill="#bb5081"/>
<rect x="2159.60" y="714.10" width="18.20" height="18.17" fill="#bb3e6f"/>
<rect x="2177.50" y="714.10" width="18.20" height="18.17" fill="#bb2d5e"/>
<rect x="2195.40" y="714.10" width="18.20" height="18.17" fill="#bb1d4e"/>
<rect x="2213.30" y="714.10" width="18.20" height="18.17" fill="#bb1344"/>
<rect x="2231.20" y="714.10" width="18.20" height="18.17" fill="#bb1041"/>
<rect x="2249.10" y="714.10" width="17.90" height="18.17" fill="#bb0f3f"/>
<rect x="1730.00" y="731.97" width="18.20" height="18.17" fill="#701b97"/>
<rect x="1747.90" y="731.97" width="18.20" height="18.17" fill="#6e1a97"/>
<rect x="1765.80" y="731.97" width="18.20" height="18.17" fill="#6b1797"/>
<rect x="1783.70" y="731.97" width="36.10" height="18.17" fill="#6a1597"/>
<rect x="1819.50" y="731.97" width="18.20" height="18.17" fill="#6a1697"/>
<rect x="1837.40" y="731.97" width="36.10" height="18.17" fill="#6c1797"/>
<rect x="1873.20" y="731.97" width="18.20" height="18.17" fill="#6b1797"/>
<rect x="1891.10" y="731.97" width="18.20" height="18.17" fill="#6c1797"/>
<rect x="1909.00" y="731.97" width="18.20" height="18.17" fill="#6d1897"/>
<rect x="1926.90" y="731.97" width="18.20" height="18.17" fill="#6e1997"/>
<rect x="1944.80" y="731.97" width="36.10" height="18.17" fill="#701b97"/>
<rect x="1980.60" y="731.97" width="18.20" height="18.17" fill="#6e1a97"/>
<rect x="1998.50" y="731.97" width="18.20" height="18.17" fill="#883397"/>
<rect x="2016.40" y="731.97" width="18.20" height="18.17" fill="#b66197"/>
<rect x="2034.30" y="731.97" width="18.20" height="18.17" fill="#bb4d7e"/>
<rect x="2052.20" y="731.97" width="18.20" height="18.17" fill="#bb3464"/>
<rect x="2070.10" y="731.97" width="18.20" height="18.17" fill="#bb2253"/>
<rect x="2088.00" y="731.97" width="18.20" height="18.17" fill="#bb2454"/>
<rect x="2105.90" y="731.97" width="18.20" height="18.17" fill="#bb2d5e"/>
<rect x="2123.80" y="731.97" width="18.20" height="18.17" fill="#bb3e6f"/>
<rect x="2141.70" y="731.97" width="18.20" height="18.17" fill="#bb4172"/>
<rect x="2159.60" y="731.97" width="18.20" height="18.17" fill="#bb3666"/>
<rect x="2177.50" y="731.97" width="18.20" height="18.17" fill="#bb295a"/>
<rect x="2195.40" y="731.97" width="18.20" height="18.17" fill="#bb1c4c"/>
<rect x="2213.30" y="731.97" width="18.20" height="18.17" fill="#bb1344"/>
<rect x="2231.20" y="731.97" width="18.20" height="18.17" fill="#bb1041"/>
<rect x="2249.10" y="731.97" width="17.90" height="18.17" fill="#bb0f3f"/>
<rect x="1730.00" y="749.84" width="18.20" height="18.17" fill="#721d97"/>
<rect x="1747.90" y="749.84" width="18.20" height="18.17" fill="#701b97"/>
<rect x="1765.80" y="749.84" width="18.20" height="18.17" fill="#6c1897"/>
<rect x="1783.70" y="749.84" width="71.90" height="18.17" fill="#6b1697"/>
<rect x="1855.30" y="749.84" width="18.20" height="18.17" fill="#691597"/>
<rect x="1873.20" y="749.84" width="18.20" height="18.17" fill="#671397"/>
<rect x="1891.10" y="749.84" width="18.20" height="18.17" fill="#681397"/>
<rect x="1909.00" y="749.84" width="18.20" height="18.17" fill="#6b1697"/>
<rect x="1926.90" y="749.84" width="18.20" height="18.17" fill="#6d1997"/>
<rect x="1944.80" y="749.84" width="36.10" height="18.17" fill="#701b97"/>
<rect x="1980.60" y="749.84" width="18.20" height="18.17" fill="#6e1a97"/>
<rect x="1998.50" y="749.84" width="18.20" height="18.17" fill="#8c3897"/>
<rect x="2016.40" y="749.84" width="18.20" height="18.17" fill="#b86397"/>
<rect x="2034.30" y="749.84" width="18.20" height="18.17" fill="#bb4b7c"/>
<rect x="2052.20" y="749.84" width="18.20" height="18.17" fill="#bb3263"/>
<rect x="2070.10" y="749.84" width="36.10" height="18.17" fill="#bb2152"/>
<rect x="2105.90" y="749.84" width="18.20" height="18.17" fill="#bb2757"/>
<rect x="2123.80" y="749.84" width="18.20" height="18.17" fill="#bb3162"/>
<rect x="2141.70" y="749.84" width="18.20" height="18.17" fill="#bb3364"/>
<rect x="2159.60" y="749.84" width="18.20" height="18.17" fill="#bb2c5d"/>
<rect x="2177.50" y="749.84" width="18.20" height="18.17" fill="#bb2354"/>
<rect x="2195.40" y="749.84" width="18.20" height="18.17" fill="#bb194a"/>
<rect x="2213.30" y="749.84" width="18.20" height="18.17" fill="#bb1343"/>
<rect x="2231.20" y="749.84" width="18.20" height="18.17" fill="#bb1040"/>
<rect x="2249.10" y="749.84" width="17.90" height="18.17" fill="#bb0e3f"/>
<rect x="1730.00" y="767.71" width="18.20" height="18.17" fill="#721d97"/>
<rect x="1747.90" y="767.71" width="18.20" height="18.17" fill="#701c97"/>
<rect x="1765.80" y="767.71" width="18.20" height="18.17" fill="#6e1997"/>
<rect x="1783.70" y="767.71" width="71.90" height="18.17" fill="#6d1897"/>
<rect x="1855.30" y="767.71" width="18.20" height="18.17" fill="#6c1897"/>
<rect x="1873.20" y="767.71" width="18.20" height="18.17" fill="#6c1797"/>
<rect x="1891.10" y="767.71" width="18.20" height="18.17" fill="#6d1897"/>
<rect x="1909.00" y="767.71" width="18.20" height="18.17" fill="#701b97"/>
<rect x="1926.90" y="767.71" width="18.20" height="18.17" fill="#721d97"/>
<rect x="1944.80" y="767.71" width="18.20" height="18.17" fill="#721e97"/>
<rect x="1962.70" y="767.71" width="18.20" height="18.17" fill="#721d97"/>
<rect x="1980.60" y="767.71" width="18.20" height="18.17" fill="#6f1a97"/>
<rect x="1998.50" y="767.71" width="18.20" height="18.17" fill="#8c3897"/>
<rect x="2016.40" y="767.71" width="18.20" height="18.17" fill="#b86397"/>
<rect x="2034.30" y="767.71" width="18.20" height="18.17" fill="#bb4b7c"/>
<rect x="2052.20" y="767.71" width="18.20" height="18.17" fill="#bb3263"/>
<rect x="2070.10" y="767.71" width="18.20" height="18.17" fill="#bb2152"/>
<rect x="2088.00" y="767.71" width="18.20" height="18.17" fill="#bb1e4e"/>
<rect x="2105.90" y="767.71" width="18.20" height="18.17" fill="#bb2051"/>
<rect x="2123.80" y="767.71" width="36.10" height="18.17" fill="#bb2656"/>
<rect x="2159.60" y="767.71" width="18.20" height="18.17" fill="#bb2151"/>
<rect x="2177.50" y="767.71" width="18.20" height="18.17" fill="#bb1b4c"/>
<rect x="2195.40" y="767.71" width="18.20" height="18.17" fill="#bb1546"/>
<rect x="2213.30" y="767.71" width="18.20" height="18.17" fill="#bb1141"/>
<rect x="2231.20" y="767.71" width="18.20" height="18.17" fill="#bb0e3f"/>
<rect x="2249.10" y="767.71" width="17.90" height="18.17" fill="#bb0d3e"/>
<rect x="1730.00" y="785.57" width="18.20" height="18.17" fill="#711c97"/>
<rect x="1747.90" y="785.57" width="18.20" height="18.17" fill="#701b97"/>
<rect x="1765.80" y="785.57" width="18.20" height="18.17" fill="#6e1997"/>
<rect x="1783.70" y="785.57" width="18.20" height="18.17" fill="#6d1897"/>
<rect x="1801.60" y="785.57" width="18.20" height="18.17" fill="#6d1997"/>
<rect x="1819.50" y="785.57" width="71.90" height="18.17" fill="#6e1997"/>
<rect x="1891.10" y="785.57" width="18.20" height="18.17" fill="#6f1b97"/>
<rect x="1909.00" y="785.57" width="18.20" height="18.17" fill="#721d97"/>
<rect x="1926.90" y="785.57" width="18.20" height="18.17" fill="#731e97"/>
<rect x="1944.80" y="785.57" width="18.20" height="18.17" fill="#721e97"/>
<rect x="1962.70" y="785.57" width="18.20" height="18.17" fill="#711c97"/>
<rect x="1980.60" y="785.57" width="18.20" height="18.17" fill="#6e1a97"/>
<rect x="1998.50" y="785.57" width="18.20" height="18.17" fill="#8f3a97"/>
<rect x="2016.40" y="785.57" width="18.20" height="18.17" fill="#b96597"/>
<rect x="2034.30" y="785.57" width="18.20" height="18.17" fill="#bb4a7a"/>
<rect x="2052.20" y="785.57" width="18.20" height="18.17" fill="#bb3162"/>
<rect x="2070.10" y="785.57" width="18.20" height="18.17" fill="#bb2051"/>
<rect x="2088.00" y="785.57" width="18.20" height="18.17" fill="#bb1b4b"/>
<rect x="2105.90" y="785.57" width="18.20" height="18.17" fill="#bb1a4b"/>
<rect x="2123.80" y="785.57" width="18.20" height="18.17" fill="#bb1c4c"/>
<rect x="2141.70" y="785.57" width="18.20" height="18.17" fill="#bb1b4b"/>
<rect x="2159.60" y="785.57" width="18.20" height="18.17" fill="#bb1748"/>
<rect x="2177.50" y="785.57" width="18.20" height="18.17" fill="#bb1444"/>
<rect x="2195.40" y="785.57" width="18.20" height="18.17" fill="#bb1141"/>
<rect x="2213.30" y="785.57" width="18.20" height="18.17" fill="#bb0e3f"/>
<rect x="2231.20" y="785.57" width="18.20" height="18.17" fill="#bb0d3d"/>
<rect x="2249.10" y="785.57" width="17.90" height="18.17" fill="#bb0c3c"/>
<rect x="1730.00" y="803.44" width="18.20" height="18.17" fill="#6f1a97"/>
<rect x="1747.90" y="803.44" width="18.20" height="18.17" fill="#6e1997"/>
<rect x="1765.80" y="803.44" width="18.20" height="18.17" fill="#6c1797"/>
<rect x="1783.70" y="803.44" width="18.20" height="18.17" fill="#6b1797"/>
<rect x="1801.60" y="803.44" width="18.20" height="18.17" fill="#6d1897"/>
<rect x="1819.50" y="803.44" width="54.00" height="18.17" fill="#6e1997"/>
<rect x="1873.20" y="803.44" width="18.20" height="18.17" fill="#6f1a97"/>
<rect x="1891.10" y="803.44" width="18.20" height="18.17" fill="#701b97"/>
<rect x="1909.00" y="803.44" width="36.10" height="18.17" fill="#701c97"/>
<rect x="1944.80" y="803.44" width="18.20" height="18.17" fill="#701b97"/>
<rect x="1962.70" y="803.44" width="18.20" height="18.17" fill="#6e1a97"/>
<rect x="1980.60" y="803.44" width="18.20" height="18.17" fill="#6d1897"/>
<rect x="1998.50" y="803.44" width="18.20" height="18.17" fill="#964197"/>
<rect x="2016.40" y="803.44" width="18.20" height="18.17" fill="#bb6595"/>
<rect x="2034.30" y="803.44" width="18.20" height="18.17" fill="#bb4777"/>
<rect x="2052.20" y="803.44" width="18.20" height="18.17" fill="#bb2f5f"/>
<rect x="2070.10" y="803.44" width="18.20" height="18.17" fill="#bb1f4f"/>
<rect x="2088.00" y="803.44" width="18.20" height="18.17" fill="#bb1849"/>
<rect x="2105.90" y="803.44" width="18.20" height="18.17" fill="#bb1646"/>
<rect x="2123.80" y="803.44" width="18.20" height="18.17" fill="#bb1445"/>
<rect x="2141.70" y="803.44" width="18.20" height="18.17" fill="#bb1243"/>
<rect x="2159.60" y="803.44" width="18.20" height="18.17" fill="#bb1040"/>
<rect x="2177.50" y="803.44" width="18.20" height="18.17" fill="#bb0d3e"/>
<rect x="2195.40" y="803.44" width="18.20" height="18.17" fill="#bb0c3c"/>
<rect x="2213.30" y="803.44" width="18.20" height="18.17" fill="#bb0b3b"/>
<rect x="2231.20" y="803.44" width="18.20" height="18.17" fill="#bb0a3b"/>
<rect x="2249.10" y="803.44" width="17.90" height="18.17" fill="#bb0a3a"/>
<rect x="1730.00" y="821.31" width="18.20" height="18.17" fill="#681397"/>
<rect x="1747.90" y="821.31" width="18.20" height="18.17" fill="#671397"/>
<rect x="1765.80" y="821.31" width="36.10" height="18.17" fill="#661197"/>
<rect x="1801.60" y="821.31" width="18.20" height="18.17" fill="#671397"/>
<rect x="1819.50" y="821.31" width="36.10" height="18.17" fill="#681497"/>
<rect x="1855.30" y="821.31" width="18.20" height="18.17" fill="#691597"/>
<rect x="1873.20" y="821.31" width="18.20" height="18.17" fill="#6b1797"/>
<rect x="1891.10" y="821.31" width="18.20" height="18.17" fill="#6c1897"/>
<rect x="1909.00" y="821.31" width="18.20" height="18.17" fill="#6d1897"/>
<rect x="1926.90" y="821.31" width="18.20" height="18.17" fill="#6c1897"/>
<rect x="1944.80" y="821.31" width="36.10" height="18.17" fill="#6c1797"/>
<rect x="1980.60" y="821.31" width="18.20" height="18.17" fill="#6d1997"/>
<rect x="1998.50" y="821.31" width="18.20" height="18.17" fill="#903b97"/>
<rect x="2016.40" y="821.31" width="18.20" height="18.17" fill="#b96597"/>
<rect x="2034.30" y="821.31" width="18.20" height="18.17" fill="#bb4a7a"/>
<rect x="2052.20" y="821.31" width="18.20" height="18.17" fill="#bb3162"/>
<rect x="2070.10" y="821.31" width="18.20" height="18.17" fill="#bb2152"/>
<rect x="2088.00" y="821.31" width="18.20" height="18.17" fill="#bb1c4c"/>
<rect x="2105.90" y="821.31" width="18.20" height="18.17" fill="#bb1747"/>
<rect x="2123.80" y="821.31" width="18.20" height="18.17" fill="#bb1243"/>
<rect x="2141.70" y="821.31" width="18.20" height="18.17" fill="#bb0f40"/>
<rect x="2159.60" y="821.31" width="18.20" height="18.17" fill="#bb0c3d"/>
<rect x="2177.50" y="821.31" width="18.20" height="18.17" fill="#bb0a3b"/>
<rect x="2195.40" y="821.31" width="18.20" height="18.17" fill="#bb0939"/>
<rect x="2213.30" y="821.31" width="18.20" height="18.17" fill="#bb0838"/>
<rect x="2231.20" y="821.31" width="35.80" height="18.17" fill="#bb0839"/>
<rect x="1730.00" y="839.18" width="36.10" height="18.17" fill="#5d0897"/>
<rect x="1765.80" y="839.18" width="36.10" height="18.17" fill="#5c0797"/>
<rect x="1801.60" y="839.18" width="18.20" height="18.17" fill="#5d0897"/>
<rect x="1819.50" y="839.18" width="18.20" height="18.17" fill="#5d0997"/>
<rect x="1837.40" y="839.18" width="18.20" height="18.17" fill="#5e0997"/>
<rect x="1855.30" y="839.18" width="18.20" height="18.17" fill="#600b97"/>
<rect x="1873.20" y="839.18" width="18.20" height="18.17" fill="#630f97"/>
<rect x="1891.10" y="839.18" width="18.20" height="18.17" fill="#651197"/>
<rect x="1909.00" y="839.18" width="54.00" height="18.17" fill="#661297"/>
<rect x="1962.70" y="839.18" width="18.20" height="18.17" fill="#691597"/>
<rect x="1980.60" y="839.18" width="18.20" height="18.17" fill="#701b97"/>
<rect x="1998.50" y="839.18" width="18.20" height="18.17" fill="#782397"/>
<rect x="2016.40" y="839.18" width="18.20" height="18.17" fill="#a75297"/>
<rect x="2034.30" y="839.18" width="18.20" height="18.17" fill="#bb5989"/>
<rect x="2052.20" y="839.18" width="18.20" height="18.17" fill="#bb3d6e"/>
<rect x="2070.10" y="839.18" width="18.20" height="18.17" fill="#bb2e5e"/>
<rect x="2088.00" y="839.18" width="18.20" height="18.17" fill="#bb2455"/>
<rect x="2105.90" y="839.18" width="18.20" height="18.17" fill="#bb1d4d"/>
<rect x="2123.80" y="839.18" width="18.20" height="18.17" fill="#bb1747"/>
<rect x="2141.70" y="839.18" width="18.20" height="18.17" fill="#bb1142"/>
<rect x="2159.60" y="839.18" width="18.20" height="18.17" fill="#bb0d3e"/>
<rect x="2177.50" y="839.18" width="18.20" height="18.17" fill="#bb0a3a"/>
<rect x="2195.40" y="839.18" width="18.20" height="18.17" fill="#bb0738"/>
<rect x="2213.30" y="839.18" width="36.10" height="18.17" fill="#bb0737"/>
<rect x="2249.10" y="839.18" width="17.90" height="18.17" fill="#bb0738"/>
<rect x="1730.00" y="857.04" width="36.10" height="18.17" fill="#580397"/>
<rect x="1765.80" y="857.04" width="54.00" height="18.17" fill="#580497"/>
<rect x="1819.50" y="857.04" width="18.20" height="18.17" fill="#590497"/>
<rect x="1837.40" y="857.04" width="18.20" height="18.17" fill="#590597"/>
<rect x="1855.30" y="857.04" width="18.20" height="18.17" fill="#5b0797"/>
<rect x="1873.20" y="857.04" width="18.20" height="18.17" fill="#5f0a97"/>
<rect x="1891.10" y="857.04" width="18.20" height="18.17" fill="#610c97"/>
<rect x="1909.00" y="857.04" width="18.20" height="18.17" fill="#620d97"/>
<rect x="1926.90" y="857.04" width="18.20" height="18.17" fill="#620e97"/>
<rect x="1944.80" y="857.04" width="18.20" height="18.17" fill="#630e97"/>
<rect x="1962.70" y="857.04" width="18.20" height="18.17" fill="#681397"/>
<rect x="1980.60" y="857.04" width="18.20" height="18.17" fill="#711d97"/>
<rect x="1998.50" y="857.04" width="18.20" height="18.17" fill="#762197"/>
<rect x="2016.40" y="857.04" width="18.20" height="18.17" fill="#a65197"/>
<rect x="2034.30" y="857.04" width="18.20" height="18.17" fill="#bb6192"/>
<rect x="2052.20" y="857.04" width="18.20" height="18.17" fill="#bb4474"/>
<rect x="2070.10" y="857.04" width="18.20" height="18.17" fill="#bb3465"/>
<rect x="2088.00" y="857.04" width="18.20" height="18.17" fill="#bb2959"/>
<rect x="2105.90" y="857.04" width="18.20" height="18.17" fill="#bb2050"/>
<rect x="2123.80" y="857.04" width="18.20" height="18.17" fill="#bb1949"/>
<rect x="2141.70" y="857.04" width="18.20" height="18.17" fill="#bb1243"/>
<rect x="2159.60" y="857.04" width="18.20" height="18.17" fill="#bb0d3e"/>
<rect x="2177.50" y="857.04" width="18.20" height="18.17" fill="#bb093a"/>
<rect x="2195.40" y="857.04" width="71.60" height="18.17" fill="#bb0737"/>
<rect x="1730.00" y="874.91" width="18.20" height="18.17" fill="#590497"/>
<rect x="1747.90" y="874.91" width="18.20" height="18.17" fill="#590597"/>
<rect x="1765.80" y="874.91" width="18.20" height="18.17" fill="#5a0597"/>
<rect x="1783.70" y="874.91" width="54.00" height="18.17" fill="#5a0697"/>
<rect x="1837.40" y="874.91" width="18.20" height="18.17" fill="#5b0697"/>
<rect x="1855.30" y="874.91" width="18.20" height="18.17" fill="#5c0797"/>
<rect x="1873.20" y="874.91" width="18.20" height="18.17" fill="#5d0997"/>
<rect x="1891.10" y="874.91" width="36.10" height="18.17" fill="#5f0a97"/>
<rect x="1926.90" y="874.91" width="18.20" height="18.17" fill="#600b97"/>
<rect x="1944.80" y="874.91" width="18.20" height="18.17" fill="#620e97"/>
<rect x="1962.70" y="874.91" width="18.20" height="18.17" fill="#681397"/>
<rect x="1980.60" y="874.91" width="18.20" height="18.17" fill="#711d97"/>
<rect x="1998.50" y="874.91" width="18.20" height="18.17" fill="#762197"/>
<rect x="2016.40" y="874.91" width="18.20" height="18.17" fill="#9b4797"/>
<rect x="2034.30" y="874.91" width="18.20" height="18.17" fill="#bb6797"/>
<rect x="2052.20" y="874.91" width="18.20" height="18.17" fill="#bb4879"/>
<rect x="2070.10" y="874.91" width="18.20" height="18.17" fill="#bb3465"/>
<rect x="2088.00" y="874.91" width="18.20" height="18.17" fill="#bb2959"/>
<rect x="2105.90" y="874.91" width="18.20" height="18.17" fill="#bb2050"/>
<rect x="2123.80" y="874.91" width="18.20" height="18.17" fill="#bb1949"/>
<rect x="2141.70" y="874.91" width="18.20" height="18.17" fill="#bb1243"/>
<rect x="2159.60" y="874.91" width="18.20" height="18.17" fill="#bb0d3e"/>
<rect x="2177.50" y="874.91" width="18.20" height="18.17" fill="#bb093a"/>
<rect x="2195.40" y="874.91" width="71.60" height="18.17" fill="#bb0737"/>
<rect x="1730.00" y="892.78" width="18.20" height="18.17" fill="#5c0897"/>
<rect x="1747.90" y="892.78" width="18.20" height="18.17" fill="#5d0897"/>
<rect x="1765.80" y="892.78" width="36.10" height="18.17" fill="#5d0997"/>
<rect x="1801.60" y="892.78" width="18.20" height="18.17" fill="#5e0997"/>
<rect x="1819.50" y="892.78" width="18.20" height="18.17" fill="#5e0a97"/>
<rect x="1837.40" y="892.78" width="36.10" height="18.17" fill="#5f0a97"/>
<rect x="1873.20" y="892.78" width="18.20" height="18.17" fill="#5f0b97"/>
<rect x="1891.10" y="892.78" width="18.20" height="18.17" fill="#5f0a97"/>
<rect x="1909.00" y="892.78" width="18.20" height="18.17" fill="#5e0997"/>
<rect x="1926.90" y="892.78" width="18.20" height="18.17" fill="#5f0a97"/>
<rect x="1944.80" y="892.78" width="18.20" height="18.17" fill="#620d97"/>
<rect x="1962.70" y="892.78" width="18.20" height="18.17" fill="#671297"/>
<rect x="1980.60" y="892.78" width="18.20" height="18.17" fill="#6f1a97"/>
<rect x="1998.50" y="892.78" width="18.20" height="18.17" fill="#731e97"/>
<rect x="2016.40" y="892.78" width="18.20" height="18.17" fill="#842f97"/>
<rect x="2034.30" y="892.78" width="18.20" height="18.17" fill="#b25d97"/>
<rect x="2052.20" y="892.78" width="18.20" height="18.17" fill="#bb5181"/>
<rect x="2070.10" y="892.78" width="18.20" height="18.17" fill="#bb3a6a"/>
<rect x="2088.00" y="892.78" width="18.20" height="18.17" fill="#bb2d5e"/>
<rect x="2105.90" y="892.78" width="18.20" height="18.17" fill="#bb2353"/>
<rect x="2123.80" y="892.78" width="18.20" height="18.17" fill="#bb1a4b"/>
<rect x="2141.70" y="892.78" width="18.20" height="18.17" fill="#bb1344"/>
<rect x="2159.60" y="892.78" width="18.20" height="18.17" fill="#bb0e3f"/>
<rect x="2177.50" y="892.78" width="18.20" height="18.17" fill="#bb0a3a"/>
<rect x="2195.40" y="892.78" width="71.60" height="18.17" fill="#bb0737"/>
<rect x="1730.00" y="910.65" width="36.10" height="18.17" fill="#620e97"/>
<rect x="1765.80" y="910.65" width="36.10" height="18.17" fill="#620d97"/>
<rect x="1801.60" y="910.65" width="18.20" height="18.17" fill="#630e97"/>
<rect x="1819.50" y="910.65" width="18.20" height="18.17" fill="#640f97"/>
<rect x="1837.40" y="910.65" width="36.10" height="18.17" fill="#651197"/>
<rect x="1873.20" y="910.65" width="18.20" height="18.17" fill="#641097"/>
<rect x="1891.10" y="910.65" width="18.20" height="18.17" fill="#620d97"/>
<rect x="1909.00" y="910.65" width="36.10" height="18.17" fill="#5f0a97"/>
<rect x="1944.80" y="910.65" width="18.20" height="18.17" fill="#610c97"/>
<rect x="1962.70" y="910.65" width="18.20" height="18.17" fill="#651097"/>
<rect x="1980.60" y="910.65" width="18.20" height="18.17" fill="#6a1597"/>
<rect x="1998.50" y="910.65" width="18.20" height="18.17" fill="#6c1797"/>
<rect x="2016.40" y="910.65" width="18.20" height="18.17" fill="#6a1697"/>
<rect x="2034.30" y="910.65" width="18.20" height="18.17" fill="#964197"/>
<rect x="2052.20" y="910.65" width="18.20" height="18.17" fill="#bb6494"/>
<rect x="2070.10" y="910.65" width="18.20" height="18.17" fill="#bb4676"/>
<rect x="2088.00" y="910.65" width="18.20" height="18.17" fill="#bb3666"/>
<rect x="2105.90" y="910.65" width="18.20" height="18.17" fill="#bb2959"/>
<rect x="2123.80" y="910.65" width="18.20" height="18.17" fill="#bb1e4e"/>
<rect x="2141.70" y="910.65" width="18.20" height="18.17" fill="#bb1546"/>
<rect x="2159.60" y="910.65" width="18.20" height="18.17" fill="#bb0f40"/>
<rect x="2177.50" y="910.65" width="18.20" height="18.17" fill="#bb0b3b"/>
<rect x="2195.40" y="910.65" width="18.20" height="18.17" fill="#bb0838"/>
<rect x="2213.30" y="910.65" width="53.70" height="18.17" fill="#bb0737"/>
<rect x="1730.00" y="928.51" width="18.20" height="18.17" fill="#671297"/>
<rect x="1747.90" y="928.51" width="18.20" height="18.17" fill="#661297"/>
<rect x="1765.80" y="928.51" width="18.20" height="18.17" fill="#651197"/>
<rect x="1783.70" y="928.51" width="18.20" height="18.17" fill="#661297"/>
<rect x="1801.60" y="928.51" width="18.20" height="18.17" fill="#691497"/>
<rect x="1819.50" y="928.51" width="18.20" height="18.17" fill="#6b1697"/>
<rect x="1837.40" y="928.51" width="18.20" height="18.17" fill="#6c1797"/>
<rect x="1855.30" y="928.51" width="18.20" height="18.17" fill="#6b1797"/>
<rect x="1873.20" y="928.51" width="18.20" height="18.17" fill="#691497"/>
<rect x="1891.10" y="928.51" width="18.20" height="18.17" fill="#661297"/>
<rect x="1909.00" y="928.51" width="18.20" height="18.17" fill="#630e97"/>
<rect x="1926.90" y="928.51" width="18.20" height="18.17" fill="#620e97"/>
<rect x="1944.80" y="928.51" width="18.20" height="18.17" fill="#641097"/>
<rect x="1962.70" y="928.51" width="18.20" height="18.17" fill="#671297"/>
<rect x="1980.60" y="928.51" width="18.20" height="18.17" fill="#6a1697"/>
<rect x="1998.50" y="928.51" width="18.20" height="18.17" fill="#6c1797"/>
<rect x="2016.40" y="928.51" width="18.20" height="18.17" fill="#6b1797"/>
<rect x="2034.30" y="928.51" width="18.20" height="18.17" fill="#7d2997"/>
<rect x="2052.20" y="928.51" width="18.20" height="18.17" fill="#b25d97"/>
<rect x="2070.10" y="928.51" width="18.20" height="18.17" fill="#bb5181"/>
<rect x="2088.00" y="928.51" width="18.20" height="18.17" fill="#bb3c6d"/>
<rect x="2105.90" y="928.51" width="18.20" height="18.17" fill="#bb3060"/>
<rect x="2123.80" y="928.51" width="18.20" height="18.17" fill="#bb2253"/>
<rect x="2141.70" y="928.51" width="18.20" height="18.17" fill="#bb1849"/>
<rect x="2159.60" y="928.51" width="18.20" height="18.17" fill="#bb1142"/>
<rect x="2177.50" y="928.51" width="18.20" height="18.17" fill="#bb0c3d"/>
<rect x="2195.40" y="928.51" width="18.20" height="18.17" fill="#bb0939"/>
<rect x="2213.30" y="928.51" width="53.70" height="18.17" fill="#bb0738"/>
<rect x="1730.00" y="946.38" width="18.20" height="18.17" fill="#691497"/>
<rect x="1747.90" y="946.38" width="36.10" height="18.17" fill="#681497"/>
<rect x="1783.70" y="946.38" width="18.20" height="18.17" fill="#6b1697"/>
<rect x="1801.60" y="946.38" width="18.20" height="18.17" fill="#701c97"/>
<rect x="1819.50" y="946.38" width="18.20" height="18.17" fill="#731e97"/>
<rect x="1837.40" y="946.38" width="18.20" height="18.17" fill="#721d97"/>
<rect x="1855.30" y="946.38" width="18.20" height="18.17" fill="#701c97"/>
<rect x="1873.20" y="946.38" width="18.20" height="18.17" fill="#6e1a97"/>
<rect x="1891.10" y="946.38" width="18.20" height="18.17" fill="#6c1897"/>
<rect x="1909.00" y="946.38" width="36.10" height="18.17" fill="#6a1697"/>
<rect x="1944.80" y="946.38" width="18.20" height="18.17" fill="#6c1797"/>
<rect x="1962.70" y="946.38" width="18.20" height="18.17" fill="#6d1997"/>
<rect x="1980.60" y="946.38" width="18.20" height="18.17" fill="#701b97"/>
<rect x="1998.50" y="946.38" width="18.20" height="18.17" fill="#731e97"/>
<rect x="2016.40" y="946.38" width="18.20" height="18.17" fill="#752097"/>
<rect x="2034.30" y="946.38" width="18.20" height="18.17" fill="#7b2697"/>
<rect x="2052.20" y="946.38" width="18.20" height="18.17" fill="#a75297"/>
<rect x="2070.10" y="946.38" width="18.20" height="18.17" fill="#bb598a"/>
<rect x="2088.00" y="946.38" width="18.20" height="18.17" fill="#bb4172"/>
<rect x="2105.90" y="946.38" width="18.20" height="18.17" fill="#bb3868"/>
<rect x="2123.80" y="946.38" width="18.20" height="18.17" fill="#bb2859"/>
<rect x="2141.70" y="946.38" width="18.20" height="18.17" fill="#bb1d4d"/>
<rect x="2159.60" y="946.38" width="18.20" height="18.17" fill="#bb1445"/>
<rect x="2177.50" y="946.38" width="18.20" height="18.17" fill="#bb0e3f"/>
<rect x="2195.40" y="946.38" width="18.20" height="18.17" fill="#bb0a3b"/>
<rect x="2213.30" y="946.38" width="53.70" height="18.17" fill="#bb0839"/>
<rect x="1730.00" y="964.25" width="18.20" height="18.17" fill="#6a1597"/>
<rect x="1747.90" y="964.25" width="18.20" height="18.17" fill="#691497"/>
<rect x="1765.80" y="964.25" width="18.20" height="18.17" fill="#681397"/>
<rect x="1783.70" y="964.25" width="18.20" height="18.17" fill="#6a1697"/>
<rect x="1801.60" y="964.25" width="18.20" height="18.17" fill="#701b97"/>
<rect x="1819.50" y="964.25" width="18.20" height="18.17" fill="#721e97"/>
<rect x="1837.40" y="964.25" width="18.20" height="18.17" fill="#721d97"/>
<rect x="1855.30" y="964.25" width="18.20" height="18.17" fill="#711d97"/>
<rect x="1873.20" y="964.25" width="18.20" height="18.17" fill="#711c97"/>
<rect x="1891.10" y="964.25" width="18.20" height="18.17" fill="#701c97"/>
<rect x="1909.00" y="964.25" width="18.20" height="18.17" fill="#6f1a97"/>
<rect x="1926.90" y="964.25" width="36.10" height="18.17" fill="#6e1a97"/>
<rect x="1962.70" y="964.25" width="18.20" height="18.17" fill="#6f1a97"/>
<rect x="1980.60" y="964.25" width="18.20" height="18.17" fill="#701c97"/>
<rect x="1998.50" y="964.25" width="18.20" height="18.17" fill="#731f97"/>
<rect x="2016.40" y="964.25" width="18.20" height="18.17" fill="#772297"/>
<rect x="2034.30" y="964.25" width="18.20" height="18.17" fill="#782497"/>
<rect x="2052.20" y="964.25" width="18.20" height="18.17" fill="#a44f97"/>
<rect x="2070.10" y="964.25" width="18.20" height="18.17" fill="#bb6394"/>
<rect x="2088.00" y="964.25" width="18.20" height="18.17" fill="#bb4778"/>
<rect x="2105.90" y="964.25" width="18.20" height="18.17" fill="#bb3f70"/>
<rect x="2123.80" y="964.25" width="18.20" height="18.17" fill="#bb2e5f"/>
<rect x="2141.70" y="964.25" width="18.20" height="18.17" fill="#bb2152"/>
<rect x="2159.60" y="964.25" width="18.20" height="18.17" fill="#bb1848"/>
<rect x="2177.50" y="964.25" width="18.20" height="18.17" fill="#bb1141"/>
<rect x="2195.40" y="964.25" width="18.20" height="18.17" fill="#bb0c3c"/>
<rect x="2213.30" y="964.25" width="18.20" height="18.17" fill="#bb093a"/>
<rect x="2231.20" y="964.25" width="35.80" height="18.17" fill="#bb0939"/>
<rect x="1730.00" y="982.12" width="18.20" height="18.17" fill="#6a1597"/>
<rect x="1747.90" y="982.12" width="18.20" height="18.17" fill="#681397"/>
<rect x="1765.80" y="982.12" width="36.10" height="18.17" fill="#651097"/>
<rect x="1801.60" y="982.12" width="18.20" height="18.17" fill="#671397"/>
<rect x="1819.50" y="982.12" width="18.20" height="18.17" fill="#691597"/>
<rect x="1837.40" y="982.12" width="18.20" height="18.17" fill="#6b1797"/>
<rect x="1855.30" y="982.12" width="18.20" height="18.17" fill="#6e1997"/>
<rect x="1873.20" y="982.12" width="18.20" height="18.17" fill="#711d97"/>
<rect x="1891.10" y="982.12" width="18.20" height="18.17" fill="#721d97"/>
<rect x="1909.00" y="982.12" width="18.20" height="18.17" fill="#701c97"/>
<rect x="1926.90" y="982.12" width="18.20" height="18.17" fill="#6e1a97"/>
<rect x="1944.80" y="982.12" width="18.20" height="18.17" fill="#6c1897"/>
<rect x="1962.70" y="982.12" width="18.20" height="18.17" fill="#6b1797"/>
<rect x="1980.60" y="982.12" width="18.20" height="18.17" fill="#6c1797"/>
<rect x="1998.50" y="982.12" width="18.20" height="18.17" fill="#6e1997"/>
<rect x="2016.40" y="982.12" width="18.20" height="18.17" fill="#711d97"/>
<rect x="2034.30" y="982.12" width="18.20" height="18.17" fill="#711c97"/>
<rect x="2052.20" y="982.12" width="18.20" height="18.17" fill="#7e2a97"/>
<rect x="2070.10" y="982.12" width="18.20" height="18.17" fill="#b25d97"/>
<rect x="2088.00" y="982.12" width="18.20" height="18.17" fill="#bb5181"/>
<rect x="2105.90" y="982.12" width="18.20" height="18.17" fill="#bb4676"/>
<rect x="2123.80" y="982.12" width="18.20" height="18.17" fill="#bb3464"/>
<rect x="2141.70" y="982.12" width="18.20" height="18.17" fill="#bb2657"/>
<rect x="2159.60" y="982.12" width="18.20" height="18.17" fill="#bb1c4d"/>
<rect x="2177.50" y="982.12" width="18.20" height="18.17" fill="#bb1444"/>
<rect x="2195.40" y="982.12" width="18.20" height="18.17" fill="#bb0d3e"/>
<rect x="2213.30" y="982.12" width="18.20" height="18.17" fill="#bb0a3b"/>
<rect x="2231.20" y="982.12" width="18.20" height="18.17" fill="#bb093a"/>
<rect x="2249.10" y="982.12" width="17.90" height="18.17" fill="#bb0939"/>
<rect x="1730.00" y="999.99" width="18.20" height="18.17" fill="#6a1597"/>
<rect x="1747.90" y="999.99" width="18.20" height="18.17" fill="#681397"/>
<rect x="1765.80" y="999.99" width="18.20" height="18.17" fill="#651097"/>
<rect x="1783.70" y="999.99" width="18.20" height="18.17" fill="#640f97"/>
<rect x="1801.60" y="999.99" width="18.20" height="18.17" fill="#651097"/>
<rect x="1819.50" y="999.99" width="18.20" height="18.17" fill="#661297"/>
<rect x="1837.40" y="999.99" width="18.20" height="18.17" fill="#691597"/>
<rect x="1855.30" y="999.99" width="18.20" height="18.17" fill="#6d1997"/>
<rect x="1873.20" y="999.99" width="18.20" height="18.17" fill="#721e97"/>
<rect x="1891.10" y="999.99" width="18.20" height="18.17" fill="#741f97"/>
<rect x="1909.00" y="999.99" width="18.20" height="18.17" fill="#721d97"/>
<rect x="1926.90" y="999.99" width="18.20" height="18.17" fill="#6f1b97"/>
<rect x="1944.80" y="999.99" width="18.20" height="18.17" fill="#6d1897"/>
<rect x="1962.70" y="999.99" width="18.20" height="18.17" fill="#6c1797"/>
<rect x="1980.60" y="999.99" width="18.20" height="18.17" fill="#6d1897"/>
<rect x="1998.50" y="999.99" width="18.20" height="18.17" fill="#6f1a97"/>
<rect x="2016.40" y="999.99" width="18.20" height="18.17" fill="#721d97"/>
<rect x="2034.30" y="999.99" width="18.20" height="18.17" fill="#6f1b97"/>
<rect x="2052.20" y="999.99" width="18.20" height="18.17" fill="#6c1797"/>
<rect x="2070.10" y="999.99" width="18.20" height="18.17" fill="#9a4597"/>
<rect x="2088.00" y="999.99" width="18.20" height="18.17" fill="#bb598a"/>
<rect x="2105.90" y="999.99" width="18.20" height="18.17" fill="#bb4273"/>
<rect x="2123.80" y="999.99" width="18.20" height="18.17" fill="#bb3263"/>
<rect x="2141.70" y="999.99" width="18.20" height="18.17" fill="#bb2556"/>
<rect x="2159.60" y="999.99" width="18.20" height="18.17" fill="#bb1c4c"/>
<rect x="2177.50" y="999.99" width="18.20" height="18.17" fill="#bb1445"/>
<rect x="2195.40" y="999.99" width="18.20" height="18.17" fill="#bb0e3e"/>
<rect x="2213.30" y="999.99" width="18.20" height="18.17" fill="#bb0a3b"/>
<rect x="2231.20" y="999.99" width="18.20" height="18.17" fill="#bb093a"/>
<rect x="2249.10" y="999.99" width="17.90" height="18.17" fill="#bb0939"/>
<rect x="1730.00" y="1017.85" width="18.20" height="18.17" fill="#6a1597"/>
<rect x="1747.90" y="1017.85" width="18.20" height="18.17" fill="#691497"/>
<rect x="1765.80" y="1017.85" width="54.00" height="18.17" fill="#681397"/>
<rect x="1819.50" y="1017.85" width="18.20" height="18.17" fill="#691597"/>
<rect x="1837.40" y="1017.85" width="18.20" height="18.17" fill="#6c1797"/>
<rect x="1855.30" y="1017.85" width="18.20" height="18.17" fill="#6f1b97"/>
<rect x="1873.20" y="1017.85" width="18.20" height="18.17" fill="#742097"/>
<rect x="1891.10" y="1017.85" width="18.20" height="18.17" fill="#762197"/>
<rect x="1909.00" y="1017.85" width="18.20" height="18.17" fill="#741f97"/>
<rect x="1926.90" y="1017.85" width="18.20" height="18.17" fill="#721d97"/>
<rect x="1944.80" y="1017.85" width="18.20" height="18.17" fill="#6f1b97"/>
<rect x="1962.70" y="1017.85" width="18.20" height="18.17" fill="#701b97"/>
<rect x="1980.60" y="1017.85" width="18.20" height="18.17" fill="#731e97"/>
<rect x="1998.50" y="1017.85" width="18.20" height="18.17" fill="#762197"/>
<rect x="2016.40" y="1017.85" width="18.20" height="18.17" fill="#792497"/>
<rect x="2034.30" y="1017.85" width="18.20" height="18.17" fill="#741f97"/>
<rect x="2052.20" y="1017.85" width="18.20" height="18.17" fill="#671397"/>
<rect x="2070.10" y="1017.85" width="18.20" height="18.17" fill="#933e97"/>
<rect x="2088.00" y="1017.85" width="18.20" height="18.17" fill="#bb6091"/>
<rect x="2105.90" y="1017.85" width="18.20" height="18.17" fill="#bb4373"/>
<rect x="2123.80" y="1017.85" width="18.20" height="18.17" fill="#bb2c5d"/>
<rect x="2141.70" y="1017.85" width="18.20" height="18.17" fill="#bb1f4f"/>
<rect x="2159.60" y="1017.85" width="18.20" height="18.17" fill="#bb1748"/>
<rect x="2177.50" y="1017.85" width="18.20" height="18.17" fill="#bb1142"/>
<rect x="2195.40" y="1017.85" width="18.20" height="18.17" fill="#bb0d3d"/>
<rect x="2213.30" y="1017.85" width="18.20" height="18.17" fill="#bb0a3b"/>
<rect x="2231.20" y="1017.85" width="18.20" height="18.17" fill="#bb093a"/>
<rect x="2249.10" y="1017.85" width="17.90" height="18.17" fill="#bb0939"/>
<rect x="1730.00" y="1035.72" width="18.20" height="18.17" fill="#6a1597"/>
<rect x="1747.90" y="1035.72" width="18.20" height="18.17" fill="#691597"/>
<rect x="1765.80" y="1035.72" width="36.10" height="18.17" fill="#681497"/>
<rect x="1801.60" y="1035.72" width="18.20" height="18.17" fill="#691597"/>
<rect x="1819.50" y="1035.72" width="18.20" height="18.17" fill="#6a1697"/>
<rect x="1837.40" y="1035.72" width="18.20" height="18.17" fill="#6c1797"/>
<rect x="1855.30" y="1035.72" width="18.20" height="18.17" fill="#6f1a97"/>
<rect x="1873.20" y="1035.72" width="18.20" height="18.17" fill="#721e97"/>
<rect x="1891.10" y="1035.72" width="18.20" height="18.17" fill="#741f97"/>
<rect x="1909.00" y="1035.72" width="18.20" height="18.17" fill="#721d97"/>
<rect x="1926.90" y="1035.72" width="18.20" height="18.17" fill="#701c97"/>
<rect x="1944.80" y="1035.72" width="18.20" height="18.17" fill="#6f1a97"/>
<rect x="1962.70" y="1035.72" width="18.20" height="18.17" fill="#6f1b97"/>
<rect x="1980.60" y="1035.72" width="18.20" height="18.17" fill="#721d97"/>
<rect x="1998.50" y="1035.72" width="18.20" height="18.17" fill="#742097"/>
<rect x="2016.40" y="1035.72" width="18.20" height="18.17" fill="#772397"/>
<rect x="2034.30" y="1035.72" width="18.20" height="18.17" fill="#731e97"/>
<rect x="2052.20" y="1035.72" width="18.20" height="18.17" fill="#671297"/>
<rect x="2070.10" y="1035.72" width="18.20" height="18.17" fill="#8d3897"/>
<rect x="2088.00" y="1035.72" width="18.20" height="18.17" fill="#bb6494"/>
<rect x="2105.90" y="1035.72" width="18.20" height="18.17" fill="#bb4676"/>
<rect x="2123.80" y="1035.72" width="18.20" height="18.17" fill="#bb2e5e"/>
<rect x="2141.70" y="1035.72" width="18.20" height="18.17" fill="#bb1e4f"/>
<rect x="2159.60" y="1035.72" width="18.20" height="18.17" fill="#bb1647"/>
<rect x="2177.50" y="1035.72" width="18.20" height="18.17" fill="#bb1041"/>
<rect x="2195.40" y="1035.72" width="18.20" height="18.17" fill="#bb0c3d"/>
<rect x="2213.30" y="1035.72" width="18.20" height="18.17" fill="#bb0a3b"/>
<rect x="2231.20" y="1035.72" width="18.20" height="18.17" fill="#bb093a"/>
<rect x="2249.10" y="1035.72" width="17.90" height="18.17" fill="#bb0939"/>
<rect x="1730.00" y="1053.59" width="18.20" height="18.17" fill="#6a1597"/>
<rect x="1747.90" y="1053.59" width="18.20" height="18.17" fill="#681497"/>
<rect x="1765.80" y="1053.59" width="36.10" height="18.17" fill="#661297"/>
<rect x="1801.60" y="1053.59" width="18.20" height="18.17" fill="#681497"/>
<rect x="1819.50" y="1053.59" width="18.20" height="18.17" fill="#6a1597"/>
<rect x="1837.40" y="1053.59" width="18.20" height="18.17" fill="#6a1697"/>
<rect x="1855.30" y="1053.59" width="18.20" height="18.17" fill="#6b1797"/>
<rect x="1873.20" y="1053.59" width="36.10" height="18.17" fill="#6d1897"/>
<rect x="1909.00" y="1053.59" width="18.20" height="18.17" fill="#6c1897"/>
<rect x="1926.90" y="1053.59" width="18.20" height="18.17" fill="#6c1797"/>
<rect x="1944.80" y="1053.59" width="18.20" height="18.17" fill="#6b1797"/>
<rect x="1962.70" y="1053.59" width="18.20" height="18.17" fill="#6a1697"/>
<rect x="1980.60" y="1053.59" width="18.20" height="18.17" fill="#691597"/>
<rect x="1998.50" y="1053.59" width="18.20" height="18.17" fill="#6a1697"/>
<rect x="2016.40" y="1053.59" width="18.20" height="18.17" fill="#6d1997"/>
<rect x="2034.30" y="1053.59" width="18.20" height="18.17" fill="#6c1797"/>
<rect x="2052.20" y="1053.59" width="18.20" height="18.17" fill="#671297"/>
<rect x="2070.10" y="1053.59" width="18.20" height="18.17" fill="#903b97"/>
<rect x="2088.00" y="1053.59" width="18.20" height="18.17" fill="#bb6494"/>
<rect x="2105.90" y="1053.59" width="18.20" height="18.17" fill="#bb4676"/>
<rect x="2123.80" y="1053.59" width="18.20" height="18.17" fill="#bb2e5e"/>
<rect x="2141.70" y="1053.59" width="18.20" height="18.17" fill="#bb1e4f"/>
<rect x="2159.60" y="1053.59" width="18.20" height="18.17" fill="#bb1647"/>
<rect x="2177.50" y="1053.59" width="18.20" height="18.17" fill="#bb1041"/>
<rect x="2195.40" y="1053.59" width="18.20" height="18.17" fill="#bb0c3d"/>
<rect x="2213.30" y="1053.59" width="18.20" height="18.17" fill="#bb0a3b"/>
<rect x="2231.20" y="1053.59" width="18.20" height="18.17" fill="#bb093a"/>
<rect x="2249.10" y="1053.59" width="17.90" height="18.17" fill="#bb0939"/>
<rect x="1730.00" y="1071.46" width="18.20" height="18.17" fill="#6a1597"/>
<rect x="1747.90" y="1071.46" width="18.20" height="18.17" fill="#681497"/>
<rect x="1765.80" y="1071.46" width="36.10" height="18.17" fill="#661297"/>
<rect x="1801.60" y="1071.46" width="18.20" height="18.17" fill="#681497"/>
<rect x="1819.50" y="1071.46" width="107.70" height="18.17" fill="#6a1597"/>
<rect x="1926.90" y="1071.46" width="18.20" height="18.17" fill="#6a1697"/>
<rect x="1944.80" y="1071.46" width="18.20" height="18.17" fill="#6c1797"/>
<rect x="1962.70" y="1071.46" width="18.20" height="18.17" fill="#6b1697"/>
<rect x="1980.60" y="1071.46" width="18.20" height="18.17" fill="#691497"/>
<rect x="1998.50" y="1071.46" width="18.20" height="18.17" fill="#681397"/>
<rect x="2016.40" y="1071.46" width="36.10" height="18.17" fill="#691497"/>
<rect x="2052.20" y="1071.46" width="18.20" height="18.17" fill="#671397"/>
<rect x="2070.10" y="1071.46" width="18.20" height="18.17" fill="#964197"/>
<rect x="2088.00" y="1071.46" width="18.20" height="18.17" fill="#bb6292"/>
<rect x="2105.90" y="1071.46" width="18.20" height="18.17" fill="#bb4475"/>
<rect x="2123.80" y="1071.46" width="18.20" height="18.17" fill="#bb2d5e"/>
<rect x="2141.70" y="1071.46" width="18.20" height="18.17" fill="#bb1e4e"/>
<rect x="2159.60" y="1071.46" width="18.20" height="18.17" fill="#bb1647"/>
<rect x="2177.50" y="1071.46" width="18.20" height="18.17" fill="#bb1041"/>
<rect x="2195.40" y="1071.46" width="18.20" height="18.17" fill="#bb0c3d"/>
<rect x="2213.30" y="1071.46" width="18.20" height="18.17" fill="#bb0a3b"/>
<rect x="2231.20" y="1071.46" width="18.20" height="18.17" fill="#bb093a"/>
<rect x="2249.10" y="1071.46" width="17.90" height="18.17" fill="#bb0939"/>
<rect x="1730.00" y="1089.32" width="18.20" height="18.17" fill="#6a1597"/>
<rect x="1747.90" y="1089.32" width="18.20" height="18.17" fill="#691597"/>
<rect x="1765.80" y="1089.32" width="36.10" height="18.17" fill="#681497"/>
<rect x="1801.60" y="1089.32" width="18.20" height="18.17" fill="#691597"/>
<rect x="1819.50" y="1089.32" width="107.70" height="18.17" fill="#6a1597"/>
<rect x="1926.90" y="1089.32" width="18.20" height="18.17" fill="#6c1797"/>
<rect x="1944.80" y="1089.32" width="18.20" height="18.17" fill="#6f1b97"/>
<rect x="1962.70" y="1089.32" width="18.20" height="18.17" fill="#711c97"/>
<rect x="1980.60" y="1089.32" width="18.20" height="18.17" fill="#701c97"/>
<rect x="1998.50" y="1089.32" width="18.20" height="18.17" fill="#6e1a97"/>
<rect x="2016.40" y="1089.32" width="18.20" height="18.17" fill="#6b1797"/>
<rect x="2034.30" y="1089.32" width="18.20" height="18.17" fill="#691597"/>
<rect x="2052.20" y="1089.32" width="18.20" height="18.17" fill="#691497"/>
<rect x="2070.10" y="1089.32" width="18.20" height="18.17" fill="#9a4697"/>
<rect x="2088.00" y="1089.32" width="18.20" height="18.17" fill="#bb6091"/>
<rect x="2105.90" y="1089.32" width="18.20" height="18.17" fill="#bb4373"/>
<rect x="2123.80" y="1089.32" width="18.20" height="18.17" fill="#bb2c5d"/>
<rect x="2141.70" y="1089.32" width="18.20" height="18.17" fill="#bb1d4e"/>
<rect x="2159.60" y="1089.32" width="18.20" height="18.17" fill="#bb1646"/>
<rect x="2177.50" y="1089.32" width="18.20" height="18.17" fill="#bb1040"/>
<rect x="2195.40" y="1089.32" width="18.20" height="18.17" fill="#bb0c3d"/>
<rect x="2213.30" y="1089.32" width="18.20" height="18.17" fill="#bb0a3b"/>
<rect x="2231.20" y="1089.32" width="18.20" height="18.17" fill="#bb093a"/>
<rect x="2249.10" y="1089.32" width="17.90" height="18.17" fill="#bb0939"/>
<rect x="1730.00" y="1107.19" width="161.40" height="18.17" fill="#6b1797"/>
<rect x="1891.10" y="1107.19" width="18.20" height="18.17" fill="#6a1697"/>
<rect x="1909.00" y="1107.19" width="18.20" height="18.17" fill="#691597"/>
<rect x="1926.90" y="1107.19" width="18.20" height="18.17" fill="#6a1697"/>
<rect x="1944.80" y="1107.19" width="18.20" height="18.17" fill="#6e1997"/>
<rect x="1962.70" y="1107.19" width="36.10" height="18.17" fill="#6f1b97"/>
<rect x="1998.50" y="1107.19" width="18.20" height="18.17" fill="#6d1997"/>
<rect x="2016.40" y="1107.19" width="18.20" height="18.17" fill="#6a1597"/>
<rect x="2034.30" y="1107.19" width="18.20" height="18.17" fill="#681497"/>
<rect x="2052.20" y="1107.19" width="18.20" height="18.17" fill="#6b1797"/>
<rect x="2070.10" y="1107.19" width="18.20" height="18.17" fill="#9d4997"/>
<rect x="2088.00" y="1107.19" width="18.20" height="18.17" fill="#bb5d8e"/>
<rect x="2105.90" y="1107.19" width="18.20" height="18.17" fill="#bb4071"/>
<rect x="2123.80" y="1107.19" width="18.20" height="18.17" fill="#bb2a5b"/>
<rect x="2141.70" y="1107.19" width="18.20" height="18.17" fill="#bb1d4d"/>
<rect x="2159.60" y="1107.19" width="18.20" height="18.17" fill="#bb1546"/>
<rect x="2177.50" y="1107.19" width="18.20" height="18.17" fill="#bb0f40"/>
<rect x="2195.40" y="1107.19" width="18.20" height="18.17" fill="#bb0c3d"/>
<rect x="2213.30" y="1107.19" width="18.20" height="18.17" fill="#bb0a3b"/>
<rect x="2231.20" y="1107.19" width="18.20" height="18.17" fill="#bb093a"/>
<rect x="2249.10" y="1107.19" width="17.90" height="18.17" fill="#bb0939"/>
<rect x="1730.00" y="1125.06" width="18.20" height="18.17" fill="#3a3aff"/>
<rect x="1747.90" y="1125.06" width="143.50" height="18.17" fill="#6e1a97"/>
<rect x="1891.10" y="1125.06" width="18.20" height="18.17" fill="#6c1897"/>
<rect x="1909.00" y="1125.06" width="18.20" height="18.17" fill="#681497"/>
<rect x="1926.90" y="1125.06" width="36.10" height="18.17" fill="#661297"/>
<rect x="1962.70" y="1125.06" width="54.00" height="18.17" fill="#661197"/>
<rect x="2016.40" y="1125.06" width="18.20" height="18.17" fill="#651197"/>
<rect x="2034.30" y="1125.06" width="18.20" height="18.17" fill="#661297"/>
<rect x="2052.20" y="1125.06" width="18.20" height="18.17" fill="#6d1897"/>
<rect x="2070.10" y="1125.06" width="18.20" height="18.17" fill="#9f4b97"/>
<rect x="2088.00" y="1125.06" width="18.20" height="18.17" fill="#bb598a"/>
<rect x="2105.90" y="1125.06" width="18.20" height="18.17" fill="#bb3d6e"/>
<rect x="2123.80" y="1125.06" width="18.20" height="18.17" fill="#bb2959"/>
<rect x="2141.70" y="1125.06" width="18.20" height="18.17" fill="#bb1c4c"/>
<rect x="2159.60" y="1125.06" width="18.20" height="18.17" fill="#bb1445"/>
<rect x="2177.50" y="1125.06" width="18.20" height="18.17" fill="#bb0f40"/>
<rect x="2195.40" y="1125.06" width="18.20" height="18.17" fill="#bb0c3d"/>
<rect x="2213.30" y="1125.06" width="18.20" height="18.17" fill="#bb0a3b"/>
<rect x="2231.20" y="1125.06" width="18.20" height="18.17" fill="#bb093a"/>
<rect x="2249.10" y="1125.06" width="17.90" height="18.17" fill="#bb0939"/>
<rect x="1730.00" y="1142.93" width="18.20" height="18.17" fill="#4747ff"/>
<rect x="1747.90" y="1142.93" width="18.20" height="18.17" fill="#731e97"/>
<rect x="1765.80" y="1142.93" width="18.20" height="18.17" fill="#731f97"/>
<rect x="1783.70" y="1142.93" width="18.20" height="18.17" fill="#731e97"/>
<rect x="1801.60" y="1142.93" width="18.20" height="18.17" fill="#721e97"/>
<rect x="1819.50" y="1142.93" width="18.20" height="18.17" fill="#711d97"/>
<rect x="1837.40" y="1142.93" width="18.20" height="18.17" fill="#701c97"/>
<rect x="1855.30" y="1142.93" width="36.10" height="18.17" fill="#701b97"/>
<rect x="1891.10" y="1142.93" width="18.20" height="18.17" fill="#6e1997"/>
<rect x="1909.00" y="1142.93" width="18.20" height="18.17" fill="#6a1697"/>
<rect x="1926.90" y="1142.93" width="18.20" height="18.17" fill="#671397"/>
<rect x="1944.80" y="1142.93" width="18.20" height="18.17" fill="#651097"/>
<rect x="1962.70" y="1142.93" width="18.20" height="18.17" fill="#640f97"/>
<rect x="1980.60" y="1142.93" width="18.20" height="18.17" fill="#641097"/>
<rect x="1998.50" y="1142.93" width="18.20" height="18.17" fill="#661197"/>
<rect x="2016.40" y="1142.93" width="18.20" height="18.17" fill="#681397"/>
<rect x="2034.30" y="1142.93" width="18.20" height="18.17" fill="#691497"/>
<rect x="2052.20" y="1142.93" width="18.20" height="18.17" fill="#6e1997"/>
<rect x="2070.10" y="1142.93" width="18.20" height="18.17" fill="#9f4b97"/>
<rect x="2088.00" y="1142.93" width="18.20" height="18.17" fill="#bb598a"/>
<rect x="2105.90" y="1142.93" width="18.20" height="18.17" fill="#bb3d6e"/>
<rect x="2123.80" y="1142.93" width="18.20" height="18.17" fill="#bb2959"/>
<rect x="2141.70" y="1142.93" width="18.20" height="18.17" fill="#bb1c4c"/>
<rect x="2159.60" y="1142.93" width="18.20" height="18.17" fill="#bb1445"/>
<rect x="2177.50" y="1142.93" width="18.20" height="18.17" fill="#bb0f40"/>
<rect x="2195.40" y="1142.93" width="18.20" height="18.17" fill="#bb0c3d"/>
<rect x="2213.30" y="1142.93" width="18.20" height="18.17" fill="#bb0a3b"/>
<rect x="2231.20" y="1142.93" width="18.20" height="18.17" fill="#bb093a"/>
<rect x="2249.10" y="1142.93" width="17.90" height="18.17" fill="#bb0939"/>
<rect x="1730.00" y="1160.79" width="18.20" height="18.17" fill="#5959ff"/>
<rect x="1747.90" y="1160.79" width="18.20" height="18.17" fill="#6464ff"/>
<rect x="1765.80" y="1160.79" width="18.20" height="18.17" fill="#7a2597"/>
<rect x="1783.70" y="1160.79" width="18.20" height="18.17" fill="#792597"/>
<rect x="1801.60" y="1160.79" width="18.20" height="18.17" fill="#772297"/>
<rect x="1819.50" y="1160.79" width="18.20" height="18.17" fill="#742097"/>
<rect x="1837.40" y="1160.79" width="18.20" height="18.17" fill="#711d97"/>
<rect x="1855.30" y="1160.79" width="36.10" height="18.17" fill="#701b97"/>
<rect x="1891.10" y="1160.79" width="18.20" height="18.17" fill="#6f1b97"/>
<rect x="1909.00" y="1160.79" width="18.20" height="18.17" fill="#6f1a97"/>
<rect x="1926.90" y="1160.79" width="18.20" height="18.17" fill="#6d1897"/>
<rect x="1944.80" y="1160.79" width="18.20" height="18.17" fill="#691597"/>
<rect x="1962.70" y="1160.79" width="18.20" height="18.17" fill="#681497"/>
<rect x="1980.60" y="1160.79" width="18.20" height="18.17" fill="#6a1597"/>
<rect x="1998.50" y="1160.79" width="18.20" height="18.17" fill="#6d1897"/>
<rect x="2016.40" y="1160.79" width="18.20" height="18.17" fill="#711c97"/>
<rect x="2034.30" y="1160.79" width="18.20" height="18.17" fill="#701c97"/>
<rect x="2052.20" y="1160.79" width="18.20" height="18.17" fill="#6f1b97"/>
<rect x="2070.10" y="1160.79" width="18.20" height="18.17" fill="#9e4a97"/>
<rect x="2088.00" y="1160.79" width="18.20" height="18.17" fill="#bb5b8c"/>
<rect x="2105.90" y="1160.79" width="18.20" height="18.17" fill="#bb3f6f"/>
<rect x="2123.80" y="1160.79" width="18.20" height="18.17" fill="#bb295a"/>
<rect x="2141.70" y="1160.79" width="18.20" height="18.17" fill="#bb1c4d"/>
<rect x="2159.60" y="1160.79" width="18.20" height="18.17" fill="#bb1545"/>
<rect x="2177.50" y="1160.79" width="18.20" height="18.17" fill="#bb0f40"/>
<rect x="2195.40" y="1160.79" width="18.20" height="18.17" fill="#bb0c3d"/>
<rect x="2213.30" y="1160.79" width="18.20" height="18.17" fill="#bb0a3b"/>
<rect x="2231.20" y="1160.79" width="18.20" height="18.17" fill="#bb093a"/>
<rect x="2249.10" y="1160.79" width="17.90" height="18.17" fill="#bb0939"/>
<rect x="1730.00" y="1178.66" width="18.20" height="18.17" fill="#5959ff"/>
<rect x="1747.90" y="1178.66" width="18.20" height="18.17" fill="#6464ff"/>
<rect x="1765.80" y="1178.66" width="18.20" height="18.17" fill="#792597"/>
<rect x="1783.70" y="1178.66" width="18.20" height="18.17" fill="#782497"/>
<rect x="1801.60" y="1178.66" width="18.20" height="18.17" fill="#762197"/>
<rect x="1819.50" y="1178.66" width="18.20" height="18.17" fill="#731e97"/>
<rect x="1837.40" y="1178.66" width="18.20" height="18.17" fill="#701b97"/>
<rect x="1855.30" y="1178.66" width="18.20" height="18.17" fill="#6e1997"/>
<rect x="1873.20" y="1178.66" width="18.20" height="18.17" fill="#6d1997"/>
<rect x="1891.10" y="1178.66" width="18.20" height="18.17" fill="#6e1997"/>
<rect x="1909.00" y="1178.66" width="18.20" height="18.17" fill="#6e1a97"/>
<rect x="1926.90" y="1178.66" width="18.20" height="18.17" fill="#6d1897"/>
<rect x="1944.80" y="1178.66" width="18.20" height="18.17" fill="#691497"/>
<rect x="1962.70" y="1178.66" width="18.20" height="18.17" fill="#681397"/>
<rect x="1980.60" y="1178.66" width="18.20" height="18.17" fill="#691597"/>
<rect x="1998.50" y="1178.66" width="18.20" height="18.17" fill="#6c1897"/>
<rect x="2016.40" y="1178.66" width="18.20" height="18.17" fill="#701c97"/>
<rect x="2034.30" y="1178.66" width="18.20" height="18.17" fill="#701b97"/>
<rect x="2052.20" y="1178.66" width="18.20" height="18.17" fill="#6d1897"/>
<rect x="2070.10" y="1178.66" width="18.20" height="18.17" fill="#9c4897"/>
<rect x="2088.00" y="1178.66" width="18.20" height="18.17" fill="#bb5d8e"/>
<rect x="2105.90" y="1178.66" width="18.20" height="18.17" fill="#bb4071"/>
<rect x="2123.80" y="1178.66" width="18.20" height="18.17" fill="#bb2a5b"/>
<rect x="2141.70" y="1178.66" width="18.20" height="18.17" fill="#bb1d4d"/>
<rect x="2159.60" y="1178.66" width="18.20" height="18.17" fill="#bb1546"/>
<rect x="2177.50" y="1178.66" width="18.20" height="18.17" fill="#bb0f40"/>
<rect x="2195.40" y="1178.66" width="18.20" height="18.17" fill="#bb0c3d"/>
<rect x="2213.30" y="1178.66" width="18.20" height="18.17" fill="#bb0a3b"/>
<rect x="2231.20" y="1178.66" width="18.20" height="18.17" fill="#bb093a"/>
<rect x="2249.10" y="1178.66" width="17.90" height="18.17" fill="#bb0939"/>
<rect x="1730.00" y="1196.53" width="18.20" height="18.17" fill="#4f4fff"/>
<rect x="1747.90" y="1196.53" width="18.20" height="18.17" fill="#5252ff"/>
<rect x="1765.80" y="1196.53" width="18.20" height="18.17" fill="#711c97"/>
<rect x="1783.70" y="1196.53" width="18.20" height="18.17" fill="#6f1b97"/>
<rect x="1801.60" y="1196.53" width="18.20" height="18.17" fill="#6e1997"/>
<rect x="1819.50" y="1196.53" width="18.20" height="18.17" fill="#6d1897"/>
<rect x="1837.40" y="1196.53" width="18.20" height="18.17" fill="#6c1797"/>
<rect x="1855.30" y="1196.53" width="18.20" height="18.17" fill="#6a1697"/>
<rect x="1873.20" y="1196.53" width="18.20" height="18.17" fill="#691497"/>
<rect x="1891.10" y="1196.53" width="36.10" height="18.17" fill="#681497"/>
<rect x="1926.90" y="1196.53" width="18.20" height="18.17" fill="#671297"/>
<rect x="1944.80" y="1196.53" width="18.20" height="18.17" fill="#640f97"/>
<rect x="1962.70" y="1196.53" width="18.20" height="18.17" fill="#620e97"/>
<rect x="1980.60" y="1196.53" width="18.20" height="18.17" fill="#630e97"/>
<rect x="1998.50" y="1196.53" width="18.20" height="18.17" fill="#640f97"/>
<rect x="2016.40" y="1196.53" width="18.20" height="18.17" fill="#661197"/>
<rect x="2034.30" y="1196.53" width="18.20" height="18.17" fill="#671297"/>
<rect x="2052.20" y="1196.53" width="18.20" height="18.17" fill="#691497"/>
<rect x="2070.10" y="1196.53" width="18.20" height="18.17" fill="#9a4697"/>
<rect x="2088.00" y="1196.53" width="18.20" height="18.17" fill="#bb5d8e"/>
<rect x="2105.90" y="1196.53" width="18.20" height="18.17" fill="#bb4071"/>
<rect x="2123.80" y="1196.53" width="18.20" height="18.17" fill="#bb2a5b"/>
<rect x="2141.70" y="1196.53" width="18.20" height="18.17" fill="#bb1d4d"/>
<rect x="2159.60" y="1196.53" width="18.20" height="18.17" fill="#bb1546"/>
<rect x="2177.50" y="1196.53" width="18.20" height="18.17" fill="#bb0f40"/>
<rect x="2195.40" y="1196.53" width="18.20" height="18.17" fill="#bb0c3d"/>
<rect x="2213.30" y="1196.53" width="18.20" height="18.17" fill="#bb0a3b"/>
<rect x="2231.20" y="1196.53" width="18.20" height="18.17" fill="#bb093a"/>
<rect x="2249.10" y="1196.53" width="17.90" height="18.17" fill="#bb0939"/>
<rect x="1730.00" y="1214.40" width="36.10" height="18.17" fill="#4040ff"/>
<rect x="1765.80" y="1214.40" width="18.20" height="18.17" fill="#3838ff"/>
<rect x="1783.70" y="1214.40" width="18.20" height="18.17" fill="#6a1697"/>
<rect x="1801.60" y="1214.40" width="18.20" height="18.17" fill="#691597"/>
<rect x="1819.50" y="1214.40" width="36.10" height="18.17" fill="#691497"/>
<rect x="1855.30" y="1214.40" width="18.20" height="18.17" fill="#681397"/>
<rect x="1873.20" y="1214.40" width="36.10" height="18.17" fill="#661297"/>
<rect x="1909.00" y="1214.40" width="36.10" height="18.17" fill="#681397"/>
<rect x="1944.80" y="1214.40" width="18.20" height="18.17" fill="#661197"/>
<rect x="1962.70" y="1214.40" width="18.20" height="18.17" fill="#640f97"/>
<rect x="1980.60" y="1214.40" width="18.20" height="18.17" fill="#630e97"/>
<rect x="1998.50" y="1214.40" width="18.20" height="18.17" fill="#620d97"/>
<rect x="2016.40" y="1214.40" width="18.20" height="18.17" fill="#620e97"/>
<rect x="2034.30" y="1214.40" width="18.20" height="18.17" fill="#630f97"/>
<rect x="2052.20" y="1214.40" width="18.20" height="18.17" fill="#661197"/>
<rect x="2070.10" y="1214.40" width="18.20" height="18.17" fill="#964197"/>
<rect x="2088.00" y="1214.40" width="18.20" height="18.17" fill="#bb6292"/>
<rect x="2105.90" y="1214.40" width="18.20" height="18.17" fill="#bb4475"/>
<rect x="2123.80" y="1214.40" width="18.20" height="18.17" fill="#bb2d5e"/>
<rect x="2141.70" y="1214.40" width="18.20" height="18.17" fill="#bb1e4e"/>
<rect x="2159.60" y="1214.40" width="18.20" height="18.17" fill="#bb1647"/>
<rect x="2177.50" y="1214.40" width="18.20" height="18.17" fill="#bb1041"/>
<rect x="2195.40" y="1214.40" width="18.20" height="18.17" fill="#bb0c3d"/>
<rect x="2213.30" y="1214.40" width="18.20" height="18.17" fill="#bb0a3b"/>
<rect x="2231.20" y="1214.40" width="18.20" height="18.17" fill="#bb093a"/>
<rect x="2249.10" y="1214.40" width="17.90" height="18.17" fill="#bb0939"/>
<rect x="1730.00" y="1232.26" width="36.10" height="18.17" fill="#3333ff"/>
<rect x="1765.80" y="1232.26" width="18.20" height="18.17" fill="#3c3cff"/>
<rect x="1783.70" y="1232.26" width="18.20" height="18.17" fill="#691597"/>
<rect x="1801.60" y="1232.26" width="18.20" height="18.17" fill="#671397"/>
<rect x="1819.50" y="1232.26" width="36.10" height="18.17" fill="#671297"/>
<rect x="1855.30" y="1232.26" width="18.20" height="18.17" fill="#661297"/>
<rect x="1873.20" y="1232.26" width="18.20" height="18.17" fill="#661197"/>
<rect x="1891.10" y="1232.26" width="18.20" height="18.17" fill="#681397"/>
<rect x="1909.00" y="1232.26" width="18.20" height="18.17" fill="#6c1897"/>
<rect x="1926.90" y="1232.26" width="36.10" height="18.17" fill="#6f1a97"/>
<rect x="1962.70" y="1232.26" width="18.20" height="18.17" fill="#6d1897"/>
<rect x="1980.60" y="1232.26" width="18.20" height="18.17" fill="#691497"/>
<rect x="1998.50" y="1232.26" width="18.20" height="18.17" fill="#661297"/>
<rect x="2016.40" y="1232.26" width="18.20" height="18.17" fill="#651197"/>
<rect x="2034.30" y="1232.26" width="18.20" height="18.17" fill="#661197"/>
<rect x="2052.20" y="1232.26" width="18.20" height="18.17" fill="#681397"/>
<rect x="2070.10" y="1232.26" width="18.20" height="18.17" fill="#883497"/>
<rect x="2088.00" y="1232.26" width="18.20" height="18.17" fill="#b35e97"/>
<rect x="2105.90" y="1232.26" width="18.20" height="18.17" fill="#bb5687"/>
<rect x="2123.80" y="1232.26" width="18.20" height="18.17" fill="#bb3464"/>
<rect x="2141.70" y="1232.26" width="18.20" height="18.17" fill="#bb1f50"/>
<rect x="2159.60" y="1232.26" width="18.20" height="18.17" fill="#bb1a4a"/>
<rect x="2177.50" y="1232.26" width="18.20" height="18.17" fill="#bb1344"/>
<rect x="2195.40" y="1232.26" width="18.20" height="18.17" fill="#bb0d3e"/>
<rect x="2213.30" y="1232.26" width="18.20" height="18.17" fill="#bb0a3b"/>
<rect x="2231.20" y="1232.26" width="18.20" height="18.17" fill="#bb093a"/>
<rect x="2249.10" y="1232.26" width="17.90" height="18.17" fill="#bb0939"/>
<rect x="1730.00" y="1250.13" width="36.10" height="17.87" fill="#3030ff"/>
<rect x="1765.80" y="1250.13" width="18.20" height="17.87" fill="#3a3aff"/>
<rect x="1783.70" y="1250.13" width="18.20" height="17.87" fill="#4040ff"/>
<rect x="1801.60" y="1250.13" width="18.20" height="17.87" fill="#671297"/>
<rect x="1819.50" y="1250.13" width="71.90" height="17.87" fill="#661197"/>
<rect x="1891.10" y="1250.13" width="18.20" height="17.87" fill="#691497"/>
<rect x="1909.00" y="1250.13" width="18.20" height="17.87" fill="#6f1a97"/>
<rect x="1926.90" y="1250.13" width="18.20" height="17.87" fill="#721e97"/>
<rect x="1944.80" y="1250.13" width="18.20" height="17.87" fill="#731f97"/>
<rect x="1962.70" y="1250.13" width="18.20" height="17.87" fill="#711d97"/>
<rect x="1980.60" y="1250.13" width="18.20" height="17.87" fill="#6c1897"/>
<rect x="1998.50" y="1250.13" width="18.20" height="17.87" fill="#691497"/>
<rect x="2016.40" y="1250.13" width="36.10" height="17.87" fill="#671297"/>
<rect x="2052.20" y="1250.13" width="18.20" height="17.87" fill="#691497"/>
<rect x="2070.10" y="1250.13" width="18.20" height="17.87" fill="#822d97"/>
<rect x="2088.00" y="1250.13" width="18.20" height="17.87" fill="#a75297"/>
<rect x="2105.90" y="1250.13" width="18.20" height="17.87" fill="#bb5c8d"/>
<rect x="2123.80" y="1250.13" width="18.20" height="17.87" fill="#bb3666"/>
<rect x="2141.70" y="1250.13" width="18.20" height="17.87" fill="#bb2152"/>
<rect x="2159.60" y="1250.13" width="18.20" height="17.87" fill="#bb1d4d"/>
<rect x="2177.50" y="1250.13" width="18.20" height="17.87" fill="#bb1546"/>
<rect x="2195.40" y="1250.13" width="18.20" height="17.87" fill="#bb0f40"/>
<rect x="2213.30" y="1250.13" width="18.20" height="17.87" fill="#bb0a3b"/>
<rect x="2231.20" y="1250.13" width="18.20" height="17.87" fill="#bb093a"/>
<rect x="2249.10" y="1250.13" width="17.90" height="17.87" fill="#bb0939"/>
</g>
<g fill="#000"><circle cx="1852.3" cy="62.5" r="1.45"/><circle cx="1855.5" cy="80.4" r="1.45"/><circle cx="1861.6" cy="98.3" r="1.45"/><circle cx="1866.2" cy="116.1" r="1.45"/><circle cx="1869.3" cy="134.0" r="1.45"/><circle cx="1875.3" cy="151.9" r="1.45"/><circle cx="1886.4" cy="169.7" r="1.45"/><circle cx="1892.4" cy="187.6" r="1.45"/><circle cx="1894.1" cy="205.5" r="1.45"/><circle cx="1896.5" cy="223.3" r="1.45"/><circle cx="1901.3" cy="241.2" r="1.45"/><circle cx="1905.4" cy="259.1" r="1.45"/><circle cx="1905.4" cy="276.9" r="1.45"/><circle cx="1908.5" cy="294.8" r="1.45"/><circle cx="1917.2" cy="312.7" r="1.45"/><circle cx="1924.2" cy="330.5" r="1.45"/><circle cx="1929.2" cy="348.4" r="1.45"/><circle cx="1934.2" cy="366.3" r="1.45"/><circle cx="1939.3" cy="384.2" r="1.45"/><circle cx="1943.4" cy="402.0" r="1.45"/><circle cx="1946.4" cy="419.9" r="1.45"/><circle cx="1950.3" cy="437.8" r="1.45"/><circle cx="1957.5" cy="455.6" r="1.45"/><circle cx="1963.4" cy="473.5" r="1.45"/><circle cx="1969.3" cy="491.4" r="1.45"/><circle cx="1975.2" cy="509.2" r="1.45"/><circle cx="1982.4" cy="527.1" r="1.45"/><circle cx="1991.3" cy="545.0" r="1.45"/><circle cx="1994.6" cy="562.8" r="1.45"/><circle cx="1996.4" cy="580.7" r="1.45"/><circle cx="1999.6" cy="598.6" r="1.45"/><circle cx="2003.5" cy="616.4" r="1.45"/><circle cx="2009.4" cy="634.3" r="1.45"/><circle cx="2012.5" cy="652.2" r="1.45"/><circle cx="2012.5" cy="670.0" r="1.45"/><circle cx="2014.4" cy="687.9" r="1.45"/><circle cx="2018.4" cy="705.8" r="1.45"/><circle cx="2021.4" cy="723.6" r="1.45"/><circle cx="2019.4" cy="741.5" r="1.45"/><circle cx="2018.4" cy="759.4" r="1.45"/><circle cx="2018.4" cy="777.2" r="1.45"/><circle cx="2017.5" cy="795.1" r="1.45"/><circle cx="2015.3" cy="813.0" r="1.45"/><circle cx="2017.5" cy="830.8" r="1.45"/><circle cx="2026.2" cy="848.7" r="1.45"/><circle cx="2031.3" cy="866.6" r="1.45"/><circle cx="2034.3" cy="884.4" r="1.45"/><circle cx="2039.3" cy="902.3" r="1.45"/><circle cx="2050.4" cy="920.2" r="1.45"/><circle cx="2057.2" cy="938.0" r="1.45"/><circle cx="2062.2" cy="955.9" r="1.45"/><circle cx="2068.1" cy="973.8" r="1.45"/><circle cx="2075.3" cy="991.7" r="1.45"/><circle cx="2080.3" cy="1009.5" r="1.45"/><circle cx="2084.2" cy="1027.4" r="1.45"/><circle cx="2086.2" cy="1045.3" r="1.45"/><circle cx="2086.2" cy="1063.1" r="1.45"/><circle cx="2085.1" cy="1081.0" r="1.45"/><circle cx="2084.2" cy="1098.9" r="1.45"/><circle cx="2082.5" cy="1116.7" r="1.45"/><circle cx="2080.3" cy="1134.6" r="1.45"/><circle cx="2080.3" cy="1152.5" r="1.45"/><circle cx="2081.2" cy="1170.3" r="1.45"/><circle cx="2082.5" cy="1188.2" r="1.45"/><circle cx="2082.5" cy="1206.1" r="1.45"/><circle cx="2085.1" cy="1223.9" r="1.45"/><circle cx="2094.3" cy="1241.8" r="1.45"/><circle cx="2100.2" cy="1259.7" r="1.45"/><circle cx="1864.4" cy="109.4" r="1.45"/><circle cx="1882.4" cy="161.5" r="1.45"/><circle cx="1900.4" cy="236.4" r="1.45"/><circle cx="1918.4" cy="314.4" r="1.45"/><circle cx="1935.5" cy="371.7" r="1.45"/><circle cx="1953.5" cy="446.3" r="1.45"/><circle cx="1971.2" cy="498.5" r="1.45"/><circle cx="1989.5" cy="538.3" r="1.45"/><circle cx="2007.3" cy="628.3" r="1.45"/><circle cx="2025.3" cy="846.5" r="1.45"/><circle cx="2043.3" cy="907.4" r="1.45"/><circle cx="2061.3" cy="951.3" r="1.45"/><circle cx="2078.4" cy="1003.3" r="1.45"/><circle cx="2096.4" cy="1246.4" r="1.45"/></g>
</svg>
</body></html>
